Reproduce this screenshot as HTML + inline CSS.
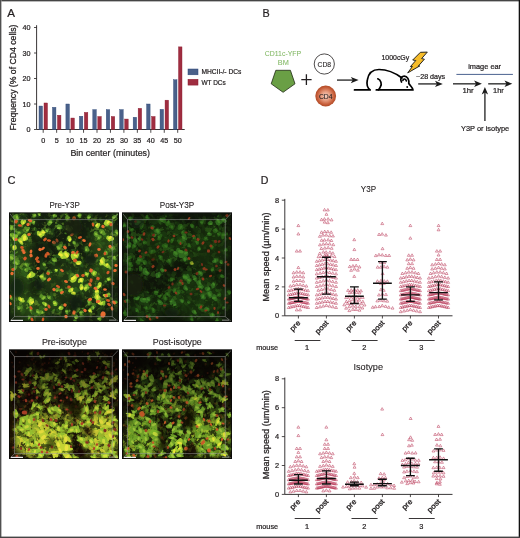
<!DOCTYPE html>
<html><head><meta charset="utf-8"><style>
html,body{margin:0;padding:0;background:#fff;}
body{width:520px;height:538px;overflow:hidden;position:relative;}
svg{position:absolute;left:0;top:0;}
svg text{font-family:"Liberation Sans", sans-serif;}
svg{will-change:transform;}
</style></head><body>
<svg width="520" height="538" viewBox="0 0 520 538">
<rect x="0" y="0" width="520" height="538" fill="#fff"/>
<text x="7.2" y="17" font-size="11.6" text-anchor="start" fill="#231f20" stroke="#231f20" stroke-width="0.22" >A</text>
<line x1="36.6" y1="25.2" x2="36.6" y2="129.5" stroke="#231f20" stroke-width="0.9"/>
<line x1="34.0" y1="129.50" x2="36.6" y2="129.50" stroke="#231f20" stroke-width="0.8"/>
<text x="30.6" y="132.0" font-size="7.2" text-anchor="end" fill="#231f20" stroke="#231f20" stroke-width="0.22" >0</text>
<line x1="34.0" y1="104.00" x2="36.6" y2="104.00" stroke="#231f20" stroke-width="0.8"/>
<text x="30.6" y="106.5" font-size="7.2" text-anchor="end" fill="#231f20" stroke="#231f20" stroke-width="0.22" >10</text>
<line x1="34.0" y1="78.50" x2="36.6" y2="78.50" stroke="#231f20" stroke-width="0.8"/>
<text x="30.6" y="81.0" font-size="7.2" text-anchor="end" fill="#231f20" stroke="#231f20" stroke-width="0.22" >20</text>
<line x1="34.0" y1="53.00" x2="36.6" y2="53.00" stroke="#231f20" stroke-width="0.8"/>
<text x="30.6" y="55.5" font-size="7.2" text-anchor="end" fill="#231f20" stroke="#231f20" stroke-width="0.22" >30</text>
<line x1="34.0" y1="27.50" x2="36.6" y2="27.50" stroke="#231f20" stroke-width="0.8"/>
<text x="30.6" y="30.0" font-size="7.2" text-anchor="end" fill="#231f20" stroke="#231f20" stroke-width="0.22" >40</text>
<line x1="36.6" y1="129.5" x2="184.7" y2="129.5" stroke="#231f20" stroke-width="0.9"/>
<rect x="39.00" y="106.04" width="3.5" height="23.46" fill="#4a618a" stroke="#2c4677" stroke-width="0.4"/>
<rect x="44.00" y="102.98" width="3.5" height="26.52" fill="#9f2d40" stroke="#8a1a2e" stroke-width="0.4"/>
<line x1="43.20" y1="129.5" x2="43.20" y2="132.8" stroke="#231f20" stroke-width="0.8"/>
<text x="43.2" y="142.5" font-size="7.2" text-anchor="middle" fill="#231f20" stroke="#231f20" stroke-width="0.22" >0</text>
<rect x="52.45" y="107.31" width="3.5" height="22.18" fill="#4a618a" stroke="#2c4677" stroke-width="0.4"/>
<rect x="57.45" y="115.22" width="3.5" height="14.28" fill="#9f2d40" stroke="#8a1a2e" stroke-width="0.4"/>
<line x1="56.65" y1="129.5" x2="56.65" y2="132.8" stroke="#231f20" stroke-width="0.8"/>
<text x="56.65" y="142.5" font-size="7.2" text-anchor="middle" fill="#231f20" stroke="#231f20" stroke-width="0.22" >5</text>
<rect x="65.90" y="104.00" width="3.5" height="25.50" fill="#4a618a" stroke="#2c4677" stroke-width="0.4"/>
<rect x="70.90" y="118.03" width="3.5" height="11.47" fill="#9f2d40" stroke="#8a1a2e" stroke-width="0.4"/>
<line x1="70.10" y1="129.5" x2="70.10" y2="132.8" stroke="#231f20" stroke-width="0.8"/>
<text x="70.1" y="142.5" font-size="7.2" text-anchor="middle" fill="#231f20" stroke="#231f20" stroke-width="0.22" >10</text>
<rect x="79.35" y="116.24" width="3.5" height="13.26" fill="#4a618a" stroke="#2c4677" stroke-width="0.4"/>
<rect x="84.35" y="112.41" width="3.5" height="17.09" fill="#9f2d40" stroke="#8a1a2e" stroke-width="0.4"/>
<line x1="83.55" y1="129.5" x2="83.55" y2="132.8" stroke="#231f20" stroke-width="0.8"/>
<text x="83.55" y="142.5" font-size="7.2" text-anchor="middle" fill="#231f20" stroke="#231f20" stroke-width="0.22" >15</text>
<rect x="92.80" y="109.61" width="3.5" height="19.89" fill="#4a618a" stroke="#2c4677" stroke-width="0.4"/>
<rect x="97.80" y="116.50" width="3.5" height="13.00" fill="#9f2d40" stroke="#8a1a2e" stroke-width="0.4"/>
<line x1="97.00" y1="129.5" x2="97.00" y2="132.8" stroke="#231f20" stroke-width="0.8"/>
<text x="97.0" y="142.5" font-size="7.2" text-anchor="middle" fill="#231f20" stroke="#231f20" stroke-width="0.22" >20</text>
<rect x="106.25" y="109.61" width="3.5" height="19.89" fill="#4a618a" stroke="#2c4677" stroke-width="0.4"/>
<rect x="111.25" y="116.50" width="3.5" height="13.00" fill="#9f2d40" stroke="#8a1a2e" stroke-width="0.4"/>
<line x1="110.45" y1="129.5" x2="110.45" y2="132.8" stroke="#231f20" stroke-width="0.8"/>
<text x="110.45" y="142.5" font-size="7.2" text-anchor="middle" fill="#231f20" stroke="#231f20" stroke-width="0.22" >25</text>
<rect x="119.70" y="109.61" width="3.5" height="19.89" fill="#4a618a" stroke="#2c4677" stroke-width="0.4"/>
<rect x="124.70" y="119.05" width="3.5" height="10.45" fill="#9f2d40" stroke="#8a1a2e" stroke-width="0.4"/>
<line x1="123.90" y1="129.5" x2="123.90" y2="132.8" stroke="#231f20" stroke-width="0.8"/>
<text x="123.9" y="142.5" font-size="7.2" text-anchor="middle" fill="#231f20" stroke="#231f20" stroke-width="0.22" >30</text>
<rect x="133.15" y="117.26" width="3.5" height="12.24" fill="#4a618a" stroke="#2c4677" stroke-width="0.4"/>
<rect x="138.15" y="108.34" width="3.5" height="21.16" fill="#9f2d40" stroke="#8a1a2e" stroke-width="0.4"/>
<line x1="137.35" y1="129.5" x2="137.35" y2="132.8" stroke="#231f20" stroke-width="0.8"/>
<text x="137.35" y="142.5" font-size="7.2" text-anchor="middle" fill="#231f20" stroke="#231f20" stroke-width="0.22" >35</text>
<rect x="146.60" y="104.00" width="3.5" height="25.50" fill="#4a618a" stroke="#2c4677" stroke-width="0.4"/>
<rect x="151.60" y="116.50" width="3.5" height="13.00" fill="#9f2d40" stroke="#8a1a2e" stroke-width="0.4"/>
<line x1="150.80" y1="129.5" x2="150.80" y2="132.8" stroke="#231f20" stroke-width="0.8"/>
<text x="150.8" y="142.5" font-size="7.2" text-anchor="middle" fill="#231f20" stroke="#231f20" stroke-width="0.22" >40</text>
<rect x="160.05" y="109.36" width="3.5" height="20.14" fill="#4a618a" stroke="#2c4677" stroke-width="0.4"/>
<rect x="165.05" y="100.17" width="3.5" height="29.32" fill="#9f2d40" stroke="#8a1a2e" stroke-width="0.4"/>
<line x1="164.25" y1="129.5" x2="164.25" y2="132.8" stroke="#231f20" stroke-width="0.8"/>
<text x="164.25" y="142.5" font-size="7.2" text-anchor="middle" fill="#231f20" stroke="#231f20" stroke-width="0.22" >45</text>
<rect x="173.50" y="79.78" width="3.5" height="49.72" fill="#4a618a" stroke="#2c4677" stroke-width="0.4"/>
<rect x="178.50" y="46.88" width="3.5" height="82.62" fill="#9f2d40" stroke="#8a1a2e" stroke-width="0.4"/>
<line x1="177.70" y1="129.5" x2="177.70" y2="132.8" stroke="#231f20" stroke-width="0.8"/>
<text x="177.7" y="142.5" font-size="7.2" text-anchor="middle" fill="#231f20" stroke="#231f20" stroke-width="0.22" >50</text>
<text x="70.4" y="156" font-size="9.6" text-anchor="start" fill="#231f20" stroke="#231f20" stroke-width="0.22" textLength="79.6" lengthAdjust="spacingAndGlyphs" >Bin center (minutes)</text>
<text transform="translate(16.3,77.5) rotate(-90)" x="0" y="0" font-size="9.6" text-anchor="middle" fill="#231f20" stroke="#231f20" stroke-width="0.28" textLength="106" lengthAdjust="spacingAndGlyphs">Frequency (% of CD4 cells)</text>
<rect x="188" y="69" width="10" height="5.8" fill="#4a618a" stroke="#2c4677" stroke-width="0.5"/>
<rect x="188" y="79.3" width="10" height="5.8" fill="#9f2d40" stroke="#8a1a2e" stroke-width="0.5"/>
<text x="201.4" y="74.2" font-size="7.2" text-anchor="start" fill="#231f20" stroke="#231f20" stroke-width="0.22" textLength="40" lengthAdjust="spacingAndGlyphs" >MHCII-/- DCs</text>
<text x="201.4" y="84.6" font-size="7.2" text-anchor="start" fill="#231f20" stroke="#231f20" stroke-width="0.22" textLength="24.4" lengthAdjust="spacingAndGlyphs" >WT DCs</text>
<text x="262.4" y="16.9" font-size="10.8" text-anchor="start" fill="#231f20" stroke="#231f20" stroke-width="0.22" >B</text>
<text x="264.8" y="55.7" font-size="7.6" text-anchor="start" fill="#82b864" stroke="#82b864" stroke-width="0.05" textLength="36.4" lengthAdjust="spacingAndGlyphs" >CD11c-YFP</text>
<text x="277.8" y="65.4" font-size="7.6" text-anchor="start" fill="#82b864" stroke="#82b864" stroke-width="0.05" textLength="11" lengthAdjust="spacingAndGlyphs" >BM</text>
<path d="M275.8,70.3 L290.4,70.3 L295,83.8 L283.1,92.3 L271.2,83.8 Z" fill="#6a9f45" stroke="#1f2a14" stroke-width="0.8" stroke-linejoin="round"/>
<path d="M301.3,79.7 H311.6 M306.4,74.3 V85" stroke="#231f20" stroke-width="1.3"/>
<circle cx="324.3" cy="64" r="10.1" fill="#fff" stroke="#231f20" stroke-width="0.8"/>
<text x="324.3" y="66.6" font-size="7.2" text-anchor="middle" fill="#231f20" stroke="#231f20" stroke-width="0.1" textLength="13.6" lengthAdjust="spacingAndGlyphs" >CD8</text>
<defs><radialGradient id="cd4g" cx="0.5" cy="0.5" r="0.5"><stop offset="0" stop-color="#f6d0c2"/><stop offset="0.4" stop-color="#e8a084"/><stop offset="0.8" stop-color="#c8603c"/><stop offset="1" stop-color="#b04a26"/></radialGradient></defs>
<circle cx="325.7" cy="96" r="10.4" fill="url(#cd4g)"/>
<text x="325.7" y="98.6" font-size="7.2" text-anchor="middle" fill="#231f20" stroke="#231f20" stroke-width="0.1" textLength="13.6" lengthAdjust="spacingAndGlyphs" >CD4</text>
<line x1="337" y1="80.1" x2="353.25" y2="80.10" stroke="#4a4a4a" stroke-width="1.6"/>
<path d="M358.6,80.1 L350.80,83.30 L352.75,80.10 L350.80,76.90 Z" fill="#1a1a1a"/>
<g fill="none" stroke="#000" stroke-width="1.7" stroke-linecap="round" stroke-linejoin="round"><path d="M354.5,89.9 H370.2 C367.5,88 366.5,84 367.3,80 C368.5,73 373,69.5 379,69.5 C388,69.5 396,73.5 402,78"/><path d="M376.3,89.9 H413 C413,88 410,85.5 408.8,83.5 C409.2,79.5 407.5,76.2 404.2,76.2 C400.8,76.2 400,79.5 401.5,82"/><path d="M377.8,78.8 C381,80 382,84 380.5,86.5 C380,88 379,89 378.5,89.9"/><path d="M402.9,80.3 C403.3,78.6 405.8,78.4 406.3,80.8"/></g>
<circle cx="407.2" cy="87" r="0.9" fill="#000"/>
<text x="381.5" y="59.6" font-size="7.2" text-anchor="start" fill="#231f20" stroke="#231f20" stroke-width="0.22" textLength="27.7" lengthAdjust="spacingAndGlyphs" >1000cGy</text>
<path d="M420.4,52.3 L427.3,52.1 L421.6,58.6 L424.4,59.2 L418.2,66.2 L419.8,65.9 L407.7,72.9 L412.4,66.5 L410.4,66.6 L415.8,60.5 L412.7,60 Z" fill="#f6bc2a" stroke="#1c1c1c" stroke-width="0.95" stroke-linejoin="miter"/>
<text x="416" y="78.7" font-size="7.2" text-anchor="start" fill="#231f20" stroke="#231f20" stroke-width="0.22" textLength="29.2" lengthAdjust="spacingAndGlyphs" >~28 days</text>
<line x1="418.2" y1="83.9" x2="437.45" y2="83.90" stroke="#4a4a4a" stroke-width="1.6"/>
<path d="M442.8,83.9 L435.00,87.10 L436.95,83.90 L435.00,80.70 Z" fill="#1a1a1a"/>
<text x="468.2" y="68.9" font-size="7.4" text-anchor="start" fill="#231f20" stroke="#231f20" stroke-width="0.22" textLength="32.9" lengthAdjust="spacingAndGlyphs" >image ear</text>
<line x1="456.4" y1="74.4" x2="512.9" y2="74.4" stroke="#4a6290" stroke-width="1"/>
<line x1="453" y1="83.8" x2="476.55" y2="83.80" stroke="#4a4a4a" stroke-width="1.6"/>
<path d="M481.9,83.8 L474.10,87.00 L476.05,83.80 L474.10,80.60 Z" fill="#1a1a1a"/>
<line x1="488.2" y1="83.8" x2="506.95" y2="83.80" stroke="#4a4a4a" stroke-width="1.6"/>
<path d="M512.3,83.8 L504.50,87.00 L506.45,83.80 L504.50,80.60 Z" fill="#1a1a1a"/>
<text x="462.4" y="93.4" font-size="7.4" text-anchor="start" fill="#231f20" stroke="#231f20" stroke-width="0.22" textLength="11.2" lengthAdjust="spacingAndGlyphs" >1hr</text>
<text x="493" y="93.4" font-size="7.4" text-anchor="start" fill="#231f20" stroke="#231f20" stroke-width="0.22" textLength="10.8" lengthAdjust="spacingAndGlyphs" >1hr</text>
<line x1="484.9" y1="121" x2="484.90" y2="92.10" stroke="#4a4a4a" stroke-width="1.6"/>
<path d="M484.9,86.9 L488.10,94.50 L484.90,92.60 L481.70,94.50 Z" fill="#1a1a1a"/>
<text x="461" y="130.8" font-size="7.4" text-anchor="start" fill="#231f20" stroke="#231f20" stroke-width="0.22" textLength="48.2" lengthAdjust="spacingAndGlyphs" >Y3P or isotype</text>
<text x="7.5" y="183.7" font-size="11" text-anchor="start" fill="#231f20" stroke="#231f20" stroke-width="0.22" >C</text>
<text x="64.6" y="207.7" font-size="9.2" text-anchor="middle" fill="#231f20" stroke="#231f20" stroke-width="0.12" textLength="30.3" lengthAdjust="spacingAndGlyphs" >Pre-Y3P</text>
<text x="177.0" y="207.7" font-size="9.2" text-anchor="middle" fill="#231f20" stroke="#231f20" stroke-width="0.12" textLength="34.4" lengthAdjust="spacingAndGlyphs" >Post-Y3P</text>
<text x="64.4" y="344.5" font-size="9.2" text-anchor="middle" fill="#231f20" stroke="#231f20" stroke-width="0.12" textLength="45" lengthAdjust="spacingAndGlyphs" >Pre-isotype</text>
<text x="177.3" y="344.5" font-size="9.2" text-anchor="middle" fill="#231f20" stroke="#231f20" stroke-width="0.12" textLength="49" lengthAdjust="spacingAndGlyphs" >Post-isotype</text>
<defs><filter id="tga" x="0" y="0" width="110" height="110" filterUnits="userSpaceOnUse" color-interpolation-filters="sRGB"><feTurbulence type="fractalNoise" baseFrequency="0.17" numOctaves="3" seed="5"/><feColorMatrix type="matrix" values="0 0 0 0 0.235  0 0 0 0 0.494  0 0 0 0 0.133  0 0 0 7 -3.6"/><feGaussianBlur stdDeviation="0.45"/></filter><filter id="tgb" x="0" y="0" width="110" height="110" filterUnits="userSpaceOnUse" color-interpolation-filters="sRGB"><feTurbulence type="fractalNoise" baseFrequency="0.2" numOctaves="3" seed="11"/><feColorMatrix type="matrix" values="0 0 0 0 0.384  0 0 0 0 0.682  0 0 0 0 0.173  0 0 0 8 -4.7"/><feGaussianBlur stdDeviation="0.45"/></filter><filter id="tya" x="0" y="0" width="110" height="110" filterUnits="userSpaceOnUse" color-interpolation-filters="sRGB"><feTurbulence type="fractalNoise" baseFrequency="0.17" numOctaves="3" seed="21"/><feColorMatrix type="matrix" values="0 0 0 0 0.722  0 0 0 0 0.831  0 0 0 0 0.212  0 0 0 7 -3.0"/><feGaussianBlur stdDeviation="0.45"/></filter><filter id="tyb" x="0" y="0" width="110" height="110" filterUnits="userSpaceOnUse" color-interpolation-filters="sRGB"><feTurbulence type="fractalNoise" baseFrequency="0.2" numOctaves="3" seed="27"/><feColorMatrix type="matrix" values="0 0 0 0 0.925  0 0 0 0 0.902  0 0 0 0 0.235  0 0 0 8 -4.1"/><feGaussianBlur stdDeviation="0.45"/></filter><filter id="tya2" x="0" y="0" width="110" height="110" filterUnits="userSpaceOnUse" color-interpolation-filters="sRGB"><feTurbulence type="fractalNoise" baseFrequency="0.2" numOctaves="3" seed="13"/><feColorMatrix type="matrix" values="0 0 0 0 0.518  0 0 0 0 0.706  0 0 0 0 0.188  0 0 0 8 -4.6"/><feGaussianBlur stdDeviation="0.45"/></filter><filter id="tda" x="0" y="0" width="110" height="110" filterUnits="userSpaceOnUse" color-interpolation-filters="sRGB"><feTurbulence type="fractalNoise" baseFrequency="0.17" numOctaves="3" seed="31"/><feColorMatrix type="matrix" values="0 0 0 0 0.184  0 0 0 0 0.416  0 0 0 0 0.110  0 0 0 7 -3.3"/><feGaussianBlur stdDeviation="0.45"/></filter><filter id="tdb" x="0" y="0" width="110" height="110" filterUnits="userSpaceOnUse" color-interpolation-filters="sRGB"><feTurbulence type="fractalNoise" baseFrequency="0.2" numOctaves="3" seed="37"/><feColorMatrix type="matrix" values="0 0 0 0 0.314  0 0 0 0 0.627  0 0 0 0 0.165  0 0 0 8 -4.4"/><feGaussianBlur stdDeviation="0.45"/></filter><filter id="tma" x="0" y="0" width="110" height="110" filterUnits="userSpaceOnUse" color-interpolation-filters="sRGB"><feTurbulence type="fractalNoise" baseFrequency="0.17" numOctaves="3" seed="41"/><feColorMatrix type="matrix" values="0 0 0 0 0.486  0 0 0 0 0.690  0 0 0 0 0.165  0 0 0 7 -3.3"/><feGaussianBlur stdDeviation="0.45"/></filter><filter id="tmb" x="0" y="0" width="110" height="110" filterUnits="userSpaceOnUse" color-interpolation-filters="sRGB"><feTurbulence type="fractalNoise" baseFrequency="0.2" numOctaves="3" seed="47"/><feColorMatrix type="matrix" values="0 0 0 0 0.706  0 0 0 0 0.816  0 0 0 0 0.204  0 0 0 8 -4.3"/><feGaussianBlur stdDeviation="0.45"/></filter><filter id="blur0" x="-10%" y="-10%" width="120%" height="120%"><feGaussianBlur stdDeviation="0.5"/></filter><filter id="blur1" x="-10%" y="-10%" width="120%" height="120%"><feGaussianBlur stdDeviation="0.7"/></filter><filter id="blur3" x="-30%" y="-30%" width="160%" height="160%"><feGaussianBlur stdDeviation="5"/></filter><filter id="blur2" x="-10%" y="-10%" width="120%" height="120%"><feGaussianBlur stdDeviation="1.6"/></filter></defs>
<g transform="translate(9,212.5)"><clipPath id="clipa"><rect x="0" y="0" width="110" height="109.5"/></clipPath><g clip-path="url(#clipa)"><rect x="0" y="0" width="110" height="109.5" fill="#141e0f"/><ellipse cx="10" cy="50" rx="12" ry="45" fill="#3a6a1e" opacity="0.5" filter="url(#blur3)"/><ellipse cx="60" cy="70" rx="30" ry="20" fill="#345e1c" opacity="0.35" filter="url(#blur3)"/><ellipse cx="95" cy="40" rx="15" ry="30" fill="#3a6a1e" opacity="0.45" filter="url(#blur3)"/><ellipse cx="25" cy="95" rx="25" ry="12" fill="#3a6a1e" opacity="0.45" filter="url(#blur3)"/><mask id="ma" maskUnits="userSpaceOnUse" x="0" y="0" width="110" height="109.5"><g fill="#fff" filter="url(#blur3)" opacity="0.6"><circle cx="14.0" cy="10.0" r="5.5"/><circle cx="5.0" cy="26.0" r="7.7"/><circle cx="15.0" cy="26.0" r="7.7"/><circle cx="12.0" cy="29.0" r="5.5"/><circle cx="5.0" cy="35.0" r="5.5"/><circle cx="31.0" cy="22.0" r="6.6"/><circle cx="35.0" cy="20.0" r="6.6"/><circle cx="52.0" cy="42.0" r="6.6"/><circle cx="61.5" cy="27.0" r="6.6"/><circle cx="57.0" cy="43.0" r="8.8"/><circle cx="66.0" cy="43.0" r="7.7"/><circle cx="69.5" cy="51.0" r="6.6"/><circle cx="88.0" cy="12.0" r="5.5"/><circle cx="99.0" cy="10.0" r="6.6"/><circle cx="101.0" cy="25.0" r="6.6"/><circle cx="93.0" cy="49.0" r="6.6"/><circle cx="98.0" cy="52.0" r="5.5"/><circle cx="21.5" cy="62.5" r="7.7"/><circle cx="33.0" cy="64.5" r="5.5"/><circle cx="12.0" cy="87.0" r="5.5"/><circle cx="21.0" cy="88.0" r="6.6"/><circle cx="23.0" cy="89.5" r="5.5"/><circle cx="36.0" cy="92.0" r="5.5"/><circle cx="46.0" cy="91.0" r="5.5"/><circle cx="51.0" cy="95.0" r="5.5"/><circle cx="47.0" cy="57.5" r="4.4"/><circle cx="64.5" cy="66.5" r="8.8"/><circle cx="71.5" cy="67.5" r="5.5"/><circle cx="62.5" cy="77.5" r="5.5"/><circle cx="64.5" cy="80.5" r="4.4"/><circle cx="73.0" cy="75.0" r="5.5"/><circle cx="76.0" cy="76.0" r="5.5"/><circle cx="88.0" cy="79.0" r="5.5"/><circle cx="88.5" cy="84.0" r="6.6"/><circle cx="90.0" cy="90.0" r="6.6"/><circle cx="93.0" cy="90.0" r="5.5"/><circle cx="90.5" cy="73.0" r="5.5"/><circle cx="96.5" cy="84.0" r="5.5"/><circle cx="81.0" cy="98.0" r="4.4"/><circle cx="85.0" cy="61.0" r="5.5"/><circle cx="78.0" cy="62.0" r="4.4"/><circle cx="100.0" cy="67.0" r="4.4"/><circle cx="18.0" cy="17.0" r="5.5"/><circle cx="38.0" cy="18.0" r="4.4"/><circle cx="42.0" cy="10.0" r="5.5"/><circle cx="50.0" cy="15.0" r="5.5"/><circle cx="50.0" cy="35.0" r="6.6"/><circle cx="3.0" cy="45.0" r="6.6"/><circle cx="8.0" cy="50.0" r="6.6"/><circle cx="17.0" cy="52.0" r="4.4"/><circle cx="35.0" cy="52.0" r="4.4"/><circle cx="45.0" cy="48.0" r="5.5"/><circle cx="8.0" cy="5.0" r="6.6"/><circle cx="26.0" cy="3.0" r="4.4"/><circle cx="30.0" cy="2.0" r="4.4"/><circle cx="58.5" cy="16.0" r="5.5"/><circle cx="59.0" cy="6.0" r="5.5"/><circle cx="87.0" cy="22.0" r="5.5"/><circle cx="93.0" cy="20.0" r="5.5"/><circle cx="90.0" cy="25.0" r="4.4"/><circle cx="77.0" cy="37.0" r="5.5"/><circle cx="65.0" cy="30.0" r="4.4"/><circle cx="103.0" cy="35.0" r="4.4"/><circle cx="97.0" cy="40.0" r="4.4"/><circle cx="6.0" cy="56.0" r="4.4"/><circle cx="17.0" cy="57.0" r="4.4"/><circle cx="39.0" cy="60.0" r="4.4"/><circle cx="35.0" cy="67.0" r="5.5"/><circle cx="34.0" cy="85.0" r="5.5"/><circle cx="40.0" cy="85.0" r="4.4"/><circle cx="48.0" cy="78.0" r="4.4"/><circle cx="52.0" cy="78.0" r="4.4"/><circle cx="22.0" cy="97.0" r="4.4"/><circle cx="29.0" cy="100.0" r="5.5"/><circle cx="33.0" cy="100.0" r="4.4"/><circle cx="2.0" cy="85.0" r="4.4"/><circle cx="10.0" cy="96.0" r="4.4"/><circle cx="20.0" cy="105.0" r="3.3"/><circle cx="44.0" cy="100.0" r="4.4"/><circle cx="77.5" cy="73.5" r="4.4"/><circle cx="79.0" cy="75.0" r="4.4"/><circle cx="80.0" cy="90.0" r="4.4"/><circle cx="84.0" cy="95.0" r="4.4"/><circle cx="72.0" cy="100.0" r="4.4"/><circle cx="90.0" cy="106.0" r="4.4"/><circle cx="58.0" cy="99.0" r="4.4"/><circle cx="67.0" cy="105.0" r="4.4"/><circle cx="70.0" cy="96.0" r="4.4"/><circle cx="100.0" cy="82.0" r="4.4"/><circle cx="107.0" cy="90.0" r="4.4"/><circle cx="3.0" cy="15.0" r="5.5"/><circle cx="2.0" cy="22.0" r="5.5"/><circle cx="10.0" cy="20.0" r="4.4"/><circle cx="25.0" cy="10.0" r="4.4"/><circle cx="45.0" cy="3.0" r="4.4"/><circle cx="70.0" cy="3.0" r="4.4"/><circle cx="80.0" cy="5.0" r="4.4"/><circle cx="105.0" cy="5.0" r="4.4"/><circle cx="108.0" cy="20.0" r="4.4"/><circle cx="106.0" cy="45.0" r="5.5"/><circle cx="100.0" cy="55.0" r="4.4"/></g></mask><rect width="110" height="109.5" filter="url(#tga)" mask="url(#ma)" opacity="1"/><rect width="110" height="109.5" filter="url(#tya2)" mask="url(#ma)" opacity="1"/><path fill="#3b7420" opacity="0.22" filter="url(#blur2)" d="M16.5,6.5A3.1,2.6,139,1,0,11.8,10.5A3.1,2.6,139,1,0,16.5,6.5ZM14.9,6.4A3.5,2.0,75,1,0,16.7,13.2A3.5,2.0,75,1,0,14.9,6.4ZM10.9,25.8A6.0,3.9,147,1,0,0.7,32.4A6.0,3.9,147,1,0,10.9,25.8ZM9.2,18.6A5.0,4.1,117,1,0,4.7,27.5A5.0,4.1,117,1,0,9.2,18.6ZM17.2,18.2A4.8,2.5,79,1,0,19.1,27.7A4.8,2.5,79,1,0,17.2,18.2ZM11.4,20.8A5.5,3.1,48,1,0,18.8,28.9A5.5,3.1,48,1,0,11.4,20.8ZM11.4,26.0A3.0,2.4,102,1,0,10.1,31.9A3.0,2.4,102,1,0,11.4,26.0ZM7.3,26.6A3.5,2.2,38,1,0,12.8,30.9A3.5,2.2,38,1,0,7.3,26.6ZM2.9,31.5A3.4,1.9,86,1,0,3.3,38.3A3.4,1.9,86,1,0,2.9,31.5ZM3.7,33.3A3.8,2.0,55,1,0,8.1,39.5A3.8,2.0,55,1,0,3.7,33.3ZM28.4,18.4A4.3,3.0,33,1,0,35.6,23.0A4.3,3.0,33,1,0,28.4,18.4ZM27.0,18.5A4.9,2.4,73,1,0,29.9,27.9A4.9,2.4,73,1,0,27.0,18.5ZM31.2,19.5A4.7,3.5,34,1,0,38.9,24.8A4.7,3.5,34,1,0,31.2,19.5ZM35.4,16.5A4.8,3.4,70,1,0,38.8,25.6A4.8,3.4,70,1,0,35.4,16.5ZM58.1,44.1A5.3,2.8,180,1,0,47.6,44.1A5.3,2.8,180,1,0,58.1,44.1ZM52.7,37.0A5.6,2.6,104,1,0,49.9,47.8A5.6,2.6,104,1,0,52.7,37.0ZM61.8,22.5A5.2,3.2,95,1,0,61.0,32.9A5.2,3.2,95,1,0,61.8,22.5ZM63.6,20.5A3.9,3.2,77,1,0,65.4,28.1A3.9,3.2,77,1,0,63.6,20.5ZM54.3,38.0A6.0,4.4,85,1,0,55.2,50.0A6.0,4.4,85,1,0,54.3,38.0ZM66.7,43.7A6.5,3.2,172,1,0,53.8,45.5A6.5,3.2,172,1,0,66.7,43.7ZM66.6,36.8A5.7,2.7,99,1,0,64.8,48.0A5.7,2.7,99,1,0,66.6,36.8ZM65.6,37.2A6.5,2.9,117,1,0,59.6,48.7A6.5,2.9,117,1,0,65.6,37.2ZM75.9,47.5A4.9,3.0,155,1,0,66.9,51.6A4.9,3.0,155,1,0,75.9,47.5ZM75.5,50.4A4.4,2.8,152,1,0,67.6,54.5A4.4,2.8,152,1,0,75.5,50.4ZM85.3,9.8A3.0,2.7,59,1,0,88.5,15.0A3.0,2.7,59,1,0,85.3,9.8ZM85.9,9.9A4.7,2.8,26,1,0,94.4,14.0A4.7,2.8,26,1,0,85.9,9.9ZM97.3,8.1A3.6,2.4,37,1,0,103.1,12.5A3.6,2.4,37,1,0,97.3,8.1ZM95.8,11.8A4.5,3.4,6,1,0,104.7,12.7A4.5,3.4,6,1,0,95.8,11.8ZM100.5,24.7A4.6,2.4,43,1,0,107.2,31.1A4.6,2.4,43,1,0,100.5,24.7ZM104.6,24.1A4.2,3.1,175,1,0,96.3,24.8A4.2,3.1,175,1,0,104.6,24.1ZM95.1,48.1A3.6,2.8,92,1,0,94.9,55.3A3.6,2.8,92,1,0,95.1,48.1ZM94.8,45.1A5.3,3.4,132,1,0,87.7,52.9A5.3,3.4,132,1,0,94.8,45.1ZM93.5,48.8A4.6,2.8,41,1,0,100.4,54.8A4.6,2.8,41,1,0,93.5,48.8ZM95.2,50.8A4.7,2.5,51,1,0,101.1,58.1A4.7,2.5,51,1,0,95.2,50.8ZM21.3,58.1A5.7,3.6,107,1,0,17.9,69.0A5.7,3.6,107,1,0,21.3,58.1ZM26.3,60.0A4.6,2.5,156,1,0,17.9,63.7A4.6,2.5,156,1,0,26.3,60.0ZM34.1,62.3A4.7,2.3,78,1,0,36.1,71.5A4.7,2.3,78,1,0,34.1,62.3ZM35.6,61.9A4.2,2.1,113,1,0,32.3,69.7A4.2,2.1,113,1,0,35.6,61.9ZM12.6,86.0A3.6,2.7,67,1,0,15.4,92.6A3.6,2.7,67,1,0,12.6,86.0ZM8.2,82.7A3.3,2.1,60,1,0,11.5,88.4A3.3,2.1,60,1,0,8.2,82.7ZM27.2,87.7A4.6,2.4,176,1,0,18.0,88.3A4.6,2.4,176,1,0,27.2,87.7ZM22.6,86.7A5.1,3.3,149,1,0,13.9,92.0A5.1,3.3,149,1,0,22.6,86.7ZM21.0,87.5A4.2,2.2,4,1,0,29.2,88.1A4.2,2.2,4,1,0,21.0,87.5ZM19.9,90.0A3.0,1.8,38,1,0,24.7,93.8A3.0,1.8,38,1,0,19.9,90.0ZM31.5,87.1A4.3,2.5,58,1,0,36.1,94.3A4.3,2.5,58,1,0,31.5,87.1ZM34.4,91.7A3.6,2.2,28,1,0,40.7,95.1A3.6,2.2,28,1,0,34.4,91.7ZM44.7,89.2A4.2,2.7,81,1,0,46.0,97.4A4.2,2.7,81,1,0,44.7,89.2ZM50.9,88.5A3.9,2.8,154,1,0,44.0,91.9A3.9,2.8,154,1,0,50.9,88.5ZM53.2,92.1A3.0,2.3,148,1,0,48.1,95.2A3.0,2.3,148,1,0,53.2,92.1ZM50.6,90.4A4.7,2.1,96,1,0,49.7,99.7A4.7,2.1,96,1,0,50.6,90.4ZM50.4,54.6A3.1,2.1,128,1,0,46.5,59.5A3.1,2.1,128,1,0,50.4,54.6ZM44.0,56.4A3.8,1.9,35,1,0,50.2,60.7A3.8,1.9,35,1,0,44.0,56.4ZM64.6,59.4A5.6,3.3,50,1,0,71.9,68.1A5.6,3.3,50,1,0,64.6,59.4ZM70.3,63.7A7.1,4.5,120,1,0,63.1,76.0A7.1,4.5,120,1,0,70.3,63.7ZM72.5,65.2A4.7,2.1,133,1,0,66.1,72.2A4.7,2.1,133,1,0,72.5,65.2ZM66.4,64.2A4.7,2.7,36,1,0,73.9,69.7A4.7,2.7,36,1,0,66.4,64.2ZM59.7,76.3A3.3,1.8,13,1,0,66.2,77.8A3.3,1.8,13,1,0,59.7,76.3ZM68.4,76.9A4.1,2.2,168,1,0,60.3,78.5A4.1,2.2,168,1,0,68.4,76.9ZM62.2,81.2A2.8,1.5,10,1,0,67.7,82.2A2.8,1.5,10,1,0,62.2,81.2ZM64.7,75.6A3.3,2.3,109,1,0,62.6,81.8A3.3,2.3,109,1,0,64.7,75.6ZM71.0,74.5A3.5,2.2,11,1,0,77.8,75.8A3.5,2.2,11,1,0,71.0,74.5ZM68.5,73.2A4.6,2.7,5,1,0,77.6,73.9A4.6,2.7,5,1,0,68.5,73.2ZM72.9,73.5A3.7,2.2,70,1,0,75.4,80.4A3.7,2.2,70,1,0,72.9,73.5ZM76.6,71.5A3.2,2.4,109,1,0,74.5,77.6A3.2,2.4,109,1,0,76.6,71.5ZM87.6,73.6A3.9,2.2,112,1,0,84.7,80.9A3.9,2.2,112,1,0,87.6,73.6ZM90.4,74.8A3.4,2.2,139,1,0,85.2,79.4A3.4,2.2,139,1,0,90.4,74.8ZM84.4,86.6A3.9,2.3,2,1,0,92.1,86.8A3.9,2.3,2,1,0,84.4,86.6ZM91.0,81.2A4.8,2.4,179,1,0,81.3,81.4A4.8,2.4,179,1,0,91.0,81.2ZM86.4,85.8A3.7,3.3,23,1,0,93.3,88.8A3.7,3.3,23,1,0,86.4,85.8ZM84.8,88.9A4.9,3.0,25,1,0,93.6,93.1A4.9,3.0,25,1,0,84.8,88.9ZM93.6,86.7A4.0,1.8,72,1,0,96.0,94.3A4.0,1.8,72,1,0,93.6,86.7ZM93.0,85.0A4.3,2.3,81,1,0,94.4,93.6A4.3,2.3,81,1,0,93.0,85.0ZM83.5,70.3A4.5,3.0,3,1,0,92.6,70.8A4.5,3.0,3,1,0,83.5,70.3ZM87.6,66.5A4.7,2.6,73,1,0,90.4,75.5A4.7,2.6,73,1,0,87.6,66.5ZM100.6,81.5A3.6,2.4,166,1,0,93.7,83.2A3.6,2.4,166,1,0,100.6,81.5ZM94.7,82.2A3.2,2.8,92,1,0,94.4,88.5A3.2,2.8,92,1,0,94.7,82.2ZM79.3,95.7A2.8,1.6,26,1,0,84.3,98.1A2.8,1.6,26,1,0,79.3,95.7ZM80.6,94.8A3.3,1.8,45,1,0,85.3,99.5A3.3,1.8,45,1,0,80.6,94.8ZM90.2,59.9A3.7,1.8,162,1,0,83.3,62.3A3.7,1.8,162,1,0,90.2,59.9ZM87.9,56.2A4.7,1.9,127,1,0,82.3,63.6A4.7,1.9,127,1,0,87.9,56.2ZM80.3,61.7A3.4,2.1,139,1,0,75.3,66.2A3.4,2.1,139,1,0,80.3,61.7ZM76.2,57.9A2.6,1.9,75,1,0,77.6,62.9A2.6,1.9,75,1,0,76.2,57.9ZM99.2,63.7A3.2,2.4,52,1,0,103.1,68.7A3.2,2.4,52,1,0,99.2,63.7ZM99.1,65.8A2.5,1.5,15,1,0,103.9,67.1A2.5,1.5,15,1,0,99.1,65.8ZM19.9,17.0A3.7,1.8,165,1,0,12.6,18.8A3.7,1.8,165,1,0,19.9,17.0ZM14.1,11.9A3.6,2.1,48,1,0,18.9,17.3A3.6,2.1,48,1,0,14.1,11.9ZM34.1,17.0A3.4,1.8,23,1,0,40.4,19.7A3.4,1.8,23,1,0,34.1,17.0ZM37.7,16.0A3.3,2.1,65,1,0,40.5,21.9A3.3,2.1,65,1,0,37.7,16.0ZM44.4,5.4A4.1,1.8,143,1,0,37.9,10.3A4.1,1.8,143,1,0,44.4,5.4ZM37.3,12.2A3.6,1.9,1,1,0,44.6,12.3A3.6,1.9,1,1,0,37.3,12.2ZM51.4,14.3A3.1,2.9,176,1,0,45.2,14.7A3.1,2.9,176,1,0,51.4,14.3ZM49.9,8.7A4.4,2.9,80,1,0,51.4,17.4A4.4,2.9,80,1,0,49.9,8.7ZM56.6,33.5A4.7,2.9,171,1,0,47.3,35.0A4.7,2.9,171,1,0,56.6,33.5ZM45.3,34.6A4.0,2.9,9,1,0,53.3,35.9A4.0,2.9,9,1,0,45.3,34.6ZM-2.1,45.6A3.9,3.1,5,1,0,5.6,46.4A3.9,3.1,5,1,0,-2.1,45.6ZM4.3,41.9A3.8,2.7,109,1,0,1.9,49.1A3.8,2.7,109,1,0,4.3,41.9ZM2.0,48.5A4.5,3.0,20,1,0,10.4,51.5A4.5,3.0,20,1,0,2.0,48.5ZM10.1,46.4A3.9,3.5,117,1,0,6.5,53.4A3.9,3.5,117,1,0,10.1,46.4ZM15.9,47.2A3.1,1.7,75,1,0,17.6,53.3A3.1,1.7,75,1,0,15.9,47.2ZM16.5,48.2A3.5,1.5,60,1,0,19.9,54.2A3.5,1.5,60,1,0,16.5,48.2ZM37.0,49.9A3.3,1.5,123,1,0,33.4,55.4A3.3,1.5,123,1,0,37.0,49.9ZM34.4,47.0A3.6,2.0,69,1,0,37.0,53.7A3.6,2.0,69,1,0,34.4,47.0ZM43.2,45.7A4.3,2.3,78,1,0,45.0,54.2A4.3,2.3,78,1,0,43.2,45.7ZM43.4,46.7A3.4,2.0,91,1,0,43.3,53.4A3.4,2.0,91,1,0,43.4,46.7ZM6.0,3.8A5.7,3.3,39,1,0,14.9,10.9A5.7,3.3,39,1,0,6.0,3.8ZM5.7,-2.0A4.8,3.2,65,1,0,9.8,6.6A4.8,3.2,65,1,0,5.7,-2.0ZM29.0,2.8A2.8,1.7,134,1,0,25.1,6.8A2.8,1.7,134,1,0,29.0,2.8ZM22.5,1.1A3.5,1.8,33,1,0,28.4,4.9A3.5,1.8,33,1,0,22.5,1.1ZM27.9,-1.9A3.2,1.8,85,1,0,28.5,4.5A3.2,1.8,85,1,0,27.9,-1.9ZM32.6,0.7A3.0,1.4,147,1,0,27.6,4.0A3.0,1.4,147,1,0,32.6,0.7ZM64.7,16.4A4.4,1.8,153,1,0,57.0,20.5A4.4,1.8,153,1,0,64.7,16.4ZM55.4,12.6A4.6,1.8,22,1,0,64.0,16.1A4.6,1.8,22,1,0,55.4,12.6ZM55.9,7.7A3.4,2.1,13,1,0,62.6,9.2A3.4,2.1,13,1,0,55.9,7.7ZM55.2,0.9A4.4,2.6,70,1,0,58.3,9.2A4.4,2.6,70,1,0,55.2,0.9ZM88.3,15.7A4.2,2.9,74,1,0,90.5,23.8A4.2,2.9,74,1,0,88.3,15.7ZM89.9,20.9A3.6,2.7,148,1,0,83.7,24.6A3.6,2.7,148,1,0,89.9,20.9ZM91.7,20.1A3.5,2.1,22,1,0,98.1,22.7A3.5,2.1,22,1,0,91.7,20.1ZM99.3,20.7A4.1,2.5,172,1,0,91.1,21.8A4.1,2.5,172,1,0,99.3,20.7ZM87.0,24.8A3.4,2.2,15,1,0,93.6,26.5A3.4,2.2,15,1,0,87.0,24.8ZM92.9,24.9A3.3,1.6,154,1,0,87.0,27.8A3.3,1.6,154,1,0,92.9,24.9ZM72.6,33.7A3.7,2.1,32,1,0,78.9,37.6A3.7,2.1,32,1,0,72.6,33.7ZM76.9,32.4A3.1,2.9,99,1,0,75.9,38.5A3.1,2.9,99,1,0,76.9,32.4ZM61.3,30.6A2.9,1.6,23,1,0,66.6,32.8A2.9,1.6,23,1,0,61.3,30.6ZM63.5,28.9A2.7,2.3,4,1,0,68.8,29.3A2.7,2.3,4,1,0,63.5,28.9ZM105.7,35.4A3.1,2.3,162,1,0,99.8,37.3A3.1,2.3,162,1,0,105.7,35.4ZM106.7,34.8A2.8,2.3,129,1,0,103.2,39.2A2.8,2.3,129,1,0,106.7,34.8ZM95.9,40.8A3.1,1.9,12,1,0,101.9,42.1A3.1,1.9,12,1,0,95.9,40.8ZM101.4,39.3A3.4,2.3,155,1,0,95.2,42.1A3.4,2.3,155,1,0,101.4,39.3ZM8.0,54.2A3.2,1.7,175,1,0,1.5,54.7A3.2,1.7,175,1,0,8.0,54.2ZM5.2,55.4A3.4,1.4,36,1,0,10.7,59.5A3.4,1.4,36,1,0,5.2,55.4ZM14.6,56.0A2.4,2.0,45,1,0,18.0,59.4A2.4,2.0,45,1,0,14.6,56.0ZM14.4,54.7A2.9,1.4,45,1,0,18.5,58.8A2.9,1.4,45,1,0,14.4,54.7ZM43.2,60.7A2.7,2.0,172,1,0,37.8,61.5A2.7,2.0,172,1,0,43.2,60.7ZM41.4,59.9A3.6,2.0,152,1,0,35.0,63.3A3.6,2.0,152,1,0,41.4,59.9ZM33.6,64.2A4.0,2.8,20,1,0,41.1,66.9A4.0,2.8,20,1,0,33.6,64.2ZM36.4,68.2A3.1,2.4,161,1,0,30.5,70.3A3.1,2.4,161,1,0,36.4,68.2ZM33.2,82.7A4.5,2.5,103,1,0,31.2,91.4A4.5,2.5,103,1,0,33.2,82.7ZM32.7,83.3A3.8,2.2,68,1,0,35.6,90.5A3.8,2.2,68,1,0,32.7,83.3ZM41.0,82.8A3.3,1.9,134,1,0,36.4,87.6A3.3,1.9,134,1,0,41.0,82.8ZM42.9,84.5A3.1,1.8,174,1,0,36.8,85.2A3.1,1.8,174,1,0,42.9,84.5ZM45.7,76.6A2.6,1.4,22,1,0,50.5,78.5A2.6,1.4,22,1,0,45.7,76.6ZM50.3,76.3A3.8,1.8,178,1,0,42.7,76.6A3.8,1.8,178,1,0,50.3,76.3ZM52.6,73.8A3.0,1.5,68,1,0,54.8,79.3A3.0,1.5,68,1,0,52.6,73.8ZM56.4,78.3A2.8,1.8,174,1,0,50.9,78.9A2.8,1.8,174,1,0,56.4,78.3ZM23.9,96.7A3.0,2.2,168,1,0,17.9,97.9A3.0,2.2,168,1,0,23.9,96.7ZM21.1,94.3A2.4,1.9,25,1,0,25.5,96.4A2.4,1.9,25,1,0,21.1,94.3ZM24.5,95.8A4.6,2.1,62,1,0,28.8,104.0A4.6,2.1,62,1,0,24.5,95.8ZM33.0,101.7A3.5,2.1,173,1,0,26.0,102.6A3.5,2.1,173,1,0,33.0,101.7ZM34.5,96.3A2.4,1.8,131,1,0,31.4,99.9A2.4,1.8,131,1,0,34.5,96.3ZM33.9,99.0A3.3,2.2,126,1,0,30.0,104.3A3.3,2.2,126,1,0,33.9,99.0ZM1.6,83.2A2.4,1.8,44,1,0,5.1,86.6A2.4,1.8,44,1,0,1.6,83.2ZM1.3,81.7A3.7,2.2,69,1,0,3.9,88.5A3.7,2.2,69,1,0,1.3,81.7ZM12.8,92.8A2.6,2.2,142,1,0,8.7,96.0A2.6,2.2,142,1,0,12.8,92.8ZM8.9,92.0A2.9,1.7,65,1,0,11.4,97.2A2.9,1.7,65,1,0,8.9,92.0ZM19.0,102.3A2.4,1.4,35,1,0,22.9,104.9A2.4,1.4,35,1,0,19.0,102.3ZM17.8,101.7A2.8,1.3,72,1,0,19.5,107.0A2.8,1.3,72,1,0,17.8,101.7ZM46.4,98.3A3.4,2.0,136,1,0,41.5,103.1A3.4,2.0,136,1,0,46.4,98.3ZM46.6,99.0A3.8,1.6,177,1,0,39.1,99.4A3.8,1.6,177,1,0,46.6,99.0ZM79.0,73.0A3.3,1.9,161,1,0,72.7,75.2A3.3,1.9,161,1,0,79.0,73.0ZM74.2,70.5A3.0,2.3,50,1,0,78.1,75.1A3.0,2.3,50,1,0,74.2,70.5ZM78.9,71.9A3.4,2.2,71,1,0,81.1,78.3A3.4,2.2,71,1,0,78.9,71.9ZM76.0,75.5A3.4,1.7,3,1,0,82.8,75.9A3.4,1.7,3,1,0,76.0,75.5ZM82.1,87.8A2.6,2.1,118,1,0,79.7,92.4A2.6,2.1,118,1,0,82.1,87.8ZM80.3,86.2A3.7,1.9,107,1,0,78.1,93.3A3.7,1.9,107,1,0,80.3,86.2ZM81.7,91.2A3.1,1.7,56,1,0,85.1,96.3A3.1,1.7,56,1,0,81.7,91.2ZM83.7,91.1A3.5,1.5,59,1,0,87.3,97.2A3.5,1.5,59,1,0,83.7,91.1ZM76.8,98.4A3.5,2.3,174,1,0,69.8,99.2A3.5,2.3,174,1,0,76.8,98.4ZM70.6,100.4A3.0,2.3,1,1,0,76.6,100.5A3.0,2.3,1,1,0,70.6,100.4ZM90.1,103.2A2.8,1.9,106,1,0,88.6,108.5A2.8,1.9,106,1,0,90.1,103.2ZM89.2,104.0A2.4,2.0,30,1,0,93.4,106.4A2.4,2.0,30,1,0,89.2,104.0ZM60.3,99.5A3.3,1.9,177,1,0,53.8,99.9A3.3,1.9,177,1,0,60.3,99.5ZM61.5,94.7A3.3,1.9,135,1,0,56.8,99.4A3.3,1.9,135,1,0,61.5,94.7ZM65.2,101.3A3.5,1.7,92,1,0,65.0,108.3A3.5,1.7,92,1,0,65.2,101.3ZM63.8,101.4A3.7,2.0,40,1,0,69.5,106.2A3.7,2.0,40,1,0,63.8,101.4ZM73.0,95.9A3.2,2.3,180,1,0,66.7,95.9A3.2,2.3,180,1,0,73.0,95.9ZM70.7,95.7A2.5,2.3,156,1,0,66.2,97.7A2.5,2.3,156,1,0,70.7,95.7ZM96.7,81.6A2.6,2.3,26,1,0,101.3,83.9A2.6,2.3,26,1,0,96.7,81.6ZM98.0,79.8A3.0,1.6,42,1,0,102.5,83.8A3.0,1.6,42,1,0,98.0,79.8ZM111.5,88.7A2.8,1.5,154,1,0,106.4,91.2A2.8,1.5,154,1,0,111.5,88.7ZM108.2,85.7A3.5,2.1,134,1,0,103.3,90.8A3.5,2.1,134,1,0,108.2,85.7ZM-1.7,13.0A3.8,2.0,50,1,0,3.2,19.0A3.8,2.0,50,1,0,-1.7,13.0ZM2.5,11.3A3.5,2.9,122,1,0,-1.1,17.2A3.5,2.9,122,1,0,2.5,11.3ZM6.2,20.6A4.3,2.0,133,1,0,0.3,26.9A4.3,2.0,133,1,0,6.2,20.6ZM4.7,15.8A4.7,3.0,124,1,0,-0.5,23.6A4.7,3.0,124,1,0,4.7,15.8ZM12.7,18.0A2.5,2.1,165,1,0,7.8,19.4A2.5,2.1,165,1,0,12.7,18.0ZM12.4,17.5A3.7,2.0,123,1,0,8.4,23.8A3.7,2.0,123,1,0,12.4,17.5ZM28.7,10.0A3.1,1.8,152,1,0,23.2,12.9A3.1,1.8,152,1,0,28.7,10.0ZM27.1,6.4A2.9,1.8,116,1,0,24.6,11.7A2.9,1.8,116,1,0,27.1,6.4ZM46.8,0.2A3.5,2.1,105,1,0,45.0,7.0A3.5,2.1,105,1,0,46.8,0.2ZM48.8,1.9A2.6,1.7,142,1,0,44.7,5.1A2.6,1.7,142,1,0,48.8,1.9ZM70.9,0.8A2.7,2.0,76,1,0,72.2,6.1A2.7,2.0,76,1,0,70.9,0.8ZM68.0,0.3A2.6,2.3,29,1,0,72.5,2.8A2.6,2.3,29,1,0,68.0,0.3ZM78.8,2.1A3.5,2.0,36,1,0,84.4,6.2A3.5,2.0,36,1,0,78.8,2.1ZM77.9,4.3A2.7,1.6,34,1,0,82.4,7.4A2.7,1.6,34,1,0,77.9,4.3ZM104.3,3.0A3.1,1.5,107,1,0,102.5,8.9A3.1,1.5,107,1,0,104.3,3.0ZM105.7,0.9A3.1,2.1,130,1,0,101.7,5.6A3.1,2.1,130,1,0,105.7,0.9ZM109.2,16.1A3.7,1.5,132,1,0,104.2,21.7A3.7,1.5,132,1,0,109.2,16.1ZM107.8,15.8A2.9,2.2,98,1,0,107.1,21.6A2.9,2.2,98,1,0,107.8,15.8ZM107.3,40.8A4.6,2.0,102,1,0,105.4,49.8A4.6,2.0,102,1,0,107.3,40.8ZM101.8,43.7A4.3,2.5,47,1,0,107.7,50.0A4.3,2.5,47,1,0,101.8,43.7ZM101.7,51.8A3.5,2.4,157,1,0,95.3,54.5A3.5,2.4,157,1,0,101.7,51.8ZM104.3,54.7A3.7,2.1,175,1,0,96.9,55.4A3.7,2.1,175,1,0,104.3,54.7Z"/><path fill="#5a9a2a" opacity="0.8" filter="url(#blur1)" d="M-3.0,45.1A1.8,0.8,274,1,0,-2.7,41.5A1.8,0.8,274,1,0,-3.0,45.1ZM43.3,60.3A0.9,0.6,214,1,0,41.7,59.2A0.9,0.6,214,1,0,43.3,60.3ZM67.6,109.6A1.9,0.9,215,1,0,64.6,107.5A1.9,0.9,215,1,0,67.6,109.6ZM60.7,97.2A1.1,0.8,460,1,0,60.4,99.3A1.1,0.8,460,1,0,60.7,97.2ZM50.8,94.0A1.3,0.7,111,1,0,49.9,96.4A1.3,0.7,111,1,0,50.8,94.0ZM86.7,50.1A2.0,0.9,304,1,0,88.9,46.8A2.0,0.9,304,1,0,86.7,50.1ZM68.5,99.5A1.7,0.8,301,1,0,70.2,96.6A1.7,0.8,301,1,0,68.5,99.5ZM74.0,66.6A1.1,0.7,65,1,0,75.0,68.6A1.1,0.7,65,1,0,74.0,66.6ZM5.6,50.0A1.0,0.8,156,1,0,3.8,50.8A1.0,0.8,156,1,0,5.6,50.0ZM21.3,22.4A1.5,0.8,154,1,0,18.7,23.6A1.5,0.8,154,1,0,21.3,22.4ZM89.6,86.0A1.1,0.9,385,1,0,91.7,86.9A1.1,0.9,385,1,0,89.6,86.0ZM106.5,3.1A1.5,0.8,438,1,0,107.2,6.0A1.5,0.8,438,1,0,106.5,3.1ZM12.8,15.1A1.9,0.9,284,1,0,13.7,11.4A1.9,0.9,284,1,0,12.8,15.1ZM108.7,5.8A1.8,0.6,146,1,0,105.7,7.9A1.8,0.6,146,1,0,108.7,5.8ZM21.9,94.1A1.0,0.7,216,1,0,20.4,93.0A1.0,0.7,216,1,0,21.9,94.1ZM57.5,21.6A1.2,0.6,216,1,0,55.6,20.3A1.2,0.6,216,1,0,57.5,21.6ZM18.9,51.3A1.9,1.0,97,1,0,18.5,55.0A1.9,1.0,97,1,0,18.9,51.3ZM96.5,90.9A1.9,0.7,129,1,0,94.1,93.8A1.9,0.7,129,1,0,96.5,90.9ZM108.8,42.0A1.2,0.9,410,1,0,110.2,43.8A1.2,0.9,410,1,0,108.8,42.0ZM19.2,57.3A1.3,0.7,129,1,0,17.5,59.4A1.3,0.7,129,1,0,19.2,57.3ZM8.9,39.1A1.6,0.7,147,1,0,6.1,40.9A1.6,0.7,147,1,0,8.9,39.1ZM88.4,76.4A1.8,0.9,241,1,0,86.6,73.3A1.8,0.9,241,1,0,88.4,76.4ZM61.7,13.7A1.9,0.6,414,1,0,63.9,16.7A1.9,0.6,414,1,0,61.7,13.7ZM97.9,69.6A1.3,0.9,214,1,0,95.8,68.1A1.3,0.9,214,1,0,97.9,69.6ZM20.4,54.6A1.3,0.9,450,1,0,20.4,57.1A1.3,0.9,450,1,0,20.4,54.6ZM83.3,13.4A2.0,0.8,301,1,0,85.3,10.0A2.0,0.8,301,1,0,83.3,13.4ZM72.2,96.0A1.2,0.6,362,1,0,74.6,96.1A1.2,0.6,362,1,0,72.2,96.0ZM1.5,33.4A1.2,0.6,312,1,0,3.1,31.7A1.2,0.6,312,1,0,1.5,33.4ZM19.0,56.5A2.0,0.6,372,1,0,22.9,57.3A2.0,0.6,372,1,0,19.0,56.5ZM106.2,3.0A1.0,0.9,392,1,0,107.8,4.1A1.0,0.9,392,1,0,106.2,3.0ZM17.1,96.3A1.7,1.0,325,1,0,19.9,94.3A1.7,1.0,325,1,0,17.1,96.3ZM82.9,85.3A1.7,0.7,340,1,0,86.1,84.1A1.7,0.7,340,1,0,82.9,85.3ZM107.5,1.0A1.2,0.6,410,1,0,109.0,2.8A1.2,0.6,410,1,0,107.5,1.0ZM5.2,53.3A1.5,0.5,367,1,0,8.2,53.6A1.5,0.5,367,1,0,5.2,53.3ZM100.3,44.2A1.2,0.7,168,1,0,98.0,44.7A1.2,0.7,168,1,0,100.3,44.2ZM104.5,32.9A1.9,0.7,429,1,0,105.9,36.4A1.9,0.7,429,1,0,104.5,32.9ZM22.6,86.5A1.4,0.9,404,1,0,24.6,88.5A1.4,0.9,404,1,0,22.6,86.5ZM62.5,41.1A1.6,0.5,292,1,0,63.8,38.1A1.6,0.5,292,1,0,62.5,41.1ZM10.6,24.8A1.9,0.9,78,1,0,11.4,28.5A1.9,0.9,78,1,0,10.6,24.8ZM55.9,2.5A1.2,0.6,323,1,0,57.9,1.1A1.2,0.6,323,1,0,55.9,2.5Z"/><g filter="url(#blur1)"><path fill="#5a9028" d="M18.7,16.4A2.0,1.3,112,1,0,17.1,20.2A2.0,1.3,112,1,0,18.7,16.4ZM15.5,14.4A2.2,1.3,44,1,0,18.6,17.4A2.2,1.3,44,1,0,15.5,14.4ZM20.5,14.5A2.5,1.5,128,1,0,17.4,18.5A2.5,1.5,128,1,0,20.5,14.5ZM39.1,18.0A1.7,1.1,182,1,0,35.6,17.9A1.7,1.1,182,1,0,39.1,18.0ZM39.9,16.5A1.5,0.9,148,1,0,37.4,18.1A1.5,0.9,148,1,0,39.9,16.5ZM39.3,17.8A1.5,0.9,132,1,0,37.2,20.1A1.5,0.9,132,1,0,39.3,17.8ZM42.5,8.8A2.6,1.6,136,1,0,38.8,12.3A2.6,1.6,136,1,0,42.5,8.8ZM41.5,7.3A2.0,1.3,111,1,0,40.0,11.1A2.0,1.3,111,1,0,41.5,7.3ZM41.6,7.1A2.3,1.4,87,1,0,41.8,11.7A2.3,1.4,87,1,0,41.6,7.1ZM47.1,13.6A2.0,1.2,6,1,0,51.1,14.1A2.0,1.2,6,1,0,47.1,13.6ZM51.2,12.3A2.4,1.4,90,1,0,51.3,17.0A2.4,1.4,90,1,0,51.2,12.3ZM48.7,12.4A2.3,1.4,49,1,0,51.7,15.8A2.3,1.4,49,1,0,48.7,12.4ZM48.5,34.9A2.4,1.5,-28,1,0,52.7,32.7A2.4,1.5,-28,1,0,48.5,34.9ZM48.6,33.7A2.2,1.4,1,1,0,53.1,33.7A2.2,1.4,1,1,0,48.6,33.7ZM47.9,36.7A2.2,1.4,-25,1,0,52.0,34.8A2.2,1.4,-25,1,0,47.9,36.7ZM4.5,44.4A2.5,1.5,142,1,0,0.6,47.5A2.5,1.5,142,1,0,4.5,44.4ZM1.5,41.8A3.0,1.8,88,1,0,1.7,47.7A3.0,1.8,88,1,0,1.5,41.8ZM5.2,43.3A3.1,1.9,178,1,0,-1.0,43.5A3.1,1.9,178,1,0,5.2,43.3ZM10.8,50.4A2.4,1.5,162,1,0,6.2,51.9A2.4,1.5,162,1,0,10.8,50.4ZM8.8,47.5A3.0,1.8,144,1,0,4.0,51.1A3.0,1.8,144,1,0,8.8,47.5ZM10.6,48.0A2.8,1.7,147,1,0,5.8,51.1A2.8,1.7,147,1,0,10.6,48.0ZM18.3,50.3A1.5,0.9,100,1,0,17.8,53.3A1.5,0.9,100,1,0,18.3,50.3ZM17.3,50.4A2.0,1.2,87,1,0,17.6,54.4A2.0,1.2,87,1,0,17.3,50.4ZM17.6,50.7A1.8,1.1,150,1,0,14.5,52.5A1.8,1.1,150,1,0,17.6,50.7ZM34.1,50.2A1.8,1.1,61,1,0,35.8,53.3A1.8,1.1,61,1,0,34.1,50.2ZM34.1,52.1A1.6,1.0,20,1,0,37.1,53.3A1.6,1.0,20,1,0,34.1,52.1ZM33.8,51.1A1.7,1.1,50,1,0,36.0,53.8A1.7,1.1,50,1,0,33.8,51.1ZM43.7,46.2A2.2,1.4,49,1,0,46.6,49.6A2.2,1.4,49,1,0,43.7,46.2ZM45.4,45.0A2.4,1.5,67,1,0,47.3,49.4A2.4,1.5,67,1,0,45.4,45.0ZM43.6,45.0A1.8,1.1,83,1,0,44.0,48.6A1.8,1.1,83,1,0,43.6,45.0ZM7.9,4.4A2.3,1.4,121,1,0,5.5,8.4A2.3,1.4,121,1,0,7.9,4.4ZM9.0,2.5A2.8,1.7,150,1,0,4.2,5.3A2.8,1.7,150,1,0,9.0,2.5ZM6.9,3.3A2.6,1.6,73,1,0,8.4,8.1A2.6,1.6,73,1,0,6.9,3.3ZM27.4,2.7A2.0,1.2,155,1,0,23.8,4.4A2.0,1.2,155,1,0,27.4,2.7ZM27.0,1.9A1.8,1.1,176,1,0,23.4,2.2A1.8,1.1,176,1,0,27.0,1.9ZM26.8,4.2A1.5,0.9,189,1,0,23.8,3.7A1.5,0.9,189,1,0,26.8,4.2ZM29.0,0.5A1.7,1.1,54,1,0,31.0,3.3A1.7,1.1,54,1,0,29.0,0.5ZM31.1,-0.7A1.9,1.1,110,1,0,29.8,2.8A1.9,1.1,110,1,0,31.1,-0.7ZM29.0,0.1A1.8,1.1,63,1,0,30.7,3.4A1.8,1.1,63,1,0,29.0,0.1ZM56.5,15.9A1.9,1.2,20,1,0,60.1,17.2A1.9,1.2,20,1,0,56.5,15.9ZM57.5,15.3A2.6,1.6,29,1,0,62.1,17.8A2.6,1.6,29,1,0,57.5,15.3ZM58.7,12.4A2.3,1.4,95,1,0,58.3,16.9A2.3,1.4,95,1,0,58.7,12.4ZM57.3,5.3A2.0,1.3,62,1,0,59.2,8.9A2.0,1.3,62,1,0,57.3,5.3ZM57.1,4.5A2.1,1.3,13,1,0,61.3,5.4A2.1,1.3,13,1,0,57.1,4.5ZM58.3,2.6A2.4,1.5,101,1,0,57.4,7.3A2.4,1.5,101,1,0,58.3,2.6ZM86.7,18.8A2.4,1.5,97,1,0,86.1,23.5A2.4,1.5,97,1,0,86.7,18.8ZM88.8,20.3A1.8,1.1,167,1,0,85.3,21.2A1.8,1.1,167,1,0,88.8,20.3ZM90.4,23.7A2.3,1.4,191,1,0,85.9,22.9A2.3,1.4,191,1,0,90.4,23.7ZM93.4,18.7A2.1,1.3,64,1,0,95.2,22.4A2.1,1.3,64,1,0,93.4,18.7ZM92.8,17.0A2.6,1.6,62,1,0,95.2,21.6A2.6,1.6,62,1,0,92.8,17.0ZM91.4,16.7A2.3,1.4,74,1,0,92.6,21.1A2.3,1.4,74,1,0,91.4,16.7ZM92.6,24.3A2.1,1.3,175,1,0,88.5,24.6A2.1,1.3,175,1,0,92.6,24.3ZM91.0,23.9A1.8,1.1,111,1,0,89.7,27.3A1.8,1.1,111,1,0,91.0,23.9ZM89.8,24.3A1.7,1.0,113,1,0,88.4,27.4A1.7,1.0,113,1,0,89.8,24.3ZM77.1,33.9A2.6,1.6,74,1,0,78.5,38.8A2.6,1.6,74,1,0,77.1,33.9ZM76.8,35.7A2.1,1.3,44,1,0,79.8,38.5A2.1,1.3,44,1,0,76.8,35.7ZM76.4,35.3A2.4,1.5,38,1,0,80.2,38.3A2.4,1.5,38,1,0,76.4,35.3ZM64.4,28.3A1.9,1.2,83,1,0,64.8,32.1A1.9,1.2,83,1,0,64.4,28.3ZM63.9,30.5A1.6,1.0,19,1,0,66.9,31.6A1.6,1.0,19,1,0,63.9,30.5ZM64.8,28.9A1.6,1.0,60,1,0,66.4,31.6A1.6,1.0,60,1,0,64.8,28.9ZM102.1,34.3A2.0,1.2,64,1,0,103.8,37.9A2.0,1.2,64,1,0,102.1,34.3ZM103.4,33.9A2.0,1.2,82,1,0,103.9,37.8A2.0,1.2,82,1,0,103.4,33.9ZM101.7,33.7A1.6,1.0,67,1,0,102.9,36.6A1.6,1.0,67,1,0,101.7,33.7ZM97.7,39.0A1.5,0.9,85,1,0,97.9,42.1A1.5,0.9,85,1,0,97.7,39.0ZM98.0,39.2A1.7,1.1,95,1,0,97.7,42.7A1.7,1.1,95,1,0,98.0,39.2ZM96.2,38.3A2.0,1.2,79,1,0,97.0,42.2A2.0,1.2,79,1,0,96.2,38.3ZM7.0,54.0A2.1,1.3,120,1,0,4.9,57.6A2.1,1.3,120,1,0,7.0,54.0ZM7.4,55.3A1.6,1.0,161,1,0,4.3,56.3A1.6,1.0,161,1,0,7.4,55.3ZM7.5,53.3A1.7,1.0,107,1,0,6.5,56.5A1.7,1.0,107,1,0,7.5,53.3ZM16.5,55.9A1.5,0.9,4,1,0,19.4,56.2A1.5,0.9,4,1,0,16.5,55.9ZM15.2,56.8A2.1,1.3,30,1,0,18.8,58.8A2.1,1.3,30,1,0,15.2,56.8ZM16.4,55.7A1.6,1.0,51,1,0,18.3,58.1A1.6,1.0,51,1,0,16.4,55.7ZM37.3,61.0A1.8,1.1,-14,1,0,40.8,60.1A1.8,1.1,-14,1,0,37.3,61.0ZM38.0,58.3A2.1,1.3,40,1,0,41.2,61.0A2.1,1.3,40,1,0,38.0,58.3ZM38.0,59.2A1.9,1.2,44,1,0,40.8,61.8A1.9,1.2,44,1,0,38.0,59.2ZM34.7,64.7A2.2,1.4,107,1,0,33.4,68.9A2.2,1.4,107,1,0,34.7,64.7ZM34.4,65.7A1.9,1.2,105,1,0,33.4,69.5A1.9,1.2,105,1,0,34.4,65.7ZM36.8,64.9A2.0,1.2,128,1,0,34.3,68.0A2.0,1.2,128,1,0,36.8,64.9ZM31.0,82.8A2.6,1.6,34,1,0,35.2,85.7A2.6,1.6,34,1,0,31.0,82.8ZM31.9,85.2A2.6,1.6,-7,1,0,37.0,84.6A2.6,1.6,-7,1,0,31.9,85.2ZM32.5,82.9A2.2,1.4,77,1,0,33.5,87.2A2.2,1.4,77,1,0,32.5,82.9ZM38.8,84.1A2.0,1.3,40,1,0,41.9,86.8A2.0,1.3,40,1,0,38.8,84.1ZM38.0,84.4A2.0,1.2,3,1,0,41.9,84.6A2.0,1.2,3,1,0,38.0,84.4ZM37.8,83.2A1.6,1.0,41,1,0,40.2,85.3A1.6,1.0,41,1,0,37.8,83.2ZM49.0,75.3A1.9,1.1,117,1,0,47.4,78.7A1.9,1.1,117,1,0,49.0,75.3ZM48.4,75.9A1.7,1.1,133,1,0,46.0,78.4A1.7,1.1,133,1,0,48.4,75.9ZM50.6,77.1A1.8,1.1,159,1,0,47.2,78.4A1.8,1.1,159,1,0,50.6,77.1ZM53.6,76.5A2.0,1.2,140,1,0,50.6,79.1A2.0,1.2,140,1,0,53.6,76.5ZM52.0,76.8A2.0,1.2,83,1,0,52.5,80.7A2.0,1.2,83,1,0,52.0,76.8ZM51.8,76.4A2.0,1.2,65,1,0,53.5,80.0A2.0,1.2,65,1,0,51.8,76.4ZM22.1,95.9A1.5,0.9,106,1,0,21.3,98.7A1.5,0.9,106,1,0,22.1,95.9ZM21.8,94.1A2.0,1.2,92,1,0,21.6,98.2A2.0,1.2,92,1,0,21.8,94.1ZM21.1,95.6A1.6,1.0,63,1,0,22.5,98.4A1.6,1.0,63,1,0,21.1,95.6ZM27.5,96.8A2.4,1.5,50,1,0,30.6,100.6A2.4,1.5,50,1,0,27.5,96.8ZM30.4,98.1A1.8,1.1,102,1,0,29.6,101.6A1.8,1.1,102,1,0,30.4,98.1ZM28.6,96.6A2.0,1.3,97,1,0,28.1,100.7A2.0,1.3,97,1,0,28.6,96.6ZM34.1,99.2A1.9,1.2,189,1,0,30.3,98.6A1.9,1.2,189,1,0,34.1,99.2ZM35.7,100.3A1.9,1.2,184,1,0,31.9,100.0A1.9,1.2,184,1,0,35.7,100.3ZM32.9,98.9A1.4,0.9,122,1,0,31.4,101.3A1.4,0.9,122,1,0,32.9,98.9ZM0.9,84.8A1.7,1.1,45,1,0,3.3,87.2A1.7,1.1,45,1,0,0.9,84.8ZM-0.2,85.8A1.9,1.2,-4,1,0,3.6,85.5A1.9,1.2,-4,1,0,-0.2,85.8ZM1.0,82.8A1.8,1.1,65,1,0,2.5,86.1A1.8,1.1,65,1,0,1.0,82.8ZM8.6,93.8A2.0,1.3,57,1,0,10.9,97.3A2.0,1.3,57,1,0,8.6,93.8ZM10.0,93.5A1.5,0.9,82,1,0,10.4,96.5A1.5,0.9,82,1,0,10.0,93.5ZM9.5,94.3A1.6,1.0,32,1,0,12.3,96.1A1.6,1.0,32,1,0,9.5,94.3ZM20.8,104.6A1.4,0.9,126,1,0,19.1,107.0A1.4,0.9,126,1,0,20.8,104.6ZM21.5,103.9A1.4,0.9,126,1,0,19.9,106.2A1.4,0.9,126,1,0,21.5,103.9ZM21.5,105.2A1.5,0.9,215,1,0,19.1,103.5A1.5,0.9,215,1,0,21.5,105.2ZM45.0,97.1A1.9,1.2,109,1,0,43.7,100.7A1.9,1.2,109,1,0,45.0,97.1ZM42.7,98.6A1.7,1.1,49,1,0,44.9,101.2A1.7,1.1,49,1,0,42.7,98.6ZM44.3,97.8A1.6,1.0,93,1,0,44.1,101.0A1.6,1.0,93,1,0,44.3,97.8ZM79.3,73.3A1.5,0.9,165,1,0,76.3,74.1A1.5,0.9,165,1,0,79.3,73.3ZM78.9,72.6A1.8,1.1,170,1,0,75.4,73.3A1.8,1.1,170,1,0,78.9,72.6ZM79.6,71.6A2.1,1.3,137,1,0,76.6,74.4A2.1,1.3,137,1,0,79.6,71.6ZM79.5,74.3A1.5,0.9,165,1,0,76.7,75.1A1.5,0.9,165,1,0,79.5,74.3ZM80.0,74.9A1.7,1.0,139,1,0,77.5,77.1A1.7,1.0,139,1,0,80.0,74.9ZM80.1,74.0A1.8,1.1,138,1,0,77.5,76.4A1.8,1.1,138,1,0,80.1,74.0ZM81.8,87.8A1.6,1.0,124,1,0,80.0,90.4A1.6,1.0,124,1,0,81.8,87.8ZM78.7,87.3A1.8,1.1,74,1,0,79.7,90.8A1.8,1.1,74,1,0,78.7,87.3ZM81.1,89.3A2.0,1.2,121,1,0,79.0,92.8A2.0,1.2,121,1,0,81.1,89.3ZM82.4,94.1A1.6,1.0,70,1,0,83.5,97.0A1.6,1.0,70,1,0,82.4,94.1ZM82.5,93.6A1.9,1.2,32,1,0,85.7,95.7A1.9,1.2,32,1,0,82.5,93.6ZM83.6,94.1A1.6,1.0,77,1,0,84.4,97.2A1.6,1.0,77,1,0,83.6,94.1ZM70.2,99.5A2.0,1.2,-3,1,0,74.2,99.3A2.0,1.2,-3,1,0,70.2,99.5ZM70.9,98.8A2.0,1.2,21,1,0,74.7,100.2A2.0,1.2,21,1,0,70.9,98.8ZM70.7,99.3A1.9,1.2,61,1,0,72.6,102.6A1.9,1.2,61,1,0,70.7,99.3ZM92.2,107.6A1.7,1.0,207,1,0,89.2,106.1A1.7,1.0,207,1,0,92.2,107.6ZM92.1,104.5A1.6,1.0,138,1,0,89.8,106.6A1.6,1.0,138,1,0,92.1,104.5ZM91.8,105.2A1.8,1.1,155,1,0,88.6,106.7A1.8,1.1,155,1,0,91.8,105.2ZM58.1,97.6A2.0,1.2,96,1,0,57.7,101.5A2.0,1.2,96,1,0,58.1,97.6ZM56.1,97.9A1.8,1.1,26,1,0,59.3,99.4A1.8,1.1,26,1,0,56.1,97.9ZM56.8,98.5A1.7,1.1,48,1,0,59.1,101.0A1.7,1.1,48,1,0,56.8,98.5ZM67.2,102.4A2.0,1.2,69,1,0,68.6,106.1A2.0,1.2,69,1,0,67.2,102.4ZM65.2,105.1A2.1,1.3,-17,1,0,69.2,103.9A2.1,1.3,-17,1,0,65.2,105.1ZM65.2,104.0A1.7,1.1,7,1,0,68.7,104.4A1.7,1.1,7,1,0,65.2,104.0ZM70.8,95.7A1.5,0.9,159,1,0,68.0,96.8A1.5,0.9,159,1,0,70.8,95.7ZM71.2,95.6A2.0,1.2,149,1,0,67.8,97.6A2.0,1.2,149,1,0,71.2,95.6ZM69.2,95.0A1.6,1.0,93,1,0,69.0,98.1A1.6,1.0,93,1,0,69.2,95.0ZM99.8,81.0A1.8,1.1,85,1,0,100.1,84.5A1.8,1.1,85,1,0,99.8,81.0ZM99.3,80.9A1.9,1.2,98,1,0,98.7,84.7A1.9,1.2,98,1,0,99.3,80.9ZM99.0,80.2A1.9,1.2,54,1,0,101.2,83.3A1.9,1.2,54,1,0,99.0,80.2ZM108.6,89.4A1.9,1.1,170,1,0,104.9,90.1A1.9,1.1,170,1,0,108.6,89.4ZM106.8,89.0A1.5,0.9,121,1,0,105.3,91.5A1.5,0.9,121,1,0,106.8,89.0ZM108.2,89.1A1.8,1.1,179,1,0,104.6,89.2A1.8,1.1,179,1,0,108.2,89.1ZM0.9,12.8A2.6,1.6,67,1,0,2.9,17.5A2.6,1.6,67,1,0,0.9,12.8ZM2.1,15.7A2.2,1.4,15,1,0,6.4,16.8A2.2,1.4,15,1,0,2.1,15.7ZM0.5,13.8A2.1,1.3,2,1,0,4.7,13.9A2.1,1.3,2,1,0,0.5,13.8ZM5.4,21.6A2.2,1.4,180,1,0,1.0,21.6A2.2,1.4,180,1,0,5.4,21.6ZM5.0,22.1A2.1,1.3,146,1,0,1.4,24.5A2.1,1.3,146,1,0,5.0,22.1ZM4.1,21.6A2.2,1.4,158,1,0,0.0,23.3A2.2,1.4,158,1,0,4.1,21.6ZM12.0,20.0A2.0,1.2,159,1,0,8.2,21.4A2.0,1.2,159,1,0,12.0,20.0ZM10.0,18.7A2.0,1.3,109,1,0,8.7,22.6A2.0,1.3,109,1,0,10.0,18.7ZM11.2,19.2A1.9,1.2,136,1,0,8.4,21.9A1.9,1.2,136,1,0,11.2,19.2ZM23.3,8.5A2.0,1.3,59,1,0,25.4,12.0A2.0,1.3,59,1,0,23.3,8.5ZM22.8,8.2A2.0,1.2,45,1,0,25.6,10.9A2.0,1.2,45,1,0,22.8,8.2ZM24.6,8.0A1.7,1.0,97,1,0,24.2,11.3A1.7,1.0,97,1,0,24.6,8.0ZM43.9,3.0A2.1,1.3,9,1,0,48.0,3.6A2.1,1.3,9,1,0,43.9,3.0ZM44.2,4.9A1.7,1.0,-39,1,0,46.9,2.7A1.7,1.0,-39,1,0,44.2,4.9ZM43.8,2.1A1.7,1.0,48,1,0,46.1,4.6A1.7,1.0,48,1,0,43.8,2.1ZM69.6,0.8A1.8,1.1,44,1,0,72.1,3.3A1.8,1.1,44,1,0,69.6,0.8ZM69.3,2.0A2.0,1.2,54,1,0,71.5,5.2A2.0,1.2,54,1,0,69.3,2.0ZM70.0,1.0A1.8,1.1,76,1,0,70.9,4.5A1.8,1.1,76,1,0,70.0,1.0ZM78.2,4.5A1.9,1.1,-3,1,0,81.9,4.3A1.9,1.1,-3,1,0,78.2,4.5ZM78.5,3.4A1.7,1.1,26,1,0,81.6,4.9A1.7,1.1,26,1,0,78.5,3.4ZM77.8,4.4A1.6,1.0,36,1,0,80.4,6.3A1.6,1.0,36,1,0,77.8,4.4ZM106.0,4.7A1.6,1.0,154,1,0,103.3,6.0A1.6,1.0,154,1,0,106.0,4.7ZM106.7,3.3A2.0,1.2,156,1,0,103.1,5.0A2.0,1.2,156,1,0,106.7,3.3ZM106.1,2.6A2.0,1.2,110,1,0,104.8,6.4A2.0,1.2,110,1,0,106.1,2.6ZM107.7,17.2A1.9,1.2,112,1,0,106.2,20.7A1.9,1.2,112,1,0,107.7,17.2ZM110.3,19.7A1.8,1.1,150,1,0,107.3,21.5A1.8,1.1,150,1,0,110.3,19.7ZM108.5,17.7A1.5,0.9,116,1,0,107.1,20.4A1.5,0.9,116,1,0,108.5,17.7ZM104.1,43.8A2.1,1.3,52,1,0,106.6,47.0A2.1,1.3,52,1,0,104.1,43.8ZM104.2,45.1A1.9,1.2,35,1,0,107.3,47.4A1.9,1.2,35,1,0,104.2,45.1ZM103.0,46.4A1.8,1.1,-17,1,0,106.5,45.3A1.8,1.1,-17,1,0,103.0,46.4ZM99.8,53.7A1.7,1.1,41,1,0,102.4,55.9A1.7,1.1,41,1,0,99.8,53.7ZM97.4,53.6A1.7,1.1,10,1,0,100.7,54.3A1.7,1.1,10,1,0,97.4,53.6ZM99.6,55.8A1.5,0.9,9,1,0,102.5,56.2A1.5,0.9,9,1,0,99.6,55.8Z"/><path fill="#84bc2c" d="M8.1,22.9A2.6,1.6,140,1,0,4.2,26.2A2.6,1.6,140,1,0,8.1,22.9ZM5.1,21.6A2.7,1.6,90,1,0,5.1,26.9A2.7,1.6,90,1,0,5.1,21.6ZM8.8,22.6A3.1,1.9,150,1,0,3.4,25.7A3.1,1.9,150,1,0,8.8,22.6ZM35.0,64.6A2.4,1.5,192,1,0,30.3,63.6A2.4,1.5,192,1,0,35.0,64.6ZM33.3,61.9A2.5,1.5,100,1,0,32.5,66.7A2.5,1.5,100,1,0,33.3,61.9ZM35.3,64.9A2.0,1.2,154,1,0,31.7,66.7A2.0,1.2,154,1,0,35.3,64.9ZM18.2,89.3A2.4,1.5,-8,1,0,23.0,88.6A2.4,1.5,-8,1,0,18.2,89.3ZM20.5,84.7A2.6,1.6,55,1,0,23.4,89.0A2.6,1.6,55,1,0,20.5,84.7ZM19.1,87.1A2.5,1.5,52,1,0,22.1,91.1A2.5,1.5,52,1,0,19.1,87.1ZM35.7,93.8A1.8,1.1,-44,1,0,38.3,91.3A1.8,1.1,-44,1,0,35.7,93.8ZM33.9,90.2A2.2,1.3,36,1,0,37.4,92.7A2.2,1.3,36,1,0,33.9,90.2ZM32.9,90.2A1.9,1.2,12,1,0,36.7,91.0A1.9,1.2,12,1,0,32.9,90.2ZM43.8,89.6A2.5,1.5,28,1,0,48.2,92.0A2.5,1.5,28,1,0,43.8,89.6ZM44.2,88.6A2.6,1.6,52,1,0,47.5,92.7A2.6,1.6,52,1,0,44.2,88.6ZM44.5,92.1A1.9,1.1,-2,1,0,48.2,92.0A1.9,1.1,-2,1,0,44.5,92.1ZM49.9,95.8A2.4,1.5,-5,1,0,54.7,95.4A2.4,1.5,-5,1,0,49.9,95.8ZM50.1,96.9A2.2,1.3,-16,1,0,54.3,95.6A2.2,1.3,-16,1,0,50.1,96.9ZM50.1,93.8A2.4,1.5,31,1,0,54.2,96.3A2.4,1.5,31,1,0,50.1,93.8ZM48.6,57.1A1.6,1.0,132,1,0,46.5,59.5A1.6,1.0,132,1,0,48.6,57.1ZM49.0,56.9A1.7,1.0,152,1,0,45.9,58.5A1.7,1.0,152,1,0,49.0,56.9ZM48.4,56.8A1.5,0.9,149,1,0,45.8,58.3A1.5,0.9,149,1,0,48.4,56.8ZM78.6,73.5A2.6,1.6,134,1,0,75.0,77.2A2.6,1.6,134,1,0,78.6,73.5ZM78.2,73.4A1.9,1.2,131,1,0,75.7,76.3A1.9,1.2,131,1,0,78.2,73.4ZM76.1,74.7A2.1,1.3,80,1,0,76.9,78.9A2.1,1.3,80,1,0,76.1,74.7ZM96.0,90.6A2.5,1.5,173,1,0,91.1,91.3A2.5,1.5,173,1,0,96.0,90.6ZM95.9,90.5A2.1,1.3,179,1,0,91.8,90.6A2.1,1.3,179,1,0,95.9,90.5ZM96.2,88.9A2.2,1.3,154,1,0,92.3,90.8A2.2,1.3,154,1,0,96.2,88.9ZM87.0,60.9A2.0,1.2,156,1,0,83.5,62.5A2.0,1.2,156,1,0,87.0,60.9ZM85.9,58.2A2.4,1.5,133,1,0,82.6,61.8A2.4,1.5,133,1,0,85.9,58.2ZM87.4,58.9A2.3,1.4,127,1,0,84.7,62.6A2.3,1.4,127,1,0,87.4,58.9ZM78.5,61.5A1.5,0.9,92,1,0,78.4,64.5A1.5,0.9,92,1,0,78.5,61.5ZM79.4,60.0A1.7,1.0,110,1,0,78.3,63.2A1.7,1.0,110,1,0,79.4,60.0ZM77.2,59.5A1.8,1.1,98,1,0,76.7,63.0A1.8,1.1,98,1,0,77.2,59.5ZM98.4,65.3A1.8,1.1,65,1,0,99.9,68.5A1.8,1.1,65,1,0,98.4,65.3ZM99.8,64.9A1.7,1.0,66,1,0,101.2,68.0A1.7,1.0,66,1,0,99.8,64.9ZM98.8,65.1A1.7,1.0,67,1,0,100.1,68.2A1.7,1.0,67,1,0,98.8,65.1Z"/><path fill="#a8d030" d="M16.6,7.4A2.4,1.5,122,1,0,14.0,11.6A2.4,1.5,122,1,0,16.6,7.4ZM13.9,7.1A2.0,1.2,116,1,0,12.1,10.7A2.0,1.2,116,1,0,13.9,7.1ZM14.4,7.7A2.4,1.5,108,1,0,12.9,12.3A2.4,1.5,108,1,0,14.4,7.7ZM15.5,21.0A3.4,2.1,85,1,0,16.1,27.8A3.4,2.1,85,1,0,15.5,21.0ZM13.9,22.9A3.2,2.0,44,1,0,18.4,27.3A3.2,2.0,44,1,0,13.9,22.9ZM14.7,22.1A3.3,2.0,92,1,0,14.5,28.6A3.3,2.0,92,1,0,14.7,22.1ZM8.7,27.7A2.1,1.3,10,1,0,12.8,28.4A2.1,1.3,10,1,0,8.7,27.7ZM10.6,26.0A2.2,1.3,54,1,0,13.1,29.5A2.2,1.3,54,1,0,10.6,26.0ZM10.5,28.6A2.4,1.5,44,1,0,14.0,31.9A2.4,1.5,44,1,0,10.5,28.6ZM5.9,32.6A2.3,1.4,79,1,0,6.8,37.2A2.3,1.4,79,1,0,5.9,32.6ZM5.5,33.0A1.9,1.2,69,1,0,6.8,36.6A1.9,1.2,69,1,0,5.5,33.0ZM5.9,33.9A2.1,1.3,111,1,0,4.4,37.8A2.1,1.3,111,1,0,5.9,33.9ZM29.1,18.3A2.4,1.5,83,1,0,29.7,23.1A2.4,1.5,83,1,0,29.1,18.3ZM31.4,18.8A2.9,1.8,84,1,0,31.9,24.6A2.9,1.8,84,1,0,31.4,18.8ZM33.2,19.7A2.8,1.8,107,1,0,31.5,25.1A2.8,1.8,107,1,0,33.2,19.7ZM34.3,18.3A2.2,1.3,111,1,0,32.7,22.4A2.2,1.3,111,1,0,34.3,18.3ZM33.6,17.0A2.8,1.7,82,1,0,34.4,22.6A2.8,1.7,82,1,0,33.6,17.0ZM32.8,18.5A2.6,1.6,71,1,0,34.5,23.4A2.6,1.6,71,1,0,32.8,18.5ZM52.4,38.7A2.4,1.5,125,1,0,49.7,42.7A2.4,1.5,125,1,0,52.4,38.7ZM53.0,40.4A3.1,1.9,84,1,0,53.6,46.5A3.1,1.9,84,1,0,53.0,40.4ZM52.1,38.3A2.6,1.6,92,1,0,51.9,43.6A2.6,1.6,92,1,0,52.1,38.3ZM58.5,24.9A2.4,1.5,47,1,0,61.8,28.4A2.4,1.5,47,1,0,58.5,24.9ZM61.0,24.2A2.5,1.5,92,1,0,60.9,29.2A2.5,1.5,92,1,0,61.0,24.2ZM59.4,23.3A2.8,1.7,66,1,0,61.7,28.4A2.8,1.7,66,1,0,59.4,23.3ZM57.2,38.6A3.4,2.1,114,1,0,54.4,44.8A3.4,2.1,114,1,0,57.2,38.6ZM60.2,40.7A4.0,2.4,146,1,0,53.6,45.1A4.0,2.4,146,1,0,60.2,40.7ZM59.7,42.4A3.4,2.1,157,1,0,53.4,45.0A3.4,2.1,157,1,0,59.7,42.4ZM63.1,40.8A3.6,2.2,73,1,0,65.2,47.7A3.6,2.2,73,1,0,63.1,40.8ZM64.4,40.5A3.3,2.0,48,1,0,68.8,45.3A3.3,2.0,48,1,0,64.4,40.5ZM64.1,41.7A3.0,1.9,13,1,0,69.9,43.1A3.0,1.9,13,1,0,64.1,41.7ZM66.2,49.7A2.6,1.6,4,1,0,71.4,50.1A2.6,1.6,4,1,0,66.2,49.7ZM66.6,51.0A3.0,1.9,-12,1,0,72.5,49.7A3.0,1.9,-12,1,0,66.6,51.0ZM67.3,50.7A2.6,1.6,-0,1,0,72.5,50.7A2.6,1.6,-0,1,0,67.3,50.7ZM90.8,11.6A2.6,1.6,155,1,0,86.1,13.8A2.6,1.6,155,1,0,90.8,11.6ZM91.1,11.6A2.2,1.3,161,1,0,87.0,12.9A2.2,1.3,161,1,0,91.1,11.6ZM90.0,11.4A2.3,1.4,119,1,0,87.8,15.3A2.3,1.4,119,1,0,90.0,11.4ZM97.6,7.2A3.0,1.8,93,1,0,97.3,13.1A3.0,1.8,93,1,0,97.6,7.2ZM103.2,10.4A3.1,1.9,179,1,0,97.0,10.5A3.1,1.9,179,1,0,103.2,10.4ZM100.2,11.7A2.8,1.7,189,1,0,94.7,10.8A2.8,1.7,189,1,0,100.2,11.7ZM97.4,25.0A2.9,1.8,20,1,0,102.8,27.0A2.9,1.8,20,1,0,97.4,25.0ZM98.4,23.3A3.0,1.9,63,1,0,101.1,28.7A3.0,1.9,63,1,0,98.4,23.3ZM98.9,25.9A3.1,1.9,4,1,0,105.0,26.3A3.1,1.9,4,1,0,98.9,25.9ZM92.4,47.1A3.0,1.8,65,1,0,94.9,52.5A3.0,1.8,65,1,0,92.4,47.1ZM93.6,44.7A3.0,1.8,87,1,0,94.0,50.6A3.0,1.8,87,1,0,93.6,44.7ZM94.4,48.7A2.6,1.6,134,1,0,90.8,52.4A2.6,1.6,134,1,0,94.4,48.7ZM96.8,51.4A2.4,1.4,42,1,0,100.3,54.6A2.4,1.4,42,1,0,96.8,51.4ZM96.2,51.7A2.3,1.4,41,1,0,99.6,54.7A2.3,1.4,41,1,0,96.2,51.7ZM94.7,51.4A2.4,1.5,35,1,0,98.7,54.1A2.4,1.5,35,1,0,94.7,51.4ZM25.9,61.1A3.6,2.2,154,1,0,19.5,64.3A3.6,2.2,154,1,0,25.9,61.1ZM23.5,59.1A2.6,1.6,128,1,0,20.3,63.2A2.6,1.6,128,1,0,23.5,59.1ZM21.0,61.4A2.6,1.6,123,1,0,18.2,65.8A2.6,1.6,123,1,0,21.0,61.4ZM9.6,84.2A2.5,1.6,61,1,0,12.0,88.7A2.5,1.6,61,1,0,9.6,84.2ZM10.6,87.7A2.6,1.6,15,1,0,15.7,89.0A2.6,1.6,15,1,0,10.6,87.7ZM11.1,87.1A1.9,1.2,-11,1,0,14.8,86.4A1.9,1.2,-11,1,0,11.1,87.1ZM23.9,86.3A2.5,1.5,106,1,0,22.5,91.1A2.5,1.5,106,1,0,23.9,86.3ZM21.4,88.8A1.8,1.1,50,1,0,23.7,91.6A1.8,1.1,50,1,0,21.4,88.8ZM23.7,88.6A2.4,1.5,130,1,0,20.6,92.2A2.4,1.5,130,1,0,23.7,88.6ZM67.2,66.3A3.2,1.9,155,1,0,61.5,69.0A3.2,1.9,155,1,0,67.2,66.3ZM67.2,64.1A3.6,2.2,132,1,0,62.4,69.4A3.6,2.2,132,1,0,67.2,64.1ZM68.6,62.2A3.5,2.2,134,1,0,63.7,67.3A3.5,2.2,134,1,0,68.6,62.2ZM74.7,66.2A2.5,1.6,162,1,0,69.9,67.8A2.5,1.6,162,1,0,74.7,66.2ZM74.0,69.2A2.5,1.6,204,1,0,69.4,67.1A2.5,1.6,204,1,0,74.0,69.2ZM72.2,67.8A1.9,1.2,147,1,0,69.0,69.9A1.9,1.2,147,1,0,72.2,67.8ZM62.8,75.8A2.4,1.5,130,1,0,59.7,79.6A2.4,1.5,130,1,0,62.8,75.8ZM64.6,75.9A1.9,1.2,162,1,0,61.0,77.1A1.9,1.2,162,1,0,64.6,75.9ZM61.9,76.1A2.0,1.2,77,1,0,62.8,80.0A2.0,1.2,77,1,0,61.9,76.1ZM66.8,80.8A1.7,1.0,200,1,0,63.6,79.6A1.7,1.0,200,1,0,66.8,80.8ZM65.8,80.2A1.9,1.2,165,1,0,62.1,81.2A1.9,1.2,165,1,0,65.8,80.2ZM66.7,82.1A1.8,1.1,203,1,0,63.4,80.7A1.8,1.1,203,1,0,66.7,82.1ZM72.5,71.9A1.9,1.1,95,1,0,72.1,75.6A1.9,1.1,95,1,0,72.5,71.9ZM71.7,73.2A2.4,1.5,77,1,0,72.8,77.8A2.4,1.5,77,1,0,71.7,73.2ZM71.3,71.8A2.4,1.5,54,1,0,74.2,75.7A2.4,1.5,54,1,0,71.3,71.8ZM87.6,76.3A2.1,1.3,94,1,0,87.3,80.6A2.1,1.3,94,1,0,87.6,76.3ZM88.6,77.0A2.1,1.3,86,1,0,88.9,81.2A2.1,1.3,86,1,0,88.6,77.0ZM87.8,77.0A2.0,1.2,101,1,0,87.1,80.9A2.0,1.2,101,1,0,87.8,77.0ZM88.7,80.7A3.1,1.9,109,1,0,86.6,86.5A3.1,1.9,109,1,0,88.7,80.7ZM88.1,82.7A2.2,1.4,44,1,0,91.4,85.8A2.2,1.4,44,1,0,88.1,82.7ZM87.6,80.5A2.8,1.7,96,1,0,87.0,86.1A2.8,1.7,96,1,0,87.6,80.5ZM87.6,88.7A2.3,1.4,2,1,0,92.3,88.9A2.3,1.4,2,1,0,87.6,88.7ZM89.1,89.4A2.6,1.6,34,1,0,93.4,92.3A2.6,1.6,34,1,0,89.1,89.4ZM87.8,85.7A3.0,1.9,62,1,0,90.6,91.0A3.0,1.9,62,1,0,87.8,85.7ZM89.4,70.5A2.4,1.5,63,1,0,91.6,74.8A2.4,1.5,63,1,0,89.4,70.5ZM91.4,69.8A2.5,1.5,103,1,0,90.3,74.6A2.5,1.5,103,1,0,91.4,69.8ZM90.8,72.0A2.6,1.6,119,1,0,88.3,76.6A2.6,1.6,119,1,0,90.8,72.0ZM99.2,81.3A2.0,1.2,134,1,0,96.4,84.2A2.0,1.2,134,1,0,99.2,81.3ZM97.8,83.3A2.1,1.3,193,1,0,93.7,82.4A2.1,1.3,193,1,0,97.8,83.3ZM98.4,81.6A2.2,1.4,137,1,0,95.1,84.6A2.2,1.4,137,1,0,98.4,81.6ZM78.9,98.1A1.5,0.9,-11,1,0,81.8,97.6A1.5,0.9,-11,1,0,78.9,98.1ZM80.7,95.8A1.8,1.1,64,1,0,82.3,99.1A1.8,1.1,64,1,0,80.7,95.8ZM80.6,97.5A1.7,1.1,45,1,0,83.0,99.9A1.7,1.1,45,1,0,80.6,97.5Z"/><path fill="#88bc34" d="M20.0,17.0A1.5,0.8,160,1,0,17.2,18.0A1.5,0.8,160,1,0,20.0,17.0ZM37.1,17.5A1.2,0.7,46,1,0,38.8,19.3A1.2,0.7,46,1,0,37.1,17.5ZM39.6,9.5A1.9,1.0,8,1,0,43.4,10.0A1.9,1.0,8,1,0,39.6,9.5ZM48.1,15.5A1.7,0.9,4,1,0,51.4,15.7A1.7,0.9,4,1,0,48.1,15.5ZM47.7,33.6A2.2,1.2,45,1,0,50.8,36.7A2.2,1.2,45,1,0,47.7,33.6ZM1.0,44.1A2.1,1.1,38,1,0,4.3,46.6A2.1,1.1,38,1,0,1.0,44.1ZM6.1,49.1A2.0,1.1,51,1,0,8.7,52.2A2.0,1.1,51,1,0,6.1,49.1ZM16.4,51.1A1.3,0.7,63,1,0,17.6,53.4A1.3,0.7,63,1,0,16.4,51.1ZM36.5,51.8A1.2,0.6,168,1,0,34.2,52.2A1.2,0.6,168,1,0,36.5,51.8ZM43.5,47.7A1.7,0.9,9,1,0,46.8,48.3A1.7,0.9,9,1,0,43.5,47.7ZM7.7,3.1A2.1,1.1,77,1,0,8.6,7.2A2.1,1.1,77,1,0,7.7,3.1ZM27.1,2.0A1.4,0.8,152,1,0,24.6,3.4A1.4,0.8,152,1,0,27.1,2.0ZM29.6,0.8A1.5,0.8,59,1,0,31.2,3.4A1.5,0.8,59,1,0,29.6,0.8ZM58.9,15.1A1.4,0.8,128,1,0,57.1,17.4A1.4,0.8,128,1,0,58.9,15.1ZM60.7,5.2A1.5,0.8,154,1,0,57.9,6.6A1.5,0.8,154,1,0,60.7,5.2ZM85.7,21.0A1.6,0.9,24,1,0,88.7,22.3A1.6,0.9,24,1,0,85.7,21.0ZM93.3,18.7A1.4,0.8,124,1,0,91.7,21.1A1.4,0.8,124,1,0,93.3,18.7ZM89.4,24.2A1.2,0.7,70,1,0,90.3,26.5A1.2,0.7,70,1,0,89.4,24.2ZM77.4,36.1A1.4,0.8,101,1,0,76.9,38.9A1.4,0.8,101,1,0,77.4,36.1ZM64.7,28.9A1.3,0.7,78,1,0,65.2,31.5A1.3,0.7,78,1,0,64.7,28.9ZM104.1,34.9A1.3,0.7,158,1,0,101.7,36.0A1.3,0.7,158,1,0,104.1,34.9ZM98.1,39.1A1.3,0.7,138,1,0,96.1,40.8A1.3,0.7,138,1,0,98.1,39.1ZM4.9,55.1A1.3,0.7,58,1,0,6.3,57.3A1.3,0.7,58,1,0,4.9,55.1ZM15.9,56.2A1.1,0.6,58,1,0,17.2,58.1A1.1,0.6,58,1,0,15.9,56.2ZM38.4,59.6A1.2,0.6,15,1,0,40.6,60.2A1.2,0.6,15,1,0,38.4,59.6ZM36.8,66.2A1.5,0.8,171,1,0,33.9,66.7A1.5,0.8,171,1,0,36.8,66.2ZM35.4,84.1A1.7,0.9,120,1,0,33.8,86.9A1.7,0.9,120,1,0,35.4,84.1ZM40.6,84.4A1.2,0.7,120,1,0,39.4,86.5A1.2,0.7,120,1,0,40.6,84.4ZM49.4,78.0A1.2,0.6,162,1,0,47.1,78.8A1.2,0.6,162,1,0,49.4,78.0ZM52.5,76.4A1.2,0.6,104,1,0,51.9,78.7A1.2,0.6,104,1,0,52.5,76.4ZM21.9,96.0A1.3,0.7,100,1,0,21.4,98.5A1.3,0.7,100,1,0,21.9,96.0ZM27.4,98.8A1.7,0.9,28,1,0,30.5,100.4A1.7,0.9,28,1,0,27.4,98.8ZM33.8,98.7A1.4,0.7,110,1,0,32.8,101.3A1.4,0.7,110,1,0,33.8,98.7ZM2.7,83.6A1.4,0.8,112,1,0,1.6,86.2A1.4,0.8,112,1,0,2.7,83.6ZM10.6,95.3A1.2,0.6,139,1,0,8.8,96.8A1.2,0.6,139,1,0,10.6,95.3ZM20.7,104.7A0.8,0.5,126,1,0,19.7,106.0A0.8,0.5,126,1,0,20.7,104.7ZM44.7,99.7A1.2,0.6,146,1,0,42.8,101.0A1.2,0.6,146,1,0,44.7,99.7ZM78.8,72.3A1.2,0.6,140,1,0,77.1,73.8A1.2,0.6,140,1,0,78.8,72.3ZM78.1,74.3A1.2,0.6,32,1,0,80.1,75.6A1.2,0.6,32,1,0,78.1,74.3ZM80.1,88.3A1.3,0.7,97,1,0,79.8,90.8A1.3,0.7,97,1,0,80.1,88.3ZM84.1,93.6A1.5,0.8,81,1,0,84.6,96.6A1.5,0.8,81,1,0,84.1,93.6ZM70.5,100.0A1.2,0.6,4,1,0,72.8,100.2A1.2,0.6,4,1,0,70.5,100.0ZM91.2,106.1A1.4,0.8,175,1,0,88.4,106.4A1.4,0.8,175,1,0,91.2,106.1ZM58.7,98.7A1.2,0.6,170,1,0,56.4,99.1A1.2,0.6,170,1,0,58.7,98.7ZM66.1,104.1A1.5,0.8,65,1,0,67.3,106.8A1.5,0.8,65,1,0,66.1,104.1ZM69.3,95.4A1.2,0.6,61,1,0,70.5,97.5A1.2,0.6,61,1,0,69.3,95.4ZM99.0,81.3A1.2,0.6,14,1,0,101.2,81.8A1.2,0.6,14,1,0,99.0,81.3ZM106.2,89.2A1.2,0.6,61,1,0,107.4,91.3A1.2,0.6,61,1,0,106.2,89.2ZM3.1,13.6A1.9,1.0,107,1,0,2.0,17.2A1.9,1.0,107,1,0,3.1,13.6ZM1.2,21.2A1.5,0.8,58,1,0,2.8,23.8A1.5,0.8,58,1,0,1.2,21.2ZM10.9,19.9A1.2,0.6,165,1,0,8.6,20.6A1.2,0.6,165,1,0,10.9,19.9ZM26.1,8.6A1.5,0.8,142,1,0,23.7,10.5A1.5,0.8,142,1,0,26.1,8.6ZM45.7,1.9A1.3,0.7,132,1,0,44.0,4.0A1.3,0.7,132,1,0,45.7,1.9ZM71.5,2.6A1.5,0.8,165,1,0,68.7,3.4A1.5,0.8,165,1,0,71.5,2.6ZM78.7,5.1A1.3,0.7,2,1,0,81.2,5.2A1.3,0.7,2,1,0,78.7,5.1ZM106.3,4.8A1.4,0.7,168,1,0,103.6,5.4A1.4,0.7,168,1,0,106.3,4.8ZM106.9,19.4A1.5,0.8,44,1,0,109.0,21.4A1.5,0.8,44,1,0,106.9,19.4ZM105.8,43.4A1.5,0.8,106,1,0,105.0,46.2A1.5,0.8,106,1,0,105.8,43.4ZM99.6,54.3A1.1,0.6,44,1,0,101.3,55.9A1.1,0.6,44,1,0,99.6,54.3Z"/><path fill="#c8e03a" d="M4.2,24.6A2.0,1.1,71,1,0,5.5,28.4A2.0,1.1,71,1,0,4.2,24.6ZM34.0,64.1A1.7,0.9,179,1,0,30.7,64.1A1.7,0.9,179,1,0,34.0,64.1ZM21.9,86.6A1.9,1.0,104,1,0,21.0,90.2A1.9,1.0,104,1,0,21.9,86.6ZM36.7,90.1A1.8,0.9,94,1,0,36.5,93.7A1.8,0.9,94,1,0,36.7,90.1ZM47.4,90.4A1.5,0.8,169,1,0,44.4,91.0A1.5,0.8,169,1,0,47.4,90.4ZM52.1,94.2A1.5,0.8,142,1,0,49.7,96.2A1.5,0.8,142,1,0,52.1,94.2ZM45.7,56.7A1.3,0.7,27,1,0,48.1,57.9A1.3,0.7,27,1,0,45.7,56.7ZM77.9,74.6A1.9,1.0,148,1,0,74.7,76.6A1.9,1.0,148,1,0,77.9,74.6ZM93.9,89.4A1.8,1.0,142,1,0,91.0,91.6A1.8,1.0,142,1,0,93.9,89.4ZM85.2,58.9A1.7,0.9,101,1,0,84.6,62.3A1.7,0.9,101,1,0,85.2,58.9ZM79.0,61.2A1.4,0.8,158,1,0,76.4,62.2A1.4,0.8,158,1,0,79.0,61.2ZM98.5,66.0A1.3,0.7,38,1,0,100.6,67.6A1.3,0.7,38,1,0,98.5,66.0Z"/><path fill="#ecea3a" d="M14.9,9.0A1.5,0.8,108,1,0,13.9,11.9A1.5,0.8,108,1,0,14.9,9.0ZM15.9,22.9A2.7,1.4,97,1,0,15.3,28.2A2.7,1.4,97,1,0,15.9,22.9ZM10.4,28.3A1.7,0.9,28,1,0,13.4,29.9A1.7,0.9,28,1,0,10.4,28.3ZM4.5,32.7A1.8,1.0,92,1,0,4.4,36.3A1.8,1.0,92,1,0,4.5,32.7ZM32.7,21.4A1.7,0.9,157,1,0,29.6,22.7A1.7,0.9,157,1,0,32.7,21.4ZM32.3,19.8A2.2,1.2,1,1,0,36.7,19.9A2.2,1.2,1,1,0,32.3,19.8ZM49.5,41.4A2.3,1.2,24,1,0,53.6,43.3A2.3,1.2,24,1,0,49.5,41.4ZM61.8,26.2A1.7,0.9,128,1,0,59.7,28.8A1.7,0.9,128,1,0,61.8,26.2ZM55.8,40.2A2.8,1.5,53,1,0,59.2,44.7A2.8,1.5,53,1,0,55.8,40.2ZM64.5,42.3A2.1,1.1,19,1,0,68.5,43.7A2.1,1.1,19,1,0,64.5,42.3ZM67.5,51.0A1.8,1.0,3,1,0,71.2,51.2A1.8,1.0,3,1,0,67.5,51.0ZM88.5,10.8A1.6,0.9,109,1,0,87.5,13.9A1.6,0.9,109,1,0,88.5,10.8ZM100.4,8.0A2.0,1.1,127,1,0,97.9,11.2A2.0,1.1,127,1,0,100.4,8.0ZM102.5,23.8A2.0,1.1,140,1,0,99.5,26.3A2.0,1.1,140,1,0,102.5,23.8ZM91.4,47.1A2.3,1.2,59,1,0,93.8,50.9A2.3,1.2,59,1,0,91.4,47.1ZM99.3,51.1A1.5,0.8,143,1,0,96.9,53.0A1.5,0.8,143,1,0,99.3,51.1ZM21.4,60.6A2.1,1.1,108,1,0,20.1,64.6A2.1,1.1,108,1,0,21.4,60.6ZM11.3,84.8A1.9,1.0,72,1,0,12.5,88.5A1.9,1.0,72,1,0,11.3,84.8ZM25.0,88.8A1.9,1.0,146,1,0,21.9,91.0A1.9,1.0,146,1,0,25.0,88.8ZM66.5,64.3A2.6,1.4,151,1,0,62.0,66.8A2.6,1.4,151,1,0,66.5,64.3ZM71.4,65.8A1.9,1.0,73,1,0,72.5,69.3A1.9,1.0,73,1,0,71.4,65.8ZM62.9,76.1A1.5,0.8,81,1,0,63.3,79.1A1.5,0.8,81,1,0,62.9,76.1ZM63.6,79.8A1.5,0.8,30,1,0,66.2,81.2A1.5,0.8,30,1,0,63.6,79.8ZM73.8,74.2A1.8,1.0,127,1,0,71.6,77.0A1.8,1.0,127,1,0,73.8,74.2ZM89.3,78.1A1.8,0.9,161,1,0,86.0,79.3A1.8,0.9,161,1,0,89.3,78.1ZM88.1,82.4A2.1,1.1,83,1,0,88.6,86.6A2.1,1.1,83,1,0,88.1,82.4ZM88.3,88.2A1.9,1.0,60,1,0,90.3,91.6A1.9,1.0,60,1,0,88.3,88.2ZM91.6,72.3A1.6,0.8,130,1,0,89.6,74.7A1.6,0.8,130,1,0,91.6,72.3ZM95.7,82.7A1.6,0.9,27,1,0,98.5,84.2A1.6,0.9,27,1,0,95.7,82.7ZM81.2,97.3A1.3,0.7,110,1,0,80.4,99.7A1.3,0.7,110,1,0,81.2,97.3Z"/><path fill="#d05a26" d="M5.7,8.0A1.7,1.5,36,1,0,8.3,10.0A1.7,1.5,36,1,0,5.7,8.0ZM8.9,12.7A2.1,1.2,7,1,0,13.1,13.3A2.1,1.2,7,1,0,8.9,12.7ZM11.2,34.8A1.8,1.4,6,1,0,14.8,35.2A1.8,1.4,6,1,0,11.2,34.8ZM17.1,44.6A1.8,1.4,129,1,0,14.9,47.4A1.8,1.4,129,1,0,17.1,44.6ZM37.5,25.7A2.0,1.3,139,1,0,34.5,28.3A2.0,1.3,139,1,0,37.5,25.7ZM37.9,27.8A2.1,1.2,4,1,0,42.1,28.2A2.1,1.2,4,1,0,37.9,27.8ZM47.3,26.1A2.0,1.3,69,1,0,48.7,29.9A2.0,1.3,69,1,0,47.3,26.1ZM37.6,39.5A2.0,1.3,48,1,0,40.4,42.5A2.0,1.3,48,1,0,37.6,39.5ZM37.4,41.0A2.1,1.2,100,1,0,36.6,45.0A2.1,1.2,100,1,0,37.4,41.0ZM29.4,44.4A2.2,1.2,131,1,0,26.6,47.6A2.2,1.2,131,1,0,29.4,44.4ZM27.3,48.3A1.8,1.4,23,1,0,30.7,49.7A1.8,1.4,23,1,0,27.3,48.3ZM73.0,24.5A2.0,1.3,166,1,0,69.0,25.5A2.0,1.3,166,1,0,73.0,24.5ZM69.1,38.2A2.1,1.2,122,1,0,66.9,41.8A2.1,1.2,122,1,0,69.1,38.2ZM96.1,39.2A1.8,1.4,94,1,0,95.9,42.8A1.8,1.4,94,1,0,96.1,39.2ZM103.4,11.1A1.6,1.6,146,1,0,100.6,12.9A1.6,1.6,146,1,0,103.4,11.1ZM65.4,46.4A1.8,1.5,70,1,0,66.6,49.6A1.8,1.5,70,1,0,65.4,46.4ZM83.6,9.9A2.1,1.2,78,1,0,84.4,14.1A2.1,1.2,78,1,0,83.6,9.9ZM2.4,56.4A1.7,1.5,21,1,0,5.6,57.6A1.7,1.5,21,1,0,2.4,56.4ZM37.5,60.2A1.7,1.5,28,1,0,40.5,61.8A1.7,1.5,28,1,0,37.5,60.2ZM47.1,72.9A2.1,1.2,30,1,0,50.9,75.1A2.1,1.2,30,1,0,47.1,72.9ZM39.2,92.1A2.0,1.3,66,1,0,40.8,95.9A2.0,1.3,66,1,0,39.2,92.1ZM20.8,93.9A2.0,1.3,55,1,0,23.2,97.1A2.0,1.3,55,1,0,20.8,93.9ZM22.2,105.2A1.9,1.3,66,1,0,23.8,108.8A1.9,1.3,66,1,0,22.2,105.2ZM34.5,104.9A2.1,1.2,103,1,0,33.5,109.1A2.1,1.2,103,1,0,34.5,104.9ZM58.2,74.2A1.8,1.4,9,1,0,61.8,74.8A1.8,1.4,9,1,0,58.2,74.2ZM75.8,62.7A1.8,1.4,171,1,0,72.2,63.3A1.8,1.4,171,1,0,75.8,62.7ZM89.5,64.4A1.7,1.5,106,1,0,88.5,67.6A1.7,1.5,106,1,0,89.5,64.4ZM82.3,66.0A2.1,1.2,98,1,0,81.7,70.0A2.1,1.2,98,1,0,82.3,66.0ZM97.0,87.5A2.0,1.3,13,1,0,101.0,88.5A2.0,1.3,13,1,0,97.0,87.5ZM98.5,90.6A2.0,1.3,43,1,0,101.5,93.4A2.0,1.3,43,1,0,98.5,90.6ZM100.0,58.5A1.8,1.4,124,1,0,98.0,61.5A1.8,1.4,124,1,0,100.0,58.5ZM102.6,70.0A1.7,1.5,36,1,0,105.4,72.0A1.7,1.5,36,1,0,102.6,70.0Z"/><path fill="#e86c30" d="M19.1,7.0A2.2,1.2,28,1,0,22.9,9.0A2.2,1.2,28,1,0,19.1,7.0ZM20.6,11.7A1.6,1.6,170,1,0,17.4,12.3A1.6,1.6,170,1,0,20.6,11.7ZM8.7,26.3A1.8,1.4,157,1,0,5.3,27.7A1.8,1.4,157,1,0,8.7,26.3ZM16.6,39.4A1.7,1.5,159,1,0,13.4,40.6A1.7,1.5,159,1,0,16.6,39.4ZM21.8,21.8A1.8,1.4,174,1,0,18.2,22.2A1.8,1.4,174,1,0,21.8,21.8ZM43.2,29.2A2.0,1.3,25,1,0,46.8,30.8A2.0,1.3,25,1,0,43.2,29.2ZM29.7,36.0A1.6,1.6,39,1,0,32.3,38.0A1.6,1.6,39,1,0,29.7,36.0ZM35.5,34.5A2.1,1.2,137,1,0,32.5,37.5A2.1,1.2,137,1,0,35.5,34.5ZM22.3,37.0A2.0,1.3,99,1,0,21.7,41.0A2.0,1.3,99,1,0,22.3,37.0ZM21.2,41.4A1.8,1.4,63,1,0,22.8,44.6A1.8,1.4,63,1,0,21.2,41.4ZM12.2,37.9A1.8,1.4,2,1,0,15.8,38.1A1.8,1.4,2,1,0,12.2,37.9ZM66.2,4.6A1.9,1.4,130,1,0,63.8,7.4A1.9,1.4,130,1,0,66.2,4.6ZM64.5,20.7A1.9,1.3,139,1,0,61.5,23.3A1.9,1.3,139,1,0,64.5,20.7ZM73.3,27.3A1.8,1.4,23,1,0,76.7,28.7A1.8,1.4,23,1,0,73.3,27.3ZM81.6,30.0A2.1,1.2,107,1,0,80.4,34.0A2.1,1.2,107,1,0,81.6,30.0ZM54.7,33.5A2.0,1.3,48,1,0,57.3,36.5A2.0,1.3,48,1,0,54.7,33.5ZM65.8,39.6A1.8,1.4,169,1,0,62.2,40.4A1.8,1.4,169,1,0,65.8,39.6ZM91.8,37.0A1.8,1.4,179,1,0,88.2,37.0A1.8,1.4,179,1,0,91.8,37.0ZM86.4,41.4A1.8,1.5,70,1,0,87.6,44.6A1.8,1.5,70,1,0,86.4,41.4ZM94.5,12.4A1.6,1.6,108,1,0,93.5,15.6A1.6,1.6,108,1,0,94.5,12.4ZM102.4,33.2A1.6,1.6,150,1,0,99.6,34.8A1.6,1.6,150,1,0,102.4,33.2ZM105.3,52.7A1.7,1.5,10,1,0,108.7,53.3A1.7,1.5,10,1,0,105.3,52.7ZM3.8,59.6A1.6,1.6,119,1,0,2.2,62.4A1.6,1.6,119,1,0,3.8,59.6ZM30.8,56.0A1.8,1.4,179,1,0,27.2,56.0A1.8,1.4,179,1,0,30.8,56.0ZM41.5,65.6A2.1,1.2,137,1,0,38.5,68.4A2.1,1.2,137,1,0,41.5,65.6ZM51.3,56.9A2.0,1.3,33,1,0,54.7,59.1A2.0,1.3,33,1,0,51.3,56.9ZM43.9,75.8A1.6,1.6,46,1,0,46.1,78.2A1.6,1.6,46,1,0,43.9,75.8ZM54.8,79.0A2.0,1.3,151,1,0,51.2,81.0A2.0,1.3,151,1,0,54.8,79.0ZM35.2,96.9A1.8,1.4,2,1,0,38.8,97.1A1.8,1.4,2,1,0,35.2,96.9ZM2.0,82.5A1.8,1.4,123,1,0,0.0,85.5A1.8,1.4,123,1,0,2.0,82.5ZM-0.3,89.6A1.9,1.4,47,1,0,2.3,92.4A1.9,1.4,47,1,0,-0.3,89.6ZM55.2,68.1A2.0,1.3,25,1,0,58.8,69.9A2.0,1.3,25,1,0,55.2,68.1ZM67.2,61.5A1.9,1.3,49,1,0,69.8,64.5A1.9,1.3,49,1,0,67.2,61.5ZM82.7,56.3A1.9,1.4,112,1,0,81.3,59.7A1.9,1.4,112,1,0,82.7,56.3ZM79.8,70.3A2.1,1.2,56,1,0,82.2,73.7A2.1,1.2,56,1,0,79.8,70.3ZM84.8,75.0A2.0,1.3,31,1,0,88.2,77.0A2.0,1.3,31,1,0,84.8,75.0ZM94.1,76.8A1.9,1.3,6,1,0,97.9,77.2A1.9,1.3,6,1,0,94.1,76.8ZM95.8,81.9A1.6,1.6,45,1,0,98.2,84.1A1.6,1.6,45,1,0,95.8,81.9ZM103.6,88.5A2.1,1.2,48,1,0,106.4,91.5A2.1,1.2,48,1,0,103.6,88.5ZM102.5,93.9A2.1,1.2,76,1,0,103.5,98.1A2.1,1.2,76,1,0,102.5,93.9ZM91.0,88.5A2.1,1.2,165,1,0,87.0,89.5A2.1,1.2,165,1,0,91.0,88.5ZM94.6,99.0A3.1,2.2,101,1,0,93.4,105.0A3.1,2.2,101,1,0,94.6,99.0ZM74.8,96.8A1.7,1.5,44,1,0,77.2,99.2A1.7,1.5,44,1,0,74.8,96.8ZM65.4,98.1A2.0,1.3,103,1,0,64.6,101.9A2.0,1.3,103,1,0,65.4,98.1ZM55.8,102.8A1.7,1.5,46,1,0,58.2,105.2A1.7,1.5,46,1,0,55.8,102.8ZM56.5,90.9A1.6,1.6,109,1,0,55.5,94.1A1.6,1.6,109,1,0,56.5,90.9ZM107.7,57.6A1.7,1.5,165,1,0,104.3,58.4A1.7,1.5,165,1,0,107.7,57.6ZM82.8,86.3A2.0,1.3,158,1,0,79.2,87.7A2.0,1.3,158,1,0,82.8,86.3Z"/></g><g fill="#141e0f" filter="url(#blur2)"><ellipse cx="64" cy="14" rx="9" ry="9" opacity="0.85"/><ellipse cx="8" cy="75" rx="7" ry="10" opacity="0.8"/><ellipse cx="30" cy="72" rx="5" ry="6" opacity="0.7"/><ellipse cx="82" cy="47" rx="6" ry="6" opacity="0.7"/><ellipse cx="67" cy="90" rx="6" ry="8" opacity="0.75"/><ellipse cx="42" cy="103" rx="6" ry="5" opacity="0.6"/><ellipse cx="47" cy="30" rx="4" ry="4" opacity="0.5"/></g><g stroke="#9a9a9a" stroke-width="0.7" fill="none" opacity="0.75"><rect x="5.5" y="7.2" width="97.7" height="97.0"/><path d="M0,0L5.5,7.2M110,0L103.2,7.2M0,109.5L5.5,104.2M110,109.5L103.2,104.2"/></g><rect x="2" y="107.3" width="12" height="1.2" fill="#e8e8e8"/><rect x="100" y="107.1" width="7" height="1.2" fill="#bbbbbb" opacity="0.6"/></g><rect x="0.4" y="0.4" width="109.2" height="108.7" fill="none" stroke="#0a0a0a" stroke-width="0.8"/></g>
<g transform="translate(122,212.5)"><clipPath id="clipb"><rect x="0" y="0" width="110" height="109.5"/></clipPath><g clip-path="url(#clipb)"><rect x="0" y="0" width="110" height="109.5" fill="#151e0e"/><ellipse cx="40" cy="30" rx="25" ry="20" fill="#2c5a18" opacity="0.45" filter="url(#blur3)"/><ellipse cx="85" cy="35" rx="22" ry="25" fill="#2c5a18" opacity="0.45" filter="url(#blur3)"/><ellipse cx="75" cy="85" rx="30" ry="22" fill="#2c5a18" opacity="0.5" filter="url(#blur3)"/><ellipse cx="25" cy="95" rx="20" ry="12" fill="#2c5a18" opacity="0.4" filter="url(#blur3)"/><mask id="mb" maskUnits="userSpaceOnUse" x="0" y="0" width="110" height="109.5"><g fill="#fff" filter="url(#blur3)" opacity="0.6"><circle cx="16.5" cy="10.0" r="5.5"/><circle cx="8.5" cy="6.5" r="4.4"/><circle cx="2.0" cy="13.5" r="4.4"/><circle cx="36.0" cy="19.0" r="6.6"/><circle cx="13.5" cy="28.5" r="5.5"/><circle cx="6.5" cy="33.0" r="6.6"/><circle cx="17.0" cy="26.0" r="4.4"/><circle cx="53.0" cy="41.0" r="6.6"/><circle cx="33.0" cy="23.0" r="4.4"/><circle cx="7.0" cy="25.0" r="4.4"/><circle cx="62.0" cy="25.5" r="6.6"/><circle cx="58.0" cy="40.0" r="8.8"/><circle cx="64.0" cy="40.0" r="6.6"/><circle cx="63.0" cy="46.0" r="5.5"/><circle cx="93.5" cy="48.0" r="5.5"/><circle cx="99.0" cy="50.0" r="4.4"/><circle cx="89.0" cy="11.0" r="5.5"/><circle cx="97.0" cy="9.0" r="6.6"/><circle cx="101.5" cy="7.5" r="5.5"/><circle cx="87.0" cy="21.0" r="4.4"/><circle cx="77.0" cy="36.0" r="4.4"/><circle cx="24.0" cy="60.5" r="7.7"/><circle cx="36.5" cy="63.0" r="5.5"/><circle cx="15.0" cy="86.0" r="5.5"/><circle cx="22.0" cy="86.5" r="6.6"/><circle cx="26.0" cy="87.5" r="5.5"/><circle cx="38.0" cy="90.0" r="5.5"/><circle cx="49.5" cy="89.0" r="5.5"/><circle cx="53.0" cy="92.0" r="5.5"/><circle cx="41.0" cy="57.5" r="4.4"/><circle cx="64.0" cy="64.0" r="7.7"/><circle cx="67.5" cy="68.0" r="6.6"/><circle cx="72.5" cy="66.0" r="5.5"/><circle cx="78.0" cy="60.0" r="5.5"/><circle cx="77.5" cy="70.0" r="5.5"/><circle cx="78.5" cy="74.0" r="5.5"/><circle cx="64.0" cy="76.0" r="5.5"/><circle cx="86.5" cy="77.0" r="5.5"/><circle cx="88.0" cy="82.0" r="6.6"/><circle cx="91.5" cy="85.0" r="6.6"/><circle cx="91.5" cy="72.0" r="5.5"/><circle cx="72.5" cy="99.0" r="5.5"/><circle cx="90.5" cy="103.0" r="5.5"/><circle cx="81.0" cy="84.0" r="5.5"/><circle cx="85.0" cy="96.0" r="4.4"/><circle cx="59.0" cy="69.5" r="4.4"/><circle cx="60.0" cy="89.0" r="4.4"/><circle cx="20.0" cy="14.0" r="5.5"/><circle cx="25.0" cy="5.0" r="4.4"/><circle cx="40.0" cy="8.0" r="6.6"/><circle cx="46.0" cy="10.0" r="5.5"/><circle cx="50.0" cy="15.0" r="5.5"/><circle cx="10.0" cy="17.0" r="4.4"/><circle cx="31.0" cy="15.0" r="4.4"/><circle cx="37.0" cy="25.0" r="5.5"/><circle cx="12.0" cy="33.0" r="5.5"/><circle cx="22.0" cy="30.0" r="4.4"/><circle cx="30.0" cy="40.0" r="5.5"/><circle cx="44.0" cy="34.0" r="6.6"/><circle cx="50.0" cy="28.0" r="4.4"/><circle cx="6.0" cy="46.0" r="5.5"/><circle cx="17.0" cy="48.0" r="6.6"/><circle cx="22.0" cy="50.0" r="5.5"/><circle cx="38.0" cy="45.0" r="4.4"/><circle cx="47.0" cy="48.0" r="5.5"/><circle cx="8.0" cy="52.0" r="5.5"/><circle cx="59.0" cy="15.0" r="6.6"/><circle cx="61.0" cy="20.0" r="4.4"/><circle cx="72.0" cy="25.0" r="4.4"/><circle cx="70.0" cy="14.0" r="4.4"/><circle cx="80.0" cy="10.0" r="4.4"/><circle cx="94.0" cy="18.0" r="5.5"/><circle cx="96.0" cy="22.0" r="5.5"/><circle cx="102.0" cy="23.0" r="5.5"/><circle cx="75.0" cy="30.0" r="4.4"/><circle cx="84.0" cy="26.0" r="4.4"/><circle cx="90.0" cy="34.0" r="4.4"/><circle cx="104.0" cy="38.0" r="4.4"/><circle cx="58.0" cy="30.0" r="5.5"/><circle cx="67.0" cy="33.0" r="4.4"/><circle cx="19.0" cy="56.0" r="4.4"/><circle cx="8.0" cy="56.0" r="4.4"/><circle cx="35.0" cy="80.0" r="5.5"/><circle cx="38.0" cy="83.0" r="4.4"/><circle cx="43.0" cy="85.0" r="5.5"/><circle cx="46.0" cy="82.0" r="5.5"/><circle cx="31.0" cy="97.0" r="5.5"/><circle cx="24.0" cy="95.0" r="4.4"/><circle cx="15.0" cy="98.0" r="4.4"/><circle cx="27.0" cy="104.0" r="4.4"/><circle cx="20.0" cy="108.0" r="4.4"/><circle cx="5.0" cy="88.0" r="4.4"/><circle cx="3.0" cy="100.0" r="4.4"/><circle cx="10.0" cy="70.0" r="3.3"/><circle cx="50.0" cy="67.0" r="4.4"/><circle cx="53.0" cy="78.0" r="5.5"/><circle cx="90.0" cy="57.0" r="4.4"/><circle cx="100.0" cy="64.0" r="4.4"/><circle cx="97.0" cy="82.0" r="4.4"/><circle cx="107.0" cy="80.0" r="4.4"/><circle cx="102.0" cy="95.0" r="4.4"/><circle cx="66.0" cy="90.0" r="4.4"/><circle cx="78.0" cy="95.0" r="5.5"/><circle cx="70.0" cy="107.0" r="4.4"/><circle cx="95.0" cy="108.0" r="4.4"/><circle cx="56.0" cy="80.0" r="5.5"/><circle cx="70.0" cy="51.0" r="4.4"/></g></mask><rect width="110" height="109.5" filter="url(#tda)" mask="url(#mb)" opacity="1"/><rect width="110" height="109.5" filter="url(#tdb)" mask="url(#mb)" opacity="1"/><path fill="#2a5e18" opacity="0.3" filter="url(#blur2)" d="M20.0,11.2A3.0,2.3,169,1,0,14.1,12.4A3.0,2.3,169,1,0,20.0,11.2ZM15.5,9.4A3.6,2.8,16,1,0,22.4,11.5A3.6,2.8,16,1,0,15.5,9.4ZM9.1,4.7A2.5,1.8,140,1,0,5.2,8.0A2.5,1.8,140,1,0,9.1,4.7ZM12.9,6.6A3.0,2.4,155,1,0,7.5,9.2A3.0,2.4,155,1,0,12.9,6.6ZM2.2,9.1A2.8,2.0,69,1,0,4.2,14.3A2.8,2.0,69,1,0,2.2,9.1ZM4.8,12.4A2.7,1.5,159,1,0,-0.3,14.3A2.7,1.5,159,1,0,4.8,12.4ZM33.3,16.9A5.3,3.6,61,1,0,38.5,26.2A5.3,3.6,61,1,0,33.3,16.9ZM36.8,15.9A4.2,2.6,111,1,0,33.9,23.7A4.2,2.6,111,1,0,36.8,15.9ZM12.5,26.5A3.2,2.7,53,1,0,16.4,31.7A3.2,2.7,53,1,0,12.5,26.5ZM11.0,25.4A3.9,3.0,41,1,0,17.0,30.5A3.9,3.0,41,1,0,11.0,25.4ZM2.8,25.8A5.4,2.5,77,1,0,5.2,36.4A5.4,2.5,77,1,0,2.8,25.8ZM10.0,30.4A4.9,3.0,97,1,0,8.8,40.2A4.9,3.0,97,1,0,10.0,30.4ZM17.7,25.3A2.6,2.3,89,1,0,17.8,30.4A2.6,2.3,89,1,0,17.7,25.3ZM16.6,24.6A3.5,1.7,63,1,0,19.8,30.7A3.5,1.7,63,1,0,16.6,24.6ZM54.8,39.0A3.6,3.1,108,1,0,52.6,45.9A3.6,3.1,108,1,0,54.8,39.0ZM58.0,37.4A3.7,2.5,161,1,0,50.9,39.8A3.7,2.5,161,1,0,58.0,37.4ZM33.8,19.7A3.7,1.4,116,1,0,30.5,26.4A3.7,1.4,116,1,0,33.8,19.7ZM33.6,19.6A2.5,2.2,68,1,0,35.5,24.3A2.5,2.2,68,1,0,33.6,19.6ZM3.4,26.1A2.8,2.0,20,1,0,8.7,27.9A2.8,2.0,20,1,0,3.4,26.1ZM2.6,26.2A2.7,1.5,15,1,0,7.8,27.6A2.7,1.5,15,1,0,2.6,26.2ZM64.1,19.5A5.4,2.3,116,1,0,59.4,29.1A5.4,2.3,116,1,0,64.1,19.5ZM64.5,21.2A5.4,3.1,110,1,0,60.7,31.4A5.4,3.1,110,1,0,64.5,21.2ZM61.6,31.4A6.6,4.7,128,1,0,53.4,41.7A6.6,4.7,128,1,0,61.6,31.4ZM60.0,34.3A5.7,2.8,84,1,0,61.2,45.8A5.7,2.8,84,1,0,60.0,34.3ZM63.6,36.1A5.5,2.5,99,1,0,61.8,47.0A5.5,2.5,99,1,0,63.6,36.1ZM66.4,35.7A4.8,3.2,99,1,0,64.9,45.1A4.8,3.2,99,1,0,66.4,35.7ZM62.6,40.8A4.4,2.6,102,1,0,60.8,49.5A4.4,2.6,102,1,0,62.6,40.8ZM65.5,42.5A3.0,2.5,118,1,0,62.7,47.8A3.0,2.5,118,1,0,65.5,42.5ZM94.0,46.5A3.7,2.9,75,1,0,96.0,53.7A3.7,2.9,75,1,0,94.0,46.5ZM93.0,44.7A4.3,3.0,74,1,0,95.3,52.9A4.3,3.0,74,1,0,93.0,44.7ZM98.5,45.9A3.2,1.9,96,1,0,97.8,52.2A3.2,1.9,96,1,0,98.5,45.9ZM101.2,46.9A2.9,1.9,124,1,0,97.9,51.7A2.9,1.9,124,1,0,101.2,46.9ZM87.1,6.6A3.9,2.2,60,1,0,91.1,13.4A3.9,2.2,60,1,0,87.1,6.6ZM88.9,9.1A3.3,2.4,44,1,0,93.6,13.8A3.3,2.4,44,1,0,88.9,9.1ZM99.0,3.6A3.8,2.2,102,1,0,97.4,11.0A3.8,2.2,102,1,0,99.0,3.6ZM103.5,5.5A3.8,2.5,170,1,0,96.0,6.8A3.8,2.5,170,1,0,103.5,5.5ZM97.5,5.8A4.6,2.3,19,1,0,106.2,8.8A4.6,2.3,19,1,0,97.5,5.8ZM99.5,4.9A3.2,2.4,76,1,0,101.1,11.1A3.2,2.4,76,1,0,99.5,4.9ZM88.5,21.4A3.1,2.4,150,1,0,83.1,24.5A3.1,2.4,150,1,0,88.5,21.4ZM85.4,19.6A3.0,1.7,6,1,0,91.5,20.3A3.0,1.7,6,1,0,85.4,19.6ZM79.1,34.2A3.5,1.9,170,1,0,72.1,35.4A3.5,1.9,170,1,0,79.1,34.2ZM77.1,33.4A2.6,2.4,50,1,0,80.4,37.4A2.6,2.4,50,1,0,77.1,33.4ZM25.5,56.5A4.9,3.8,97,1,0,24.4,66.2A4.9,3.8,97,1,0,25.5,56.5ZM22.5,56.9A5.2,3.7,36,1,0,30.8,62.9A5.2,3.7,36,1,0,22.5,56.9ZM40.2,58.8A3.8,2.7,132,1,0,35.2,64.5A3.8,2.7,132,1,0,40.2,58.8ZM42.7,60.7A4.4,1.8,162,1,0,34.3,63.5A4.4,1.8,162,1,0,42.7,60.7ZM16.3,80.6A4.4,2.3,110,1,0,13.2,89.0A4.4,2.3,110,1,0,16.3,80.6ZM17.1,81.6A3.3,2.1,115,1,0,14.2,87.5A3.3,2.1,115,1,0,17.1,81.6ZM22.7,80.3A5.1,3.2,129,1,0,16.3,88.3A5.1,3.2,129,1,0,22.7,80.3ZM21.9,83.1A4.4,3.1,68,1,0,25.2,91.2A4.4,3.1,68,1,0,21.9,83.1ZM27.9,84.7A3.4,1.9,86,1,0,28.4,91.4A3.4,1.9,86,1,0,27.9,84.7ZM26.9,82.9A3.9,2.8,128,1,0,22.1,89.2A3.9,2.8,128,1,0,26.9,82.9ZM34.0,87.3A3.0,1.8,6,1,0,40.0,87.9A3.0,1.8,6,1,0,34.0,87.3ZM44.1,88.0A3.8,2.1,167,1,0,36.6,89.7A3.8,2.1,167,1,0,44.1,88.0ZM49.5,84.1A3.4,2.0,63,1,0,52.6,90.1A3.4,2.0,63,1,0,49.5,84.1ZM47.8,86.6A4.0,2.0,98,1,0,46.7,94.4A4.0,2.0,98,1,0,47.8,86.6ZM54.3,87.0A4.0,2.2,105,1,0,52.2,94.6A4.0,2.2,105,1,0,54.3,87.0ZM51.4,90.0A4.5,2.5,92,1,0,51.1,98.9A4.5,2.5,92,1,0,51.4,90.0ZM38.5,56.2A3.6,1.6,27,1,0,45.0,59.4A3.6,1.6,27,1,0,38.5,56.2ZM39.0,54.6A2.8,1.4,53,1,0,42.3,58.9A2.8,1.4,53,1,0,39.0,54.6ZM68.8,62.5A4.8,3.9,164,1,0,59.6,65.1A4.8,3.9,164,1,0,68.8,62.5ZM61.2,61.1A4.8,2.9,54,1,0,66.9,68.8A4.8,2.9,54,1,0,61.2,61.1ZM70.1,64.4A4.9,3.3,144,1,0,62.2,70.2A4.9,3.3,144,1,0,70.1,64.4ZM74.6,67.6A5.2,3.5,155,1,0,65.2,72.0A5.2,3.5,155,1,0,74.6,67.6ZM76.1,65.4A3.2,2.2,164,1,0,69.9,67.3A3.2,2.2,164,1,0,76.1,65.4ZM74.8,64.6A3.6,2.2,136,1,0,69.7,69.6A3.6,2.2,136,1,0,74.8,64.6ZM74.9,58.8A3.8,2.4,0,1,0,82.4,58.9A3.8,2.4,0,1,0,74.9,58.8ZM71.6,57.7A4.2,2.7,14,1,0,79.7,59.7A4.2,2.7,14,1,0,71.6,57.7ZM79.7,65.4A4.6,2.0,115,1,0,75.8,73.8A4.6,2.0,115,1,0,79.7,65.4ZM81.6,64.5A4.2,2.6,122,1,0,77.0,71.7A4.2,2.6,122,1,0,81.6,64.5ZM81.8,69.5A3.8,2.7,104,1,0,80.0,76.9A3.8,2.7,104,1,0,81.8,69.5ZM80.8,71.3A4.3,1.8,111,1,0,77.6,79.4A4.3,1.8,111,1,0,80.8,71.3ZM63.3,75.2A3.4,2.2,38,1,0,68.6,79.3A3.4,2.2,38,1,0,63.3,75.2ZM65.4,71.5A3.3,2.5,93,1,0,65.0,78.0A3.3,2.5,93,1,0,65.4,71.5ZM89.1,78.1A4.4,2.8,162,1,0,80.7,80.9A4.4,2.8,162,1,0,89.1,78.1ZM91.8,73.2A3.4,2.5,156,1,0,85.7,76.0A3.4,2.5,156,1,0,91.8,73.2ZM84.3,78.9A4.0,2.6,56,1,0,88.7,85.6A4.0,2.6,56,1,0,84.3,78.9ZM83.3,76.6A5.6,2.1,67,1,0,87.7,86.9A5.6,2.1,67,1,0,83.3,76.6ZM94.3,79.2A4.1,3.1,133,1,0,88.7,85.2A4.1,3.1,133,1,0,94.3,79.2ZM94.8,83.6A3.9,2.1,148,1,0,88.2,87.7A3.9,2.1,148,1,0,94.8,83.6ZM93.4,67.7A4.6,2.3,117,1,0,89.2,75.8A4.6,2.3,117,1,0,93.4,67.7ZM91.5,71.0A3.2,2.5,94,1,0,91.0,77.4A3.2,2.5,94,1,0,91.5,71.0ZM69.4,96.0A4.3,2.0,71,1,0,72.2,104.2A4.3,2.0,71,1,0,69.4,96.0ZM70.8,94.2A4.6,1.8,60,1,0,75.5,102.3A4.6,1.8,60,1,0,70.8,94.2ZM94.7,102.2A3.7,2.5,158,1,0,87.9,105.0A3.7,2.5,158,1,0,94.7,102.2ZM90.9,97.3A3.3,2.8,83,1,0,91.7,103.9A3.3,2.8,83,1,0,90.9,97.3ZM77.7,82.7A3.4,2.6,51,1,0,82.0,88.0A3.4,2.6,51,1,0,77.7,82.7ZM77.2,79.7A3.6,2.0,39,1,0,82.7,84.2A3.6,2.0,39,1,0,77.2,79.7ZM87.2,93.5A3.7,1.5,161,1,0,80.1,96.0A3.7,1.5,161,1,0,87.2,93.5ZM84.2,92.1A3.7,1.5,57,1,0,88.2,98.2A3.7,1.5,57,1,0,84.2,92.1ZM60.2,71.1A2.9,1.9,175,1,0,54.4,71.6A2.9,1.9,175,1,0,60.2,71.1ZM59.0,65.2A3.0,1.6,65,1,0,61.5,70.6A3.0,1.6,65,1,0,59.0,65.2ZM59.9,87.6A2.6,2.2,97,1,0,59.3,92.6A2.6,2.2,97,1,0,59.9,87.6ZM58.0,86.5A3.5,1.5,31,1,0,64.0,90.1A3.5,1.5,31,1,0,58.0,86.5ZM19.6,8.8A4.3,2.5,111,1,0,16.4,16.8A4.3,2.5,111,1,0,19.6,8.8ZM18.1,10.1A4.6,2.3,38,1,0,25.3,15.9A4.6,2.3,38,1,0,18.1,10.1ZM27.2,2.2A3.4,1.6,124,1,0,23.3,7.9A3.4,1.6,124,1,0,27.2,2.2ZM27.1,5.1A3.1,1.7,159,1,0,21.3,7.3A3.1,1.7,159,1,0,27.1,5.1ZM41.9,4.0A5.0,2.6,121,1,0,36.8,12.4A5.0,2.6,121,1,0,41.9,4.0ZM33.5,7.8A4.1,3.1,22,1,0,41.0,10.9A4.1,3.1,22,1,0,33.5,7.8ZM50.4,5.5A4.5,2.2,139,1,0,43.6,11.5A4.5,2.2,139,1,0,50.4,5.5ZM49.4,7.9A4.4,2.8,102,1,0,47.6,16.6A4.4,2.8,102,1,0,49.4,7.9ZM49.5,11.0A4.6,2.0,94,1,0,48.8,20.2A4.6,2.0,94,1,0,49.5,11.0ZM47.9,9.8A4.3,2.5,41,1,0,54.3,15.4A4.3,2.5,41,1,0,47.9,9.8ZM13.6,15.2A2.5,1.5,158,1,0,8.9,17.1A2.5,1.5,158,1,0,13.6,15.2ZM12.3,15.2A3.0,1.9,145,1,0,7.4,18.7A3.0,1.9,145,1,0,12.3,15.2ZM32.1,11.2A3.4,2.3,97,1,0,31.2,18.0A3.4,2.3,97,1,0,32.1,11.2ZM33.3,12.3A2.6,2.1,160,1,0,28.3,14.1A2.6,2.1,160,1,0,33.3,12.3ZM42.0,25.0A4.6,2.5,178,1,0,32.8,25.2A4.6,2.5,178,1,0,42.0,25.0ZM33.2,24.9A3.5,2.5,38,1,0,38.8,29.2A3.5,2.5,38,1,0,33.2,24.9ZM10.6,31.8A3.7,1.9,55,1,0,14.9,37.9A3.7,1.9,55,1,0,10.6,31.8ZM14.2,32.2A4.6,2.9,176,1,0,5.1,32.8A4.6,2.9,176,1,0,14.2,32.2ZM19.3,26.8A2.9,2.0,27,1,0,24.5,29.4A2.9,2.0,27,1,0,19.3,26.8ZM23.8,27.6A3.3,1.8,166,1,0,17.4,29.2A3.3,1.8,166,1,0,23.8,27.6ZM32.6,41.1A3.2,2.1,162,1,0,26.5,43.1A3.2,2.1,162,1,0,32.6,41.1ZM31.5,33.7A4.3,2.3,100,1,0,30.0,42.1A4.3,2.3,100,1,0,31.5,33.7ZM45.7,26.2A5.7,3.2,97,1,0,44.5,37.5A5.7,3.2,97,1,0,45.7,26.2ZM43.1,32.7A3.8,2.7,69,1,0,45.8,39.9A3.8,2.7,69,1,0,43.1,32.7ZM46.5,27.0A2.4,1.8,20,1,0,51.1,28.7A2.4,1.8,20,1,0,46.5,27.0ZM48.5,26.1A3.2,1.5,86,1,0,49.0,32.5A3.2,1.5,86,1,0,48.5,26.1ZM11.2,42.8A4.7,2.4,137,1,0,4.4,49.2A4.7,2.4,137,1,0,11.2,42.8ZM7.0,42.8A3.3,2.6,165,1,0,0.7,44.5A3.3,2.6,165,1,0,7.0,42.8ZM18.1,46.6A4.4,2.9,152,1,0,10.4,50.8A4.4,2.9,152,1,0,18.1,46.6ZM13.0,49.5A5.3,3.2,12,1,0,23.3,51.7A5.3,3.2,12,1,0,13.0,49.5ZM19.8,46.2A4.3,2.9,23,1,0,27.8,49.6A4.3,2.9,23,1,0,19.8,46.2ZM22.7,48.1A3.1,2.4,82,1,0,23.6,54.3A3.1,2.4,82,1,0,22.7,48.1ZM37.7,43.7A2.7,2.4,94,1,0,37.4,49.1A2.7,2.4,94,1,0,37.7,43.7ZM33.1,42.5A3.5,1.5,22,1,0,39.5,45.1A3.5,1.5,22,1,0,33.1,42.5ZM41.7,43.9A4.7,1.9,45,1,0,48.3,50.6A4.7,1.9,45,1,0,41.7,43.9ZM49.4,46.0A3.8,2.4,141,1,0,43.5,50.9A3.8,2.4,141,1,0,49.4,46.0ZM6.0,48.4A3.7,2.7,52,1,0,10.6,54.3A3.7,2.7,52,1,0,6.0,48.4ZM4.7,48.7A3.8,2.4,48,1,0,9.9,54.3A3.8,2.4,48,1,0,4.7,48.7ZM63.6,11.6A4.3,3.6,166,1,0,55.2,13.7A4.3,3.6,166,1,0,63.6,11.6ZM56.6,15.9A4.2,2.4,2,1,0,65.0,16.2A4.2,2.4,2,1,0,56.6,15.9ZM64.0,17.7A2.5,2.1,132,1,0,60.7,21.4A2.5,2.1,132,1,0,64.0,17.7ZM58.3,16.6A3.3,1.6,67,1,0,60.8,22.6A3.3,1.6,67,1,0,58.3,16.6ZM72.9,20.3A2.9,1.7,100,1,0,71.8,26.1A2.9,1.7,100,1,0,72.9,20.3ZM69.3,22.5A2.5,1.7,69,1,0,71.1,27.2A2.5,1.7,69,1,0,69.3,22.5ZM70.5,11.1A3.1,2.1,139,1,0,65.9,15.2A3.1,2.1,139,1,0,70.5,11.1ZM67.0,12.0A3.2,1.9,6,1,0,73.3,12.7A3.2,1.9,6,1,0,67.0,12.0ZM79.9,7.9A3.0,1.7,92,1,0,79.6,13.9A3.0,1.7,92,1,0,79.9,7.9ZM82.4,7.6A2.6,1.6,155,1,0,77.7,9.8A2.6,1.6,155,1,0,82.4,7.6ZM98.9,18.1A3.6,2.9,150,1,0,92.7,21.7A3.6,2.9,150,1,0,98.9,18.1ZM92.7,15.1A4.1,2.1,34,1,0,99.6,19.6A4.1,2.1,34,1,0,92.7,15.1ZM98.7,22.8A3.1,2.7,152,1,0,93.3,25.7A3.1,2.7,152,1,0,98.7,22.8ZM94.0,19.8A4.3,2.6,96,1,0,93.1,28.3A4.3,2.6,96,1,0,94.0,19.8ZM98.6,21.2A3.9,2.9,28,1,0,105.5,24.9A3.9,2.9,28,1,0,98.6,21.2ZM106.4,23.5A4.2,1.9,153,1,0,98.9,27.2A4.2,1.9,153,1,0,106.4,23.5ZM71.2,28.5A2.8,1.5,33,1,0,75.9,31.5A2.8,1.5,33,1,0,71.2,28.5ZM74.6,25.7A3.2,1.5,47,1,0,79.0,30.4A3.2,1.5,47,1,0,74.6,25.7ZM88.5,23.9A3.4,2.3,138,1,0,83.4,28.5A3.4,2.3,138,1,0,88.5,23.9ZM79.7,25.7A3.2,1.8,16,1,0,85.7,27.5A3.2,1.8,16,1,0,79.7,25.7ZM88.3,32.9A3.1,2.0,40,1,0,93.1,36.9A3.1,2.0,40,1,0,88.3,32.9ZM91.8,32.6A3.0,1.8,174,1,0,85.8,33.2A3.0,1.8,174,1,0,91.8,32.6ZM103.2,35.9A2.6,1.9,49,1,0,106.6,39.8A2.6,1.9,49,1,0,103.2,35.9ZM100.7,34.0A3.8,2.1,57,1,0,104.8,40.4A3.8,2.1,57,1,0,100.7,34.0ZM58.1,26.1A3.1,2.9,54,1,0,61.7,31.1A3.1,2.9,54,1,0,58.1,26.1ZM57.5,24.5A3.9,2.6,101,1,0,56.0,32.1A3.9,2.6,101,1,0,57.5,24.5ZM64.5,29.8A2.9,2.0,65,1,0,66.9,35.1A2.9,2.0,65,1,0,64.5,29.8ZM65.6,30.5A3.6,2.1,51,1,0,70.2,36.2A3.6,2.1,51,1,0,65.6,30.5ZM19.7,54.3A3.8,1.8,71,1,0,22.2,61.5A3.8,1.8,71,1,0,19.7,54.3ZM15.9,52.8A2.8,2.3,35,1,0,20.4,56.0A2.8,2.3,35,1,0,15.9,52.8ZM11.1,55.3A2.4,1.5,176,1,0,6.2,55.6A2.4,1.5,176,1,0,11.1,55.3ZM4.3,54.2A2.5,1.7,23,1,0,9.0,56.1A2.5,1.7,23,1,0,4.3,54.2ZM34.7,77.3A3.7,2.3,73,1,0,36.9,84.5A3.7,2.3,73,1,0,34.7,77.3ZM38.9,81.8A4.6,1.8,178,1,0,29.7,82.2A4.6,1.8,178,1,0,38.9,81.8ZM38.3,80.8A3.0,1.7,92,1,0,38.1,86.8A3.0,1.7,92,1,0,38.3,80.8ZM35.0,81.2A2.8,2.2,36,1,0,39.4,84.5A2.8,2.2,36,1,0,35.0,81.2ZM47.0,83.4A3.4,1.8,179,1,0,40.1,83.5A3.4,1.8,179,1,0,47.0,83.4ZM43.1,80.9A3.3,3.0,95,1,0,42.5,87.5A3.3,3.0,95,1,0,43.1,80.9ZM44.4,82.4A3.1,2.6,22,1,0,50.1,84.7A3.1,2.6,22,1,0,44.4,82.4ZM49.9,81.3A3.9,2.1,141,1,0,43.9,86.2A3.9,2.1,141,1,0,49.9,81.3ZM26.1,96.6A3.4,1.8,7,1,0,32.9,97.4A3.4,1.8,7,1,0,26.1,96.6ZM26.1,98.6A3.3,1.9,16,1,0,32.3,100.3A3.3,1.9,16,1,0,26.1,98.6ZM25.3,91.4A2.5,2.4,102,1,0,24.3,96.4A2.5,2.4,102,1,0,25.3,91.4ZM26.4,91.5A3.4,1.8,108,1,0,24.3,98.0A3.4,1.8,108,1,0,26.4,91.5ZM17.6,94.5A3.8,2.3,139,1,0,11.9,99.5A3.8,2.3,139,1,0,17.6,94.5ZM11.9,95.1A2.6,2.0,31,1,0,16.4,97.8A2.6,2.0,31,1,0,11.9,95.1ZM26.2,100.4A3.0,2.3,42,1,0,30.7,104.5A3.0,2.3,42,1,0,26.2,100.4ZM27.1,99.1A3.6,1.8,82,1,0,28.1,106.3A3.6,1.8,82,1,0,27.1,99.1ZM17.6,103.8A3.3,1.8,60,1,0,20.9,109.4A3.3,1.8,60,1,0,17.6,103.8ZM21.9,107.3A3.2,2.3,166,1,0,15.6,108.9A3.2,2.3,166,1,0,21.9,107.3ZM4.6,84.0A2.9,1.7,118,1,0,1.8,89.0A2.9,1.7,118,1,0,4.6,84.0ZM5.4,87.0A3.5,2.1,129,1,0,0.9,92.4A3.5,2.1,129,1,0,5.4,87.0ZM2.7,96.3A3.7,1.4,68,1,0,5.5,103.1A3.7,1.4,68,1,0,2.7,96.3ZM2.6,97.4A2.5,1.6,61,1,0,4.9,101.7A2.5,1.6,61,1,0,2.6,97.4ZM9.8,68.7A2.7,1.5,89,1,0,9.9,74.1A2.7,1.5,89,1,0,9.8,68.7ZM12.1,68.0A2.4,1.6,166,1,0,7.5,69.2A2.4,1.6,166,1,0,12.1,68.0ZM45.2,64.2A3.6,2.2,16,1,0,52.1,66.2A3.6,2.2,16,1,0,45.2,64.2ZM49.1,62.1A3.3,1.7,84,1,0,49.8,68.6A3.3,1.7,84,1,0,49.1,62.1ZM53.8,74.3A3.5,2.0,65,1,0,56.8,80.6A3.5,2.0,65,1,0,53.8,74.3ZM56.4,74.9A3.5,1.8,167,1,0,49.6,76.4A3.5,1.8,167,1,0,56.4,74.9ZM91.5,54.3A2.5,2.1,99,1,0,90.8,59.4A2.5,2.1,99,1,0,91.5,54.3ZM88.8,54.2A2.8,1.9,31,1,0,93.7,57.1A2.8,1.9,31,1,0,88.8,54.2ZM96.8,61.8A2.9,1.5,37,1,0,101.4,65.3A2.9,1.5,37,1,0,96.8,61.8ZM101.5,59.3A3.6,1.5,108,1,0,99.3,66.1A3.6,1.5,108,1,0,101.5,59.3ZM99.1,77.8A3.7,1.8,135,1,0,93.9,83.1A3.7,1.8,135,1,0,99.1,77.8ZM98.8,81.1A2.9,1.6,88,1,0,99.1,86.8A2.9,1.6,88,1,0,98.8,81.1ZM104.2,77.2A3.1,1.5,22,1,0,110.1,79.6A3.1,1.5,22,1,0,104.2,77.2ZM106.2,78.4A3.0,2.2,98,1,0,105.4,84.5A3.0,2.2,98,1,0,106.2,78.4ZM99.8,92.3A3.7,2.4,17,1,0,106.9,94.5A3.7,2.4,17,1,0,99.8,92.3ZM98.9,91.2A2.9,1.7,59,1,0,101.8,96.2A2.9,1.7,59,1,0,98.9,91.2ZM67.4,86.6A2.6,2.0,110,1,0,65.6,91.5A2.6,2.0,110,1,0,67.4,86.6ZM64.5,88.3A3.3,2.2,76,1,0,66.0,94.7A3.3,2.2,76,1,0,64.5,88.3ZM81.3,93.8A3.5,2.1,146,1,0,75.5,97.9A3.5,2.1,146,1,0,81.3,93.8ZM75.7,90.8A3.5,2.2,55,1,0,79.7,96.4A3.5,2.2,55,1,0,75.7,90.8ZM71.0,102.5A3.7,1.9,117,1,0,67.7,109.1A3.7,1.9,117,1,0,71.0,102.5ZM68.9,102.1A3.4,1.8,100,1,0,67.6,108.9A3.4,1.8,100,1,0,68.9,102.1ZM95.1,102.9A3.1,1.6,94,1,0,94.7,109.2A3.1,1.6,94,1,0,95.1,102.9ZM95.1,105.2A2.5,1.7,146,1,0,91.0,108.0A2.5,1.7,146,1,0,95.1,105.2ZM57.0,77.0A4.2,2.1,82,1,0,58.2,85.3A4.2,2.1,82,1,0,57.0,77.0ZM55.0,78.2A3.7,2.2,42,1,0,60.5,83.2A3.7,2.2,42,1,0,55.0,78.2ZM68.2,48.2A2.5,1.8,41,1,0,72.0,51.5A2.5,1.8,41,1,0,68.2,48.2ZM72.1,51.5A2.5,1.8,143,1,0,68.1,54.5A2.5,1.8,143,1,0,72.1,51.5Z"/><path fill="#357a1e" opacity="0.8" filter="url(#blur1)" d="M46.6,69.1A1.5,0.6,279,1,0,47.0,66.0A1.5,0.6,279,1,0,46.6,69.1ZM58.0,17.3A1.5,0.5,347,1,0,61.0,16.7A1.5,0.5,347,1,0,58.0,17.3ZM24.3,79.0A1.6,0.9,389,1,0,27.2,80.6A1.6,0.9,389,1,0,24.3,79.0ZM68.5,104.3A1.2,0.8,323,1,0,70.3,102.9A1.2,0.8,323,1,0,68.5,104.3ZM40.9,46.4A1.1,0.6,123,1,0,39.6,48.2A1.1,0.6,123,1,0,40.9,46.4ZM104.9,20.0A1.5,0.9,450,1,0,104.9,22.9A1.5,0.9,450,1,0,104.9,20.0ZM61.4,80.3A1.1,0.8,195,1,0,59.3,79.8A1.1,0.8,195,1,0,61.4,80.3ZM93.5,77.0A1.7,0.9,403,1,0,95.9,79.3A1.7,0.9,403,1,0,93.5,77.0ZM10.5,56.0A1.5,0.5,106,1,0,9.7,59.0A1.5,0.5,106,1,0,10.5,56.0ZM20.6,57.8A1.8,1.0,176,1,0,17.0,58.0A1.8,1.0,176,1,0,20.6,57.8ZM22.7,108.7A1.1,0.6,123,1,0,21.6,110.4A1.1,0.6,123,1,0,22.7,108.7ZM75.1,13.6A1.2,0.6,118,1,0,74.0,15.7A1.2,0.6,118,1,0,75.1,13.6ZM26.7,98.5A1.7,0.5,156,1,0,23.6,99.8A1.7,0.5,156,1,0,26.7,98.5ZM41.1,85.0A1.1,0.7,131,1,0,39.6,86.8A1.1,0.7,131,1,0,41.1,85.0ZM91.1,76.1A1.1,0.8,226,1,0,89.6,74.5A1.1,0.8,226,1,0,91.1,76.1ZM33.7,28.4A1.9,0.7,222,1,0,30.9,25.8A1.9,0.7,222,1,0,33.7,28.4ZM98.3,64.6A1.0,0.5,268,1,0,98.2,62.7A1.0,0.5,268,1,0,98.3,64.6ZM39.7,89.1A1.7,0.6,84,1,0,40.1,92.4A1.7,0.6,84,1,0,39.7,89.1ZM68.1,25.7A1.7,0.5,310,1,0,70.3,23.0A1.7,0.5,310,1,0,68.1,25.7ZM98.0,14.7A1.6,0.7,451,1,0,98.0,17.9A1.6,0.7,451,1,0,98.0,14.7ZM6.8,15.9A1.0,1.0,325,1,0,8.3,14.8A1.0,1.0,325,1,0,6.8,15.9ZM82.3,97.8A1.1,0.6,259,1,0,81.9,95.7A1.1,0.6,259,1,0,82.3,97.8ZM0.6,18.7A1.5,0.7,222,1,0,-1.7,16.7A1.5,0.7,222,1,0,0.6,18.7ZM31.3,17.3A1.7,0.8,380,1,0,34.4,18.4A1.7,0.8,380,1,0,31.3,17.3ZM55.6,94.2A1.2,0.6,158,1,0,53.3,95.1A1.2,0.6,158,1,0,55.6,94.2ZM7.0,48.2A1.7,0.9,166,1,0,3.6,49.0A1.7,0.9,166,1,0,7.0,48.2ZM28.1,44.6A1.9,0.9,235,1,0,25.9,41.5A1.9,0.9,235,1,0,28.1,44.6ZM72.6,103.7A1.0,0.7,412,1,0,73.8,105.3A1.0,0.7,412,1,0,72.6,103.7ZM98.5,83.4A0.9,0.6,163,1,0,96.7,84.0A0.9,0.6,163,1,0,98.5,83.4ZM8.0,55.7A1.5,0.8,217,1,0,5.6,53.9A1.5,0.8,217,1,0,8.0,55.7ZM82.2,97.0A1.7,0.7,151,1,0,79.2,98.7A1.7,0.7,151,1,0,82.2,97.0ZM59.3,77.4A1.6,0.6,404,1,0,61.5,79.6A1.6,0.6,404,1,0,59.3,77.4ZM27.2,96.4A1.5,0.9,303,1,0,28.8,94.0A1.5,0.9,303,1,0,27.2,96.4ZM94.9,4.3A1.3,0.7,329,1,0,97.2,2.9A1.3,0.7,329,1,0,94.9,4.3ZM27.0,96.5A2.0,0.8,164,1,0,23.2,97.6A2.0,0.8,164,1,0,27.0,96.5ZM43.1,3.2A1.0,1.0,404,1,0,44.5,4.6A1.0,1.0,404,1,0,43.1,3.2ZM95.5,53.2A1.2,0.9,162,1,0,93.2,54.0A1.2,0.9,162,1,0,95.5,53.2ZM21.7,18.2A1.5,0.6,147,1,0,19.2,19.8A1.5,0.6,147,1,0,21.7,18.2ZM88.1,79.6A1.2,0.9,360,1,0,90.5,79.6A1.2,0.9,360,1,0,88.1,79.6ZM4.7,103.1A1.6,0.7,189,1,0,1.6,102.6A1.6,0.7,189,1,0,4.7,103.1Z"/><g filter="url(#blur1)"><path fill="#37801f" d="M19.2,11.4A2.1,1.3,87,1,0,19.5,15.5A2.1,1.3,87,1,0,19.2,11.4ZM21.4,10.9A2.5,1.5,132,1,0,18.1,14.5A2.5,1.5,132,1,0,21.4,10.9ZM18.8,13.0A1.8,1.1,82,1,0,19.3,16.7A1.8,1.1,82,1,0,18.8,13.0ZM25.7,4.5A1.4,0.9,115,1,0,24.4,7.1A1.4,0.9,115,1,0,25.7,4.5ZM27.6,5.4A1.8,1.1,166,1,0,24.1,6.3A1.8,1.1,166,1,0,27.6,5.4ZM25.3,2.3A1.9,1.2,100,1,0,24.6,6.0A1.9,1.2,100,1,0,25.3,2.3ZM38.0,7.1A2.4,1.5,4,1,0,42.8,7.5A2.4,1.5,4,1,0,38.0,7.1ZM38.6,8.5A2.8,1.8,-27,1,0,43.6,5.9A2.8,1.8,-27,1,0,38.6,8.5ZM39.6,6.3A2.6,1.6,44,1,0,43.3,9.9A2.6,1.6,44,1,0,39.6,6.3ZM44.5,9.0A2.2,1.4,84,1,0,44.9,13.4A2.2,1.4,84,1,0,44.5,9.0ZM45.4,8.5A2.3,1.4,54,1,0,48.1,12.2A2.3,1.4,54,1,0,45.4,8.5ZM46.0,9.3A2.1,1.3,101,1,0,45.2,13.4A2.1,1.3,101,1,0,46.0,9.3ZM46.8,13.9A2.5,1.6,10,1,0,51.8,14.8A2.5,1.6,10,1,0,46.8,13.9ZM47.6,12.5A2.4,1.5,39,1,0,51.4,15.6A2.4,1.5,39,1,0,47.6,12.5ZM49.7,13.5A1.9,1.2,70,1,0,51.0,17.2A1.9,1.2,70,1,0,49.7,13.5ZM11.1,18.5A1.9,1.2,199,1,0,7.5,17.3A1.9,1.2,199,1,0,11.1,18.5ZM11.0,18.0A2.0,1.3,201,1,0,7.2,16.6A2.0,1.3,201,1,0,11.0,18.0ZM12.2,17.3A1.5,0.9,199,1,0,9.4,16.3A1.5,0.9,199,1,0,12.2,17.3ZM28.8,13.9A1.6,1.0,7,1,0,32.0,14.3A1.6,1.0,7,1,0,28.8,13.9ZM28.9,15.2A1.7,1.1,24,1,0,32.0,16.6A1.7,1.1,24,1,0,28.9,15.2ZM29.5,13.2A1.8,1.1,28,1,0,32.6,14.9A1.8,1.1,28,1,0,29.5,13.2ZM38.3,24.0A2.1,1.3,125,1,0,35.8,27.5A2.1,1.3,125,1,0,38.3,24.0ZM38.0,22.8A2.6,1.6,96,1,0,37.4,28.0A2.6,1.6,96,1,0,38.0,22.8ZM39.9,21.8A2.5,1.5,128,1,0,36.8,25.7A2.5,1.5,128,1,0,39.9,21.8ZM13.0,31.8A2.5,1.5,126,1,0,10.1,35.9A2.5,1.5,126,1,0,13.0,31.8ZM14.5,33.7A2.3,1.4,196,1,0,10.1,32.4A2.3,1.4,196,1,0,14.5,33.7ZM14.5,32.4A2.1,1.3,168,1,0,10.3,33.3A2.1,1.3,168,1,0,14.5,32.4ZM24.8,29.5A2.1,1.3,157,1,0,21.0,31.1A2.1,1.3,157,1,0,24.8,29.5ZM23.3,28.6A1.8,1.1,122,1,0,21.4,31.7A1.8,1.1,122,1,0,23.3,28.6ZM23.9,28.8A1.6,1.0,175,1,0,20.6,29.1A1.6,1.0,175,1,0,23.9,28.8ZM33.4,38.3A2.6,1.6,157,1,0,28.7,40.3A2.6,1.6,157,1,0,33.4,38.3ZM31.0,37.9A2.1,1.3,133,1,0,28.2,40.9A2.1,1.3,133,1,0,31.0,37.9ZM32.0,37.9A2.6,1.6,145,1,0,27.8,40.8A2.6,1.6,145,1,0,32.0,37.9ZM45.4,32.2A2.9,1.8,166,1,0,39.8,33.7A2.9,1.8,166,1,0,45.4,32.2ZM45.7,32.1A2.8,1.7,152,1,0,40.8,34.7A2.8,1.7,152,1,0,45.7,32.1ZM43.2,30.5A2.6,1.6,83,1,0,43.8,35.7A2.6,1.6,83,1,0,43.2,30.5ZM49.8,25.9A1.7,1.0,91,1,0,49.8,29.3A1.7,1.0,91,1,0,49.8,25.9ZM50.6,27.4A1.7,1.0,114,1,0,49.2,30.4A1.7,1.0,114,1,0,50.6,27.4ZM51.6,25.5A1.6,1.0,112,1,0,50.4,28.4A1.6,1.0,112,1,0,51.6,25.5ZM6.9,45.5A2.1,1.3,120,1,0,4.8,49.2A2.1,1.3,120,1,0,6.9,45.5ZM7.1,44.8A2.0,1.3,116,1,0,5.3,48.5A2.0,1.3,116,1,0,7.1,44.8ZM9.7,44.1A2.6,1.6,159,1,0,4.9,45.9A2.6,1.6,159,1,0,9.7,44.1ZM14.0,48.4A2.4,1.5,32,1,0,18.0,50.9A2.4,1.5,32,1,0,14.0,48.4ZM15.3,45.6A3.1,1.9,27,1,0,20.7,48.4A3.1,1.9,27,1,0,15.3,45.6ZM15.2,45.8A2.9,1.8,11,1,0,20.9,46.9A2.9,1.8,11,1,0,15.2,45.8ZM20.1,48.4A2.1,1.3,23,1,0,24.0,50.1A2.1,1.3,23,1,0,20.1,48.4ZM20.8,48.6A2.0,1.2,16,1,0,24.7,49.8A2.0,1.2,16,1,0,20.8,48.6ZM23.0,47.8A2.3,1.4,88,1,0,23.2,52.3A2.3,1.4,88,1,0,23.0,47.8ZM37.0,43.3A2.0,1.2,25,1,0,40.6,45.0A2.0,1.2,25,1,0,37.0,43.3ZM38.2,43.9A2.0,1.2,77,1,0,39.0,47.8A2.0,1.2,77,1,0,38.2,43.9ZM36.2,43.2A1.9,1.2,21,1,0,39.8,44.6A1.9,1.2,21,1,0,36.2,43.2ZM48.8,45.9A1.9,1.2,109,1,0,47.5,49.6A1.9,1.2,109,1,0,48.8,45.9ZM49.0,47.8A2.5,1.6,167,1,0,44.1,49.0A2.5,1.6,167,1,0,49.0,47.8ZM49.0,47.5A1.8,1.1,115,1,0,47.5,50.8A1.8,1.1,115,1,0,49.0,47.5ZM5.0,50.3A2.6,1.6,14,1,0,10.0,51.5A2.6,1.6,14,1,0,5.0,50.3ZM7.6,51.1A2.1,1.3,44,1,0,10.6,54.0A2.1,1.3,44,1,0,7.6,51.1ZM6.1,51.0A2.3,1.4,44,1,0,9.4,54.1A2.3,1.4,44,1,0,6.1,51.0ZM59.8,14.4A2.3,1.4,151,1,0,55.8,16.6A2.3,1.4,151,1,0,59.8,14.4ZM59.7,12.4A2.2,1.4,76,1,0,60.7,16.7A2.2,1.4,76,1,0,59.7,12.4ZM60.2,12.1A2.4,1.5,148,1,0,56.2,14.6A2.4,1.5,148,1,0,60.2,12.1ZM61.8,17.6A2.0,1.3,103,1,0,60.8,21.6A2.0,1.3,103,1,0,61.8,17.6ZM59.4,19.2A2.0,1.2,59,1,0,61.4,22.6A2.0,1.2,59,1,0,59.4,19.2ZM60.2,18.8A2.0,1.3,68,1,0,61.7,22.6A2.0,1.3,68,1,0,60.2,18.8ZM70.6,23.6A1.7,1.1,36,1,0,73.4,25.6A1.7,1.1,36,1,0,70.6,23.6ZM70.9,23.8A1.5,0.9,8,1,0,73.9,24.2A1.5,0.9,8,1,0,70.9,23.8ZM72.8,23.8A1.8,1.1,83,1,0,73.3,27.4A1.8,1.1,83,1,0,72.8,23.8ZM68.8,11.5A2.0,1.2,62,1,0,70.6,14.9A2.0,1.2,62,1,0,68.8,11.5ZM69.5,11.7A1.8,1.1,45,1,0,72.2,14.3A1.8,1.1,45,1,0,69.5,11.7ZM70.5,11.9A1.8,1.1,84,1,0,70.9,15.4A1.8,1.1,84,1,0,70.5,11.9ZM81.4,7.5A1.7,1.0,115,1,0,80.0,10.5A1.7,1.0,115,1,0,81.4,7.5ZM79.6,8.3A1.9,1.2,80,1,0,80.3,12.0A1.9,1.2,80,1,0,79.6,8.3ZM78.4,8.2A1.9,1.1,57,1,0,80.4,11.3A1.9,1.1,57,1,0,78.4,8.2ZM90.9,17.3A2.3,1.4,32,1,0,94.8,19.7A2.3,1.4,32,1,0,90.9,17.3ZM91.1,17.4A2.3,1.4,35,1,0,94.8,20.0A2.3,1.4,35,1,0,91.1,17.4ZM92.7,19.7A1.8,1.1,-24,1,0,96.0,18.3A1.8,1.1,-24,1,0,92.7,19.7ZM98.2,19.5A2.0,1.2,120,1,0,96.2,22.9A2.0,1.2,120,1,0,98.2,19.5ZM99.4,20.2A2.2,1.4,158,1,0,95.3,21.9A2.2,1.4,158,1,0,99.4,20.2ZM98.0,20.7A1.8,1.1,119,1,0,96.2,23.9A1.8,1.1,119,1,0,98.0,20.7ZM101.2,21.6A2.5,1.6,95,1,0,100.7,26.7A2.5,1.6,95,1,0,101.2,21.6ZM101.9,22.3A2.3,1.4,114,1,0,100.0,26.5A2.3,1.4,114,1,0,101.9,22.3ZM102.8,20.4A2.4,1.5,136,1,0,99.4,23.7A2.4,1.5,136,1,0,102.8,20.4ZM72.7,28.0A1.6,1.0,43,1,0,75.1,30.2A1.6,1.0,43,1,0,72.7,28.0ZM75.7,28.4A2.0,1.2,99,1,0,75.1,32.3A2.0,1.2,99,1,0,75.7,28.4ZM76.1,28.0A2.0,1.2,95,1,0,75.7,32.0A2.0,1.2,95,1,0,76.1,28.0ZM86.2,27.5A1.5,0.9,210,1,0,83.6,26.0A1.5,0.9,210,1,0,86.2,27.5ZM85.5,25.2A1.8,1.1,176,1,0,82.0,25.4A1.8,1.1,176,1,0,85.5,25.2ZM84.7,27.6A1.7,1.1,203,1,0,81.6,26.2A1.7,1.1,203,1,0,84.7,27.6ZM91.0,33.2A2.0,1.2,116,1,0,89.3,36.7A2.0,1.2,116,1,0,91.0,33.2ZM91.0,33.2A1.6,1.0,152,1,0,88.1,34.7A1.6,1.0,152,1,0,91.0,33.2ZM90.3,32.6A1.6,1.0,152,1,0,87.5,34.1A1.6,1.0,152,1,0,90.3,32.6ZM104.0,35.3A1.8,1.1,94,1,0,103.8,38.9A1.8,1.1,94,1,0,104.0,35.3ZM103.9,35.4A1.8,1.1,101,1,0,103.3,38.9A1.8,1.1,101,1,0,103.9,35.4ZM105.7,36.9A1.7,1.1,144,1,0,102.9,38.9A1.7,1.1,144,1,0,105.7,36.9ZM60.8,30.8A2.5,1.6,188,1,0,55.8,30.1A2.5,1.6,188,1,0,60.8,30.8ZM61.5,29.5A2.2,1.4,161,1,0,57.3,30.9A2.2,1.4,161,1,0,61.5,29.5ZM59.6,29.8A2.5,1.5,204,1,0,55.0,27.8A2.5,1.5,204,1,0,59.6,29.8ZM64.8,33.3A1.8,1.1,8,1,0,68.4,33.8A1.8,1.1,8,1,0,64.8,33.3ZM66.6,32.4A1.7,1.1,45,1,0,69.1,34.9A1.7,1.1,45,1,0,66.6,32.4ZM66.2,30.7A2.0,1.2,61,1,0,68.1,34.2A2.0,1.2,61,1,0,66.2,30.7ZM19.7,54.6A1.7,1.0,94,1,0,19.4,58.0A1.7,1.0,94,1,0,19.7,54.6ZM18.0,53.4A1.7,1.0,87,1,0,18.2,56.7A1.7,1.0,87,1,0,18.0,53.4ZM19.2,55.0A1.7,1.1,119,1,0,17.6,58.0A1.7,1.1,119,1,0,19.2,55.0ZM8.8,55.6A1.7,1.0,119,1,0,7.2,58.5A1.7,1.0,119,1,0,8.8,55.6ZM9.1,55.1A2.0,1.2,152,1,0,5.6,57.0A2.0,1.2,152,1,0,9.1,55.1ZM8.0,54.5A1.9,1.2,87,1,0,8.3,58.4A1.9,1.2,87,1,0,8.0,54.5ZM35.6,80.9A2.1,1.3,214,1,0,32.1,78.6A2.1,1.3,214,1,0,35.6,80.9ZM36.4,79.8A2.1,1.3,181,1,0,32.3,79.7A2.1,1.3,181,1,0,36.4,79.8ZM35.8,82.0A2.1,1.3,207,1,0,32.0,80.1A2.1,1.3,207,1,0,35.8,82.0ZM39.3,82.8A1.7,1.1,139,1,0,36.7,85.1A1.7,1.1,139,1,0,39.3,82.8ZM39.0,82.6A1.7,1.0,128,1,0,36.9,85.2A1.7,1.0,128,1,0,39.0,82.6ZM38.8,83.7A1.8,1.1,184,1,0,35.2,83.4A1.8,1.1,184,1,0,38.8,83.7ZM43.4,83.6A1.9,1.2,106,1,0,42.3,87.2A1.9,1.2,106,1,0,43.4,83.6ZM43.8,81.7A2.3,1.4,122,1,0,41.4,85.6A2.3,1.4,122,1,0,43.8,81.7ZM41.8,84.0A2.4,1.5,52,1,0,44.7,87.7A2.4,1.5,52,1,0,41.8,84.0ZM43.0,81.8A2.5,1.6,-19,1,0,47.8,80.2A2.5,1.6,-19,1,0,43.0,81.8ZM44.4,81.2A2.0,1.3,22,1,0,48.2,82.7A2.0,1.3,22,1,0,44.4,81.2ZM45.5,81.1A2.1,1.3,50,1,0,48.2,84.3A2.1,1.3,50,1,0,45.5,81.1ZM29.6,95.0A1.9,1.2,55,1,0,31.8,98.1A1.9,1.2,55,1,0,29.6,95.0ZM30.7,95.9A2.2,1.3,68,1,0,32.3,99.9A2.2,1.3,68,1,0,30.7,95.9ZM32.1,95.9A2.4,1.5,99,1,0,31.3,100.6A2.4,1.5,99,1,0,32.1,95.9ZM23.6,94.5A1.5,0.9,29,1,0,26.2,96.0A1.5,0.9,29,1,0,23.6,94.5ZM22.7,94.8A1.4,0.9,41,1,0,24.9,96.7A1.4,0.9,41,1,0,22.7,94.8ZM21.4,95.2A1.5,0.9,-10,1,0,24.4,94.7A1.5,0.9,-10,1,0,21.4,95.2ZM13.6,95.4A1.9,1.2,56,1,0,15.8,98.6A1.9,1.2,56,1,0,13.6,95.4ZM15.0,97.8A1.4,0.9,52,1,0,16.8,100.1A1.4,0.9,52,1,0,15.0,97.8ZM13.5,98.2A1.9,1.2,7,1,0,17.4,98.7A1.9,1.2,7,1,0,13.5,98.2ZM25.6,102.2A1.5,0.9,66,1,0,26.7,104.9A1.5,0.9,66,1,0,25.6,102.2ZM28.3,102.1A1.7,1.1,150,1,0,25.3,103.8A1.7,1.1,150,1,0,28.3,102.1ZM28.3,102.2A1.4,0.9,110,1,0,27.3,104.9A1.4,0.9,110,1,0,28.3,102.2ZM18.2,105.9A1.5,0.9,49,1,0,20.2,108.2A1.5,0.9,49,1,0,18.2,105.9ZM18.3,107.2A2.0,1.2,25,1,0,21.9,109.0A2.0,1.2,25,1,0,18.3,107.2ZM18.6,107.0A1.5,0.9,77,1,0,19.3,109.9A1.5,0.9,77,1,0,18.6,107.0ZM3.9,86.7A1.8,1.1,77,1,0,4.7,90.2A1.8,1.1,77,1,0,3.9,86.7ZM5.7,87.4A1.9,1.2,141,1,0,2.7,89.7A1.9,1.2,141,1,0,5.7,87.4ZM5.8,86.5A1.6,1.0,122,1,0,4.1,89.2A1.6,1.0,122,1,0,5.8,86.5ZM1.7,99.5A2.1,1.3,52,1,0,4.3,102.7A2.1,1.3,52,1,0,1.7,99.5ZM0.8,100.5A2.0,1.2,-2,1,0,4.7,100.4A2.0,1.2,-2,1,0,0.8,100.5ZM2.5,97.8A1.5,0.9,67,1,0,3.7,100.5A1.5,0.9,67,1,0,2.5,97.8ZM9.0,69.2A1.2,0.8,47,1,0,10.6,71.0A1.2,0.8,47,1,0,9.0,69.2ZM9.1,68.3A1.6,1.0,60,1,0,10.7,70.9A1.6,1.0,60,1,0,9.1,68.3ZM9.1,70.2A1.2,0.7,11,1,0,11.5,70.6A1.2,0.7,11,1,0,9.1,70.2ZM51.8,66.9A2.0,1.2,194,1,0,48.0,65.9A2.0,1.2,194,1,0,51.8,66.9ZM50.4,67.2A1.5,0.9,153,1,0,47.8,68.5A1.5,0.9,153,1,0,50.4,67.2ZM52.8,66.8A1.8,1.1,189,1,0,49.3,66.2A1.8,1.1,189,1,0,52.8,66.8ZM54.1,77.9A1.8,1.1,141,1,0,51.2,80.2A1.8,1.1,141,1,0,54.1,77.9ZM53.8,75.7A2.2,1.3,136,1,0,50.7,78.7A2.2,1.3,136,1,0,53.8,75.7ZM54.3,76.8A2.0,1.2,161,1,0,50.6,78.1A2.0,1.2,161,1,0,54.3,76.8ZM91.2,55.5A1.9,1.2,112,1,0,89.8,59.1A1.9,1.2,112,1,0,91.2,55.5ZM90.6,56.2A1.5,0.9,112,1,0,89.5,58.9A1.5,0.9,112,1,0,90.6,56.2ZM92.0,55.1A2.0,1.3,143,1,0,88.8,57.5A2.0,1.3,143,1,0,92.0,55.1ZM99.0,61.9A2.0,1.2,63,1,0,100.8,65.4A2.0,1.2,63,1,0,99.0,61.9ZM99.1,63.2A1.9,1.2,26,1,0,102.6,64.8A1.9,1.2,26,1,0,99.1,63.2ZM99.2,64.0A1.5,0.9,-10,1,0,102.1,63.5A1.5,0.9,-10,1,0,99.2,64.0ZM98.2,80.3A1.6,1.0,118,1,0,96.7,83.0A1.6,1.0,118,1,0,98.2,80.3ZM96.1,81.2A1.9,1.2,49,1,0,98.7,84.1A1.9,1.2,49,1,0,96.1,81.2ZM97.0,80.2A1.7,1.1,59,1,0,98.8,83.2A1.7,1.1,59,1,0,97.0,80.2ZM107.4,78.4A2.0,1.2,92,1,0,107.3,82.4A2.0,1.2,92,1,0,107.4,78.4ZM108.7,78.9A1.9,1.1,173,1,0,105.0,79.4A1.9,1.1,173,1,0,108.7,78.9ZM109.3,79.4A1.8,1.1,144,1,0,106.4,81.5A1.8,1.1,144,1,0,109.3,79.4ZM101.3,93.8A1.7,1.0,91,1,0,101.2,97.1A1.7,1.0,91,1,0,101.3,93.8ZM102.6,94.1A1.5,0.9,126,1,0,100.8,96.5A1.5,0.9,126,1,0,102.6,94.1ZM102.3,93.8A1.6,1.0,123,1,0,100.5,96.5A1.6,1.0,123,1,0,102.3,93.8ZM65.7,88.3A1.7,1.1,65,1,0,67.2,91.5A1.7,1.1,65,1,0,65.7,88.3ZM65.5,88.4A1.7,1.1,29,1,0,68.5,90.1A1.7,1.1,29,1,0,65.5,88.4ZM66.1,88.3A1.6,1.0,53,1,0,68.0,90.9A1.6,1.0,53,1,0,66.1,88.3ZM76.9,96.4A1.8,1.1,-16,1,0,80.4,95.3A1.8,1.1,-16,1,0,76.9,96.4ZM76.2,94.5A2.5,1.6,36,1,0,80.3,97.5A2.5,1.6,36,1,0,76.2,94.5ZM76.3,92.4A2.4,1.5,37,1,0,80.0,95.2A2.4,1.5,37,1,0,76.3,92.4ZM70.1,104.7A1.8,1.1,105,1,0,69.2,108.1A1.8,1.1,105,1,0,70.1,104.7ZM69.8,105.7A1.8,1.1,81,1,0,70.4,109.2A1.8,1.1,81,1,0,69.8,105.7ZM71.3,106.1A1.6,1.0,157,1,0,68.3,107.4A1.6,1.0,157,1,0,71.3,106.1ZM95.8,107.0A1.9,1.2,128,1,0,93.4,110.1A1.9,1.2,128,1,0,95.8,107.0ZM96.1,106.1A1.8,1.1,125,1,0,94.0,109.1A1.8,1.1,125,1,0,96.1,106.1ZM94.7,105.2A1.9,1.2,71,1,0,95.9,108.9A1.9,1.2,71,1,0,94.7,105.2ZM57.6,77.2A2.2,1.4,97,1,0,57.1,81.6A2.2,1.4,97,1,0,57.6,77.2ZM54.8,79.1A1.9,1.2,70,1,0,56.2,82.7A1.9,1.2,70,1,0,54.8,79.1ZM54.8,78.1A2.1,1.3,29,1,0,58.4,80.1A2.1,1.3,29,1,0,54.8,78.1Z"/><path fill="#43922a" d="M18.3,9.8A2.3,1.4,203,1,0,14.0,8.0A2.3,1.4,203,1,0,18.3,9.8ZM17.7,10.9A2.5,1.5,173,1,0,12.7,11.5A2.5,1.5,173,1,0,17.7,10.9ZM19.2,9.7A2.4,1.5,191,1,0,14.4,8.7A2.4,1.5,191,1,0,19.2,9.7ZM7.1,5.3A1.6,1.0,58,1,0,8.8,8.0A1.6,1.0,58,1,0,7.1,5.3ZM9.1,4.4A1.7,1.1,142,1,0,6.3,6.5A1.7,1.1,142,1,0,9.1,4.4ZM10.7,5.1A1.8,1.1,137,1,0,8.0,7.6A1.8,1.1,137,1,0,10.7,5.1ZM1.7,10.9A1.9,1.2,59,1,0,3.7,14.2A1.9,1.2,59,1,0,1.7,10.9ZM2.4,11.5A1.5,0.9,73,1,0,3.3,14.4A1.5,0.9,73,1,0,2.4,11.5ZM2.0,12.6A1.6,1.0,130,1,0,-0.1,15.0A1.6,1.0,130,1,0,2.0,12.6ZM37.7,16.6A2.4,1.5,146,1,0,33.7,19.3A2.4,1.5,146,1,0,37.7,16.6ZM37.9,21.0A3.1,1.9,224,1,0,33.5,16.8A3.1,1.9,224,1,0,37.9,21.0ZM37.3,17.1A2.7,1.7,155,1,0,32.4,19.4A2.7,1.7,155,1,0,37.3,17.1ZM13.4,25.3A2.2,1.3,112,1,0,11.7,29.3A2.2,1.3,112,1,0,13.4,25.3ZM14.6,27.3A2.4,1.5,119,1,0,12.2,31.4A2.4,1.5,119,1,0,14.6,27.3ZM13.3,26.5A2.1,1.3,70,1,0,14.7,30.4A2.1,1.3,70,1,0,13.3,26.5ZM8.5,33.0A2.3,1.4,154,1,0,4.4,35.0A2.3,1.4,154,1,0,8.5,33.0ZM8.1,29.9A3.1,1.9,106,1,0,6.3,35.8A3.1,1.9,106,1,0,8.1,29.9ZM8.2,29.8A2.6,1.6,112,1,0,6.3,34.5A2.6,1.6,112,1,0,8.2,29.8ZM17.2,24.0A1.9,1.2,68,1,0,18.7,27.4A1.9,1.2,68,1,0,17.2,24.0ZM18.2,23.5A1.7,1.1,105,1,0,17.3,26.9A1.7,1.1,105,1,0,18.2,23.5ZM16.3,25.4A1.8,1.1,52,1,0,18.5,28.2A1.8,1.1,52,1,0,16.3,25.4ZM52.7,40.5A2.4,1.5,60,1,0,55.1,44.7A2.4,1.5,60,1,0,52.7,40.5ZM51.4,40.0A2.6,1.6,49,1,0,54.8,44.0A2.6,1.6,49,1,0,51.4,40.0ZM51.5,39.2A2.7,1.6,36,1,0,55.9,42.3A2.7,1.6,36,1,0,51.5,39.2ZM34.9,22.3A1.5,0.9,190,1,0,31.9,21.8A1.5,0.9,190,1,0,34.9,22.3ZM34.4,22.9A1.8,1.1,195,1,0,30.9,21.9A1.8,1.1,195,1,0,34.4,22.9ZM34.4,23.3A1.6,1.0,175,1,0,31.1,23.5A1.6,1.0,175,1,0,34.4,23.3ZM7.7,24.7A1.5,0.9,116,1,0,6.3,27.3A1.5,0.9,116,1,0,7.7,24.7ZM4.7,23.7A1.8,1.1,36,1,0,7.6,25.7A1.8,1.1,36,1,0,4.7,23.7ZM5.7,22.1A1.9,1.2,80,1,0,6.3,25.8A1.9,1.2,80,1,0,5.7,22.1ZM61.6,24.1A2.3,1.4,46,1,0,64.8,27.4A2.3,1.4,46,1,0,61.6,24.1ZM61.9,20.9A3.1,1.9,81,1,0,62.9,27.0A3.1,1.9,81,1,0,61.9,20.9ZM61.4,22.9A2.9,1.8,83,1,0,62.1,28.8A2.9,1.8,83,1,0,61.4,22.9ZM59.6,39.0A3.3,2.0,104,1,0,58.0,45.3A3.3,2.0,104,1,0,59.6,39.0ZM56.3,35.4A3.0,1.8,92,1,0,56.1,41.3A3.0,1.8,92,1,0,56.3,35.4ZM59.5,38.2A3.7,2.3,81,1,0,60.7,45.6A3.7,2.3,81,1,0,59.5,38.2ZM61.1,40.4A2.7,1.6,19,1,0,66.1,42.2A2.7,1.6,19,1,0,61.1,40.4ZM63.3,38.2A3.0,1.8,90,1,0,63.3,44.1A3.0,1.8,90,1,0,63.3,38.2ZM63.2,37.5A2.3,1.4,91,1,0,63.1,42.1A2.3,1.4,91,1,0,63.2,37.5ZM63.1,43.7A2.1,1.3,69,1,0,64.7,47.6A2.1,1.3,69,1,0,63.1,43.7ZM62.2,44.9A2.2,1.3,82,1,0,62.8,49.2A2.2,1.3,82,1,0,62.2,44.9ZM62.8,44.6A2.1,1.3,46,1,0,65.7,47.6A2.1,1.3,46,1,0,62.8,44.6ZM95.8,48.6A2.3,1.4,211,1,0,91.8,46.2A2.3,1.4,211,1,0,95.8,48.6ZM95.8,46.2A2.4,1.5,127,1,0,92.9,50.1A2.4,1.5,127,1,0,95.8,46.2ZM94.7,47.7A2.4,1.5,157,1,0,90.2,49.6A2.4,1.5,157,1,0,94.7,47.7ZM98.4,47.6A1.7,1.1,83,1,0,98.9,51.0A1.7,1.1,83,1,0,98.4,47.6ZM99.2,47.8A1.6,1.0,78,1,0,99.8,50.8A1.6,1.0,78,1,0,99.2,47.8ZM98.5,48.0A1.6,1.0,71,1,0,99.5,50.9A1.6,1.0,71,1,0,98.5,48.0ZM90.9,9.7A2.0,1.2,166,1,0,87.0,10.7A2.0,1.2,166,1,0,90.9,9.7ZM90.2,9.1A2.4,1.5,150,1,0,86.0,11.5A2.4,1.5,150,1,0,90.2,9.1ZM89.9,9.0A2.4,1.5,142,1,0,86.2,11.9A2.4,1.5,142,1,0,89.9,9.0ZM94.8,7.2A2.7,1.6,77,1,0,96.0,12.3A2.7,1.6,77,1,0,94.8,7.2ZM96.3,8.0A2.6,1.6,81,1,0,97.1,13.1A2.6,1.6,81,1,0,96.3,8.0ZM96.0,8.2A2.3,1.4,31,1,0,99.9,10.5A2.3,1.4,31,1,0,96.0,8.2ZM101.7,5.8A2.3,1.4,121,1,0,99.4,9.7A2.3,1.4,121,1,0,101.7,5.8ZM101.6,5.4A2.0,1.2,99,1,0,100.9,9.3A2.0,1.2,99,1,0,101.6,5.4ZM101.0,5.8A2.6,1.6,56,1,0,103.9,10.0A2.6,1.6,56,1,0,101.0,5.8ZM86.6,20.0A2.0,1.3,46,1,0,89.4,23.0A2.0,1.3,46,1,0,86.6,20.0ZM85.3,22.1A1.7,1.0,-6,1,0,88.6,21.7A1.7,1.0,-6,1,0,85.3,22.1ZM85.4,20.5A1.9,1.2,39,1,0,88.4,23.0A1.9,1.2,39,1,0,85.4,20.5ZM76.6,35.0A1.9,1.1,92,1,0,76.5,38.8A1.9,1.1,92,1,0,76.6,35.0ZM77.6,34.1A2.0,1.2,117,1,0,75.8,37.7A2.0,1.2,117,1,0,77.6,34.1ZM78.2,34.9A1.5,0.9,94,1,0,77.9,38.0A1.5,0.9,94,1,0,78.2,34.9ZM21.4,58.6A3.2,2.0,33,1,0,26.7,62.1A3.2,2.0,33,1,0,21.4,58.6ZM22.2,60.7A2.8,1.7,1,1,0,27.8,60.8A2.8,1.7,1,1,0,22.2,60.7ZM22.7,55.4A3.3,2.0,83,1,0,23.5,61.9A3.3,2.0,83,1,0,22.7,55.4ZM35.0,60.3A2.6,1.6,84,1,0,35.5,65.4A2.6,1.6,84,1,0,35.0,60.3ZM36.8,59.4A2.4,1.5,78,1,0,37.8,64.1A2.4,1.5,78,1,0,36.8,59.4ZM34.8,61.6A2.3,1.4,48,1,0,37.9,65.0A2.3,1.4,48,1,0,34.8,61.6ZM16.3,86.3A2.3,1.4,189,1,0,11.6,85.6A2.3,1.4,189,1,0,16.3,86.3ZM16.9,86.8A2.2,1.3,196,1,0,12.7,85.6A2.2,1.3,196,1,0,16.9,86.8ZM17.7,84.1A2.3,1.4,144,1,0,13.9,86.9A2.3,1.4,144,1,0,17.7,84.1ZM20.1,88.5A2.6,1.6,-23,1,0,24.9,86.4A2.6,1.6,-23,1,0,20.1,88.5ZM19.0,89.0A3.0,1.9,-30,1,0,24.2,86.0A3.0,1.9,-30,1,0,19.0,89.0ZM17.9,86.3A3.1,1.9,26,1,0,23.4,88.9A3.1,1.9,26,1,0,17.9,86.3ZM26.3,84.3A2.4,1.5,78,1,0,27.3,89.0A2.4,1.5,78,1,0,26.3,84.3ZM24.6,84.8A1.8,1.1,48,1,0,27.1,87.6A1.8,1.1,48,1,0,24.6,84.8ZM25.5,86.6A2.0,1.2,104,1,0,24.5,90.4A2.0,1.2,104,1,0,25.5,86.6ZM39.5,89.8A2.2,1.4,206,1,0,35.6,87.8A2.2,1.4,206,1,0,39.5,89.8ZM41.2,90.8A2.6,1.6,176,1,0,36.0,91.1A2.6,1.6,176,1,0,41.2,90.8ZM40.0,89.6A2.2,1.3,190,1,0,35.7,88.8A2.2,1.3,190,1,0,40.0,89.6ZM50.6,86.1A2.2,1.3,101,1,0,49.7,90.4A2.2,1.3,101,1,0,50.6,86.1ZM49.8,88.0A2.3,1.4,101,1,0,48.9,92.6A2.3,1.4,101,1,0,49.8,88.0ZM51.6,87.6A1.8,1.1,114,1,0,50.1,90.9A1.8,1.1,114,1,0,51.6,87.6ZM52.7,89.0A1.9,1.2,82,1,0,53.2,92.8A1.9,1.2,82,1,0,52.7,89.0ZM51.0,89.3A2.4,1.5,53,1,0,53.9,93.1A2.4,1.5,53,1,0,51.0,89.3ZM53.6,90.0A1.8,1.1,96,1,0,53.2,93.6A1.8,1.1,96,1,0,53.6,90.0ZM42.7,57.0A1.9,1.1,143,1,0,39.7,59.2A1.9,1.1,143,1,0,42.7,57.0ZM42.1,57.1A1.8,1.1,137,1,0,39.6,59.6A1.8,1.1,137,1,0,42.1,57.1ZM38.9,55.9A2.1,1.3,57,1,0,41.1,59.3A2.1,1.3,57,1,0,38.9,55.9ZM62.2,61.8A2.6,1.6,80,1,0,63.1,66.8A2.6,1.6,80,1,0,62.2,61.8ZM65.1,61.4A2.5,1.5,78,1,0,66.1,66.4A2.5,1.5,78,1,0,65.1,61.4ZM67.5,63.7A2.9,1.8,150,1,0,62.5,66.6A2.9,1.8,150,1,0,67.5,63.7ZM65.7,64.6A2.2,1.4,70,1,0,67.2,68.8A2.2,1.4,70,1,0,65.7,64.6ZM65.1,67.1A2.3,1.4,60,1,0,67.5,71.2A2.3,1.4,60,1,0,65.1,67.1ZM65.9,65.6A2.3,1.4,47,1,0,69.0,68.9A2.3,1.4,47,1,0,65.9,65.6ZM72.5,65.0A2.2,1.4,71,1,0,74.0,69.2A2.2,1.4,71,1,0,72.5,65.0ZM71.2,63.0A2.5,1.5,55,1,0,74.0,67.0A2.5,1.5,55,1,0,71.2,63.0ZM71.7,63.7A1.9,1.2,64,1,0,73.4,67.1A1.9,1.2,64,1,0,71.7,63.7ZM76.0,59.1A2.4,1.4,44,1,0,79.4,62.3A2.4,1.4,44,1,0,76.0,59.1ZM79.0,58.9A2.3,1.4,83,1,0,79.5,63.4A2.3,1.4,83,1,0,79.0,58.9ZM78.5,58.9A1.8,1.1,114,1,0,77.0,62.3A1.8,1.1,114,1,0,78.5,58.9ZM74.9,68.7A2.2,1.3,57,1,0,77.3,72.3A2.2,1.3,57,1,0,74.9,68.7ZM78.7,67.6A2.4,1.5,136,1,0,75.2,71.0A2.4,1.5,136,1,0,78.7,67.6ZM78.5,69.9A1.9,1.1,147,1,0,75.4,71.9A1.9,1.1,147,1,0,78.5,69.9ZM79.8,72.3A2.4,1.5,91,1,0,79.7,77.1A2.4,1.5,91,1,0,79.8,72.3ZM77.8,71.9A2.5,1.5,42,1,0,81.6,75.2A2.5,1.5,42,1,0,77.8,71.9ZM77.7,70.5A2.6,1.6,71,1,0,79.3,75.4A2.6,1.6,71,1,0,77.7,70.5ZM62.5,73.3A2.3,1.4,60,1,0,64.8,77.3A2.3,1.4,60,1,0,62.5,73.3ZM61.4,74.8A2.5,1.5,36,1,0,65.5,77.7A2.5,1.5,36,1,0,61.4,74.8ZM62.2,72.9A2.5,1.5,58,1,0,64.9,77.1A2.5,1.5,58,1,0,62.2,72.9ZM87.3,77.6A1.8,1.1,225,1,0,84.7,75.0A1.8,1.1,225,1,0,87.3,77.6ZM88.2,76.0A2.5,1.5,162,1,0,83.5,77.5A2.5,1.5,162,1,0,88.2,76.0ZM87.4,74.9A2.4,1.5,158,1,0,83.0,76.7A2.4,1.5,158,1,0,87.4,74.9ZM88.1,78.3A3.1,1.9,99,1,0,87.1,84.4A3.1,1.9,99,1,0,88.1,78.3ZM88.8,80.1A2.7,1.7,97,1,0,88.1,85.5A2.7,1.7,97,1,0,88.8,80.1ZM84.6,79.9A2.3,1.4,29,1,0,88.6,82.1A2.3,1.4,29,1,0,84.6,79.9ZM91.2,82.0A2.3,1.4,54,1,0,93.9,85.6A2.3,1.4,54,1,0,91.2,82.0ZM89.9,83.7A2.5,1.6,34,1,0,94.1,86.6A2.5,1.6,34,1,0,89.9,83.7ZM91.4,83.5A2.9,1.8,55,1,0,94.7,88.2A2.9,1.8,55,1,0,91.4,83.5ZM88.9,71.9A1.8,1.1,29,1,0,92.1,73.6A1.8,1.1,29,1,0,88.9,71.9ZM91.3,70.3A2.1,1.3,89,1,0,91.3,74.4A2.1,1.3,89,1,0,91.3,70.3ZM90.1,71.1A2.4,1.5,70,1,0,91.7,75.6A2.4,1.5,70,1,0,90.1,71.1ZM69.8,98.5A2.1,1.3,31,1,0,73.5,100.7A2.1,1.3,31,1,0,69.8,98.5ZM70.4,98.1A2.2,1.3,36,1,0,73.9,100.7A2.2,1.3,36,1,0,70.4,98.1ZM70.7,98.6A2.4,1.5,34,1,0,74.7,101.3A2.4,1.5,34,1,0,70.7,98.6ZM90.5,99.9A2.1,1.3,96,1,0,90.1,104.1A2.1,1.3,96,1,0,90.5,99.9ZM92.7,102.3A2.4,1.5,167,1,0,88.1,103.4A2.4,1.5,167,1,0,92.7,102.3ZM90.1,100.5A2.2,1.3,112,1,0,88.4,104.6A2.2,1.3,112,1,0,90.1,100.5ZM80.2,83.0A1.9,1.2,59,1,0,82.2,86.2A1.9,1.2,59,1,0,80.2,83.0ZM78.9,84.9A2.5,1.5,8,1,0,83.8,85.6A2.5,1.5,8,1,0,78.9,84.9ZM78.3,83.7A2.3,1.4,-19,1,0,82.7,82.2A2.3,1.4,-19,1,0,78.3,83.7ZM84.4,94.3A1.5,0.9,107,1,0,83.6,97.2A1.5,0.9,107,1,0,84.4,94.3ZM85.4,94.8A2.0,1.2,137,1,0,82.6,97.5A2.0,1.2,137,1,0,85.4,94.8ZM84.6,95.1A2.1,1.3,54,1,0,87.0,98.5A2.1,1.3,54,1,0,84.6,95.1ZM60.1,68.7A1.7,1.0,144,1,0,57.3,70.7A1.7,1.0,144,1,0,60.1,68.7ZM59.7,67.5A1.7,1.0,138,1,0,57.2,69.7A1.7,1.0,138,1,0,59.7,67.5ZM61.2,69.6A1.5,0.9,155,1,0,58.4,70.9A1.5,0.9,155,1,0,61.2,69.6ZM58.9,87.1A1.6,1.0,44,1,0,61.1,89.3A1.6,1.0,44,1,0,58.9,87.1ZM58.6,86.6A1.8,1.1,71,1,0,59.8,90.1A1.8,1.1,71,1,0,58.6,86.6ZM61.5,87.2A1.8,1.1,108,1,0,60.4,90.7A1.8,1.1,108,1,0,61.5,87.2Z"/><path fill="#a8d030" d="M68.5,50.3A1.7,1.1,29,1,0,71.5,52.0A1.7,1.1,29,1,0,68.5,50.3ZM69.4,48.8A1.9,1.2,69,1,0,70.7,52.3A1.9,1.2,69,1,0,69.4,48.8ZM68.5,49.2A1.7,1.0,71,1,0,69.5,52.4A1.7,1.0,71,1,0,68.5,49.2Z"/><path fill="#4c9c2a" d="M20.6,12.5A1.4,0.8,93,1,0,20.5,15.3A1.4,0.8,93,1,0,20.6,12.5ZM23.5,4.4A1.2,0.6,15,1,0,25.8,5.0A1.2,0.6,15,1,0,23.5,4.4ZM37.6,6.2A2.3,1.2,37,1,0,41.2,8.9A2.3,1.2,37,1,0,37.6,6.2ZM47.0,7.9A1.7,0.9,110,1,0,45.8,11.1A1.7,0.9,110,1,0,47.0,7.9ZM50.1,13.1A1.4,0.8,97,1,0,49.8,15.9A1.4,0.8,97,1,0,50.1,13.1ZM11.1,16.0A1.3,0.7,147,1,0,8.9,17.4A1.3,0.7,147,1,0,11.1,16.0ZM31.3,13.9A1.2,0.7,124,1,0,29.9,16.0A1.2,0.7,124,1,0,31.3,13.9ZM36.2,23.2A1.5,0.8,68,1,0,37.3,25.9A1.5,0.8,68,1,0,36.2,23.2ZM11.5,32.2A1.6,0.9,58,1,0,13.2,34.9A1.6,0.9,58,1,0,11.5,32.2ZM23.0,29.9A1.1,0.6,164,1,0,20.8,30.5A1.1,0.6,164,1,0,23.0,29.9ZM30.2,37.5A1.9,1.0,104,1,0,29.3,41.2A1.9,1.0,104,1,0,30.2,37.5ZM42.4,32.5A1.9,1.0,37,1,0,45.5,34.8A1.9,1.0,37,1,0,42.4,32.5ZM49.2,26.4A1.5,0.8,52,1,0,51.1,28.8A1.5,0.8,52,1,0,49.2,26.4ZM7.9,45.6A1.7,0.9,156,1,0,4.8,47.0A1.7,0.9,156,1,0,7.9,45.6ZM19.5,47.3A2.2,1.2,176,1,0,15.1,47.6A2.2,1.2,176,1,0,19.5,47.3ZM21.4,49.0A1.6,0.9,70,1,0,22.6,52.0A1.6,0.9,70,1,0,21.4,49.0ZM38.9,43.6A1.3,0.7,112,1,0,37.9,46.0A1.3,0.7,112,1,0,38.9,43.6ZM46.4,46.4A1.6,0.9,63,1,0,47.9,49.2A1.6,0.9,63,1,0,46.4,46.4ZM7.5,50.1A1.6,0.9,76,1,0,8.2,53.2A1.6,0.9,76,1,0,7.5,50.1ZM59.7,13.2A1.8,0.9,118,1,0,58.0,16.3A1.8,0.9,118,1,0,59.7,13.2ZM60.1,18.6A1.2,0.6,68,1,0,61.0,20.7A1.2,0.6,68,1,0,60.1,18.6ZM71.9,24.0A1.4,0.7,104,1,0,71.3,26.7A1.4,0.7,104,1,0,71.9,24.0ZM70.1,12.6A1.3,0.7,91,1,0,70.0,15.2A1.3,0.7,91,1,0,70.1,12.6ZM78.4,10.0A1.4,0.7,1,1,0,81.1,10.0A1.4,0.7,1,1,0,78.4,10.0ZM92.7,16.2A1.8,0.9,47,1,0,95.1,18.7A1.8,0.9,47,1,0,92.7,16.2ZM94.9,21.1A1.5,0.8,17,1,0,97.8,21.9A1.5,0.8,17,1,0,94.9,21.1ZM103.6,22.3A1.8,0.9,176,1,0,100.1,22.6A1.8,0.9,176,1,0,103.6,22.3ZM74.1,28.4A1.5,0.8,69,1,0,75.2,31.1A1.5,0.8,69,1,0,74.1,28.4ZM84.9,25.0A1.2,0.7,136,1,0,83.1,26.6A1.2,0.7,136,1,0,84.9,25.0ZM90.3,33.2A1.3,0.7,92,1,0,90.2,35.8A1.3,0.7,92,1,0,90.3,33.2ZM104.7,37.0A1.4,0.7,150,1,0,102.3,38.4A1.4,0.7,150,1,0,104.7,37.0ZM58.0,28.3A1.5,0.8,76,1,0,58.7,31.2A1.5,0.8,76,1,0,58.0,28.3ZM67.4,31.9A1.4,0.7,102,1,0,66.8,34.6A1.4,0.7,102,1,0,67.4,31.9ZM19.6,54.3A1.3,0.7,95,1,0,19.3,57.0A1.3,0.7,95,1,0,19.6,54.3ZM9.4,56.3A1.4,0.8,179,1,0,6.6,56.3A1.4,0.8,179,1,0,9.4,56.3ZM32.5,79.3A1.9,1.0,9,1,0,36.3,79.9A1.9,1.0,9,1,0,32.5,79.3ZM39.4,82.4A1.3,0.7,141,1,0,37.3,84.0A1.3,0.7,141,1,0,39.4,82.4ZM43.4,84.2A1.5,0.8,90,1,0,43.4,87.1A1.5,0.8,90,1,0,43.4,84.2ZM44.6,80.5A1.5,0.8,51,1,0,46.5,82.9A1.5,0.8,51,1,0,44.6,80.5ZM30.9,95.4A1.6,0.9,80,1,0,31.5,98.7A1.6,0.9,80,1,0,30.9,95.4ZM24.6,93.8A1.5,0.8,102,1,0,24.0,96.8A1.5,0.8,102,1,0,24.6,93.8ZM15.8,97.1A1.4,0.8,134,1,0,13.9,99.1A1.4,0.8,134,1,0,15.8,97.1ZM26.1,103.3A1.4,0.7,45,1,0,28.0,105.2A1.4,0.7,45,1,0,26.1,103.3ZM21.3,107.4A1.1,0.6,145,1,0,19.5,108.7A1.1,0.6,145,1,0,21.3,107.4ZM6.1,87.4A1.4,0.8,152,1,0,3.6,88.8A1.4,0.8,152,1,0,6.1,87.4ZM3.9,100.3A1.2,0.6,174,1,0,1.5,100.5A1.2,0.6,174,1,0,3.9,100.3ZM9.3,70.1A1.0,0.6,9,1,0,11.3,70.4A1.0,0.6,9,1,0,9.3,70.1ZM50.3,66.1A1.4,0.7,96,1,0,50.0,68.8A1.4,0.7,96,1,0,50.3,66.1ZM53.5,76.6A1.6,0.9,119,1,0,52.0,79.4A1.6,0.9,119,1,0,53.5,76.6ZM91.9,57.2A1.5,0.8,172,1,0,89.0,57.6A1.5,0.8,172,1,0,91.9,57.2ZM100.8,62.9A1.3,0.7,145,1,0,98.7,64.4A1.3,0.7,145,1,0,100.8,62.9ZM97.7,81.5A1.4,0.7,144,1,0,95.5,83.2A1.4,0.7,144,1,0,97.7,81.5ZM107.0,79.1A1.4,0.8,86,1,0,107.2,81.9A1.4,0.8,86,1,0,107.0,79.1ZM103.5,95.0A1.2,0.7,179,1,0,101.0,95.0A1.2,0.7,179,1,0,103.5,95.0ZM65.2,89.7A1.2,0.6,18,1,0,67.5,90.5A1.2,0.6,18,1,0,65.2,89.7ZM76.8,95.0A1.5,0.8,3,1,0,79.9,95.2A1.5,0.8,3,1,0,76.8,95.0ZM68.9,106.6A1.3,0.7,28,1,0,71.2,107.8A1.3,0.7,28,1,0,68.9,106.6ZM93.5,107.9A1.5,0.8,6,1,0,96.4,108.2A1.5,0.8,6,1,0,93.5,107.9ZM55.5,79.0A1.5,0.8,49,1,0,57.5,81.3A1.5,0.8,49,1,0,55.5,79.0Z"/><path fill="#5ab832" d="M18.1,9.5A1.8,1.0,178,1,0,14.4,9.7A1.8,1.0,178,1,0,18.1,9.5ZM9.0,6.0A1.2,0.6,127,1,0,7.6,7.9A1.2,0.6,127,1,0,9.0,6.0ZM2.3,12.0A1.1,0.6,105,1,0,1.7,14.2A1.1,0.6,105,1,0,2.3,12.0ZM34.6,16.5A2.1,1.1,64,1,0,36.5,20.2A2.1,1.1,64,1,0,34.6,16.5ZM13.7,26.8A1.4,0.8,78,1,0,14.3,29.6A1.4,0.8,78,1,0,13.7,26.8ZM5.3,32.6A1.8,1.0,22,1,0,8.7,34.0A1.8,1.0,22,1,0,5.3,32.6ZM15.4,25.9A1.3,0.7,20,1,0,17.9,26.8A1.3,0.7,20,1,0,15.4,25.9ZM51.9,39.0A2.2,1.2,41,1,0,55.3,41.9A2.2,1.2,41,1,0,51.9,39.0ZM32.9,21.4A1.3,0.7,99,1,0,32.5,23.9A1.3,0.7,99,1,0,32.9,21.4ZM5.9,24.5A1.5,0.8,26,1,0,8.6,25.7A1.5,0.8,26,1,0,5.9,24.5ZM59.7,23.5A2.1,1.1,42,1,0,62.9,26.3A2.1,1.1,42,1,0,59.7,23.5ZM56.3,38.3A2.7,1.4,16,1,0,61.4,39.8A2.7,1.4,16,1,0,56.3,38.3ZM65.8,39.2A2.1,1.2,145,1,0,62.2,41.6A2.1,1.2,145,1,0,65.8,39.2ZM62.2,44.9A1.8,1.0,70,1,0,63.5,48.2A1.8,1.0,70,1,0,62.2,44.9ZM93.4,46.8A1.6,0.8,99,1,0,92.9,49.9A1.6,0.8,99,1,0,93.4,46.8ZM97.9,49.4A1.5,0.8,38,1,0,100.3,51.2A1.5,0.8,38,1,0,97.9,49.4ZM90.7,11.3A1.8,1.0,175,1,0,87.0,11.6A1.8,1.0,175,1,0,90.7,11.3ZM95.5,6.5A2.3,1.2,65,1,0,97.4,10.7A2.3,1.2,65,1,0,95.5,6.5ZM99.8,7.1A1.4,0.8,21,1,0,102.5,8.2A1.4,0.8,21,1,0,99.8,7.1ZM85.6,20.7A1.3,0.7,5,1,0,88.1,20.9A1.3,0.7,5,1,0,85.6,20.7ZM76.6,34.9A1.4,0.8,63,1,0,77.9,37.5A1.4,0.8,63,1,0,76.6,34.9ZM23.3,58.5A2.0,1.1,41,1,0,26.4,61.1A2.0,1.1,41,1,0,23.3,58.5ZM36.7,61.8A1.4,0.8,89,1,0,36.8,64.7A1.4,0.8,89,1,0,36.7,61.8ZM17.1,85.1A1.9,1.0,146,1,0,13.9,87.3A1.9,1.0,146,1,0,17.1,85.1ZM20.4,86.5A1.9,1.0,3,1,0,24.3,86.8A1.9,1.0,3,1,0,20.4,86.5ZM24.8,86.1A1.6,0.9,30,1,0,27.6,87.8A1.6,0.9,30,1,0,24.8,86.1ZM35.9,88.9A1.6,0.9,22,1,0,38.9,90.1A1.6,0.9,22,1,0,35.9,88.9ZM47.3,88.8A1.6,0.8,3,1,0,50.5,88.9A1.6,0.8,3,1,0,47.3,88.8ZM53.9,91.5A1.6,0.9,147,1,0,51.2,93.3A1.6,0.9,147,1,0,53.9,91.5ZM39.5,56.8A1.4,0.7,35,1,0,41.8,58.4A1.4,0.7,35,1,0,39.5,56.8ZM60.9,63.9A2.5,1.3,19,1,0,65.6,65.5A2.5,1.3,19,1,0,60.9,63.9ZM65.3,66.6A1.8,1.0,33,1,0,68.3,68.6A1.8,1.0,33,1,0,65.3,66.6ZM73.9,66.0A1.5,0.8,156,1,0,71.1,67.2A1.5,0.8,156,1,0,73.9,66.0ZM76.5,59.2A1.9,1.0,35,1,0,79.6,61.4A1.9,1.0,35,1,0,76.5,59.2ZM77.0,68.8A1.9,1.0,63,1,0,78.7,72.2A1.9,1.0,63,1,0,77.0,68.8ZM76.2,74.1A1.9,1.0,8,1,0,79.9,74.6A1.9,1.0,8,1,0,76.2,74.1ZM63.2,75.1A1.6,0.8,40,1,0,65.6,77.2A1.6,0.8,40,1,0,63.2,75.1ZM87.7,75.2A1.8,0.9,133,1,0,85.3,77.8A1.8,0.9,133,1,0,87.7,75.2ZM86.7,79.5A2.2,1.2,69,1,0,88.2,83.7A2.2,1.2,69,1,0,86.7,79.5ZM93.8,85.2A1.9,1.0,171,1,0,90.1,85.8A1.9,1.0,171,1,0,93.8,85.2ZM91.0,70.3A1.6,0.8,61,1,0,92.5,73.0A1.6,0.8,61,1,0,91.0,70.3ZM72.7,97.8A1.6,0.8,79,1,0,73.3,100.9A1.6,0.8,79,1,0,72.7,97.8ZM90.9,101.0A1.5,0.8,97,1,0,90.5,104.0A1.5,0.8,97,1,0,90.9,101.0ZM81.5,82.8A1.5,0.8,107,1,0,80.7,85.6A1.5,0.8,107,1,0,81.5,82.8ZM86.8,96.3A1.3,0.7,171,1,0,84.2,96.7A1.3,0.7,171,1,0,86.8,96.3ZM60.1,69.8A1.4,0.8,173,1,0,57.3,70.2A1.4,0.8,173,1,0,60.1,69.8ZM59.8,87.3A1.4,0.8,80,1,0,60.3,90.1A1.4,0.8,80,1,0,59.8,87.3Z"/><path fill="#ecea3a" d="M69.3,50.9A1.1,0.6,5,1,0,71.6,51.0A1.1,0.6,5,1,0,69.3,50.9Z"/><path fill="#a04020" d="M18.6,26.8A1.4,1.1,7,1,0,21.4,27.2A1.4,1.1,7,1,0,18.6,26.8ZM30.7,21.5A1.3,1.3,54,1,0,32.3,23.5A1.3,1.3,54,1,0,30.7,21.5ZM42.2,38.6A1.5,1.1,144,1,0,39.8,40.4A1.5,1.1,144,1,0,42.2,38.6ZM19.3,43.0A1.3,1.3,128,1,0,17.7,45.0A1.3,1.3,128,1,0,19.3,43.0ZM32.6,46.5A1.7,1.0,161,1,0,29.4,47.5A1.7,1.0,161,1,0,32.6,46.5ZM9.0,23.9A1.5,1.1,50,1,0,11.0,26.1A1.5,1.1,50,1,0,9.0,23.9ZM93.3,27.6A1.5,1.1,81,1,0,93.7,30.4A1.5,1.1,81,1,0,93.3,27.6ZM98.0,27.9A1.5,1.1,131,1,0,96.0,30.1A1.5,1.1,131,1,0,98.0,27.9ZM97.7,38.4A1.3,1.3,124,1,0,96.3,40.6A1.3,1.3,124,1,0,97.7,38.4ZM65.0,36.7A1.3,1.3,142,1,0,63.0,38.3A1.3,1.3,142,1,0,65.0,36.7ZM105.4,48.8A1.5,1.1,153,1,0,102.6,50.2A1.5,1.1,153,1,0,105.4,48.8ZM104.6,51.6A1.4,1.2,17,1,0,107.4,52.4A1.4,1.2,17,1,0,104.6,51.6ZM94.0,52.3A1.3,1.2,65,1,0,95.0,54.7A1.3,1.2,65,1,0,94.0,52.3ZM104.1,2.1A1.3,1.3,43,1,0,105.9,3.9A1.3,1.3,43,1,0,104.1,2.1ZM62.4,19.8A1.6,1.0,7,1,0,65.6,20.2A1.6,1.0,7,1,0,62.4,19.8ZM79.7,50.4A1.6,1.0,80,1,0,80.3,53.6A1.6,1.0,80,1,0,79.7,50.4ZM4.7,58.3A1.4,1.2,121,1,0,3.3,60.7A1.4,1.2,121,1,0,4.7,58.3ZM50.8,70.1A1.4,1.1,100,1,0,50.2,72.9A1.4,1.1,100,1,0,50.8,70.1ZM47.9,73.9A1.4,1.2,130,1,0,46.1,76.1A1.4,1.2,130,1,0,47.9,73.9ZM44.2,92.9A1.7,1.0,178,1,0,40.8,93.1A1.7,1.0,178,1,0,44.2,92.9ZM2.2,87.6A1.6,1.0,61,1,0,3.8,90.4A1.6,1.0,61,1,0,2.2,87.6ZM76.1,60.0A1.5,1.1,139,1,0,73.9,62.0A1.5,1.1,139,1,0,76.1,60.0ZM59.5,67.2A1.5,1.1,112,1,0,58.5,69.8A1.5,1.1,112,1,0,59.5,67.2ZM67.6,81.0A1.5,1.1,17,1,0,70.4,82.0A1.5,1.1,17,1,0,67.6,81.0ZM106.7,89.9A1.7,1.0,178,1,0,103.3,90.1A1.7,1.0,178,1,0,106.7,89.9ZM97.2,57.0A1.3,1.2,53,1,0,98.8,59.0A1.3,1.2,53,1,0,97.2,57.0Z"/><path fill="#c85028" d="M28.6,14.9A1.6,1.0,24,1,0,31.4,16.1A1.6,1.0,24,1,0,28.6,14.9ZM22.4,19.9A1.7,1.0,105,1,0,21.6,23.1A1.7,1.0,105,1,0,22.4,19.9ZM32.1,26.3A1.4,1.2,148,1,0,29.9,27.7A1.4,1.2,148,1,0,32.1,26.3ZM36.9,33.1A1.7,1.0,123,1,0,35.1,35.9A1.7,1.0,123,1,0,36.9,33.1ZM18.6,37.4A1.5,1.1,135,1,0,16.4,39.6A1.5,1.1,135,1,0,18.6,37.4ZM25.4,39.4A1.5,1.1,157,1,0,22.6,40.6A1.5,1.1,157,1,0,25.4,39.4ZM46.9,26.9A1.6,1.0,104,1,0,46.1,30.1A1.6,1.0,104,1,0,46.9,26.9ZM53.4,23.4A1.4,1.2,174,1,0,50.6,23.6A1.4,1.2,174,1,0,53.4,23.4ZM32.2,53.0A1.6,1.1,141,1,0,29.8,55.0A1.6,1.1,141,1,0,32.2,53.0ZM14.9,8.8A1.4,1.2,171,1,0,12.1,9.2A1.4,1.2,171,1,0,14.9,8.8ZM6.5,17.7A1.4,1.2,109,1,0,5.5,20.3A1.4,1.2,109,1,0,6.5,17.7ZM0.4,25.5A1.6,1.0,70,1,0,1.6,28.5A1.6,1.0,70,1,0,0.4,25.5ZM72.9,22.9A1.5,1.1,158,1,0,70.1,24.1A1.5,1.1,158,1,0,72.9,22.9ZM74.7,26.4A1.5,1.1,25,1,0,77.3,27.6A1.5,1.1,25,1,0,74.7,26.4ZM81.9,29.1A1.7,1.0,122,1,0,80.1,31.9A1.7,1.0,122,1,0,81.9,29.1ZM87.7,33.0A1.4,1.2,19,1,0,90.3,34.0A1.4,1.2,19,1,0,87.7,33.0ZM86.6,37.1A1.5,1.1,95,1,0,86.4,39.9A1.5,1.1,95,1,0,86.6,37.1ZM65.7,45.5A1.4,1.2,22,1,0,68.3,46.5A1.4,1.2,22,1,0,65.7,45.5ZM67.9,4.5A1.7,1.0,122,1,0,66.1,7.5A1.7,1.0,122,1,0,67.9,4.5ZM58.5,29.4A1.6,1.0,89,1,0,58.5,32.6A1.6,1.0,89,1,0,58.5,29.4ZM107.0,24.8A1.5,1.1,50,1,0,109.0,27.2A1.5,1.1,50,1,0,107.0,24.8ZM43.4,56.7A1.3,1.3,87,1,0,43.6,59.3A1.3,1.3,87,1,0,43.4,56.7ZM52.9,79.3A1.6,1.0,46,1,0,55.1,81.7A1.6,1.0,46,1,0,52.9,79.3ZM27.3,105.2A1.4,1.1,61,1,0,28.7,107.8A1.4,1.1,61,1,0,27.3,105.2ZM33.7,104.2A1.5,1.1,30,1,0,36.3,105.8A1.5,1.1,30,1,0,33.7,104.2ZM25.8,103.0A1.3,1.2,129,1,0,24.2,105.0A1.3,1.2,129,1,0,25.8,103.0ZM53.7,55.8A1.4,1.2,122,1,0,52.3,58.2A1.4,1.2,122,1,0,53.7,55.8ZM1.0,80.7A1.7,1.0,52,1,0,3.0,83.3A1.7,1.0,52,1,0,1.0,80.7ZM80.5,65.1A1.5,1.1,71,1,0,81.5,67.9A1.5,1.1,71,1,0,80.5,65.1ZM90.0,63.0A1.6,1.0,161,1,0,87.0,64.0A1.6,1.0,161,1,0,90.0,63.0ZM83.3,55.1A1.5,1.1,146,1,0,80.7,56.9A1.5,1.1,146,1,0,83.3,55.1ZM85.7,56.7A1.7,1.0,170,1,0,82.3,57.3A1.7,1.0,170,1,0,85.7,56.7ZM60.4,69.5A1.5,1.1,87,1,0,60.6,72.5A1.5,1.1,87,1,0,60.4,69.5ZM77.1,76.0A1.7,1.0,163,1,0,73.9,77.0A1.7,1.0,163,1,0,77.1,76.0ZM77.8,77.9A1.6,1.0,43,1,0,80.2,80.1A1.6,1.0,43,1,0,77.8,77.9ZM92.5,94.6A1.4,1.1,91,1,0,92.5,97.4A1.4,1.1,91,1,0,92.5,94.6ZM96.0,98.4A1.6,1.0,90,1,0,96.0,101.6A1.6,1.0,90,1,0,96.0,98.4ZM79.7,93.1A1.6,1.0,116,1,0,78.3,95.9A1.6,1.0,116,1,0,79.7,93.1ZM85.6,97.6A1.6,1.0,166,1,0,82.4,98.4A1.6,1.0,166,1,0,85.6,97.6ZM103.8,84.5A1.7,1.0,118,1,0,102.2,87.5A1.7,1.0,118,1,0,103.8,84.5ZM101.1,71.9A1.4,1.1,51,1,0,102.9,74.1A1.4,1.1,51,1,0,101.1,71.9ZM56.7,54.5A1.6,1.0,115,1,0,55.3,57.5A1.6,1.0,115,1,0,56.7,54.5Z"/></g><linearGradient id="shb" x1="0" y1="0" x2="0" y2="1"><stop offset="0" stop-color="#000" stop-opacity="0.3"/><stop offset="1" stop-color="#000" stop-opacity="0.3"/></linearGradient><rect width="110" height="109.5" fill="url(#shb)"/><g fill="#151e0e" filter="url(#blur2)"><ellipse cx="12" cy="72" rx="9" ry="11" opacity="0.85"/><ellipse cx="15" cy="10" rx="8" ry="6" opacity="0.6"/><ellipse cx="50" cy="100" rx="8" ry="5" opacity="0.5"/><ellipse cx="30" cy="45" rx="5" ry="5" opacity="0.4"/></g><g stroke="#9a9a9a" stroke-width="0.7" fill="none" opacity="0.75"><rect x="5.5" y="7.2" width="97.7" height="97.0"/><path d="M0,0L5.5,7.2M110,0L103.2,7.2M0,109.5L5.5,104.2M110,109.5L103.2,104.2"/></g><rect x="2" y="107.3" width="12" height="1.2" fill="#e8e8e8"/><rect x="100" y="107.1" width="7" height="1.2" fill="#bbbbbb" opacity="0.6"/></g><rect x="0.4" y="0.4" width="109.2" height="108.7" fill="none" stroke="#0a0a0a" stroke-width="0.8"/></g>
<g transform="translate(9,349.5)"><clipPath id="clipc"><rect x="0" y="0" width="110" height="109.5"/></clipPath><g clip-path="url(#clipc)"><rect x="0" y="0" width="110" height="109.5" fill="#160c07"/><path fill="#642814" opacity="0.8" filter="url(#blur1)" d="M17.6,25.0A1.2,0.9,45,1,0,19.3,26.6A1.2,0.9,45,1,0,17.6,25.0ZM47.3,47.8A1.1,0.8,1,1,0,49.4,47.8A1.1,0.8,1,1,0,47.3,47.8ZM13.2,102.4A1.1,0.6,140,1,0,11.4,103.9A1.1,0.6,140,1,0,13.2,102.4ZM41.4,65.7A1.0,0.7,75,1,0,41.9,67.6A1.0,0.7,75,1,0,41.4,65.7ZM34.6,38.8A1.0,0.8,158,1,0,32.8,39.5A1.0,0.8,158,1,0,34.6,38.8ZM62.7,89.8A1.2,0.9,95,1,0,62.5,92.3A1.2,0.9,95,1,0,62.7,89.8ZM68.4,70.1A1.4,1.0,138,1,0,66.3,72.0A1.4,1.0,138,1,0,68.4,70.1ZM82.0,90.5A1.1,1.0,134,1,0,80.4,92.1A1.1,1.0,134,1,0,82.0,90.5ZM26.2,97.6A1.5,1.0,4,1,0,29.2,97.8A1.5,1.0,4,1,0,26.2,97.6ZM80.0,91.2A1.0,0.6,25,1,0,81.9,92.1A1.0,0.6,25,1,0,80.0,91.2ZM18.9,106.1A1.2,0.7,38,1,0,20.8,107.5A1.2,0.7,38,1,0,18.9,106.1ZM93.5,2.8A1.0,0.7,67,1,0,94.3,4.7A1.0,0.7,67,1,0,93.5,2.8ZM27.6,92.9A1.4,1.0,63,1,0,28.8,95.4A1.4,1.0,63,1,0,27.6,92.9ZM101.8,62.8A1.1,0.7,23,1,0,103.8,63.6A1.1,0.7,23,1,0,101.8,62.8ZM83.7,63.9A1.6,0.8,178,1,0,80.5,64.0A1.6,0.8,178,1,0,83.7,63.9ZM6.6,44.6A1.3,0.8,24,1,0,9.1,45.7A1.3,0.8,24,1,0,6.6,44.6ZM74.3,44.9A0.9,1.0,60,1,0,75.2,46.5A0.9,1.0,60,1,0,74.3,44.9ZM72.9,35.0A0.8,0.6,51,1,0,73.9,36.3A0.8,0.6,51,1,0,72.9,35.0ZM14.7,76.0A1.3,0.8,138,1,0,12.7,77.8A1.3,0.8,138,1,0,14.7,76.0ZM70.9,34.6A1.3,0.8,153,1,0,68.5,35.8A1.3,0.8,153,1,0,70.9,34.6ZM31.7,19.2A1.3,1.0,51,1,0,33.3,21.2A1.3,1.0,51,1,0,31.7,19.2ZM10.1,75.4A1.3,1.0,22,1,0,12.5,76.4A1.3,1.0,22,1,0,10.1,75.4ZM63.2,77.3A1.4,1.1,53,1,0,64.9,79.5A1.4,1.1,53,1,0,63.2,77.3ZM100.6,24.5A1.1,0.8,170,1,0,98.5,24.9A1.1,0.8,170,1,0,100.6,24.5ZM65.4,2.4A1.2,1.0,59,1,0,66.7,4.5A1.2,1.0,59,1,0,65.4,2.4ZM40.1,71.1A1.2,1.0,80,1,0,40.5,73.4A1.2,1.0,80,1,0,40.1,71.1ZM31.9,79.5A0.8,1.0,124,1,0,31.0,80.8A0.8,1.0,124,1,0,31.9,79.5ZM66.5,79.1A1.0,1.1,117,1,0,65.6,80.9A1.0,1.1,117,1,0,66.5,79.1ZM101.6,56.8A1.1,0.8,16,1,0,103.8,57.4A1.1,0.8,16,1,0,101.6,56.8ZM74.1,92.9A1.3,0.7,110,1,0,73.2,95.3A1.3,0.7,110,1,0,74.1,92.9ZM37.3,57.9A1.3,1.1,32,1,0,39.5,59.3A1.3,1.1,32,1,0,37.3,57.9ZM44.9,54.6A0.9,0.8,28,1,0,46.5,55.4A0.9,0.8,28,1,0,44.9,54.6ZM78.2,37.8A1.0,0.9,119,1,0,77.2,39.5A1.0,0.9,119,1,0,78.2,37.8ZM104.2,68.6A1.6,0.9,70,1,0,105.3,71.6A1.6,0.9,70,1,0,104.2,68.6ZM27.5,12.0A0.9,0.6,159,1,0,25.8,12.7A0.9,0.6,159,1,0,27.5,12.0ZM16.7,93.6A0.8,1.1,49,1,0,17.8,94.8A0.8,1.1,49,1,0,16.7,93.6ZM16.9,80.1A0.8,1.0,91,1,0,16.9,81.7A0.8,1.0,91,1,0,16.9,80.1ZM14.5,32.3A0.8,1.0,43,1,0,15.7,33.5A0.8,1.0,43,1,0,14.5,32.3ZM69.1,69.1A1.3,1.0,81,1,0,69.6,71.7A1.3,1.0,81,1,0,69.1,69.1ZM103.7,3.5A1.3,0.6,147,1,0,101.6,4.9A1.3,0.6,147,1,0,103.7,3.5ZM45.1,97.0A1.4,0.7,171,1,0,42.3,97.5A1.4,0.7,171,1,0,45.1,97.0ZM50.1,62.7A1.4,1.1,37,1,0,52.4,64.4A1.4,1.1,37,1,0,50.1,62.7ZM24.4,0.7A0.8,0.8,152,1,0,22.9,1.5A0.8,0.8,152,1,0,24.4,0.7ZM30.0,22.4A1.4,0.7,53,1,0,31.7,24.6A1.4,0.7,53,1,0,30.0,22.4ZM18.1,15.1A1.5,0.8,29,1,0,20.7,16.6A1.5,0.8,29,1,0,18.1,15.1ZM67.8,34.7A1.3,0.7,29,1,0,70.1,35.9A1.3,0.7,29,1,0,67.8,34.7ZM59.6,108.0A1.3,1.0,5,1,0,62.1,108.2A1.3,1.0,5,1,0,59.6,108.0ZM83.4,101.5A1.6,1.1,109,1,0,82.3,104.4A1.6,1.1,109,1,0,83.4,101.5ZM11.7,42.7A1.1,1.0,23,1,0,13.7,43.5A1.1,1.0,23,1,0,11.7,42.7ZM47.3,81.0A1.1,0.6,86,1,0,47.4,83.2A1.1,0.6,86,1,0,47.3,81.0ZM65.8,69.5A1.2,0.7,9,1,0,68.2,69.9A1.2,0.7,9,1,0,65.8,69.5ZM43.3,102.2A1.2,1.0,13,1,0,45.6,102.8A1.2,1.0,13,1,0,43.3,102.2ZM36.8,42.0A1.4,0.9,166,1,0,34.1,42.7A1.4,0.9,166,1,0,36.8,42.0ZM62.8,41.7A0.9,1.0,93,1,0,62.7,43.5A0.9,1.0,93,1,0,62.8,41.7ZM9.2,92.5A1.2,0.9,113,1,0,8.3,94.7A1.2,0.9,113,1,0,9.2,92.5ZM25.4,63.4A1.2,1.0,163,1,0,23.2,64.1A1.2,1.0,163,1,0,25.4,63.4ZM30.0,83.0A0.8,0.8,76,1,0,30.4,84.6A0.8,0.8,76,1,0,30.0,83.0ZM36.1,19.7A1.5,0.7,109,1,0,35.2,22.5A1.5,0.7,109,1,0,36.1,19.7ZM38.2,51.6A1.1,0.9,10,1,0,40.4,52.0A1.1,0.9,10,1,0,38.2,51.6ZM100.8,38.4A0.9,1.1,82,1,0,101.0,40.1A0.9,1.1,82,1,0,100.8,38.4ZM53.5,22.7A1.0,1.0,146,1,0,51.9,23.8A1.0,1.0,146,1,0,53.5,22.7ZM4.2,16.0A1.2,0.9,68,1,0,5.0,18.2A1.2,0.9,68,1,0,4.2,16.0ZM49.8,29.4A1.6,0.8,30,1,0,52.5,30.9A1.6,0.8,30,1,0,49.8,29.4ZM10.3,67.8A1.6,0.7,0,1,0,13.4,67.8A1.6,0.7,0,1,0,10.3,67.8ZM90.4,9.1A1.1,1.0,17,1,0,92.5,9.8A1.1,1.0,17,1,0,90.4,9.1ZM42.8,66.7A1.0,0.6,85,1,0,43.0,68.7A1.0,0.6,85,1,0,42.8,66.7ZM96.9,33.1A1.4,1.0,35,1,0,99.1,34.7A1.4,1.0,35,1,0,96.9,33.1ZM87.0,72.7A1.5,0.8,17,1,0,89.9,73.6A1.5,0.8,17,1,0,87.0,72.7ZM1.5,63.4A1.5,0.7,40,1,0,3.8,65.4A1.5,0.7,40,1,0,1.5,63.4ZM109.2,87.8A1.5,0.8,66,1,0,110.5,90.7A1.5,0.8,66,1,0,109.2,87.8ZM53.2,77.8A1.4,1.0,82,1,0,53.6,80.5A1.4,1.0,82,1,0,53.2,77.8ZM104.7,32.1A0.9,0.9,101,1,0,104.3,34.0A0.9,0.9,101,1,0,104.7,32.1ZM36.8,13.6A1.2,0.9,179,1,0,34.4,13.7A1.2,0.9,179,1,0,36.8,13.6ZM106.4,9.1A1.0,0.6,40,1,0,107.9,10.4A1.0,0.6,40,1,0,106.4,9.1ZM18.8,5.3A1.4,0.9,112,1,0,17.8,7.8A1.4,0.9,112,1,0,18.8,5.3ZM46.8,83.2A1.5,0.9,91,1,0,46.7,86.2A1.5,0.9,91,1,0,46.8,83.2ZM81.9,73.9A1.3,0.9,128,1,0,80.2,76.0A1.3,0.9,128,1,0,81.9,73.9ZM101.2,5.3A0.9,0.7,66,1,0,101.9,7.1A0.9,0.7,66,1,0,101.2,5.3ZM60.8,-0.4A1.1,0.9,152,1,0,58.8,0.7A1.1,0.9,152,1,0,60.8,-0.4ZM24.3,7.7A0.9,1.0,61,1,0,25.2,9.4A0.9,1.0,61,1,0,24.3,7.7ZM94.4,67.5A1.1,1.1,25,1,0,96.5,68.5A1.1,1.1,25,1,0,94.4,67.5ZM24.1,1.5A1.5,1.0,163,1,0,21.2,2.4A1.5,1.0,163,1,0,24.1,1.5ZM71.7,26.5A0.9,0.8,134,1,0,70.4,27.9A0.9,0.8,134,1,0,71.7,26.5ZM58.5,64.3A1.6,0.9,51,1,0,60.5,66.8A1.6,0.9,51,1,0,58.5,64.3ZM91.8,21.7A0.9,0.8,142,1,0,90.3,22.9A0.9,0.8,142,1,0,91.8,21.7ZM80.3,11.6A1.1,1.0,162,1,0,78.3,12.3A1.1,1.0,162,1,0,80.3,11.6ZM77.6,63.6A1.0,1.0,3,1,0,79.6,63.7A1.0,1.0,3,1,0,77.6,63.6ZM71.7,38.0A1.0,1.1,87,1,0,71.8,40.0A1.0,1.1,87,1,0,71.7,38.0ZM94.1,56.0A0.8,0.8,34,1,0,95.5,56.9A0.8,0.8,34,1,0,94.1,56.0ZM89.0,54.7A1.1,0.8,162,1,0,86.8,55.4A1.1,0.8,162,1,0,89.0,54.7ZM102.6,39.0A1.2,1.0,132,1,0,100.9,40.8A1.2,1.0,132,1,0,102.6,39.0ZM57.7,41.5A1.0,0.8,174,1,0,55.6,41.8A1.0,0.8,174,1,0,57.7,41.5ZM44.3,48.7A1.2,0.7,20,1,0,46.4,49.4A1.2,0.7,20,1,0,44.3,48.7ZM54.8,50.6A1.2,0.7,97,1,0,54.5,53.0A1.2,0.7,97,1,0,54.8,50.6ZM17.2,55.8A1.6,0.7,128,1,0,15.3,58.3A1.6,0.7,128,1,0,17.2,55.8ZM72.8,61.9A1.1,1.0,98,1,0,72.5,64.0A1.1,1.0,98,1,0,72.8,61.9ZM14.2,40.9A1.1,0.9,113,1,0,13.3,42.8A1.1,0.9,113,1,0,14.2,40.9ZM78.6,93.4A1.2,0.8,119,1,0,77.4,95.6A1.2,0.8,119,1,0,78.6,93.4ZM92.7,41.0A1.4,0.6,156,1,0,90.1,42.2A1.4,0.6,156,1,0,92.7,41.0ZM37.2,86.2A1.0,0.6,20,1,0,39.0,86.9A1.0,0.6,20,1,0,37.2,86.2ZM40.3,12.3A1.2,0.6,113,1,0,39.4,14.4A1.2,0.6,113,1,0,40.3,12.3ZM75.6,72.3A1.6,1.1,144,1,0,73.0,74.2A1.6,1.1,144,1,0,75.6,72.3ZM21.7,9.8A1.3,0.9,13,1,0,24.2,10.4A1.3,0.9,13,1,0,21.7,9.8ZM46.3,44.9A0.9,1.1,98,1,0,46.1,46.7A0.9,1.1,98,1,0,46.3,44.9ZM48.0,89.5A1.4,0.9,105,1,0,47.3,92.2A1.4,0.9,105,1,0,48.0,89.5ZM17.8,44.0A1.0,0.6,116,1,0,16.9,45.8A1.0,0.6,116,1,0,17.8,44.0ZM71.9,56.7A1.3,1.1,12,1,0,74.5,57.2A1.3,1.1,12,1,0,71.9,56.7ZM69.8,95.0A0.8,1.0,16,1,0,71.3,95.4A0.8,1.0,16,1,0,69.8,95.0ZM37.8,41.8A1.3,0.9,171,1,0,35.2,42.2A1.3,0.9,171,1,0,37.8,41.8ZM13.1,45.7A1.3,0.8,136,1,0,11.3,47.5A1.3,0.8,136,1,0,13.1,45.7ZM109.5,49.9A1.2,0.7,124,1,0,108.1,51.9A1.2,0.7,124,1,0,109.5,49.9ZM43.2,69.6A1.4,0.6,11,1,0,46.0,70.1A1.4,0.6,11,1,0,43.2,69.6ZM20.5,35.5A1.6,0.8,104,1,0,19.8,38.6A1.6,0.8,104,1,0,20.5,35.5ZM75.6,62.3A1.2,1.0,78,1,0,76.1,64.7A1.2,1.0,78,1,0,75.6,62.3ZM33.3,101.5A1.2,0.9,51,1,0,34.8,103.4A1.2,0.9,51,1,0,33.3,101.5ZM62.0,19.1A1.5,0.7,135,1,0,60.0,21.2A1.5,0.7,135,1,0,62.0,19.1ZM3.9,75.9A0.9,0.9,103,1,0,3.5,77.6A0.9,0.9,103,1,0,3.9,75.9ZM19.0,65.8A0.8,0.8,2,1,0,20.7,65.9A0.8,0.8,2,1,0,19.0,65.8ZM97.2,4.3A1.5,0.9,138,1,0,95.0,6.3A1.5,0.9,138,1,0,97.2,4.3ZM88.1,55.6A1.1,0.6,144,1,0,86.3,56.9A1.1,0.6,144,1,0,88.1,55.6ZM38.2,45.6A1.3,0.6,154,1,0,35.8,46.7A1.3,0.6,154,1,0,38.2,45.6ZM95.8,50.9A1.1,0.8,117,1,0,94.8,52.9A1.1,0.8,117,1,0,95.8,50.9ZM51.0,59.6A1.4,0.8,85,1,0,51.3,62.4A1.4,0.8,85,1,0,51.0,59.6ZM22.9,94.4A1.6,0.7,79,1,0,23.5,97.5A1.6,0.7,79,1,0,22.9,94.4ZM101.8,99.0A0.9,0.9,168,1,0,100.0,99.4A0.9,0.9,168,1,0,101.8,99.0ZM75.9,53.2A1.6,1.1,109,1,0,74.9,56.2A1.6,1.1,109,1,0,75.9,53.2ZM17.3,66.5A1.4,1.0,40,1,0,19.4,68.3A1.4,1.0,40,1,0,17.3,66.5ZM101.6,46.0A0.9,1.0,140,1,0,100.1,47.1A0.9,1.0,140,1,0,101.6,46.0ZM11.8,59.1A1.0,1.1,131,1,0,10.5,60.5A1.0,1.1,131,1,0,11.8,59.1ZM103.8,15.1A1.3,1.1,59,1,0,105.1,17.3A1.3,1.1,59,1,0,103.8,15.1ZM24.2,97.2A1.3,1.0,13,1,0,26.9,97.8A1.3,1.0,13,1,0,24.2,97.2ZM32.5,37.8A1.2,1.0,150,1,0,30.3,39.0A1.2,1.0,150,1,0,32.5,37.8ZM72.9,69.9A1.1,1.0,85,1,0,73.1,72.1A1.1,1.0,85,1,0,72.9,69.9ZM73.6,95.6A0.8,1.0,136,1,0,72.4,96.8A0.8,1.0,136,1,0,73.6,95.6ZM10.9,11.9A1.0,0.9,108,1,0,10.3,13.8A1.0,0.9,108,1,0,10.9,11.9ZM90.2,11.5A1.3,0.8,162,1,0,87.7,12.3A1.3,0.8,162,1,0,90.2,11.5ZM9.9,40.0A1.1,1.0,16,1,0,12.1,40.7A1.1,1.0,16,1,0,9.9,40.0ZM34.0,108.0A1.6,0.7,126,1,0,32.1,110.5A1.6,0.7,126,1,0,34.0,108.0ZM32.0,53.7A1.0,0.8,85,1,0,32.2,55.7A1.0,0.8,85,1,0,32.0,53.7ZM12.2,22.8A0.9,0.9,78,1,0,12.5,24.5A0.9,0.9,78,1,0,12.2,22.8ZM8.0,70.8A0.9,1.0,0,1,0,9.7,70.8A0.9,1.0,0,1,0,8.0,70.8ZM87.6,48.3A1.6,1.1,157,1,0,84.7,49.5A1.6,1.1,157,1,0,87.6,48.3ZM40.9,8.0A1.3,1.0,96,1,0,40.6,10.6A1.3,1.0,96,1,0,40.9,8.0ZM10.7,59.3A1.5,0.8,0,1,0,13.8,59.3A1.5,0.8,0,1,0,10.7,59.3ZM99.3,67.4A1.5,1.0,154,1,0,96.6,68.7A1.5,1.0,154,1,0,99.3,67.4ZM52.5,97.9A0.9,1.0,28,1,0,54.1,98.8A0.9,1.0,28,1,0,52.5,97.9ZM11.2,76.4A1.3,0.7,110,1,0,10.3,78.8A1.3,0.7,110,1,0,11.2,76.4ZM98.9,5.9A1.1,0.9,144,1,0,97.2,7.2A1.1,0.9,144,1,0,98.9,5.9ZM11.4,39.5A1.4,0.7,113,1,0,10.3,42.1A1.4,0.7,113,1,0,11.4,39.5ZM24.3,13.6A0.9,0.8,52,1,0,25.4,15.0A0.9,0.8,52,1,0,24.3,13.6ZM102.8,105.9A1.5,0.9,55,1,0,104.5,108.5A1.5,0.9,55,1,0,102.8,105.9ZM102.2,20.7A1.1,0.8,60,1,0,103.3,22.7A1.1,0.8,60,1,0,102.2,20.7ZM90.6,101.8A1.1,0.9,147,1,0,88.8,102.9A1.1,0.9,147,1,0,90.6,101.8ZM103.5,66.4A1.4,0.8,68,1,0,104.6,69.0A1.4,0.8,68,1,0,103.5,66.4ZM89.7,96.2A1.5,0.8,136,1,0,87.6,98.3A1.5,0.8,136,1,0,89.7,96.2ZM5.5,64.8A1.3,0.7,105,1,0,4.8,67.4A1.3,0.7,105,1,0,5.5,64.8ZM15.4,50.6A1.0,0.7,161,1,0,13.4,51.3A1.0,0.7,161,1,0,15.4,50.6ZM3.3,72.3A0.9,1.0,10,1,0,5.1,72.6A0.9,1.0,10,1,0,3.3,72.3ZM66.1,40.6A1.6,0.9,70,1,0,67.2,43.6A1.6,0.9,70,1,0,66.1,40.6ZM91.3,60.6A1.4,1.1,92,1,0,91.2,63.4A1.4,1.1,92,1,0,91.3,60.6ZM27.9,37.0A1.3,0.9,138,1,0,26.0,38.7A1.3,0.9,138,1,0,27.9,37.0ZM19.8,51.8A1.5,1.0,35,1,0,22.2,53.5A1.5,1.0,35,1,0,19.8,51.8ZM78.6,46.2A1.3,0.6,178,1,0,76.0,46.2A1.3,0.6,178,1,0,78.6,46.2ZM52.2,103.4A0.9,1.0,138,1,0,50.9,104.6A0.9,1.0,138,1,0,52.2,103.4ZM20.1,76.0A1.2,1.0,21,1,0,22.4,76.9A1.2,1.0,21,1,0,20.1,76.0ZM50.9,62.8A1.5,0.9,55,1,0,52.6,65.4A1.5,0.9,55,1,0,50.9,62.8ZM29.5,76.2A1.5,1.1,161,1,0,26.6,77.2A1.5,1.1,161,1,0,29.5,76.2ZM2.1,12.6A1.0,0.9,22,1,0,4.0,13.4A1.0,0.9,22,1,0,2.1,12.6ZM13.2,26.1A1.5,0.9,33,1,0,15.8,27.8A1.5,0.9,33,1,0,13.2,26.1ZM58.3,62.3A0.9,0.9,54,1,0,59.4,63.8A0.9,0.9,54,1,0,58.3,62.3ZM6.3,58.8A0.8,0.7,112,1,0,5.6,60.3A0.8,0.7,112,1,0,6.3,58.8ZM35.2,51.8A1.3,1.0,115,1,0,34.2,54.1A1.3,1.0,115,1,0,35.2,51.8ZM99.6,27.0A1.3,1.0,147,1,0,97.4,28.3A1.3,1.0,147,1,0,99.6,27.0ZM34.2,13.9A1.3,1.1,124,1,0,32.8,16.0A1.3,1.1,124,1,0,34.2,13.9ZM54.3,38.6A1.3,0.9,96,1,0,54.0,41.2A1.3,0.9,96,1,0,54.3,38.6ZM56.7,72.6A1.0,1.0,43,1,0,58.3,74.0A1.0,1.0,43,1,0,56.7,72.6ZM48.8,98.8A0.9,0.9,76,1,0,49.2,100.5A0.9,0.9,76,1,0,48.8,98.8ZM105.0,12.5A1.3,1.1,88,1,0,105.0,15.1A1.3,1.1,88,1,0,105.0,12.5ZM100.2,105.7A0.9,0.9,35,1,0,101.7,106.8A0.9,0.9,35,1,0,100.2,105.7ZM106.2,101.6A1.5,1.0,56,1,0,107.9,104.2A1.5,1.0,56,1,0,106.2,101.6ZM73.8,1.5A1.0,0.6,113,1,0,73.0,3.3A1.0,0.6,113,1,0,73.8,1.5ZM84.2,27.2A1.6,0.8,96,1,0,83.8,30.3A1.6,0.8,96,1,0,84.2,27.2ZM4.8,6.0A1.2,0.9,64,1,0,5.8,8.2A1.2,0.9,64,1,0,4.8,6.0ZM57.1,70.7A1.3,1.0,40,1,0,59.1,72.4A1.3,1.0,40,1,0,57.1,70.7ZM78.3,68.6A1.3,1.0,145,1,0,76.2,70.0A1.3,1.0,145,1,0,78.3,68.6ZM68.4,57.0A1.2,1.0,31,1,0,70.4,58.3A1.2,1.0,31,1,0,68.4,57.0ZM87.8,45.9A1.1,0.7,49,1,0,89.2,47.6A1.1,0.7,49,1,0,87.8,45.9ZM22.6,59.0A1.0,1.0,11,1,0,24.5,59.4A1.0,1.0,11,1,0,22.6,59.0ZM42.0,70.4A1.1,1.0,83,1,0,42.3,72.6A1.1,1.0,83,1,0,42.0,70.4ZM61.8,16.0A0.9,0.8,49,1,0,63.1,17.4A0.9,0.8,49,1,0,61.8,16.0ZM96.5,22.6A1.0,0.8,124,1,0,95.4,24.3A1.0,0.8,124,1,0,96.5,22.6ZM25.0,19.6A1.6,0.6,156,1,0,22.1,20.9A1.6,0.6,156,1,0,25.0,19.6ZM41.1,31.2A1.5,1.1,20,1,0,44.0,32.2A1.5,1.1,20,1,0,41.1,31.2ZM33.2,68.2A1.2,0.8,12,1,0,35.6,68.7A1.2,0.8,12,1,0,33.2,68.2ZM20.0,97.6A1.4,0.9,119,1,0,18.7,100.0A1.4,0.9,119,1,0,20.0,97.6ZM100.8,45.2A1.0,0.8,149,1,0,99.1,46.3A1.0,0.8,149,1,0,100.8,45.2ZM6.6,0.7A1.6,1.1,81,1,0,7.1,3.9A1.6,1.1,81,1,0,6.6,0.7ZM84.6,0.5A1.1,0.7,82,1,0,84.9,2.7A1.1,0.7,82,1,0,84.6,0.5ZM9.9,94.1A1.0,1.1,10,1,0,11.8,94.5A1.0,1.1,10,1,0,9.9,94.1ZM95.1,24.2A0.8,0.7,171,1,0,93.4,24.5A0.8,0.7,171,1,0,95.1,24.2Z"/><ellipse cx="30" cy="90" rx="26" ry="18" fill="#a8c430" opacity="0.28" filter="url(#blur3)"/><ellipse cx="92" cy="86" rx="16" ry="22" fill="#b0c830" opacity="0.28" filter="url(#blur3)"/><ellipse cx="50" cy="68" rx="32" ry="8" fill="#5a8a22" opacity="0.15" filter="url(#blur3)"/><mask id="mc" maskUnits="userSpaceOnUse" x="0" y="0" width="110" height="109.5"><g fill="#fff" filter="url(#blur3)" opacity="0.5"><circle cx="19.0" cy="22.0" r="5.4"/><circle cx="16.0" cy="36.0" r="4.5"/><circle cx="27.0" cy="27.0" r="4.5"/><circle cx="26.0" cy="34.0" r="3.6"/><circle cx="35.0" cy="29.0" r="5.4"/><circle cx="39.0" cy="28.0" r="5.4"/><circle cx="38.0" cy="25.0" r="3.6"/><circle cx="35.0" cy="37.0" r="4.5"/><circle cx="37.0" cy="44.0" r="5.4"/><circle cx="40.0" cy="45.0" r="4.5"/><circle cx="39.0" cy="51.0" r="5.4"/><circle cx="48.5" cy="13.0" r="3.5"/><circle cx="51.0" cy="10.0" r="2.3"/><circle cx="31.5" cy="7.5" r="2.9"/><circle cx="34.5" cy="7.0" r="2.3"/><circle cx="22.5" cy="4.0" r="2.3"/><circle cx="11.5" cy="42.0" r="3.6"/><circle cx="3.5" cy="46.0" r="5.4"/><circle cx="28.0" cy="42.0" r="3.6"/><circle cx="45.0" cy="25.0" r="3.6"/><circle cx="53.0" cy="40.0" r="3.6"/><circle cx="50.0" cy="33.0" r="3.6"/><circle cx="47.0" cy="29.0" r="3.6"/><circle cx="57.0" cy="11.0" r="2.9"/><circle cx="60.0" cy="15.0" r="3.5"/><circle cx="67.5" cy="11.0" r="2.9"/><circle cx="89.0" cy="4.0" r="3.5"/><circle cx="80.0" cy="7.0" r="2.3"/><circle cx="80.0" cy="9.0" r="2.9"/><circle cx="96.0" cy="13.5" r="3.5"/><circle cx="99.0" cy="15.0" r="2.9"/><circle cx="99.0" cy="23.0" r="3.6"/><circle cx="97.0" cy="30.0" r="5.4"/><circle cx="103.0" cy="31.0" r="6.3"/><circle cx="106.0" cy="29.0" r="4.5"/><circle cx="89.0" cy="35.0" r="5.4"/><circle cx="84.0" cy="28.0" r="4.5"/><circle cx="74.0" cy="34.5" r="5.4"/><circle cx="77.0" cy="36.0" r="4.5"/><circle cx="59.0" cy="37.5" r="5.4"/><circle cx="64.0" cy="38.0" r="4.5"/><circle cx="68.0" cy="46.0" r="5.4"/><circle cx="71.0" cy="49.0" r="5.4"/><circle cx="76.0" cy="44.0" r="4.5"/><circle cx="80.0" cy="50.0" r="5.4"/><circle cx="87.0" cy="45.0" r="4.5"/><circle cx="91.0" cy="41.0" r="4.5"/><circle cx="103.0" cy="46.0" r="5.4"/><circle cx="107.0" cy="42.0" r="3.6"/><circle cx="96.0" cy="49.0" r="4.5"/><circle cx="66.0" cy="26.0" r="3.6"/><circle cx="73.0" cy="33.0" r="3.6"/><circle cx="95.0" cy="37.0" r="3.6"/><circle cx="83.0" cy="32.0" r="3.6"/><circle cx="55.5" cy="22.0" r="3.6"/><circle cx="56.0" cy="8.0" r="2.3"/><circle cx="7.0" cy="63.5" r="5.4"/><circle cx="14.0" cy="70.0" r="6.3"/><circle cx="20.0" cy="72.0" r="7.2"/><circle cx="17.0" cy="78.0" r="6.3"/><circle cx="12.0" cy="80.0" r="5.4"/><circle cx="20.0" cy="84.0" r="6.3"/><circle cx="28.0" cy="65.0" r="5.4"/><circle cx="31.0" cy="75.0" r="7.2"/><circle cx="33.0" cy="82.0" r="8.1"/><circle cx="35.0" cy="88.0" r="6.3"/><circle cx="27.0" cy="94.0" r="5.4"/><circle cx="26.0" cy="102.0" r="5.4"/><circle cx="32.0" cy="106.0" r="5.4"/><circle cx="40.0" cy="62.0" r="5.4"/><circle cx="44.0" cy="59.0" r="5.4"/><circle cx="50.0" cy="60.0" r="5.4"/><circle cx="45.0" cy="75.0" r="5.4"/><circle cx="50.0" cy="80.0" r="5.4"/><circle cx="52.0" cy="86.0" r="5.4"/><circle cx="50.0" cy="95.0" r="6.3"/><circle cx="52.0" cy="100.0" r="7.2"/><circle cx="46.0" cy="104.0" r="5.4"/><circle cx="42.0" cy="93.0" r="4.5"/><circle cx="16.0" cy="92.0" r="3.6"/><circle cx="19.0" cy="95.0" r="3.6"/><circle cx="6.0" cy="80.0" r="3.6"/><circle cx="25.0" cy="56.0" r="4.5"/><circle cx="30.0" cy="58.0" r="4.5"/><circle cx="77.0" cy="60.0" r="6.3"/><circle cx="75.0" cy="67.0" r="5.4"/><circle cx="73.0" cy="74.0" r="5.4"/><circle cx="80.0" cy="73.0" r="5.4"/><circle cx="87.0" cy="59.0" r="5.4"/><circle cx="97.0" cy="58.0" r="5.4"/><circle cx="100.0" cy="63.0" r="6.3"/><circle cx="93.0" cy="72.0" r="6.3"/><circle cx="100.0" cy="75.0" r="7.2"/><circle cx="106.0" cy="70.0" r="4.5"/><circle cx="101.0" cy="87.0" r="7.2"/><circle cx="95.0" cy="91.0" r="6.3"/><circle cx="92.0" cy="82.0" r="5.4"/><circle cx="105.0" cy="95.0" r="5.4"/><circle cx="103.0" cy="102.0" r="5.4"/><circle cx="96.0" cy="106.0" r="5.4"/><circle cx="88.0" cy="98.0" r="5.4"/><circle cx="82.0" cy="92.0" r="5.4"/><circle cx="76.0" cy="95.0" r="5.4"/><circle cx="72.0" cy="90.0" r="5.4"/><circle cx="62.0" cy="80.0" r="6.3"/><circle cx="57.0" cy="76.0" r="5.4"/><circle cx="68.0" cy="81.0" r="5.4"/><circle cx="57.0" cy="90.0" r="7.2"/><circle cx="57.0" cy="98.0" r="7.2"/><circle cx="58.0" cy="107.0" r="7.2"/><circle cx="66.0" cy="108.0" r="4.5"/><circle cx="85.0" cy="108.0" r="4.5"/><circle cx="107.0" cy="84.0" r="3.6"/><circle cx="108.0" cy="108.0" r="4.5"/></g></mask><mask id="mcr" maskUnits="userSpaceOnUse" x="0" y="0" width="110" height="109.5"><g fill="#fff" filter="url(#blur3)"><ellipse cx="30" cy="90" rx="26" ry="18" opacity="0.95"/><ellipse cx="92" cy="86" rx="16" ry="22" opacity="0.95"/><ellipse cx="50" cy="68" rx="32" ry="8" opacity="0.5"/></g></mask><rect width="110" height="109.5" filter="url(#tma)" mask="url(#mc)" opacity="1"/><rect width="110" height="109.5" filter="url(#tmb)" mask="url(#mc)" opacity="1"/><rect width="110" height="109.5" filter="url(#tya)" mask="url(#mcr)" opacity="1"/><rect width="110" height="109.5" filter="url(#tyb)" mask="url(#mcr)" opacity="1"/><path fill="#4d6a18" opacity="0.18" filter="url(#blur2)" d="M17.7,18.4A3.8,2.5,17,1,0,25.0,20.6A3.8,2.5,17,1,0,17.7,18.4ZM25.3,17.2A4.3,2.8,141,1,0,18.5,22.6A4.3,2.8,141,1,0,25.3,17.2ZM14.3,30.8A3.9,2.3,77,1,0,16.1,38.4A3.9,2.3,77,1,0,14.3,30.8ZM10.5,32.4A3.7,2.1,22,1,0,17.3,35.2A3.7,2.1,22,1,0,10.5,32.4ZM30.3,26.7A3.9,1.9,170,1,0,22.7,28.1A3.9,1.9,170,1,0,30.3,26.7ZM24.6,24.4A3.7,1.9,89,1,0,24.7,31.7A3.7,1.9,89,1,0,24.6,24.4ZM24.8,32.6A3.3,2.3,98,1,0,23.9,39.3A3.3,2.3,98,1,0,24.8,32.6ZM30.1,32.6A3.6,2.1,135,1,0,25.0,37.6A3.6,2.1,135,1,0,30.1,32.6ZM33.8,26.6A5.0,2.4,81,1,0,35.3,36.4A5.0,2.4,81,1,0,33.8,26.6ZM31.0,22.2A5.6,2.3,47,1,0,38.6,30.4A5.6,2.3,47,1,0,31.0,22.2ZM38.0,26.3A4.3,3.1,29,1,0,45.5,30.4A4.3,3.1,29,1,0,38.0,26.3ZM32.3,25.2A4.7,2.5,6,1,0,41.7,26.2A4.7,2.5,6,1,0,32.3,25.2ZM38.3,23.4A3.0,1.6,92,1,0,38.1,29.4A3.0,1.6,92,1,0,38.3,23.4ZM39.7,24.1A3.3,1.8,132,1,0,35.3,29.1A3.3,1.8,132,1,0,39.7,24.1ZM39.4,35.1A4.5,2.6,165,1,0,30.7,37.4A4.5,2.6,165,1,0,39.4,35.1ZM34.1,39.1A3.3,2.0,4,1,0,40.6,39.6A3.3,2.0,4,1,0,34.1,39.1ZM32.9,39.0A4.0,3.4,57,1,0,37.2,45.8A4.0,3.4,57,1,0,32.9,39.0ZM34.1,41.4A5.3,3.1,45,1,0,41.6,49.0A5.3,3.1,45,1,0,34.1,41.4ZM43.2,42.1A4.3,2.3,103,1,0,41.2,50.4A4.3,2.3,103,1,0,43.2,42.1ZM40.3,41.0A3.3,2.7,60,1,0,43.6,46.8A3.3,2.7,60,1,0,40.3,41.0ZM40.4,48.6A4.3,2.9,169,1,0,31.9,50.3A4.3,2.9,169,1,0,40.4,48.6ZM42.2,49.9A5.7,2.8,167,1,0,31.2,52.4A5.7,2.8,167,1,0,42.2,49.9ZM48.7,9.8A3.0,1.9,83,1,0,49.4,15.7A3.0,1.9,83,1,0,48.7,9.8ZM50.1,12.6A3.0,2.3,131,1,0,46.2,17.1A3.0,2.3,131,1,0,50.1,12.6ZM48.0,9.4A1.8,1.1,2,1,0,51.6,9.5A1.8,1.1,2,1,0,48.0,9.4ZM53.8,9.1A2.1,1.4,177,1,0,49.6,9.3A2.1,1.4,177,1,0,53.8,9.1ZM29.2,5.3A2.1,1.9,37,1,0,32.6,7.9A2.1,1.9,37,1,0,29.2,5.3ZM32.6,6.5A2.5,1.8,136,1,0,29.0,10.0A2.5,1.8,136,1,0,32.6,6.5ZM35.2,5.3A1.6,1.4,157,1,0,32.3,6.5A1.6,1.4,157,1,0,35.2,5.3ZM34.2,6.3A1.8,1.6,95,1,0,33.9,10.0A1.8,1.6,95,1,0,34.2,6.3ZM23.0,3.3A2.0,1.3,142,1,0,19.8,5.8A2.0,1.3,142,1,0,23.0,3.3ZM22.0,2.5A2.5,1.5,53,1,0,25.0,6.4A2.5,1.5,53,1,0,22.0,2.5ZM13.3,38.5A2.6,1.6,142,1,0,9.3,41.6A2.6,1.6,142,1,0,13.3,38.5ZM9.1,41.0A3.2,1.9,59,1,0,12.4,46.6A3.2,1.9,59,1,0,9.1,41.0ZM2.0,41.0A5.3,2.8,100,1,0,0.0,51.5A5.3,2.8,100,1,0,2.0,41.0ZM-3.2,45.5A5.0,3.0,8,1,0,6.7,46.8A5.0,3.0,8,1,0,-3.2,45.5ZM31.6,39.3A3.2,1.5,137,1,0,27.0,43.7A3.2,1.5,137,1,0,31.6,39.3ZM26.7,37.2A3.0,2.2,91,1,0,26.5,43.2A3.0,2.2,91,1,0,26.7,37.2ZM44.2,21.4A2.5,2.3,104,1,0,43.0,26.3A2.5,2.3,104,1,0,44.2,21.4ZM43.1,22.7A3.3,2.2,6,1,0,49.8,23.4A3.3,2.2,6,1,0,43.1,22.7ZM54.0,39.5A2.6,2.0,70,1,0,55.8,44.4A2.6,2.0,70,1,0,54.0,39.5ZM52.6,38.2A2.9,2.2,69,1,0,54.7,43.6A2.9,2.2,69,1,0,52.6,38.2ZM50.8,28.9A2.8,2.1,84,1,0,51.4,34.5A2.8,2.1,84,1,0,50.8,28.9ZM50.9,32.9A2.4,2.3,120,1,0,48.4,37.1A2.4,2.3,120,1,0,50.9,32.9ZM42.8,29.4A3.2,2.0,23,1,0,48.7,31.9A3.2,2.0,23,1,0,42.8,29.4ZM46.4,26.3A2.8,2.0,22,1,0,51.6,28.4A2.8,2.0,22,1,0,46.4,26.3ZM53.6,9.3A2.0,1.6,18,1,0,57.4,10.5A2.0,1.6,18,1,0,53.6,9.3ZM54.1,9.0A2.4,1.7,55,1,0,56.9,12.9A2.4,1.7,55,1,0,54.1,9.0ZM56.6,14.3A3.5,2.2,7,1,0,63.5,15.2A3.5,2.2,7,1,0,56.6,14.3ZM60.9,13.1A2.5,2.2,90,1,0,60.9,18.0A2.5,2.2,90,1,0,60.9,13.1ZM68.2,9.5A2.2,1.3,130,1,0,65.4,12.8A2.2,1.3,130,1,0,68.2,9.5ZM68.3,7.6A2.6,1.9,116,1,0,66.0,12.3A2.6,1.9,116,1,0,68.3,7.6ZM90.7,2.3A3.6,2.3,172,1,0,83.6,3.3A3.6,2.3,172,1,0,90.7,2.3ZM90.2,2.1A3.6,1.8,140,1,0,84.7,6.7A3.6,1.8,140,1,0,90.2,2.1ZM80.7,5.7A2.3,1.2,120,1,0,78.4,9.7A2.3,1.2,120,1,0,80.7,5.7ZM79.0,6.2A1.8,1.3,85,1,0,79.3,9.8A1.8,1.3,85,1,0,79.0,6.2ZM80.2,6.7A2.9,1.7,74,1,0,81.8,12.2A2.9,1.7,74,1,0,80.2,6.7ZM78.4,6.5A2.8,1.9,19,1,0,83.7,8.3A2.8,1.9,19,1,0,78.4,6.5ZM97.5,10.5A3.5,1.4,160,1,0,91.0,12.9A3.5,1.4,160,1,0,97.5,10.5ZM96.5,12.6A2.4,1.6,72,1,0,98.0,17.2A2.4,1.6,72,1,0,96.5,12.6ZM99.3,11.2A3.1,1.7,129,1,0,95.5,15.9A3.1,1.7,129,1,0,99.3,11.2ZM99.1,13.6A2.9,1.7,75,1,0,100.7,19.2A2.9,1.7,75,1,0,99.1,13.6ZM99.8,21.3A3.2,2.1,80,1,0,100.9,27.6A3.2,2.1,80,1,0,99.8,21.3ZM97.3,20.5A3.3,1.9,19,1,0,103.4,22.6A3.3,1.9,19,1,0,97.3,20.5ZM101.1,23.0A4.9,2.4,108,1,0,98.0,32.4A4.9,2.4,108,1,0,101.1,23.0ZM93.5,26.4A5.6,3.5,15,1,0,104.2,29.3A5.6,3.5,15,1,0,93.5,26.4ZM97.0,24.2A6.3,3.6,59,1,0,103.6,35.0A6.3,3.6,59,1,0,97.0,24.2ZM108.6,26.9A4.8,4.1,167,1,0,99.3,29.0A4.8,4.1,167,1,0,108.6,26.9ZM105.1,23.1A4.0,2.1,77,1,0,106.9,30.9A4.0,2.1,77,1,0,105.1,23.1ZM112.1,28.8A4.4,2.3,170,1,0,103.3,30.3A4.4,2.3,170,1,0,112.1,28.8ZM82.2,33.1A5.2,2.8,14,1,0,92.3,35.7A5.2,2.8,14,1,0,82.2,33.1ZM92.5,28.5A4.4,3.0,106,1,0,90.0,36.9A4.4,3.0,106,1,0,92.5,28.5ZM84.7,23.9A4.4,1.9,136,1,0,78.4,30.0A4.4,1.9,136,1,0,84.7,23.9ZM84.5,26.2A3.3,2.3,136,1,0,79.7,30.8A3.3,2.3,136,1,0,84.5,26.2ZM75.5,31.7A5.5,2.9,107,1,0,72.3,42.3A5.5,2.9,107,1,0,75.5,31.7ZM70.1,36.6A3.7,2.3,1,1,0,77.6,36.7A3.7,2.3,1,1,0,70.1,36.6ZM72.9,29.9A4.7,2.2,55,1,0,78.3,37.6A4.7,2.2,55,1,0,72.9,29.9ZM74.0,30.6A4.4,1.9,56,1,0,78.9,38.0A4.4,1.9,56,1,0,74.0,30.6ZM53.8,32.6A5.5,2.6,29,1,0,63.4,37.9A5.5,2.6,29,1,0,53.8,32.6ZM59.9,32.6A4.9,2.9,88,1,0,60.2,42.4A4.9,2.9,88,1,0,59.9,32.6ZM62.9,36.6A4.2,2.0,65,1,0,66.4,44.3A4.2,2.0,65,1,0,62.9,36.6ZM65.2,33.2A3.6,2.0,85,1,0,65.8,40.3A3.6,2.0,85,1,0,65.2,33.2ZM68.0,40.3A5.1,3.6,74,1,0,70.7,50.1A5.1,3.6,74,1,0,68.0,40.3ZM65.4,44.2A3.7,2.5,50,1,0,70.2,49.9A3.7,2.5,50,1,0,65.4,44.2ZM70.5,43.5A4.5,2.9,70,1,0,73.7,52.0A4.5,2.9,70,1,0,70.5,43.5ZM78.2,45.5A5.5,2.7,174,1,0,67.2,46.7A5.5,2.7,174,1,0,78.2,45.5ZM80.6,39.9A3.1,2.1,138,1,0,76.0,44.0A3.1,2.1,138,1,0,80.6,39.9ZM75.5,43.8A3.1,2.1,34,1,0,80.6,47.3A3.1,2.1,34,1,0,75.5,43.8ZM82.7,50.3A4.2,2.9,141,1,0,76.2,55.5A4.2,2.9,141,1,0,82.7,50.3ZM78.1,47.1A5.4,2.4,63,1,0,82.9,56.9A5.4,2.4,63,1,0,78.1,47.1ZM85.6,46.4A3.3,2.0,8,1,0,92.1,47.3A3.3,2.0,8,1,0,85.6,46.4ZM91.8,41.0A3.4,2.8,137,1,0,86.7,45.7A3.4,2.8,137,1,0,91.8,41.0ZM91.9,41.1A3.2,2.3,164,1,0,85.8,42.8A3.2,2.3,164,1,0,91.9,41.1ZM87.1,41.6A3.8,2.7,15,1,0,94.5,43.7A3.8,2.7,15,1,0,87.1,41.6ZM101.9,42.2A4.9,2.2,110,1,0,98.6,51.3A4.9,2.2,110,1,0,101.9,42.2ZM105.5,46.6A4.6,3.5,176,1,0,96.4,47.2A4.6,3.5,176,1,0,105.5,46.6ZM108.4,42.2A3.1,1.5,156,1,0,102.7,44.8A3.1,1.5,156,1,0,108.4,42.2ZM111.2,41.1A3.6,2.1,171,1,0,104.0,42.2A3.6,2.1,171,1,0,111.2,41.1ZM95.0,47.4A3.6,2.9,77,1,0,96.7,54.3A3.6,2.9,77,1,0,95.0,47.4ZM91.7,48.8A4.7,2.2,30,1,0,99.9,53.5A4.7,2.2,30,1,0,91.7,48.8ZM65.7,23.7A3.7,2.2,108,1,0,63.4,30.8A3.7,2.2,108,1,0,65.7,23.7ZM64.2,26.7A2.6,1.6,13,1,0,69.3,27.9A2.6,1.6,13,1,0,64.2,26.7ZM75.6,29.6A2.6,2.4,136,1,0,71.9,33.2A2.6,2.4,136,1,0,75.6,29.6ZM71.0,32.5A3.1,2.3,30,1,0,76.4,35.6A3.1,2.3,30,1,0,71.0,32.5ZM98.2,38.1A3.0,1.7,171,1,0,92.2,39.0A3.0,1.7,171,1,0,98.2,38.1ZM92.7,36.3A3.2,1.9,41,1,0,97.4,40.4A3.2,1.9,41,1,0,92.7,36.3ZM77.8,30.6A3.7,2.1,8,1,0,85.1,31.6A3.7,2.1,8,1,0,77.8,30.6ZM86.1,28.1A3.4,1.8,147,1,0,80.3,31.9A3.4,1.8,147,1,0,86.1,28.1ZM57.4,19.1A3.4,2.3,156,1,0,51.2,21.8A3.4,2.3,156,1,0,57.4,19.1ZM57.3,21.2A2.6,2.3,169,1,0,52.2,22.2A2.6,2.3,169,1,0,57.3,21.2ZM53.8,7.8A1.8,1.3,48,1,0,56.2,10.4A1.8,1.3,48,1,0,53.8,7.8ZM54.7,6.7A2.1,1.4,48,1,0,57.5,9.7A2.1,1.4,48,1,0,54.7,6.7ZM1.6,63.8A4.6,2.8,13,1,0,10.5,65.8A4.6,2.8,13,1,0,1.6,63.8ZM7.3,59.4A5.6,3.3,108,1,0,3.8,70.1A5.6,3.3,108,1,0,7.3,59.4ZM8.2,64.3A5.8,2.7,46,1,0,16.4,72.7A5.8,2.7,46,1,0,8.2,64.3ZM16.2,63.6A6.6,2.5,92,1,0,15.9,76.9A6.6,2.5,92,1,0,16.2,63.6ZM23.2,66.4A5.5,4.4,137,1,0,15.1,74.0A5.5,4.4,137,1,0,23.2,66.4ZM22.6,69.0A7.3,4.1,121,1,0,15.2,81.5A7.3,4.1,121,1,0,22.6,69.0ZM20.1,80.4A6.6,2.6,172,1,0,7.1,82.3A6.6,2.6,172,1,0,20.1,80.4ZM20.1,70.7A4.3,2.7,114,1,0,16.5,78.6A4.3,2.7,114,1,0,20.1,70.7ZM16.9,74.7A4.6,3.5,139,1,0,9.9,80.7A4.6,3.5,139,1,0,16.9,74.7ZM10.3,78.8A4.0,3.5,99,1,0,9.1,86.7A4.0,3.5,99,1,0,10.3,78.8ZM17.2,81.1A6.4,3.2,46,1,0,26.1,90.4A6.4,3.2,46,1,0,17.2,81.1ZM15.8,77.4A6.5,4.0,77,1,0,18.6,90.1A6.5,4.0,77,1,0,15.8,77.4ZM26.1,60.1A3.6,3.1,51,1,0,30.6,65.7A3.6,3.1,51,1,0,26.1,60.1ZM35.9,60.9A5.4,2.2,160,1,0,25.8,64.6A5.4,2.2,160,1,0,35.9,60.9ZM24.0,72.1A5.8,4.4,19,1,0,35.0,75.8A5.8,4.4,19,1,0,24.0,72.1ZM33.8,76.8A5.5,3.1,157,1,0,23.8,81.0A5.5,3.1,157,1,0,33.8,76.8ZM36.8,72.1A5.7,4.7,100,1,0,34.9,83.4A5.7,4.7,100,1,0,36.8,72.1ZM25.2,79.1A7.7,4.1,53,1,0,34.5,91.5A7.7,4.1,53,1,0,25.2,79.1ZM34.6,83.7A4.4,3.8,74,1,0,37.0,92.3A4.4,3.8,74,1,0,34.6,83.7ZM41.3,87.1A6.6,2.8,156,1,0,29.2,92.4A6.6,2.8,156,1,0,41.3,87.1ZM30.3,90.0A4.5,3.0,122,1,0,25.6,97.6A4.5,3.0,122,1,0,30.3,90.0ZM26.1,89.3A4.4,2.8,29,1,0,33.8,93.6A4.4,2.8,29,1,0,26.1,89.3ZM23.6,96.6A4.9,2.3,48,1,0,30.1,103.9A4.9,2.3,48,1,0,23.6,96.6ZM31.1,100.6A5.0,2.6,173,1,0,21.1,101.8A5.0,2.6,173,1,0,31.1,100.6ZM26.0,103.7A5.6,3.0,54,1,0,32.7,112.8A5.6,3.0,54,1,0,26.0,103.7ZM39.8,103.8A5.4,3.2,175,1,0,29.2,104.7A5.4,3.2,175,1,0,39.8,103.8ZM41.4,59.9A5.5,2.1,132,1,0,34.1,68.0A5.5,2.1,132,1,0,41.4,59.9ZM44.4,56.3A5.0,3.4,118,1,0,39.7,65.2A5.0,3.4,118,1,0,44.4,56.3ZM42.1,56.9A5.0,2.6,92,1,0,41.8,66.9A5.0,2.6,92,1,0,42.1,56.9ZM40.6,60.6A4.1,2.6,4,1,0,48.9,61.1A4.1,2.6,4,1,0,40.6,60.6ZM44.1,59.6A3.9,3.2,18,1,0,51.5,62.0A3.9,3.2,18,1,0,44.1,59.6ZM48.5,55.5A5.3,2.3,34,1,0,57.4,61.4A5.3,2.3,34,1,0,48.5,55.5ZM50.7,72.7A5.7,2.2,171,1,0,39.5,74.4A5.7,2.2,171,1,0,50.7,72.7ZM43.8,69.4A4.5,2.1,96,1,0,42.8,78.4A4.5,2.1,96,1,0,43.8,69.4ZM47.9,77.7A4.5,3.5,77,1,0,50.0,86.4A4.5,3.5,77,1,0,47.9,77.7ZM56.1,76.7A5.4,2.6,154,1,0,46.4,81.3A5.4,2.6,154,1,0,56.1,76.7ZM51.1,79.5A4.8,2.3,97,1,0,49.9,89.2A4.8,2.3,97,1,0,51.1,79.5ZM51.0,79.1A3.9,2.7,93,1,0,50.6,87.0A3.9,2.7,93,1,0,51.0,79.1ZM49.8,88.3A4.6,3.9,75,1,0,52.2,97.3A4.6,3.9,75,1,0,49.8,88.3ZM51.0,92.2A5.2,2.6,119,1,0,46.0,101.2A5.2,2.6,119,1,0,51.0,92.2ZM56.3,90.6A5.7,3.1,96,1,0,55.1,101.9A5.7,3.1,96,1,0,56.3,90.6ZM49.6,92.6A5.4,3.2,50,1,0,56.6,100.9A5.4,3.2,50,1,0,49.6,92.6ZM50.7,98.8A5.3,2.4,155,1,0,41.1,103.3A5.3,2.4,155,1,0,50.7,98.8ZM47.7,98.3A5.1,3.1,143,1,0,39.5,104.5A5.1,3.1,143,1,0,47.7,98.3ZM41.2,87.4A4.5,1.9,61,1,0,45.6,95.3A4.5,1.9,61,1,0,41.2,87.4ZM39.5,89.9A3.2,2.3,70,1,0,41.7,95.9A3.2,2.3,70,1,0,39.5,89.9ZM11.7,88.8A3.6,1.9,32,1,0,17.8,92.6A3.6,1.9,32,1,0,11.7,88.8ZM11.1,93.1A3.6,1.8,4,1,0,18.2,93.6A3.6,1.8,4,1,0,11.1,93.1ZM17.7,95.7A3.4,2.1,15,1,0,24.2,97.4A3.4,2.1,15,1,0,17.7,95.7ZM22.9,92.3A2.6,2.4,140,1,0,18.9,95.6A2.6,2.4,140,1,0,22.9,92.3ZM6.3,75.4A3.7,1.4,114,1,0,3.2,82.1A3.7,1.4,114,1,0,6.3,75.4ZM8.0,75.0A3.8,1.8,104,1,0,6.2,82.4A3.8,1.8,104,1,0,8.0,75.0ZM25.3,53.6A3.3,2.1,87,1,0,25.6,60.2A3.3,2.1,87,1,0,25.3,53.6ZM30.3,55.7A4.2,3.0,162,1,0,22.3,58.3A4.2,3.0,162,1,0,30.3,55.7ZM26.2,56.6A3.6,2.8,2,1,0,33.4,56.9A3.6,2.8,2,1,0,26.2,56.6ZM24.1,55.6A4.4,3.0,23,1,0,32.1,59.0A4.4,3.0,23,1,0,24.1,55.6ZM81.4,58.7A4.6,3.4,170,1,0,72.3,60.2A4.6,3.4,170,1,0,81.4,58.7ZM74.6,53.1A4.6,4.0,97,1,0,73.5,62.2A4.6,4.0,97,1,0,74.6,53.1ZM77.5,67.5A3.8,2.9,153,1,0,70.7,71.0A3.8,2.9,153,1,0,77.5,67.5ZM82.5,66.0A5.3,3.5,154,1,0,72.9,70.6A5.3,3.5,154,1,0,82.5,66.0ZM72.9,68.8A4.3,3.5,63,1,0,76.9,76.5A4.3,3.5,63,1,0,72.9,68.8ZM74.1,72.5A3.6,3.5,71,1,0,76.5,79.4A3.6,3.5,71,1,0,74.1,72.5ZM82.6,70.7A4.4,2.2,165,1,0,74.1,73.0A4.4,2.2,165,1,0,82.6,70.7ZM73.5,70.2A4.6,2.2,13,1,0,82.4,72.3A4.6,2.2,13,1,0,73.5,70.2ZM80.3,56.7A5.4,2.4,47,1,0,87.8,64.6A5.4,2.4,47,1,0,80.3,56.7ZM89.0,57.4A4.6,3.5,174,1,0,79.9,58.4A4.6,3.5,174,1,0,89.0,57.4ZM99.8,55.8A5.6,2.5,174,1,0,88.7,56.9A5.6,2.5,174,1,0,99.8,55.8ZM91.8,56.8A3.7,2.2,4,1,0,99.2,57.3A3.7,2.2,4,1,0,91.8,56.8ZM98.4,60.2A4.2,2.5,90,1,0,98.3,68.7A4.2,2.5,90,1,0,98.4,60.2ZM92.2,60.7A5.9,3.2,37,1,0,101.6,67.7A5.9,3.2,37,1,0,92.2,60.7ZM90.3,65.2A4.5,3.6,69,1,0,93.5,73.5A4.5,3.6,69,1,0,90.3,65.2ZM98.3,68.8A6.0,2.9,160,1,0,87.1,72.9A6.0,2.9,160,1,0,98.3,68.8ZM107.4,70.8A5.6,4.3,162,1,0,96.7,74.2A5.6,4.3,162,1,0,107.4,70.8ZM98.5,71.1A6.9,3.7,96,1,0,97.0,84.8A6.9,3.7,96,1,0,98.5,71.1ZM109.4,66.9A3.3,2.4,112,1,0,107.0,73.0A3.3,2.4,112,1,0,109.4,66.9ZM109.9,66.7A4.0,2.4,129,1,0,104.9,72.9A4.0,2.4,129,1,0,109.9,66.7ZM93.8,81.6A4.8,4.8,23,1,0,102.7,85.4A4.8,4.8,23,1,0,93.8,81.6ZM98.6,78.7A6.0,3.7,73,1,0,102.1,90.2A6.0,3.7,73,1,0,98.6,78.7ZM88.4,92.2A4.6,3.5,7,1,0,97.5,93.3A4.6,3.5,7,1,0,88.4,92.2ZM96.0,87.6A5.8,4.2,136,1,0,87.7,95.7A5.8,4.2,136,1,0,96.0,87.6ZM88.0,80.7A4.4,2.9,70,1,0,91.1,88.9A4.4,2.9,70,1,0,88.0,80.7ZM86.3,84.2A4.4,2.5,10,1,0,94.9,85.7A4.4,2.5,10,1,0,86.3,84.2ZM105.5,96.0A3.6,3.3,147,1,0,99.4,99.9A3.6,3.3,147,1,0,105.5,96.0ZM100.0,89.0A5.5,3.5,48,1,0,107.4,97.3A5.5,3.5,48,1,0,100.0,89.0ZM107.6,103.2A4.6,3.0,165,1,0,98.6,105.5A4.6,3.0,165,1,0,107.6,103.2ZM95.9,101.9A4.9,2.2,21,1,0,105.1,105.4A4.9,2.2,21,1,0,95.9,101.9ZM91.0,101.6A4.8,2.6,35,1,0,98.8,107.1A4.8,2.6,35,1,0,91.0,101.6ZM90.5,106.3A4.2,3.4,2,1,0,98.9,106.6A4.2,3.4,2,1,0,90.5,106.3ZM89.2,91.4A4.3,3.4,110,1,0,86.2,99.6A4.3,3.4,110,1,0,89.2,91.4ZM86.5,96.3A4.7,2.5,58,1,0,91.6,104.2A4.7,2.5,58,1,0,86.5,96.3ZM86.3,92.4A4.4,3.0,179,1,0,77.5,92.6A4.4,3.0,179,1,0,86.3,92.4ZM77.5,88.4A3.7,2.3,25,1,0,84.3,91.6A3.7,2.3,25,1,0,77.5,88.4ZM69.6,92.0A3.9,3.2,1,1,0,77.3,92.2A3.9,3.2,1,1,0,69.6,92.0ZM72.4,97.0A4.8,3.1,9,1,0,81.9,98.5A4.8,3.1,9,1,0,72.4,97.0ZM67.2,86.6A4.0,2.8,43,1,0,73.1,92.1A4.0,2.8,43,1,0,67.2,86.6ZM77.8,91.5A4.6,2.6,170,1,0,68.7,93.1A4.6,2.6,170,1,0,77.8,91.5ZM60.8,74.8A4.6,3.0,39,1,0,68.0,80.5A4.6,3.0,39,1,0,60.8,74.8ZM57.9,80.7A4.2,4.1,14,1,0,66.1,82.7A4.2,4.1,14,1,0,57.9,80.7ZM60.9,73.5A5.0,2.2,174,1,0,50.9,74.5A5.0,2.2,174,1,0,60.9,73.5ZM55.5,73.8A4.1,2.9,45,1,0,61.2,79.6A4.1,2.9,45,1,0,55.5,73.8ZM64.9,76.9A4.2,3.3,52,1,0,70.0,83.4A4.2,3.3,52,1,0,64.9,76.9ZM65.2,77.4A5.0,2.3,54,1,0,71.1,85.5A5.0,2.3,54,1,0,65.2,77.4ZM51.6,89.9A7.1,3.0,11,1,0,65.6,92.7A7.1,3.0,11,1,0,51.6,89.9ZM58.4,90.4A5.1,3.8,163,1,0,48.7,93.4A5.1,3.8,163,1,0,58.4,90.4ZM60.7,95.6A5.5,3.9,89,1,0,60.9,106.6A5.5,3.9,89,1,0,60.7,95.6ZM58.5,95.1A5.8,2.9,157,1,0,48.0,99.7A5.8,2.9,157,1,0,58.5,95.1ZM55.0,106.0A5.3,3.7,43,1,0,62.6,113.2A5.3,3.7,43,1,0,55.0,106.0ZM55.2,103.4A7.3,3.6,50,1,0,64.6,114.7A7.3,3.6,50,1,0,55.2,103.4ZM63.5,104.7A3.5,2.6,18,1,0,70.2,106.9A3.5,2.6,18,1,0,63.5,104.7ZM63.2,107.5A3.2,3.0,35,1,0,68.6,111.1A3.2,3.0,35,1,0,63.2,107.5ZM85.3,103.5A3.1,2.9,101,1,0,84.1,109.6A3.1,2.9,101,1,0,85.3,103.5ZM86.0,104.0A4.3,2.0,93,1,0,85.6,112.7A4.3,2.0,93,1,0,86.0,104.0ZM103.4,81.3A2.7,1.5,17,1,0,108.6,82.8A2.7,1.5,17,1,0,103.4,81.3ZM108.4,81.6A2.4,1.7,162,1,0,103.8,83.1A2.4,1.7,162,1,0,108.4,81.6ZM111.5,108.4A3.2,2.8,150,1,0,105.9,111.6A3.2,2.8,150,1,0,111.5,108.4ZM107.0,103.5A4.4,2.2,73,1,0,109.6,111.9A4.4,2.2,73,1,0,107.0,103.5Z"/><path fill="#7aac28" opacity="0.8" filter="url(#blur1)" d="M88.6,91.8A1.8,0.7,376,1,0,92.1,92.9A1.8,0.7,376,1,0,88.6,91.8ZM21.0,98.3A1.6,0.7,146,1,0,18.4,100.1A1.6,0.7,146,1,0,21.0,98.3ZM17.1,19.5A0.9,0.9,356,1,0,19.0,19.4A0.9,0.9,356,1,0,17.1,19.5ZM50.5,74.4A1.0,0.8,279,1,0,50.8,72.4A1.0,0.8,279,1,0,50.5,74.4ZM50.5,12.7A1.1,0.6,220,1,0,48.8,11.2A1.1,0.6,220,1,0,50.5,12.7ZM95.6,79.4A1.5,1.0,191,1,0,92.6,78.8A1.5,1.0,191,1,0,95.6,79.4ZM82.4,38.2A1.6,0.6,152,1,0,79.6,39.7A1.6,0.6,152,1,0,82.4,38.2ZM18.9,84.0A1.6,0.6,187,1,0,15.7,83.6A1.6,0.6,187,1,0,18.9,84.0ZM88.9,75.3A1.8,0.8,334,1,0,92.1,73.7A1.8,0.8,334,1,0,88.9,75.3ZM31.7,70.5A1.1,0.9,140,1,0,29.9,71.9A1.1,0.9,140,1,0,31.7,70.5ZM99.5,58.5A1.3,0.8,120,1,0,98.2,60.8A1.3,0.8,120,1,0,99.5,58.5ZM64.6,113.2A1.6,0.5,217,1,0,62.1,111.3A1.6,0.5,217,1,0,64.6,113.2ZM95.2,54.7A1.5,0.6,345,1,0,98.1,53.8A1.5,0.6,345,1,0,95.2,54.7ZM60.6,73.9A1.0,0.6,339,1,0,62.5,73.2A1.0,0.6,339,1,0,60.6,73.9ZM48.9,76.0A1.6,0.9,146,1,0,46.3,77.8A1.6,0.9,146,1,0,48.9,76.0ZM51.0,67.7A1.1,0.8,187,1,0,48.8,67.4A1.1,0.8,187,1,0,51.0,67.7ZM100.7,38.4A1.7,0.6,181,1,0,97.2,38.3A1.7,0.6,181,1,0,100.7,38.4ZM62.7,11.8A1.9,1.0,402,1,0,65.6,14.4A1.9,1.0,402,1,0,62.7,11.8ZM88.0,51.0A1.6,0.7,171,1,0,84.8,51.5A1.6,0.7,171,1,0,88.0,51.0ZM98.2,12.6A1.6,0.6,349,1,0,101.3,12.0A1.6,0.6,349,1,0,98.2,12.6ZM99.3,77.7A2.0,0.9,164,1,0,95.6,78.8A2.0,0.9,164,1,0,99.3,77.7ZM76.6,59.3A1.6,0.6,386,1,0,79.4,60.7A1.6,0.6,386,1,0,76.6,59.3ZM94.6,61.2A1.7,0.9,129,1,0,92.4,63.9A1.7,0.9,129,1,0,94.6,61.2ZM58.3,115.9A1.7,0.8,205,1,0,55.3,114.5A1.7,0.8,205,1,0,58.3,115.9ZM72.5,41.5A1.5,0.7,416,1,0,74.1,43.9A1.5,0.7,416,1,0,72.5,41.5ZM75.8,70.6A1.6,0.7,217,1,0,73.2,68.7A1.6,0.7,217,1,0,75.8,70.6ZM92.4,6.6A1.8,1.0,126,1,0,90.2,9.6A1.8,1.0,126,1,0,92.4,6.6ZM67.4,87.0A1.6,0.5,312,1,0,69.6,84.6A1.6,0.5,312,1,0,67.4,87.0ZM43.9,81.6A1.7,0.9,259,1,0,43.2,78.3A1.7,0.9,259,1,0,43.9,81.6ZM50.6,65.7A1.3,0.7,159,1,0,48.2,66.6A1.3,0.7,159,1,0,50.6,65.7ZM27.0,38.6A2.0,0.8,173,1,0,23.1,39.1A2.0,0.8,173,1,0,27.0,38.6ZM104.5,57.6A1.3,0.5,426,1,0,105.6,60.0A1.3,0.5,426,1,0,104.5,57.6ZM65.9,45.3A1.1,1.0,289,1,0,66.5,43.3A1.1,1.0,289,1,0,65.9,45.3ZM72.2,41.5A1.0,0.8,395,1,0,73.8,42.6A1.0,0.8,395,1,0,72.2,41.5ZM24.7,92.3A1.9,0.8,338,1,0,28.2,90.9A1.9,0.8,338,1,0,24.7,92.3ZM90.0,53.5A1.8,0.6,380,1,0,93.4,54.7A1.8,0.6,380,1,0,90.0,53.5ZM49.2,24.2A1.7,0.6,103,1,0,48.4,27.5A1.7,0.6,103,1,0,49.2,24.2ZM27.3,30.1A1.1,0.8,222,1,0,25.6,28.6A1.1,0.8,222,1,0,27.3,30.1ZM22.3,24.9A1.4,0.9,120,1,0,20.9,27.3A1.4,0.9,120,1,0,22.3,24.9ZM18.8,76.8A1.0,0.6,172,1,0,16.8,77.1A1.0,0.6,172,1,0,18.8,76.8ZM65.9,15.2A2.0,0.7,249,1,0,64.5,11.5A2.0,0.7,249,1,0,65.9,15.2ZM22.8,44.8A1.6,0.6,280,1,0,23.3,41.8A1.6,0.6,280,1,0,22.8,44.8ZM102.5,25.9A1.5,0.8,399,1,0,104.8,27.8A1.5,0.8,399,1,0,102.5,25.9ZM48.7,36.0A1.5,1.0,219,1,0,46.4,34.2A1.5,1.0,219,1,0,48.7,36.0ZM85.9,39.1A1.1,0.7,367,1,0,88.2,39.3A1.1,0.7,367,1,0,85.9,39.1ZM93.4,88.8A1.2,0.6,204,1,0,91.2,87.8A1.2,0.6,204,1,0,93.4,88.8ZM105.1,43.1A1.5,0.7,414,1,0,106.8,45.5A1.5,0.7,414,1,0,105.1,43.1ZM57.0,95.4A1.2,0.6,76,1,0,57.6,97.8A1.2,0.6,76,1,0,57.0,95.4ZM39.4,33.9A2.0,0.8,150,1,0,36.0,35.8A2.0,0.8,150,1,0,39.4,33.9ZM94.0,81.2A1.4,0.9,202,1,0,91.4,80.1A1.4,0.9,202,1,0,94.0,81.2ZM32.9,32.8A1.9,0.8,256,1,0,32.0,29.2A1.9,0.8,256,1,0,32.9,32.8ZM94.2,66.9A1.3,0.8,357,1,0,96.7,66.7A1.3,0.8,357,1,0,94.2,66.9ZM21.6,5.2A1.1,1.0,248,1,0,20.8,3.1A1.1,1.0,248,1,0,21.6,5.2ZM91.2,34.9A1.2,0.5,263,1,0,90.9,32.5A1.2,0.5,263,1,0,91.2,34.9ZM101.1,17.9A1.8,0.8,196,1,0,97.6,16.9A1.8,0.8,196,1,0,101.1,17.9ZM37.5,39.6A1.9,0.9,368,1,0,41.3,40.1A1.9,0.9,368,1,0,37.5,39.6ZM99.0,59.8A1.5,0.5,140,1,0,96.6,61.7A1.5,0.5,140,1,0,99.0,59.8ZM35.7,5.4A1.0,0.7,463,1,0,35.2,7.4A1.0,0.7,463,1,0,35.7,5.4ZM64.9,21.7A1.9,0.9,347,1,0,68.7,20.8A1.9,0.9,347,1,0,64.9,21.7ZM88.1,24.6A1.5,0.9,407,1,0,90.1,26.8A1.5,0.9,407,1,0,88.1,24.6Z"/><g filter="url(#blur1)"><path fill="#9cc830" d="M22.4,17.8A4.1,1.3,140,1,0,16.1,23.1A4.1,1.3,140,1,0,22.4,17.8ZM20.4,20.2A3.8,1.2,123,1,0,16.3,26.6A3.8,1.2,123,1,0,20.4,20.2ZM21.7,20.4A3.9,1.2,152,1,0,14.8,24.2A3.9,1.2,152,1,0,21.7,20.4ZM23.1,18.6A4.1,1.3,140,1,0,16.7,23.8A4.1,1.3,140,1,0,23.1,18.6ZM29.8,27.9A2.9,0.9,177,1,0,24.0,28.3A2.9,0.9,177,1,0,29.8,27.9ZM28.2,24.9A3.2,1.0,105,1,0,26.6,31.1A3.2,1.0,105,1,0,28.2,24.9ZM27.8,23.5A2.3,0.7,109,1,0,26.3,27.8A2.3,0.7,109,1,0,27.8,23.5ZM28.2,25.7A2.4,0.7,175,1,0,23.4,26.1A2.4,0.7,175,1,0,28.2,25.7ZM27.5,31.8A2.6,0.8,154,1,0,22.8,34.2A2.6,0.8,154,1,0,27.5,31.8ZM27.8,32.9A2.5,0.8,124,1,0,25.0,37.1A2.5,0.8,124,1,0,27.8,32.9ZM26.7,32.5A1.9,0.6,125,1,0,24.5,35.6A1.9,0.6,125,1,0,26.7,32.5ZM25.3,32.4A2.0,0.6,74,1,0,26.4,36.2A2.0,0.6,74,1,0,25.3,32.4ZM30.5,26.9A3.8,1.1,27,1,0,37.2,30.4A3.8,1.1,27,1,0,30.5,26.9ZM31.6,30.0A3.2,1.0,-10,1,0,37.8,29.0A3.2,1.0,-10,1,0,31.6,30.0ZM32.0,27.9A4.0,1.2,18,1,0,39.7,30.4A4.0,1.2,18,1,0,32.0,27.9ZM33.5,29.1A3.1,1.0,-5,1,0,39.7,28.6A3.1,1.0,-5,1,0,33.5,29.1ZM36.3,24.3A3.6,1.1,43,1,0,41.7,29.2A3.6,1.1,43,1,0,36.3,24.3ZM37.0,28.2A3.5,1.1,11,1,0,43.9,29.6A3.5,1.1,11,1,0,37.0,28.2ZM39.4,25.1A3.3,1.0,82,1,0,40.3,31.6A3.3,1.0,82,1,0,39.4,25.1ZM36.8,27.2A3.7,1.1,7,1,0,44.1,28.1A3.7,1.1,7,1,0,36.8,27.2ZM40.3,23.7A2.2,0.7,169,1,0,35.9,24.6A2.2,0.7,169,1,0,40.3,23.7ZM40.6,25.1A2.5,0.8,162,1,0,35.8,26.6A2.5,0.8,162,1,0,40.6,25.1ZM40.2,26.0A2.3,0.7,192,1,0,35.7,25.0A2.3,0.7,192,1,0,40.2,26.0ZM39.2,23.2A2.8,0.9,125,1,0,36.0,27.9A2.8,0.9,125,1,0,39.2,23.2ZM36.5,34.1A2.6,0.8,119,1,0,34.0,38.7A2.6,0.8,119,1,0,36.5,34.1ZM39.4,37.3A3.3,1.0,167,1,0,33.0,38.8A3.3,1.0,167,1,0,39.4,37.3ZM35.9,33.5A2.9,0.9,123,1,0,32.8,38.3A2.9,0.9,123,1,0,35.9,33.5ZM38.6,37.9A2.8,0.8,178,1,0,33.0,38.1A2.8,0.8,178,1,0,38.6,37.9ZM38.0,39.0A4.1,1.2,114,1,0,34.6,46.5A4.1,1.2,114,1,0,38.0,39.0ZM38.3,41.1A3.3,1.0,114,1,0,35.6,47.2A3.3,1.0,114,1,0,38.3,41.1ZM41.5,44.6A3.2,1.0,177,1,0,35.0,45.0A3.2,1.0,177,1,0,41.5,44.6ZM39.7,39.5A4.0,1.2,131,1,0,34.4,45.5A4.0,1.2,131,1,0,39.7,39.5ZM39.6,41.8A3.5,1.1,100,1,0,38.4,48.6A3.5,1.1,100,1,0,39.6,41.8ZM38.5,42.1A2.9,0.9,85,1,0,38.9,47.8A2.9,0.9,85,1,0,38.5,42.1ZM37.0,43.5A3.1,1.0,23,1,0,42.8,46.0A3.1,1.0,23,1,0,37.0,43.5ZM38.7,40.5A3.5,1.1,88,1,0,38.9,47.4A3.5,1.1,88,1,0,38.7,40.5ZM40.3,47.1A4.1,1.2,135,1,0,34.5,52.9A4.1,1.2,135,1,0,40.3,47.1ZM40.2,47.0A2.8,0.9,122,1,0,37.3,51.7A2.8,0.9,122,1,0,40.2,47.0ZM41.5,47.6A3.3,1.0,118,1,0,38.4,53.5A3.3,1.0,118,1,0,41.5,47.6ZM38.6,48.5A3.2,1.0,112,1,0,36.2,54.3A3.2,1.0,112,1,0,38.6,48.5ZM49.9,12.5A2.2,0.7,161,1,0,45.8,13.9A2.2,0.7,161,1,0,49.9,12.5ZM49.8,13.5A1.9,0.6,178,1,0,46.0,13.7A1.9,0.6,178,1,0,49.8,13.5ZM49.8,13.2A1.9,0.6,173,1,0,46.0,13.6A1.9,0.6,173,1,0,49.8,13.2ZM50.9,12.2A2.2,0.7,140,1,0,47.6,15.1A2.2,0.7,140,1,0,50.9,12.2ZM52.5,9.6A1.3,0.4,159,1,0,50.1,10.6A1.3,0.4,159,1,0,52.5,9.6ZM51.8,9.3A1.4,0.4,162,1,0,49.1,10.2A1.4,0.4,162,1,0,51.8,9.3ZM52.7,8.1A1.8,0.6,127,1,0,50.5,10.9A1.8,0.6,127,1,0,52.7,8.1ZM52.4,8.4A1.7,0.5,136,1,0,49.9,10.8A1.7,0.5,136,1,0,52.4,8.4ZM30.9,5.5A1.5,0.5,51,1,0,32.8,7.9A1.5,0.5,51,1,0,30.9,5.5ZM31.3,6.5A1.5,0.5,61,1,0,32.8,9.2A1.5,0.5,61,1,0,31.3,6.5ZM30.0,5.9A1.9,0.6,38,1,0,33.0,8.4A1.9,0.6,38,1,0,30.0,5.9ZM31.0,6.6A1.6,0.5,68,1,0,32.2,9.6A1.6,0.5,68,1,0,31.0,6.6ZM35.5,5.6A1.2,0.4,139,1,0,33.7,7.2A1.2,0.4,139,1,0,35.5,5.6ZM35.9,6.6A1.5,0.5,141,1,0,33.6,8.5A1.5,0.5,141,1,0,35.9,6.6ZM35.4,6.8A1.3,0.4,143,1,0,33.3,8.3A1.3,0.4,143,1,0,35.4,6.8ZM36.0,5.7A1.8,0.5,136,1,0,33.5,8.2A1.8,0.5,136,1,0,36.0,5.7ZM24.1,2.1A1.8,0.5,135,1,0,21.5,4.7A1.8,0.5,135,1,0,24.1,2.1ZM22.5,2.5A1.4,0.4,116,1,0,21.3,5.0A1.4,0.4,116,1,0,22.5,2.5ZM23.0,2.1A1.5,0.4,121,1,0,21.5,4.6A1.5,0.4,121,1,0,23.0,2.1ZM22.4,2.9A1.7,0.5,76,1,0,23.3,6.1A1.7,0.5,76,1,0,22.4,2.9ZM12.5,39.2A2.0,0.6,102,1,0,11.7,43.1A2.0,0.6,102,1,0,12.5,39.2ZM13.4,41.9A2.6,0.8,195,1,0,8.4,40.5A2.6,0.8,195,1,0,13.4,41.9ZM14.7,43.4A2.8,0.9,186,1,0,9.1,42.8A2.8,0.9,186,1,0,14.7,43.4ZM14.5,42.6A2.7,0.8,175,1,0,9.1,43.1A2.7,0.8,175,1,0,14.5,42.6ZM28.1,40.5A2.2,0.7,95,1,0,27.7,44.9A2.2,0.7,95,1,0,28.1,40.5ZM27.3,39.2A2.4,0.7,59,1,0,29.8,43.3A2.4,0.7,59,1,0,27.3,39.2ZM26.3,41.0A1.9,0.6,15,1,0,30.0,42.0A1.9,0.6,15,1,0,26.3,41.0ZM27.1,40.5A2.5,0.8,41,1,0,30.9,43.8A2.5,0.8,41,1,0,27.1,40.5ZM48.1,25.4A2.4,0.7,184,1,0,43.3,25.0A2.4,0.7,184,1,0,48.1,25.4ZM47.6,26.7A2.1,0.7,220,1,0,44.4,24.0A2.1,0.7,220,1,0,47.6,26.7ZM46.2,25.7A2.1,0.6,223,1,0,43.1,22.8A2.1,0.6,223,1,0,46.2,25.7ZM46.1,25.3A2.0,0.6,157,1,0,42.5,26.9A2.0,0.6,157,1,0,46.1,25.3ZM54.7,41.3A2.3,0.7,209,1,0,50.7,39.1A2.3,0.7,209,1,0,54.7,41.3ZM53.9,38.5A1.9,0.6,144,1,0,50.7,40.7A1.9,0.6,144,1,0,53.9,38.5ZM56.1,40.2A2.5,0.8,198,1,0,51.3,38.7A2.5,0.8,198,1,0,56.1,40.2ZM54.9,40.2A2.8,0.9,192,1,0,49.5,39.1A2.8,0.9,192,1,0,54.9,40.2ZM49.9,30.1A2.8,0.9,85,1,0,50.4,35.6A2.8,0.9,85,1,0,49.9,30.1ZM48.6,32.1A2.2,0.7,34,1,0,52.3,34.5A2.2,0.7,34,1,0,48.6,32.1ZM48.0,32.7A2.2,0.7,18,1,0,52.1,34.0A2.2,0.7,18,1,0,48.0,32.7ZM49.3,32.1A2.2,0.7,64,1,0,51.2,36.0A2.2,0.7,64,1,0,49.3,32.1ZM46.9,26.9A2.2,0.7,91,1,0,46.8,31.4A2.2,0.7,91,1,0,46.9,26.9ZM48.8,28.5A2.4,0.7,142,1,0,45.0,31.5A2.4,0.7,142,1,0,48.8,28.5ZM46.1,27.7A2.3,0.7,87,1,0,46.3,32.4A2.3,0.7,87,1,0,46.1,27.7ZM48.3,26.1A2.6,0.8,121,1,0,45.7,30.7A2.6,0.8,121,1,0,48.3,26.1ZM57.7,9.1A1.9,0.6,114,1,0,56.1,12.7A1.9,0.6,114,1,0,57.7,9.1ZM56.4,10.2A1.5,0.5,47,1,0,58.4,12.4A1.5,0.5,47,1,0,56.4,10.2ZM54.9,9.7A1.6,0.5,29,1,0,57.7,11.2A1.6,0.5,29,1,0,54.9,9.7ZM58.2,9.6A1.7,0.5,116,1,0,56.7,12.7A1.7,0.5,116,1,0,58.2,9.6ZM57.6,14.7A2.0,0.6,-4,1,0,61.7,14.4A2.0,0.6,-4,1,0,57.6,14.7ZM58.0,14.1A2.7,0.8,14,1,0,63.2,15.4A2.7,0.8,14,1,0,58.0,14.1ZM57.5,17.0A2.5,0.8,-36,1,0,61.5,14.1A2.5,0.8,-36,1,0,57.5,17.0ZM57.2,14.4A1.8,0.5,2,1,0,60.8,14.6A1.8,0.5,2,1,0,57.2,14.4ZM65.8,10.5A1.5,0.5,41,1,0,68.0,12.4A1.5,0.5,41,1,0,65.8,10.5ZM66.3,9.8A1.7,0.5,31,1,0,69.2,11.5A1.7,0.5,31,1,0,66.3,9.8ZM66.4,10.7A2.0,0.6,21,1,0,70.1,12.1A2.0,0.6,21,1,0,66.4,10.7ZM67.6,9.2A2.0,0.6,76,1,0,68.6,13.1A2.0,0.6,76,1,0,67.6,9.2ZM85.9,2.4A2.7,0.8,22,1,0,90.9,4.4A2.7,0.8,22,1,0,85.9,2.4ZM87.3,2.8A1.9,0.6,63,1,0,89.1,6.3A1.9,0.6,63,1,0,87.3,2.8ZM87.8,2.5A2.6,0.8,79,1,0,88.8,7.6A2.6,0.8,79,1,0,87.8,2.5ZM89.0,1.6A2.0,0.6,73,1,0,90.2,5.4A2.0,0.6,73,1,0,89.0,1.6ZM81.5,5.4A1.7,0.5,133,1,0,79.1,7.9A1.7,0.5,133,1,0,81.5,5.4ZM81.2,7.0A1.7,0.5,179,1,0,77.8,7.1A1.7,0.5,179,1,0,81.2,7.0ZM80.9,6.0A1.6,0.5,148,1,0,78.1,7.8A1.6,0.5,148,1,0,80.9,6.0ZM81.0,6.4A1.2,0.4,169,1,0,78.7,6.9A1.2,0.4,169,1,0,81.0,6.4ZM79.0,6.9A1.5,0.4,59,1,0,80.5,9.4A1.5,0.4,59,1,0,79.0,6.9ZM79.7,8.3A1.8,0.6,50,1,0,82.0,11.1A1.8,0.6,50,1,0,79.7,8.3ZM81.3,7.6A2.1,0.6,126,1,0,78.8,10.9A2.1,0.6,126,1,0,81.3,7.6ZM78.0,8.3A1.9,0.6,37,1,0,81.1,10.6A1.9,0.6,37,1,0,78.0,8.3ZM93.2,12.6A2.3,0.7,32,1,0,97.1,15.0A2.3,0.7,32,1,0,93.2,12.6ZM92.8,11.9A2.5,0.8,13,1,0,97.7,13.1A2.5,0.8,13,1,0,92.8,11.9ZM94.8,12.3A1.8,0.6,39,1,0,97.6,14.6A1.8,0.6,39,1,0,94.8,12.3ZM94.6,11.1A2.4,0.7,43,1,0,98.0,14.3A2.4,0.7,43,1,0,94.6,11.1ZM99.2,13.7A1.5,0.4,134,1,0,97.1,15.8A1.5,0.4,134,1,0,99.2,13.7ZM101.1,15.9A1.7,0.5,208,1,0,98.1,14.3A1.7,0.5,208,1,0,101.1,15.9ZM101.2,14.2A1.9,0.6,180,1,0,97.4,14.2A1.9,0.6,180,1,0,101.2,14.2ZM99.7,15.8A1.7,0.5,200,1,0,96.5,14.6A1.7,0.5,200,1,0,99.7,15.8ZM96.1,22.1A2.3,0.7,2,1,0,100.7,22.3A2.3,0.7,2,1,0,96.1,22.1ZM97.1,23.9A2.3,0.7,5,1,0,101.6,24.3A2.3,0.7,5,1,0,97.1,23.9ZM96.0,23.8A2.0,0.6,-6,1,0,100.0,23.3A2.0,0.6,-6,1,0,96.0,23.8ZM97.2,21.0A2.6,0.8,43,1,0,101.0,24.6A2.6,0.8,43,1,0,97.2,21.0ZM94.8,26.8A3.8,1.2,66,1,0,98.0,33.7A3.8,1.2,66,1,0,94.8,26.8ZM98.8,28.7A3.3,1.0,137,1,0,94.1,33.2A3.3,1.0,137,1,0,98.8,28.7ZM98.2,28.6A4.0,1.2,132,1,0,92.8,34.5A4.0,1.2,132,1,0,98.2,28.6ZM96.8,26.8A3.2,1.0,88,1,0,97.0,33.2A3.2,1.0,88,1,0,96.8,26.8ZM89.5,32.5A3.8,1.2,90,1,0,89.5,40.2A3.8,1.2,90,1,0,89.5,32.5ZM84.7,32.9A3.7,1.1,29,1,0,91.1,36.4A3.7,1.1,29,1,0,84.7,32.9ZM86.1,34.5A3.6,1.1,20,1,0,92.8,36.8A3.6,1.1,20,1,0,86.1,34.5ZM87.5,32.8A3.3,1.0,73,1,0,89.3,39.1A3.3,1.0,73,1,0,87.5,32.8ZM84.4,27.3A2.4,0.7,130,1,0,81.3,31.0A2.4,0.7,130,1,0,84.4,27.3ZM88.2,27.1A3.6,1.1,174,1,0,81.1,27.9A3.6,1.1,174,1,0,88.2,27.1ZM86.8,28.6A3.5,1.1,197,1,0,80.1,26.6A3.5,1.1,197,1,0,86.8,28.6ZM86.1,23.7A3.6,1.1,108,1,0,83.9,30.5A3.6,1.1,108,1,0,86.1,23.7ZM75.2,31.0A3.0,0.9,116,1,0,72.5,36.4A3.0,0.9,116,1,0,75.2,31.0ZM73.1,31.5A3.9,1.2,66,1,0,76.4,38.6A3.9,1.2,66,1,0,73.1,31.5ZM74.0,32.4A3.1,1.0,113,1,0,71.6,38.1A3.1,1.0,113,1,0,74.0,32.4ZM70.2,32.9A3.7,1.1,40,1,0,75.9,37.7A3.7,1.1,40,1,0,70.2,32.9ZM75.4,35.9A2.8,0.9,3,1,0,81.1,36.2A2.8,0.9,3,1,0,75.4,35.9ZM74.6,35.5A2.3,0.7,36,1,0,78.4,38.3A2.3,0.7,36,1,0,74.6,35.5ZM73.7,34.2A3.2,1.0,14,1,0,79.8,35.7A3.2,1.0,14,1,0,73.7,34.2ZM74.7,38.2A2.8,0.9,-22,1,0,79.8,36.1A2.8,0.9,-22,1,0,74.7,38.2ZM57.7,33.4A4.3,1.3,69,1,0,60.8,41.4A4.3,1.3,69,1,0,57.7,33.4ZM56.4,37.5A4.1,1.2,-3,1,0,64.5,37.1A4.1,1.2,-3,1,0,56.4,37.5ZM55.0,38.2A4.0,1.2,-16,1,0,62.7,36.0A4.0,1.2,-16,1,0,55.0,38.2ZM54.3,34.8A3.3,1.0,22,1,0,60.5,37.3A3.3,1.0,22,1,0,54.3,34.8ZM64.6,34.7A2.6,0.8,87,1,0,64.9,39.9A2.6,0.8,87,1,0,64.6,34.7ZM61.5,35.6A3.2,1.0,49,1,0,65.6,40.4A3.2,1.0,49,1,0,61.5,35.6ZM60.9,35.6A3.0,0.9,39,1,0,65.6,39.4A3.0,0.9,39,1,0,60.9,35.6ZM63.9,35.2A3.4,1.1,86,1,0,64.3,42.1A3.4,1.1,86,1,0,63.9,35.2ZM65.3,48.2A4.2,1.3,-35,1,0,72.2,43.3A4.2,1.3,-35,1,0,65.3,48.2ZM67.6,45.0A3.0,0.9,57,1,0,70.9,50.0A3.0,0.9,57,1,0,67.6,45.0ZM65.5,46.3A3.7,1.1,-24,1,0,72.3,43.4A3.7,1.1,-24,1,0,65.5,46.3ZM65.7,45.5A3.3,1.0,-18,1,0,71.9,43.4A3.3,1.0,-18,1,0,65.7,45.5ZM76.0,41.5A3.0,0.9,104,1,0,74.4,47.4A3.0,0.9,104,1,0,76.0,41.5ZM77.9,40.6A3.5,1.1,128,1,0,73.6,46.1A3.5,1.1,128,1,0,77.9,40.6ZM76.9,40.8A2.4,0.7,100,1,0,76.1,45.6A2.4,0.7,100,1,0,76.9,40.8ZM75.4,40.9A3.1,0.9,51,1,0,79.3,45.7A3.1,0.9,51,1,0,75.4,40.9ZM81.3,45.5A3.0,0.9,103,1,0,79.9,51.4A3.0,0.9,103,1,0,81.3,45.5ZM80.4,47.6A3.8,1.1,117,1,0,77.0,54.2A3.8,1.1,117,1,0,80.4,47.6ZM83.4,49.9A3.3,1.0,171,1,0,76.8,50.9A3.3,1.0,171,1,0,83.4,49.9ZM83.8,48.2A3.6,1.1,131,1,0,79.1,53.6A3.6,1.1,131,1,0,83.8,48.2ZM87.2,41.3A3.3,1.0,112,1,0,84.8,47.3A3.3,1.0,112,1,0,87.2,41.3ZM86.9,40.9A3.1,1.0,105,1,0,85.2,47.0A3.1,1.0,105,1,0,86.9,40.9ZM88.7,44.3A2.6,0.8,137,1,0,84.8,47.9A2.6,0.8,137,1,0,88.7,44.3ZM88.9,43.3A3.6,1.1,147,1,0,82.9,47.2A3.6,1.1,147,1,0,88.9,43.3ZM89.1,38.2A3.1,0.9,65,1,0,91.8,43.8A3.1,0.9,65,1,0,89.1,38.2ZM87.0,42.1A3.4,1.0,-7,1,0,93.8,41.3A3.4,1.0,-7,1,0,87.0,42.1ZM88.9,38.2A3.1,0.9,54,1,0,92.5,43.1A3.1,0.9,54,1,0,88.9,38.2ZM89.6,42.7A2.9,0.9,-31,1,0,94.7,39.7A2.9,0.9,-31,1,0,89.6,42.7ZM108.6,41.1A2.5,0.8,141,1,0,104.7,44.2A2.5,0.8,141,1,0,108.6,41.1ZM107.4,38.7A2.6,0.8,115,1,0,105.2,43.5A2.6,0.8,115,1,0,107.4,38.7ZM108.0,41.6A2.1,0.6,140,1,0,104.7,44.3A2.1,0.6,140,1,0,108.0,41.6ZM107.8,39.7A2.3,0.7,85,1,0,108.2,44.2A2.3,0.7,85,1,0,107.8,39.7ZM94.6,48.8A2.5,0.8,27,1,0,99.0,51.0A2.5,0.8,27,1,0,94.6,48.8ZM94.1,46.6A3.6,1.1,29,1,0,100.3,50.0A3.6,1.1,29,1,0,94.1,46.6ZM93.4,49.5A2.3,0.7,20,1,0,97.7,51.1A2.3,0.7,20,1,0,93.4,49.5ZM95.2,46.0A3.2,1.0,59,1,0,98.4,51.5A3.2,1.0,59,1,0,95.2,46.0ZM69.9,26.6A2.8,0.9,181,1,0,64.2,26.5A2.8,0.9,181,1,0,69.9,26.6ZM66.7,28.1A2.1,0.6,219,1,0,63.5,25.4A2.1,0.6,219,1,0,66.7,28.1ZM67.3,24.8A2.5,0.8,151,1,0,63.0,27.2A2.5,0.8,151,1,0,67.3,24.8ZM67.8,25.7A2.8,0.9,154,1,0,62.8,28.1A2.8,0.9,154,1,0,67.8,25.7ZM73.2,30.3A2.1,0.6,128,1,0,70.7,33.6A2.1,0.6,128,1,0,73.2,30.3ZM72.9,31.8A1.9,0.6,100,1,0,72.2,35.6A1.9,0.6,100,1,0,72.9,31.8ZM75.1,31.5A2.7,0.8,137,1,0,71.1,35.2A2.7,0.8,137,1,0,75.1,31.5ZM74.8,30.7A2.8,0.9,129,1,0,71.2,35.1A2.8,0.9,129,1,0,74.8,30.7ZM93.3,35.9A2.6,0.8,58,1,0,96.1,40.3A2.6,0.8,58,1,0,93.3,35.9ZM92.4,36.6A1.9,0.6,36,1,0,95.5,38.9A1.9,0.6,36,1,0,92.4,36.6ZM95.0,34.8A2.2,0.7,67,1,0,96.7,38.8A2.2,0.7,67,1,0,95.0,34.8ZM95.2,35.2A2.6,0.8,101,1,0,94.3,40.3A2.6,0.8,101,1,0,95.2,35.2ZM86.2,31.5A2.7,0.8,173,1,0,80.9,32.1A2.7,0.8,173,1,0,86.2,31.5ZM84.3,29.9A2.7,0.8,142,1,0,80.2,33.2A2.7,0.8,142,1,0,84.3,29.9ZM84.1,32.4A2.1,0.6,185,1,0,80.0,32.0A2.1,0.6,185,1,0,84.1,32.4ZM84.1,31.0A2.7,0.8,140,1,0,80.1,34.5A2.7,0.8,140,1,0,84.1,31.0ZM56.1,21.0A2.0,0.6,75,1,0,57.1,24.9A2.0,0.6,75,1,0,56.1,21.0ZM52.4,20.8A2.7,0.8,19,1,0,57.5,22.6A2.7,0.8,19,1,0,52.4,20.8ZM52.9,19.2A2.5,0.8,44,1,0,56.5,22.7A2.5,0.8,44,1,0,52.9,19.2ZM56.1,20.1A1.9,0.6,98,1,0,55.6,23.8A1.9,0.6,98,1,0,56.1,20.1ZM57.7,7.3A1.6,0.5,141,1,0,55.3,9.3A1.6,0.5,141,1,0,57.7,7.3ZM57.6,8.8A1.4,0.4,205,1,0,55.1,7.7A1.4,0.4,205,1,0,57.6,8.8ZM56.0,6.5A1.3,0.4,110,1,0,55.1,9.0A1.3,0.4,110,1,0,56.0,6.5ZM57.5,8.8A1.5,0.5,204,1,0,54.8,7.6A1.5,0.5,204,1,0,57.5,8.8ZM4.4,61.8A3.5,1.1,74,1,0,6.4,68.4A3.5,1.1,74,1,0,4.4,61.8ZM5.6,61.8A3.3,1.0,66,1,0,8.3,67.8A3.3,1.0,66,1,0,5.6,61.8ZM6.6,60.7A4.1,1.3,86,1,0,7.2,68.9A4.1,1.3,86,1,0,6.6,60.7ZM6.1,59.6A3.8,1.2,68,1,0,8.9,66.6A3.8,1.2,68,1,0,6.1,59.6ZM16.9,67.9A3.7,1.1,150,1,0,10.4,71.6A3.7,1.1,150,1,0,16.9,67.9ZM16.5,67.2A3.3,1.0,158,1,0,10.4,69.6A3.3,1.0,158,1,0,16.5,67.2ZM19.5,65.8A4.8,1.5,138,1,0,12.3,72.1A4.8,1.5,138,1,0,19.5,65.8ZM13.7,67.2A4.7,1.4,108,1,0,10.7,76.0A4.7,1.4,108,1,0,13.7,67.2ZM25.9,69.1A4.1,1.2,164,1,0,18.1,71.3A4.1,1.2,164,1,0,25.9,69.1ZM22.9,64.9A5.4,1.7,111,1,0,19.0,75.0A5.4,1.7,111,1,0,22.9,64.9ZM18.3,68.1A5.0,1.5,93,1,0,17.9,78.1A5.0,1.5,93,1,0,18.3,68.1ZM23.4,71.2A4.0,1.2,133,1,0,17.9,77.0A4.0,1.2,133,1,0,23.4,71.2ZM18.0,74.4A4.4,1.3,129,1,0,12.4,81.2A4.4,1.3,129,1,0,18.0,74.4ZM21.9,78.7A3.4,1.0,211,1,0,16.0,75.3A3.4,1.0,211,1,0,21.9,78.7ZM22.0,79.6A3.7,1.1,186,1,0,14.5,78.9A3.7,1.1,186,1,0,22.0,79.6ZM19.4,80.6A4.7,1.5,222,1,0,12.4,74.3A4.7,1.5,222,1,0,19.4,80.6ZM9.0,76.4A4.0,1.2,33,1,0,15.7,80.8A4.0,1.2,33,1,0,9.0,76.4ZM9.3,77.0A3.4,1.0,49,1,0,13.7,82.1A3.4,1.0,49,1,0,9.3,77.0ZM9.0,77.5A3.3,1.0,38,1,0,14.2,81.5A3.3,1.0,38,1,0,9.0,77.5ZM7.2,77.3A3.8,1.2,18,1,0,14.5,79.7A3.8,1.2,18,1,0,7.2,77.3ZM23.9,80.0A4.3,1.3,140,1,0,17.3,85.6A4.3,1.3,140,1,0,23.9,80.0ZM22.4,81.4A3.2,1.0,160,1,0,16.5,83.6A3.2,1.0,160,1,0,22.4,81.4ZM23.0,82.9A4.0,1.2,174,1,0,15.1,83.8A4.0,1.2,174,1,0,23.0,82.9ZM25.1,82.7A4.1,1.3,157,1,0,17.5,86.0A4.1,1.3,157,1,0,25.1,82.7ZM28.4,62.0A3.5,1.1,79,1,0,29.7,68.9A3.5,1.1,79,1,0,28.4,62.0ZM28.8,62.7A3.8,1.2,89,1,0,28.9,70.2A3.8,1.2,89,1,0,28.8,62.7ZM30.6,63.1A4.2,1.3,157,1,0,22.8,66.3A4.2,1.3,157,1,0,30.6,63.1ZM27.6,61.7A2.8,0.9,80,1,0,28.5,67.3A2.8,0.9,80,1,0,27.6,61.7ZM30.9,92.4A4.2,1.3,146,1,0,23.9,97.1A4.2,1.3,146,1,0,30.9,92.4ZM30.9,93.4A4.1,1.2,156,1,0,23.4,96.7A4.1,1.2,156,1,0,30.9,93.4ZM26.8,92.1A2.9,0.9,72,1,0,28.5,97.6A2.9,0.9,72,1,0,26.8,92.1ZM26.0,89.2A3.9,1.2,85,1,0,26.8,96.9A3.9,1.2,85,1,0,26.0,89.2ZM22.7,101.9A3.0,0.9,19,1,0,28.4,103.9A3.0,0.9,19,1,0,22.7,101.9ZM23.0,100.0A4.3,1.3,9,1,0,31.6,101.3A4.3,1.3,9,1,0,23.0,100.0ZM23.2,102.5A3.3,1.0,4,1,0,29.8,103.0A3.3,1.0,4,1,0,23.2,102.5ZM24.0,103.0A3.4,1.0,-11,1,0,30.6,101.7A3.4,1.0,-11,1,0,24.0,103.0ZM35.6,103.2A3.5,1.1,155,1,0,29.3,106.1A3.5,1.1,155,1,0,35.6,103.2ZM35.2,104.7A3.8,1.2,143,1,0,29.1,109.2A3.8,1.2,143,1,0,35.2,104.7ZM33.6,103.7A4.0,1.2,133,1,0,28.1,109.7A4.0,1.2,133,1,0,33.6,103.7ZM33.7,101.3A3.1,0.9,94,1,0,33.3,107.4A3.1,0.9,94,1,0,33.7,101.3ZM38.5,60.1A3.4,1.0,36,1,0,44.1,64.1A3.4,1.0,36,1,0,38.5,60.1ZM38.7,58.5A2.9,0.9,70,1,0,40.7,63.9A2.9,0.9,70,1,0,38.7,58.5ZM38.9,59.4A3.2,1.0,55,1,0,42.6,64.7A3.2,1.0,55,1,0,38.9,59.4ZM40.1,57.1A3.6,1.1,78,1,0,41.7,64.2A3.6,1.1,78,1,0,40.1,57.1ZM48.7,59.0A3.6,1.1,190,1,0,41.6,57.7A3.6,1.1,190,1,0,48.7,59.0ZM48.4,61.3A3.4,1.0,192,1,0,41.8,59.8A3.4,1.0,192,1,0,48.4,61.3ZM47.1,55.8A3.2,1.0,119,1,0,44.0,61.4A3.2,1.0,119,1,0,47.1,55.8ZM45.3,57.8A3.1,1.0,155,1,0,39.6,60.5A3.1,1.0,155,1,0,45.3,57.8ZM48.8,57.6A2.9,0.9,94,1,0,48.3,63.5A2.9,0.9,94,1,0,48.8,57.6ZM46.3,58.4A4.3,1.3,47,1,0,52.2,64.8A4.3,1.3,47,1,0,46.3,58.4ZM45.5,56.6A4.3,1.3,41,1,0,51.9,62.2A4.3,1.3,41,1,0,45.5,56.6ZM50.5,57.1A3.0,0.9,133,1,0,46.3,61.5A3.0,0.9,133,1,0,50.5,57.1ZM43.1,74.8A3.1,1.0,-4,1,0,49.3,74.3A3.1,1.0,-4,1,0,43.1,74.8ZM41.2,72.9A3.4,1.0,38,1,0,46.7,77.1A3.4,1.0,38,1,0,41.2,72.9ZM40.6,72.8A3.6,1.1,14,1,0,47.5,74.5A3.6,1.1,14,1,0,40.6,72.8ZM41.8,73.8A2.8,0.8,52,1,0,45.2,78.2A2.8,0.8,52,1,0,41.8,73.8ZM55.1,81.2A3.5,1.1,181,1,0,48.1,81.1A3.5,1.1,181,1,0,55.1,81.2ZM52.9,79.3A3.4,1.0,170,1,0,46.2,80.5A3.4,1.0,170,1,0,52.9,79.3ZM53.2,80.8A3.0,0.9,226,1,0,49.1,76.5A3.0,0.9,226,1,0,53.2,80.8ZM53.9,77.7A3.4,1.0,156,1,0,47.7,80.4A3.4,1.0,156,1,0,53.9,77.7ZM53.4,82.8A3.4,1.0,141,1,0,48.1,87.1A3.4,1.0,141,1,0,53.4,82.8ZM55.7,86.7A4.1,1.3,184,1,0,47.4,86.2A4.1,1.3,184,1,0,55.7,86.7ZM55.1,87.6A3.9,1.2,214,1,0,48.6,83.2A3.9,1.2,214,1,0,55.1,87.6ZM56.5,83.4A3.7,1.1,157,1,0,49.7,86.4A3.7,1.1,157,1,0,56.5,83.4ZM42.8,89.6A3.5,1.1,83,1,0,43.7,96.5A3.5,1.1,83,1,0,42.8,89.6ZM40.6,90.9A2.3,0.7,82,1,0,41.3,95.5A2.3,0.7,82,1,0,40.6,90.9ZM38.2,90.9A3.3,1.0,39,1,0,43.4,95.1A3.3,1.0,39,1,0,38.2,90.9ZM37.2,93.4A3.5,1.1,8,1,0,44.2,94.3A3.5,1.1,8,1,0,37.2,93.4ZM14.6,90.2A1.9,0.6,34,1,0,17.8,92.4A1.9,0.6,34,1,0,14.6,90.2ZM15.7,90.7A2.2,0.7,70,1,0,17.2,94.9A2.2,0.7,70,1,0,15.7,90.7ZM14.4,91.4A2.7,0.8,33,1,0,19.0,94.5A2.7,0.8,33,1,0,14.4,91.4ZM15.6,91.2A1.8,0.6,111,1,0,14.3,94.7A1.8,0.6,111,1,0,15.6,91.2ZM17.7,92.9A2.4,0.7,36,1,0,21.5,95.7A2.4,0.7,36,1,0,17.7,92.9ZM17.4,93.0A1.9,0.6,45,1,0,20.1,95.7A1.9,0.6,45,1,0,17.4,93.0ZM17.1,93.1A2.6,0.8,25,1,0,21.7,95.3A2.6,0.8,25,1,0,17.1,93.1ZM16.0,95.1A2.7,0.8,-11,1,0,21.2,94.1A2.7,0.8,-11,1,0,16.0,95.1ZM3.6,79.3A2.2,0.7,2,1,0,8.0,79.4A2.2,0.7,2,1,0,3.6,79.3ZM3.4,80.1A2.7,0.8,20,1,0,8.3,81.9A2.7,0.8,20,1,0,3.4,80.1ZM2.7,80.0A2.5,0.8,-6,1,0,7.6,79.5A2.5,0.8,-6,1,0,2.7,80.0ZM3.4,79.2A2.4,0.7,43,1,0,6.9,82.5A2.4,0.7,43,1,0,3.4,79.2ZM24.9,51.9A3.2,1.0,104,1,0,23.3,58.1A3.2,1.0,104,1,0,24.9,51.9ZM25.6,54.0A3.5,1.1,118,1,0,22.4,60.2A3.5,1.1,118,1,0,25.6,54.0ZM28.5,53.2A3.0,0.9,138,1,0,24.1,57.2A3.0,0.9,138,1,0,28.5,53.2ZM25.8,53.9A2.3,0.7,125,1,0,23.2,57.7A2.3,0.7,125,1,0,25.8,53.9ZM29.8,56.9A2.3,0.7,61,1,0,32.1,61.0A2.3,0.7,61,1,0,29.8,56.9ZM27.2,57.2A3.3,1.0,-1,1,0,33.7,57.1A3.3,1.0,-1,1,0,27.2,57.2ZM28.9,55.1A2.5,0.8,59,1,0,31.5,59.4A2.5,0.8,59,1,0,28.9,55.1ZM29.0,54.7A3.2,1.0,50,1,0,33.1,59.7A3.2,1.0,50,1,0,29.0,54.7ZM78.1,55.4A4.8,1.5,87,1,0,78.7,65.0A4.8,1.5,87,1,0,78.1,55.4ZM75.8,55.7A3.3,1.0,93,1,0,75.4,62.2A3.3,1.0,93,1,0,75.8,55.7ZM79.2,58.5A4.2,1.3,166,1,0,71.2,60.5A4.2,1.3,166,1,0,79.2,58.5ZM78.4,57.5A4.7,1.4,131,1,0,72.3,64.6A4.7,1.4,131,1,0,78.4,57.5ZM73.5,64.7A3.0,0.9,26,1,0,79.0,67.3A3.0,0.9,26,1,0,73.5,64.7ZM70.4,65.0A4.1,1.3,16,1,0,78.3,67.2A4.1,1.3,16,1,0,70.4,65.0ZM74.7,64.6A2.8,0.8,65,1,0,77.0,69.6A2.8,0.8,65,1,0,74.7,64.6ZM71.5,66.8A2.8,0.8,28,1,0,76.4,69.4A2.8,0.8,28,1,0,71.5,66.8ZM70.5,76.0A3.9,1.2,-13,1,0,78.2,74.3A3.9,1.2,-13,1,0,70.5,76.0ZM70.7,71.2A3.1,0.9,59,1,0,73.9,76.5A3.1,0.9,59,1,0,70.7,71.2ZM69.7,73.4A3.0,0.9,34,1,0,74.7,76.8A3.0,0.9,34,1,0,69.7,73.4ZM69.8,73.0A3.3,1.0,43,1,0,74.7,77.6A3.3,1.0,43,1,0,69.8,73.0ZM77.8,69.6A3.7,1.1,67,1,0,80.7,76.4A3.7,1.1,67,1,0,77.8,69.6ZM81.0,71.2A3.0,0.9,98,1,0,80.1,77.2A3.0,0.9,98,1,0,81.0,71.2ZM78.6,68.1A3.8,1.2,73,1,0,80.9,75.4A3.8,1.2,73,1,0,78.6,68.1ZM81.2,68.6A3.9,1.2,103,1,0,79.4,76.3A3.9,1.2,103,1,0,81.2,68.6ZM90.0,55.5A4.0,1.2,129,1,0,85.0,61.6A4.0,1.2,129,1,0,90.0,55.5ZM86.1,55.8A2.8,0.9,52,1,0,89.6,60.3A2.8,0.9,52,1,0,86.1,55.8ZM87.4,57.7A3.1,1.0,125,1,0,83.9,62.8A3.1,1.0,125,1,0,87.4,57.7ZM88.3,55.1A3.4,1.0,88,1,0,88.5,61.9A3.4,1.0,88,1,0,88.3,55.1ZM96.2,54.4A3.1,0.9,91,1,0,96.1,60.5A3.1,0.9,91,1,0,96.2,54.4ZM93.3,57.7A4.1,1.3,25,1,0,100.8,61.2A4.1,1.3,25,1,0,93.3,57.7ZM95.5,56.1A3.2,1.0,64,1,0,98.3,61.9A3.2,1.0,64,1,0,95.5,56.1ZM99.2,55.1A4.1,1.3,101,1,0,97.7,63.2A4.1,1.3,101,1,0,99.2,55.1ZM107.3,70.6A2.6,0.8,187,1,0,102.1,70.0A2.6,0.8,187,1,0,107.3,70.6ZM106.3,66.5A2.8,0.9,118,1,0,103.7,71.4A2.8,0.9,118,1,0,106.3,66.5ZM108.4,70.9A2.4,0.7,195,1,0,103.8,69.7A2.4,0.7,195,1,0,108.4,70.9ZM109.8,71.5A3.4,1.0,193,1,0,103.0,70.0A3.4,1.0,193,1,0,109.8,71.5ZM94.0,87.2A4.1,1.3,51,1,0,99.2,93.5A4.1,1.3,51,1,0,94.0,87.2ZM90.8,87.4A4.3,1.3,52,1,0,96.1,94.2A4.3,1.3,52,1,0,90.8,87.4ZM91.1,91.4A4.3,1.3,9,1,0,99.6,92.6A4.3,1.3,9,1,0,91.1,91.4ZM89.0,87.4A4.7,1.4,26,1,0,97.3,91.6A4.7,1.4,26,1,0,89.0,87.4ZM92.7,78.2A3.6,1.1,106,1,0,90.7,85.1A3.6,1.1,106,1,0,92.7,78.2ZM95.2,78.5A3.2,1.0,133,1,0,90.8,83.2A3.2,1.0,133,1,0,95.2,78.5ZM95.4,78.4A4.2,1.3,126,1,0,90.4,85.2A4.2,1.3,126,1,0,95.4,78.4ZM92.0,79.3A3.3,1.0,113,1,0,89.4,85.4A3.3,1.0,113,1,0,92.0,79.3ZM105.6,91.4A2.8,0.8,115,1,0,103.2,96.4A2.8,0.8,115,1,0,105.6,91.4ZM103.9,91.0A2.9,0.9,85,1,0,104.4,96.7A2.9,0.9,85,1,0,103.9,91.0ZM106.4,91.0A3.1,1.0,120,1,0,103.3,96.3A3.1,1.0,120,1,0,106.4,91.0ZM103.6,90.4A4.2,1.3,92,1,0,103.4,98.8A4.2,1.3,92,1,0,103.6,90.4ZM106.4,101.9A2.7,0.8,162,1,0,101.2,103.6A2.7,0.8,162,1,0,106.4,101.9ZM107.7,102.8A3.5,1.1,185,1,0,100.8,102.2A3.5,1.1,185,1,0,107.7,102.8ZM105.5,104.8A3.5,1.1,214,1,0,99.8,101.0A3.5,1.1,214,1,0,105.5,104.8ZM106.1,105.0A3.7,1.1,208,1,0,99.5,101.6A3.7,1.1,208,1,0,106.1,105.0ZM99.1,106.0A3.0,0.9,158,1,0,93.5,108.3A3.0,0.9,158,1,0,99.1,106.0ZM98.8,108.7A4.1,1.2,214,1,0,92.0,104.2A4.1,1.2,214,1,0,98.8,108.7ZM100.9,102.8A4.3,1.3,154,1,0,93.2,106.5A4.3,1.3,154,1,0,100.9,102.8ZM100.4,105.6A4.2,1.3,174,1,0,92.1,106.5A4.2,1.3,174,1,0,100.4,105.6ZM90.1,94.3A3.2,1.0,126,1,0,86.3,99.5A3.2,1.0,126,1,0,90.1,94.3ZM89.1,98.2A2.9,0.9,153,1,0,83.9,100.8A2.9,0.9,153,1,0,89.1,98.2ZM92.2,98.7A3.6,1.1,176,1,0,85.0,99.3A3.6,1.1,176,1,0,92.2,98.7ZM92.2,98.0A3.7,1.1,165,1,0,85.2,100.0A3.7,1.1,165,1,0,92.2,98.0ZM84.0,89.5A3.5,1.1,112,1,0,81.4,96.0A3.5,1.1,112,1,0,84.0,89.5ZM83.2,87.9A3.4,1.1,96,1,0,82.5,94.8A3.4,1.1,96,1,0,83.2,87.9ZM82.0,88.6A3.0,0.9,88,1,0,82.2,94.5A3.0,0.9,88,1,0,82.0,88.6ZM85.1,89.8A4.2,1.3,131,1,0,79.6,96.2A4.2,1.3,131,1,0,85.1,89.8ZM74.5,93.8A3.1,1.0,45,1,0,78.9,98.2A3.1,1.0,45,1,0,74.5,93.8ZM73.5,93.0A2.9,0.9,59,1,0,76.5,97.9A2.9,0.9,59,1,0,73.5,93.0ZM73.4,92.4A3.5,1.1,18,1,0,80.1,94.6A3.5,1.1,18,1,0,73.4,92.4ZM74.9,92.0A3.2,1.0,68,1,0,77.2,97.8A3.2,1.0,68,1,0,74.9,92.0ZM69.5,87.8A3.4,1.0,12,1,0,76.2,89.2A3.4,1.0,12,1,0,69.5,87.8ZM67.5,90.5A3.7,1.1,8,1,0,74.8,91.5A3.7,1.1,8,1,0,67.5,90.5ZM68.6,86.6A4.1,1.2,57,1,0,73.0,93.4A4.1,1.2,57,1,0,68.6,86.6ZM70.5,92.8A3.3,1.0,-25,1,0,76.5,90.0A3.3,1.0,-25,1,0,70.5,92.8ZM62.0,78.1A3.2,1.0,125,1,0,58.4,83.4A3.2,1.0,125,1,0,62.0,78.1ZM67.3,76.4A4.4,1.4,146,1,0,59.9,81.3A4.4,1.4,146,1,0,67.3,76.4ZM66.6,80.4A4.4,1.3,164,1,0,58.2,82.8A4.4,1.3,164,1,0,66.6,80.4ZM64.1,76.9A3.4,1.0,129,1,0,59.9,82.2A3.4,1.0,129,1,0,64.1,76.9ZM52.9,74.9A4.1,1.3,36,1,0,59.6,79.8A4.1,1.3,36,1,0,52.9,74.9ZM57.7,71.0A3.8,1.2,100,1,0,56.3,78.6A3.8,1.2,100,1,0,57.7,71.0ZM57.3,73.9A3.1,1.0,99,1,0,56.3,80.0A3.1,1.0,99,1,0,57.3,73.9ZM58.7,72.2A2.8,0.9,113,1,0,56.5,77.4A2.8,0.9,113,1,0,58.7,72.2ZM68.7,78.9A2.9,0.9,132,1,0,64.8,83.2A2.9,0.9,132,1,0,68.7,78.9ZM68.8,75.6A3.9,1.2,85,1,0,69.4,83.4A3.9,1.2,85,1,0,68.8,75.6ZM67.6,76.7A3.6,1.1,60,1,0,71.3,82.9A3.6,1.1,60,1,0,67.6,76.7ZM66.7,77.1A3.5,1.1,81,1,0,67.8,84.0A3.5,1.1,81,1,0,66.7,77.1ZM64.2,104.3A3.0,0.9,67,1,0,66.5,109.8A3.0,0.9,67,1,0,64.2,104.3ZM64.1,106.4A3.6,1.1,25,1,0,70.5,109.4A3.6,1.1,25,1,0,64.1,106.4ZM64.1,104.9A2.8,0.9,78,1,0,65.3,110.4A2.8,0.9,78,1,0,64.1,104.9ZM63.4,108.5A3.3,1.0,7,1,0,69.9,109.3A3.3,1.0,7,1,0,63.4,108.5ZM84.0,105.2A2.7,0.8,47,1,0,87.7,109.3A2.7,0.8,47,1,0,84.0,105.2ZM81.3,106.5A3.3,1.0,30,1,0,87.0,109.8A3.3,1.0,30,1,0,81.3,106.5ZM86.2,105.3A3.3,1.0,103,1,0,84.7,111.8A3.3,1.0,103,1,0,86.2,105.3ZM85.7,103.9A3.0,0.9,97,1,0,85.1,109.8A3.0,0.9,97,1,0,85.7,103.9ZM105.4,82.0A2.2,0.7,47,1,0,108.4,85.2A2.2,0.7,47,1,0,105.4,82.0ZM103.3,83.5A2.8,0.9,10,1,0,108.8,84.4A2.8,0.9,10,1,0,103.3,83.5ZM105.6,82.0A2.8,0.9,31,1,0,110.4,84.9A2.8,0.9,31,1,0,105.6,82.0ZM106.2,83.3A2.1,0.6,24,1,0,110.0,85.0A2.1,0.6,24,1,0,106.2,83.3ZM106.0,106.7A2.6,0.8,34,1,0,110.3,109.6A2.6,0.8,34,1,0,106.0,106.7ZM104.1,105.8A3.3,1.0,34,1,0,109.6,109.5A3.3,1.0,34,1,0,104.1,105.8ZM106.6,105.2A3.3,1.0,53,1,0,110.6,110.5A3.3,1.0,53,1,0,106.6,105.2ZM106.3,105.9A2.5,0.8,69,1,0,108.1,110.5A2.5,0.8,69,1,0,106.3,105.9Z"/><path fill="#c8d834" d="M20.2,34.4A3.5,1.1,159,1,0,13.6,36.9A3.5,1.1,159,1,0,20.2,34.4ZM20.7,36.8A3.4,1.0,175,1,0,13.9,37.3A3.4,1.0,175,1,0,20.7,36.8ZM18.6,36.1A3.1,1.0,196,1,0,12.6,34.4A3.1,1.0,196,1,0,18.6,36.1ZM18.5,35.3A2.5,0.8,141,1,0,14.6,38.4A2.5,0.8,141,1,0,18.5,35.3ZM7.5,44.4A2.8,0.9,147,1,0,2.8,47.5A2.8,0.9,147,1,0,7.5,44.4ZM2.7,43.5A4.1,1.2,90,1,0,2.7,51.6A4.1,1.2,90,1,0,2.7,43.5ZM6.7,43.8A3.3,1.0,129,1,0,2.6,48.9A3.3,1.0,129,1,0,6.7,43.8ZM1.5,41.6A3.9,1.2,57,1,0,5.8,48.2A3.9,1.2,57,1,0,1.5,41.6ZM106.7,30.5A4.1,1.2,154,1,0,99.3,34.1A4.1,1.2,154,1,0,106.7,30.5ZM105.2,29.7A4.1,1.3,131,1,0,99.8,36.0A4.1,1.3,131,1,0,105.2,29.7ZM103.3,28.7A3.4,1.0,112,1,0,100.8,35.0A3.4,1.0,112,1,0,103.3,28.7ZM107.4,32.2A3.4,1.0,196,1,0,100.9,30.3A3.4,1.0,196,1,0,107.4,32.2ZM109.0,26.1A3.4,1.0,144,1,0,103.5,30.1A3.4,1.0,144,1,0,109.0,26.1ZM108.9,28.3A3.0,0.9,140,1,0,104.4,32.1A3.0,0.9,140,1,0,108.9,28.3ZM106.8,25.7A2.8,0.9,92,1,0,106.5,31.3A2.8,0.9,92,1,0,106.8,25.7ZM108.3,26.3A2.4,0.7,135,1,0,105.0,29.7A2.4,0.7,135,1,0,108.3,26.3ZM75.0,46.6A2.9,0.9,162,1,0,69.5,48.3A2.9,0.9,162,1,0,75.0,46.6ZM73.0,47.2A3.5,1.1,106,1,0,71.0,53.9A3.5,1.1,106,1,0,73.0,47.2ZM75.6,47.6A4.3,1.3,160,1,0,67.5,50.4A4.3,1.3,160,1,0,75.6,47.6ZM72.6,48.1A2.9,0.9,174,1,0,66.8,48.8A2.9,0.9,174,1,0,72.6,48.1ZM101.6,42.5A3.3,1.0,70,1,0,103.9,48.8A3.3,1.0,70,1,0,101.6,42.5ZM102.2,44.1A2.8,0.9,54,1,0,105.5,48.7A2.8,0.9,54,1,0,102.2,44.1ZM101.5,45.2A3.6,1.1,37,1,0,107.3,49.6A3.6,1.1,37,1,0,101.5,45.2ZM103.6,41.0A3.7,1.1,84,1,0,104.4,48.3A3.7,1.1,84,1,0,103.6,41.0ZM29.9,71.4A4.7,1.4,74,1,0,32.6,80.4A4.7,1.4,74,1,0,29.9,71.4ZM28.1,70.2A3.7,1.1,48,1,0,33.0,75.7A3.7,1.1,48,1,0,28.1,70.2ZM29.1,71.5A3.9,1.2,33,1,0,35.7,75.7A3.9,1.2,33,1,0,29.1,71.5ZM28.6,71.8A4.7,1.4,18,1,0,37.5,74.7A4.7,1.4,18,1,0,28.6,71.8ZM28.9,79.3A5.7,1.7,66,1,0,33.6,89.6A5.7,1.7,66,1,0,28.9,79.3ZM33.1,76.3A4.3,1.3,83,1,0,34.1,84.8A4.3,1.3,83,1,0,33.1,76.3ZM32.1,77.3A5.7,1.7,69,1,0,36.1,87.9A5.7,1.7,69,1,0,32.1,77.3ZM27.7,82.6A4.9,1.5,12,1,0,37.3,84.6A4.9,1.5,12,1,0,27.7,82.6ZM40.9,88.8A4.0,1.2,180,1,0,32.8,88.9A4.0,1.2,180,1,0,40.9,88.8ZM38.6,84.8A4.7,1.4,144,1,0,31.1,90.3A4.7,1.4,144,1,0,38.6,84.8ZM36.0,86.8A4.0,1.2,132,1,0,30.7,92.7A4.0,1.2,132,1,0,36.0,86.8ZM36.3,85.9A4.6,1.4,134,1,0,29.9,92.6A4.6,1.4,134,1,0,36.3,85.9ZM50.0,89.7A4.4,1.4,69,1,0,53.2,98.0A4.4,1.4,69,1,0,50.0,89.7ZM45.0,91.6A4.7,1.4,25,1,0,53.4,95.5A4.7,1.4,25,1,0,45.0,91.6ZM46.6,95.4A4.6,1.4,6,1,0,55.8,96.4A4.6,1.4,6,1,0,46.6,95.4ZM46.6,89.8A4.7,1.4,68,1,0,50.2,98.6A4.7,1.4,68,1,0,46.6,89.8ZM48.1,93.5A5.5,1.7,65,1,0,52.7,103.5A5.5,1.7,65,1,0,48.1,93.5ZM49.7,97.1A4.4,1.3,29,1,0,57.5,101.4A4.4,1.3,29,1,0,49.7,97.1ZM53.6,95.7A4.4,1.4,106,1,0,51.1,104.2A4.4,1.4,106,1,0,53.6,95.7ZM52.6,98.0A3.8,1.2,119,1,0,48.9,104.7A3.8,1.2,119,1,0,52.6,98.0ZM41.8,102.7A4.2,1.3,22,1,0,49.6,105.8A4.2,1.3,22,1,0,41.8,102.7ZM42.1,102.8A4.2,1.3,35,1,0,48.8,107.6A4.2,1.3,35,1,0,42.1,102.8ZM44.6,101.5A4.0,1.2,85,1,0,45.2,109.4A4.0,1.2,85,1,0,44.6,101.5ZM41.6,102.9A3.9,1.2,-6,1,0,49.3,102.2A3.9,1.2,-6,1,0,41.6,102.9ZM102.9,59.7A4.8,1.5,144,1,0,95.2,65.3A4.8,1.5,144,1,0,102.9,59.7ZM102.9,59.8A4.4,1.4,145,1,0,95.6,64.9A4.4,1.4,145,1,0,102.9,59.8ZM103.6,63.6A3.2,1.0,201,1,0,97.6,61.3A3.2,1.0,201,1,0,103.6,63.6ZM105.7,60.3A4.4,1.4,160,1,0,97.4,63.3A4.4,1.4,160,1,0,105.7,60.3ZM90.2,67.7A4.3,1.3,68,1,0,93.4,75.8A4.3,1.3,68,1,0,90.2,67.7ZM94.1,69.2A3.2,1.0,118,1,0,91.2,74.8A3.2,1.0,118,1,0,94.1,69.2ZM97.6,68.9A4.8,1.5,128,1,0,91.6,76.5A4.8,1.5,128,1,0,97.6,68.9ZM92.9,66.5A4.4,1.3,83,1,0,94.0,75.2A4.4,1.3,83,1,0,92.9,66.5ZM101.0,73.9A3.9,1.2,134,1,0,95.5,79.4A3.9,1.2,134,1,0,101.0,73.9ZM101.9,71.7A4.5,1.4,132,1,0,95.9,78.2A4.5,1.4,132,1,0,101.9,71.7ZM104.6,76.5A4.7,1.4,176,1,0,95.1,77.2A4.7,1.4,176,1,0,104.6,76.5ZM101.3,70.4A3.8,1.2,113,1,0,98.3,77.4A3.8,1.2,113,1,0,101.3,70.4ZM95.3,85.4A5.0,1.5,27,1,0,104.1,90.0A5.0,1.5,27,1,0,95.3,85.4ZM102.1,83.3A3.6,1.1,76,1,0,103.9,90.3A3.6,1.1,76,1,0,102.1,83.3ZM100.4,81.0A5.2,1.6,97,1,0,99.1,91.4A5.2,1.6,97,1,0,100.4,81.0ZM98.8,85.3A4.5,1.4,26,1,0,106.9,89.2A4.5,1.4,26,1,0,98.8,85.3ZM55.2,84.8A5.2,1.6,50,1,0,61.8,92.7A5.2,1.6,50,1,0,55.2,84.8ZM55.2,87.7A3.7,1.1,27,1,0,61.7,91.1A3.7,1.1,27,1,0,55.2,87.7ZM57.2,84.2A5.2,1.6,102,1,0,55.1,94.5A5.2,1.6,102,1,0,57.2,84.2ZM53.7,85.7A4.1,1.2,42,1,0,59.7,91.2A4.1,1.2,42,1,0,53.7,85.7ZM58.7,95.3A4.0,1.2,133,1,0,53.2,101.2A4.0,1.2,133,1,0,58.7,95.3ZM64.1,99.6A5.5,1.7,181,1,0,53.1,99.4A5.5,1.7,181,1,0,64.1,99.6ZM63.1,96.9A5.5,1.7,187,1,0,52.2,95.6A5.5,1.7,187,1,0,63.1,96.9ZM59.3,98.6A4.4,1.3,180,1,0,50.5,98.6A4.4,1.3,180,1,0,59.3,98.6ZM55.3,106.1A3.8,1.2,41,1,0,61.0,111.1A3.8,1.2,41,1,0,55.3,106.1ZM56.5,103.0A4.6,1.4,46,1,0,62.8,109.5A4.6,1.4,46,1,0,56.5,103.0ZM56.0,105.3A4.7,1.5,46,1,0,62.6,112.1A4.7,1.5,46,1,0,56.0,105.3ZM53.5,103.0A5.2,1.6,46,1,0,60.7,110.5A5.2,1.6,46,1,0,53.5,103.0Z"/><path fill="#d4e23e" d="M16.6,20.7A1.9,1.0,26,1,0,20.1,22.4A1.9,1.0,26,1,0,16.6,20.7ZM28.7,26.6A1.9,1.0,149,1,0,25.4,28.6A1.9,1.0,149,1,0,28.7,26.6ZM27.1,33.2A1.4,0.7,157,1,0,24.6,34.2A1.4,0.7,157,1,0,27.1,33.2ZM32.9,27.8A1.8,0.9,35,1,0,35.8,29.8A1.8,0.9,35,1,0,32.9,27.8ZM39.6,25.8A2.3,1.2,123,1,0,37.1,29.7A2.3,1.2,123,1,0,39.6,25.8ZM39.7,24.8A1.5,0.8,154,1,0,37.0,26.1A1.5,0.8,154,1,0,39.7,24.8ZM33.8,36.3A1.4,0.8,49,1,0,35.6,38.4A1.4,0.8,49,1,0,33.8,36.3ZM39.4,43.0A1.8,1.0,157,1,0,36.1,44.4A1.8,1.0,157,1,0,39.4,43.0ZM41.9,43.1A1.9,1.0,134,1,0,39.3,45.8A1.9,1.0,134,1,0,41.9,43.1ZM41.2,49.6A2.3,1.2,152,1,0,37.2,51.7A2.3,1.2,152,1,0,41.2,49.6ZM49.1,11.9A1.4,0.8,113,1,0,48.0,14.5A1.4,0.8,113,1,0,49.1,11.9ZM50.5,9.2A0.8,0.4,64,1,0,51.2,10.6A0.8,0.4,64,1,0,50.5,9.2ZM32.8,7.0A1.2,0.6,156,1,0,30.6,8.0A1.2,0.6,156,1,0,32.8,7.0ZM34.5,6.4A0.7,0.4,78,1,0,34.8,7.8A0.7,0.4,78,1,0,34.5,6.4ZM23.2,3.1A0.9,0.5,118,1,0,22.3,4.8A0.9,0.5,118,1,0,23.2,3.1ZM10.3,41.2A1.3,0.7,20,1,0,12.7,42.1A1.3,0.7,20,1,0,10.3,41.2ZM28.0,40.9A1.5,0.8,71,1,0,28.9,43.6A1.5,0.8,71,1,0,28.0,40.9ZM44.5,24.1A1.2,0.6,43,1,0,46.2,25.8A1.2,0.6,43,1,0,44.5,24.1ZM52.3,39.0A1.5,0.8,67,1,0,53.5,41.8A1.5,0.8,67,1,0,52.3,39.0ZM48.3,33.2A1.5,0.8,10,1,0,51.2,33.8A1.5,0.8,10,1,0,48.3,33.2ZM45.7,28.2A1.2,0.6,38,1,0,47.6,29.6A1.2,0.6,38,1,0,45.7,28.2ZM57.3,9.6A1.2,0.6,113,1,0,56.4,11.8A1.2,0.6,113,1,0,57.3,9.6ZM59.1,14.3A1.4,0.8,45,1,0,61.2,16.3A1.4,0.8,45,1,0,59.1,14.3ZM66.4,10.4A1.0,0.6,47,1,0,67.8,11.9A1.0,0.6,47,1,0,66.4,10.4ZM87.5,4.0A1.5,0.8,10,1,0,90.4,4.5A1.5,0.8,10,1,0,87.5,4.0ZM81.0,7.1A0.9,0.5,169,1,0,79.2,7.4A0.9,0.5,169,1,0,81.0,7.1ZM80.2,8.1A1.0,0.5,119,1,0,79.2,9.8A1.0,0.5,119,1,0,80.2,8.1ZM96.7,12.3A1.5,0.8,142,1,0,94.4,14.1A1.5,0.8,142,1,0,96.7,12.3ZM97.9,14.3A1.2,0.6,50,1,0,99.4,16.1A1.2,0.6,50,1,0,97.9,14.3ZM100.4,22.8A1.2,0.6,172,1,0,98.1,23.1A1.2,0.6,172,1,0,100.4,22.8ZM96.1,29.1A1.7,0.9,18,1,0,99.3,30.1A1.7,0.9,18,1,0,96.1,29.1ZM87.6,34.2A1.7,0.9,17,1,0,90.9,35.2A1.7,0.9,17,1,0,87.6,34.2ZM84.6,26.0A1.7,0.9,113,1,0,83.2,29.0A1.7,0.9,113,1,0,84.6,26.0ZM75.2,32.1A2.3,1.2,101,1,0,74.3,36.5A2.3,1.2,101,1,0,75.2,32.1ZM76.8,34.1A1.7,0.9,100,1,0,76.2,37.4A1.7,0.9,100,1,0,76.8,34.1ZM59.6,35.3A1.8,1.0,123,1,0,57.6,38.3A1.8,1.0,123,1,0,59.6,35.3ZM63.0,37.1A1.4,0.8,45,1,0,65.0,39.1A1.4,0.8,45,1,0,63.0,37.1ZM68.5,44.4A1.8,0.9,96,1,0,68.1,47.9A1.8,0.9,96,1,0,68.5,44.4ZM75.7,42.6A1.5,0.8,53,1,0,77.5,45.0A1.5,0.8,53,1,0,75.7,42.6ZM78.0,50.3A1.9,1.0,1,1,0,81.7,50.4A1.9,1.0,1,1,0,78.0,50.3ZM87.4,42.9A1.6,0.9,105,1,0,86.6,46.0A1.6,0.9,105,1,0,87.4,42.9ZM89.7,39.6A1.5,0.8,36,1,0,92.2,41.4A1.5,0.8,36,1,0,89.7,39.6ZM106.6,41.1A1.3,0.7,81,1,0,107.0,43.7A1.3,0.7,81,1,0,106.6,41.1ZM95.1,47.7A1.5,0.8,63,1,0,96.5,50.4A1.5,0.8,63,1,0,95.1,47.7ZM66.2,24.5A1.1,0.6,102,1,0,65.7,26.7A1.1,0.6,102,1,0,66.2,24.5ZM72.4,31.5A1.2,0.7,68,1,0,73.3,33.7A1.2,0.7,68,1,0,72.4,31.5ZM95.8,35.5A1.2,0.7,113,1,0,94.8,37.8A1.2,0.7,113,1,0,95.8,35.5ZM82.3,30.8A1.5,0.8,76,1,0,83.1,33.7A1.5,0.8,76,1,0,82.3,30.8ZM54.5,21.1A1.3,0.7,48,1,0,56.2,23.0A1.3,0.7,48,1,0,54.5,21.1ZM56.1,7.4A0.9,0.5,75,1,0,56.5,9.0A0.9,0.5,75,1,0,56.1,7.4ZM9.0,64.1A2.1,1.1,179,1,0,4.7,64.1A2.1,1.1,179,1,0,9.0,64.1ZM13.3,68.9A2.1,1.1,67,1,0,15.0,72.7A2.1,1.1,67,1,0,13.3,68.9ZM19.5,69.4A2.4,1.3,71,1,0,21.0,73.9A2.4,1.3,71,1,0,19.5,69.4ZM19.8,76.5A2.4,1.3,158,1,0,15.4,78.3A2.4,1.3,158,1,0,19.8,76.5ZM14.9,80.0A2.3,1.2,177,1,0,10.3,80.2A2.3,1.2,177,1,0,14.9,80.0ZM20.1,82.4A2.3,1.2,101,1,0,19.2,86.9A2.3,1.2,101,1,0,20.1,82.4ZM26.7,64.7A1.7,0.9,2,1,0,30.1,64.8A1.7,0.9,2,1,0,26.7,64.7ZM26.0,91.8A2.2,1.2,42,1,0,29.3,94.7A2.2,1.2,42,1,0,26.0,91.8ZM26.3,100.2A1.9,1.0,102,1,0,25.5,103.9A1.9,1.0,102,1,0,26.3,100.2ZM30.0,104.3A2.0,1.1,39,1,0,33.2,106.8A2.0,1.1,39,1,0,30.0,104.3ZM39.2,59.7A1.9,1.0,52,1,0,41.6,62.8A1.9,1.0,52,1,0,39.2,59.7ZM42.5,58.1A1.7,0.9,50,1,0,44.7,60.8A1.7,0.9,50,1,0,42.5,58.1ZM48.7,59.7A2.1,1.1,28,1,0,52.4,61.7A2.1,1.1,28,1,0,48.7,59.7ZM44.5,72.4A2.2,1.2,63,1,0,46.4,76.3A2.2,1.2,63,1,0,44.5,72.4ZM48.6,77.2A2.3,1.2,66,1,0,50.4,81.3A2.3,1.2,66,1,0,48.6,77.2ZM50.7,85.1A1.8,1.0,54,1,0,52.9,88.0A1.8,1.0,54,1,0,50.7,85.1ZM43.3,92.9A1.8,1.0,169,1,0,39.8,93.5A1.8,1.0,169,1,0,43.3,92.9ZM16.6,91.9A1.2,0.6,151,1,0,14.6,93.0A1.2,0.6,151,1,0,16.6,91.9ZM19.2,94.2A1.3,0.7,108,1,0,18.4,96.5A1.3,0.7,108,1,0,19.2,94.2ZM5.8,78.3A1.5,0.8,65,1,0,7.0,81.0A1.5,0.8,65,1,0,5.8,78.3ZM24.9,54.8A1.5,0.8,77,1,0,25.6,57.7A1.5,0.8,77,1,0,24.9,54.8ZM28.7,57.0A1.4,0.8,34,1,0,31.1,58.6A1.4,0.8,34,1,0,28.7,57.0ZM77.1,57.6A2.5,1.3,81,1,0,77.9,62.5A2.5,1.3,81,1,0,77.1,57.6ZM76.4,65.8A1.9,1.0,160,1,0,72.9,67.1A1.9,1.0,160,1,0,76.4,65.8ZM71.5,73.1A2.1,1.1,33,1,0,75.0,75.4A2.1,1.1,33,1,0,71.5,73.1ZM81.1,71.9A1.9,1.0,159,1,0,77.7,73.2A1.9,1.0,159,1,0,81.1,71.9ZM85.5,57.9A2.2,1.2,16,1,0,89.7,59.1A2.2,1.2,16,1,0,85.5,57.9ZM98.4,56.9A1.9,1.0,128,1,0,96.1,59.9A1.9,1.0,128,1,0,98.4,56.9ZM107.8,69.4A1.9,1.0,160,1,0,104.2,70.8A1.9,1.0,160,1,0,107.8,69.4ZM94.5,89.4A2.4,1.3,86,1,0,94.8,94.1A2.4,1.3,86,1,0,94.5,89.4ZM90.7,81.0A2.0,1.1,42,1,0,93.7,83.7A2.0,1.1,42,1,0,90.7,81.0ZM104.7,92.8A2.3,1.2,101,1,0,103.9,97.3A2.3,1.2,101,1,0,104.7,92.8ZM101.3,100.5A1.8,1.0,56,1,0,103.3,103.5A1.8,1.0,56,1,0,101.3,100.5ZM98.4,105.9A2.2,1.2,169,1,0,94.2,106.8A2.2,1.2,169,1,0,98.4,105.9ZM88.7,95.9A1.7,0.9,107,1,0,87.8,99.2A1.7,0.9,107,1,0,88.7,95.9ZM80.8,90.1A2.3,1.2,49,1,0,83.7,93.6A2.3,1.2,49,1,0,80.8,90.1ZM76.2,94.1A1.7,0.9,116,1,0,74.7,97.1A1.7,0.9,116,1,0,76.2,94.1ZM70.6,88.9A2.0,1.1,24,1,0,74.2,90.5A2.0,1.1,24,1,0,70.6,88.9ZM64.5,80.1A2.0,1.1,165,1,0,60.7,81.1A2.0,1.1,165,1,0,64.5,80.1ZM58.9,75.7A2.0,1.1,150,1,0,55.5,77.7A2.0,1.1,150,1,0,58.9,75.7ZM67.3,79.3A1.7,0.9,80,1,0,67.9,82.8A1.7,0.9,80,1,0,67.3,79.3ZM67.4,106.9A1.7,0.9,132,1,0,65.1,109.5A1.7,0.9,132,1,0,67.4,106.9ZM84.5,107.3A1.5,0.8,54,1,0,86.2,109.8A1.5,0.8,54,1,0,84.5,107.3ZM107.6,82.5A1.5,0.8,128,1,0,105.7,84.9A1.5,0.8,128,1,0,107.6,82.5ZM106.7,106.9A1.8,1.0,56,1,0,108.7,109.9A1.8,1.0,56,1,0,106.7,106.9Z"/><path fill="#f0e640" d="M15.6,33.8A1.6,0.9,88,1,0,15.7,37.1A1.6,0.9,88,1,0,15.6,33.8ZM1.8,44.5A1.9,1.0,53,1,0,4.1,47.5A1.9,1.0,53,1,0,1.8,44.5ZM103.3,29.5A2.1,1.1,103,1,0,102.4,33.7A2.1,1.1,103,1,0,103.3,29.5ZM104.7,27.8A1.6,0.8,38,1,0,107.2,29.7A1.6,0.8,38,1,0,104.7,27.8ZM70.5,47.1A2.1,1.1,65,1,0,72.3,50.8A2.1,1.1,65,1,0,70.5,47.1ZM104.5,45.4A2.1,1.1,160,1,0,100.5,46.8A2.1,1.1,160,1,0,104.5,45.4ZM32.3,73.1A2.5,1.3,125,1,0,29.5,77.1A2.5,1.3,125,1,0,32.3,73.1ZM34.8,81.5A2.7,1.4,166,1,0,29.6,82.8A2.7,1.4,166,1,0,34.8,81.5ZM36.3,86.0A2.6,1.4,137,1,0,32.6,89.5A2.6,1.4,137,1,0,36.3,86.0ZM48.3,92.9A2.4,1.3,65,1,0,50.3,97.2A2.4,1.3,65,1,0,48.3,92.9ZM50.1,98.7A2.3,1.2,65,1,0,52.0,102.9A2.3,1.2,65,1,0,50.1,98.7ZM43.5,104.3A1.9,1.0,3,1,0,47.4,104.5A1.9,1.0,3,1,0,43.5,104.3ZM97.7,62.3A2.1,1.1,7,1,0,101.8,62.8A2.1,1.1,7,1,0,97.7,62.3ZM90.6,70.3A2.5,1.3,48,1,0,93.8,73.9A2.5,1.3,48,1,0,90.6,70.3ZM97.0,73.3A2.7,1.5,24,1,0,102.0,75.5A2.7,1.5,24,1,0,97.0,73.3ZM100.2,84.1A2.5,1.3,60,1,0,102.7,88.5A2.5,1.3,60,1,0,100.2,84.1ZM56.8,87.1A2.7,1.4,89,1,0,56.9,92.4A2.7,1.4,89,1,0,56.8,87.1ZM57.6,95.3A3.1,1.6,93,1,0,57.3,101.4A3.1,1.6,93,1,0,57.6,95.3ZM59.9,105.7A2.5,1.3,132,1,0,56.5,109.4A2.5,1.3,132,1,0,59.9,105.7Z"/><path fill="#8a3020" d="M25.4,25.4A1.5,1.1,158,1,0,22.6,26.6A1.5,1.1,158,1,0,25.4,25.4ZM19.6,32.7A1.5,1.1,10,1,0,22.4,33.3A1.5,1.1,10,1,0,19.6,32.7ZM25.4,40.7A1.4,1.2,108,1,0,24.6,43.3A1.4,1.2,108,1,0,25.4,40.7ZM44.5,36.3A1.7,1.0,74,1,0,45.5,39.7A1.7,1.0,74,1,0,44.5,36.3ZM27.3,37.7A1.3,1.2,167,1,0,24.7,38.3A1.3,1.2,167,1,0,27.3,37.7ZM51.2,7.8A1.4,1.1,58,1,0,52.8,10.2A1.4,1.1,58,1,0,51.2,7.8ZM76.4,18.6A1.5,1.1,107,1,0,75.6,21.4A1.5,1.1,107,1,0,76.4,18.6ZM64.0,29.9A1.4,1.1,48,1,0,66.0,32.1A1.4,1.1,48,1,0,64.0,29.9ZM63.2,39.4A1.6,1.0,96,1,0,62.8,42.6A1.6,1.0,96,1,0,63.2,39.4ZM70.3,40.6A1.4,1.2,104,1,0,69.7,43.4A1.4,1.2,104,1,0,70.3,40.6ZM108.4,19.2A1.6,1.0,151,1,0,105.6,20.8A1.6,1.0,151,1,0,108.4,19.2ZM67.7,5.6A1.7,1.0,167,1,0,64.3,6.4A1.7,1.0,167,1,0,67.7,5.6ZM61.3,48.6A1.6,1.0,65,1,0,62.7,51.4A1.6,1.0,65,1,0,61.3,48.6ZM33.3,69.5A1.7,1.0,66,1,0,34.7,72.5A1.7,1.0,66,1,0,33.3,69.5ZM36.6,75.0A1.7,1.0,34,1,0,39.4,77.0A1.7,1.0,34,1,0,36.6,75.0ZM47.4,69.8A1.3,1.3,107,1,0,46.6,72.2A1.3,1.3,107,1,0,47.4,69.8ZM30.7,97.5A1.4,1.1,21,1,0,33.3,98.5A1.4,1.1,21,1,0,30.7,97.5ZM11.0,98.1A1.3,1.3,41,1,0,13.0,99.9A1.3,1.3,41,1,0,11.0,98.1ZM82.8,69.7A1.5,1.1,122,1,0,81.2,72.3A1.5,1.1,122,1,0,82.8,69.7ZM89.9,62.4A1.3,1.3,29,1,0,92.1,63.6A1.3,1.3,29,1,0,89.9,62.4ZM105.5,72.6A1.5,1.1,166,1,0,102.5,73.4A1.5,1.1,166,1,0,105.5,72.6ZM94.7,80.5A1.5,1.1,22,1,0,97.3,81.5A1.5,1.1,22,1,0,94.7,80.5ZM104.6,85.5A1.6,1.0,110,1,0,103.4,88.5A1.6,1.0,110,1,0,104.6,85.5ZM76.4,92.7A1.7,1.0,12,1,0,79.6,93.3A1.7,1.0,12,1,0,76.4,92.7ZM61.8,95.4A1.6,1.0,84,1,0,62.2,98.6A1.6,1.0,84,1,0,61.8,95.4ZM63.3,62.6A1.4,1.2,162,1,0,60.7,63.4A1.4,1.2,162,1,0,63.3,62.6ZM66.5,55.7A1.4,1.2,68,1,0,67.5,58.3A1.4,1.2,68,1,0,66.5,55.7ZM98.7,95.2A1.6,1.1,32,1,0,101.3,96.8A1.6,1.1,32,1,0,98.7,95.2ZM104.7,79.0A1.7,1.0,38,1,0,107.3,81.0A1.7,1.0,38,1,0,104.7,79.0Z"/><path fill="#b8442a" d="M11.7,21.9A1.7,1.0,176,1,0,8.3,22.1A1.7,1.0,176,1,0,11.7,21.9ZM4.9,26.1A1.4,1.2,39,1,0,7.1,27.9A1.4,1.2,39,1,0,4.9,26.1ZM7.0,31.7A1.3,1.2,90,1,0,7.0,34.3A1.3,1.2,90,1,0,7.0,31.7ZM11.7,24.5A1.4,1.2,23,1,0,14.3,25.5A1.4,1.2,23,1,0,11.7,24.5ZM12.4,29.9A1.6,1.0,4,1,0,15.6,30.1A1.6,1.0,4,1,0,12.4,29.9ZM12.9,39.8A1.6,1.0,49,1,0,15.1,42.2A1.6,1.0,49,1,0,12.9,39.8ZM8.7,46.2A1.6,1.0,32,1,0,11.3,47.8A1.6,1.0,32,1,0,8.7,46.2ZM18.8,44.4A1.3,1.2,26,1,0,21.2,45.6A1.3,1.2,26,1,0,18.8,44.4ZM27.1,47.0A1.3,1.3,49,1,0,28.9,49.0A1.3,1.3,49,1,0,27.1,47.0ZM21.6,50.5A1.5,1.1,20,1,0,24.4,51.5A1.5,1.1,20,1,0,21.6,50.5ZM51.3,34.6A1.3,1.2,162,1,0,48.7,35.4A1.3,1.2,162,1,0,51.3,34.6ZM51.6,36.8A1.4,1.2,10,1,0,54.4,37.2A1.4,1.2,10,1,0,51.6,36.8ZM52.5,43.1A1.7,1.0,150,1,0,49.5,44.9A1.7,1.0,150,1,0,52.5,43.1ZM47.1,47.3A1.3,1.3,148,1,0,44.9,48.7A1.3,1.3,148,1,0,47.1,47.3ZM50.6,50.9A1.4,1.1,5,1,0,53.4,51.1A1.4,1.1,5,1,0,50.6,50.9ZM28.6,2.6A1.5,1.1,75,1,0,29.4,5.4A1.5,1.1,75,1,0,28.6,2.6ZM16.6,49.4A1.7,1.0,75,1,0,17.4,52.6A1.7,1.0,75,1,0,16.6,49.4ZM67.6,19.2A1.4,1.2,75,1,0,68.4,21.8A1.4,1.2,75,1,0,67.6,19.2ZM74.5,22.5A1.5,1.1,180,1,0,71.5,22.5A1.5,1.1,180,1,0,74.5,22.5ZM62.9,27.7A1.5,1.1,124,1,0,61.1,30.3A1.5,1.1,124,1,0,62.9,27.7ZM55.6,28.0A1.4,1.1,1,1,0,58.4,28.0A1.4,1.1,1,1,0,55.6,28.0ZM84.5,37.4A1.6,1.0,156,1,0,81.5,38.6A1.6,1.0,156,1,0,84.5,37.4ZM94.9,26.6A1.7,1.0,124,1,0,93.1,29.4A1.7,1.0,124,1,0,94.9,26.6ZM96.7,16.6A1.4,1.2,77,1,0,97.3,19.4A1.4,1.2,77,1,0,96.7,16.6ZM102.5,22.8A1.4,1.2,66,1,0,103.5,25.2A1.4,1.2,66,1,0,102.5,22.8ZM79.6,2.8A1.3,1.2,118,1,0,78.4,5.2A1.3,1.2,118,1,0,79.6,2.8ZM59.3,47.8A1.3,1.2,170,1,0,56.7,48.2A1.3,1.2,170,1,0,59.3,47.8ZM84.8,51.3A1.4,1.2,28,1,0,87.2,52.7A1.4,1.2,28,1,0,84.8,51.3ZM98.7,52.2A1.6,1.0,32,1,0,101.3,53.8A1.6,1.0,32,1,0,98.7,52.2ZM73.1,12.8A1.5,1.1,52,1,0,74.9,15.2A1.5,1.1,52,1,0,73.1,12.8ZM88.7,16.5A1.6,1.0,115,1,0,87.3,19.5A1.6,1.0,115,1,0,88.7,16.5ZM83.7,23.2A1.5,1.1,31,1,0,86.3,24.8A1.5,1.1,31,1,0,83.7,23.2ZM59.3,2.5A1.7,1.0,64,1,0,60.7,5.5A1.7,1.0,64,1,0,59.3,2.5ZM12.8,62.8A2.7,2.1,5,1,0,18.2,63.2A2.7,2.1,5,1,0,12.8,62.8ZM26.0,69.0A1.4,1.2,135,1,0,24.0,71.0A1.4,1.2,135,1,0,26.0,69.0ZM41.0,68.8A1.6,1.0,50,1,0,43.0,71.2A1.6,1.0,50,1,0,41.0,68.8ZM50.0,54.9A1.6,1.0,89,1,0,50.0,58.1A1.6,1.0,89,1,0,50.0,54.9ZM30.8,93.6A1.6,1.0,118,1,0,29.2,96.4A1.6,1.0,118,1,0,30.8,93.6ZM43.5,96.1A1.5,1.1,107,1,0,42.5,98.9A1.5,1.1,107,1,0,43.5,96.1ZM39.2,102.4A1.3,1.2,156,1,0,36.8,103.6A1.3,1.2,156,1,0,39.2,102.4ZM32.1,101.5A1.3,1.2,46,1,0,33.9,103.5A1.3,1.2,46,1,0,32.1,101.5ZM5.2,97.1A1.5,1.1,143,1,0,2.8,98.9A1.5,1.1,143,1,0,5.2,97.1ZM20.7,98.5A1.6,1.0,114,1,0,19.3,101.5A1.6,1.0,114,1,0,20.7,98.5ZM7.2,105.7A1.6,1.0,58,1,0,8.8,108.3A1.6,1.0,58,1,0,7.2,105.7ZM72.2,72.9A1.4,1.2,56,1,0,73.8,75.1A1.4,1.2,56,1,0,72.2,72.9ZM85.1,71.9A1.5,1.1,135,1,0,82.9,74.1A1.5,1.1,135,1,0,85.1,71.9ZM62.8,73.3A1.7,1.0,84,1,0,63.2,76.7A1.7,1.0,84,1,0,62.8,73.3ZM87.3,62.7A1.3,1.2,169,1,0,84.7,63.3A1.3,1.2,169,1,0,87.3,62.7ZM89.1,94.3A1.3,1.3,149,1,0,86.9,95.7A1.3,1.3,149,1,0,89.1,94.3ZM85.2,97.5A1.5,1.1,96,1,0,84.8,100.5A1.5,1.1,96,1,0,85.2,97.5ZM56.3,59.6A1.7,1.0,12,1,0,59.7,60.4A1.7,1.0,12,1,0,56.3,59.6Z"/></g><linearGradient id="shc" x1="0" y1="0" x2="0" y2="1"><stop offset="0" stop-color="#000" stop-opacity="0.7"/><stop offset="0.3" stop-color="#000" stop-opacity="0.45"/><stop offset="0.55" stop-color="#000" stop-opacity="0.1"/><stop offset="1" stop-color="#000" stop-opacity="0"/></linearGradient><rect width="110" height="109.5" fill="url(#shc)"/><g fill="#160c07" filter="url(#blur2)"><ellipse cx="67" cy="60" rx="7" ry="9" opacity="0.7"/><ellipse cx="42" cy="94" rx="4" ry="6" opacity="0.6"/><ellipse cx="80" cy="82" rx="5" ry="5" opacity="0.5"/><ellipse cx="20" cy="45" rx="5" ry="4" opacity="0.5"/><ellipse cx="2" cy="80" rx="3" ry="30" opacity="0.8"/><ellipse cx="70" cy="103" rx="6" ry="5" opacity="0.5"/></g><g stroke="#9a9a9a" stroke-width="0.7" fill="none" opacity="0.75"><rect x="5.5" y="7.2" width="97.7" height="97.0"/><path d="M0,0L5.5,7.2M110,0L103.2,7.2M0,109.5L5.5,104.2M110,109.5L103.2,104.2"/></g><rect x="2" y="107.3" width="12" height="1.2" fill="#e8e8e8"/><rect x="100" y="107.1" width="7" height="1.2" fill="#bbbbbb" opacity="0.6"/></g><rect x="0.4" y="0.4" width="109.2" height="108.7" fill="none" stroke="#0a0a0a" stroke-width="0.8"/></g>
<g transform="translate(122,349.5)"><clipPath id="clipd"><rect x="0" y="0" width="110" height="109.5"/></clipPath><g clip-path="url(#clipd)"><rect x="0" y="0" width="110" height="109.5" fill="#110c07"/><path fill="#5a2412" opacity="0.8" filter="url(#blur1)" d="M4.0,16.6A1.6,0.7,14,1,0,7.0,17.3A1.6,0.7,14,1,0,4.0,16.6ZM10.8,56.7A1.1,1.0,61,1,0,11.9,58.6A1.1,1.0,61,1,0,10.8,56.7ZM18.5,84.2A0.9,0.9,141,1,0,17.1,85.3A0.9,0.9,141,1,0,18.5,84.2ZM27.0,21.1A1.1,0.7,112,1,0,26.2,23.2A1.1,0.7,112,1,0,27.0,21.1ZM63.4,92.6A0.8,0.9,20,1,0,64.9,93.2A0.8,0.9,20,1,0,63.4,92.6ZM102.9,64.7A1.1,0.9,91,1,0,102.9,66.9A1.1,0.9,91,1,0,102.9,64.7ZM38.5,39.8A1.0,1.1,89,1,0,38.6,41.7A1.0,1.1,89,1,0,38.5,39.8ZM0.8,74.8A0.9,1.0,126,1,0,-0.3,76.3A0.9,1.0,126,1,0,0.8,74.8ZM33.9,82.0A0.9,0.8,74,1,0,34.4,83.8A0.9,0.8,74,1,0,33.9,82.0ZM41.2,74.0A1.1,0.7,98,1,0,40.9,76.2A1.1,0.7,98,1,0,41.2,74.0ZM52.9,47.9A1.1,0.8,158,1,0,50.9,48.8A1.1,0.8,158,1,0,52.9,47.9ZM100.4,53.7A1.3,1.0,30,1,0,102.6,54.9A1.3,1.0,30,1,0,100.4,53.7ZM53.1,3.8A1.3,0.8,162,1,0,50.7,4.5A1.3,0.8,162,1,0,53.1,3.8ZM46.2,91.1A1.4,0.9,161,1,0,43.6,92.0A1.4,0.9,161,1,0,46.2,91.1ZM101.0,60.7A0.8,0.7,158,1,0,99.4,61.4A0.8,0.7,158,1,0,101.0,60.7ZM69.6,84.3A0.8,0.7,171,1,0,68.0,84.6A0.8,0.7,171,1,0,69.6,84.3ZM102.0,41.5A1.1,0.7,61,1,0,103.1,43.4A1.1,0.7,61,1,0,102.0,41.5ZM102.0,54.7A1.4,0.8,130,1,0,100.2,56.8A1.4,0.8,130,1,0,102.0,54.7ZM19.8,51.9A1.6,0.9,139,1,0,17.4,53.9A1.6,0.9,139,1,0,19.8,51.9ZM18.8,20.5A1.0,1.0,171,1,0,16.9,20.7A1.0,1.0,171,1,0,18.8,20.5ZM33.6,13.0A1.4,1.0,99,1,0,33.2,15.7A1.4,1.0,99,1,0,33.6,13.0ZM103.4,9.1A0.8,0.6,168,1,0,101.8,9.4A0.8,0.6,168,1,0,103.4,9.1ZM64.5,82.8A1.5,0.8,118,1,0,63.1,85.5A1.5,0.8,118,1,0,64.5,82.8ZM83.4,64.8A1.0,1.0,155,1,0,81.7,65.7A1.0,1.0,155,1,0,83.4,64.8ZM88.2,40.0A0.8,0.7,107,1,0,87.8,41.6A0.8,0.7,107,1,0,88.2,40.0ZM70.8,92.9A1.2,1.1,105,1,0,70.2,95.2A1.2,1.1,105,1,0,70.8,92.9ZM61.8,2.1A0.9,1.0,23,1,0,63.3,2.7A0.9,1.0,23,1,0,61.8,2.1ZM31.8,-0.6A1.4,0.7,31,1,0,34.1,0.8A1.4,0.7,31,1,0,31.8,-0.6ZM39.8,88.4A1.6,0.8,48,1,0,41.9,90.8A1.6,0.8,48,1,0,39.8,88.4ZM71.3,72.2A1.3,0.9,42,1,0,73.2,74.0A1.3,0.9,42,1,0,71.3,72.2ZM59.0,63.9A1.5,1.0,152,1,0,56.4,65.3A1.5,1.0,152,1,0,59.0,63.9ZM63.3,4.3A1.1,1.1,46,1,0,64.9,6.0A1.1,1.1,46,1,0,63.3,4.3ZM101.3,11.0A1.5,0.9,69,1,0,102.4,13.8A1.5,0.9,69,1,0,101.3,11.0ZM99.4,94.9A1.3,0.8,106,1,0,98.7,97.4A1.3,0.8,106,1,0,99.4,94.9ZM76.0,57.3A0.9,0.8,28,1,0,77.5,58.1A0.9,0.8,28,1,0,76.0,57.3ZM48.8,6.9A1.3,0.8,45,1,0,50.6,8.7A1.3,0.8,45,1,0,48.8,6.9ZM96.9,22.2A1.0,0.9,90,1,0,97.0,24.2A1.0,0.9,90,1,0,96.9,22.2ZM78.2,3.2A0.9,0.8,100,1,0,77.9,4.9A0.9,0.8,100,1,0,78.2,3.2ZM98.8,100.6A1.3,0.7,51,1,0,100.4,102.5A1.3,0.7,51,1,0,98.8,100.6ZM18.5,78.7A0.9,0.8,46,1,0,19.8,80.0A0.9,0.8,46,1,0,18.5,78.7ZM75.0,26.8A1.3,0.7,174,1,0,72.5,27.1A1.3,0.7,174,1,0,75.0,26.8ZM11.1,84.4A1.0,0.6,156,1,0,9.3,85.2A1.0,0.6,156,1,0,11.1,84.4ZM23.2,106.8A1.1,0.8,67,1,0,24.1,108.8A1.1,0.8,67,1,0,23.2,106.8ZM42.8,107.8A0.9,1.1,163,1,0,41.0,108.4A0.9,1.1,163,1,0,42.8,107.8ZM24.2,40.6A0.9,1.1,57,1,0,25.2,42.0A0.9,1.1,57,1,0,24.2,40.6ZM10.3,91.6A1.2,1.0,162,1,0,8.1,92.4A1.2,1.0,162,1,0,10.3,91.6ZM66.4,28.0A1.5,0.6,89,1,0,66.5,30.9A1.5,0.6,89,1,0,66.4,28.0ZM83.3,13.4A1.3,1.0,74,1,0,84.0,15.9A1.3,1.0,74,1,0,83.3,13.4ZM32.2,5.8A1.5,0.8,63,1,0,33.5,8.4A1.5,0.8,63,1,0,32.2,5.8ZM27.6,34.5A1.5,1.1,117,1,0,26.3,37.1A1.5,1.1,117,1,0,27.6,34.5ZM68.0,51.1A1.6,0.9,133,1,0,65.8,53.4A1.6,0.9,133,1,0,68.0,51.1ZM9.0,33.6A1.3,0.9,134,1,0,7.2,35.4A1.3,0.9,134,1,0,9.0,33.6ZM2.2,28.8A1.4,0.8,21,1,0,4.8,29.8A1.4,0.8,21,1,0,2.2,28.8ZM0.5,20.1A1.0,1.0,6,1,0,2.5,20.3A1.0,1.0,6,1,0,0.5,20.1ZM59.9,32.2A1.4,0.8,162,1,0,57.2,33.1A1.4,0.8,162,1,0,59.9,32.2ZM4.9,55.5A1.3,0.8,10,1,0,7.4,55.9A1.3,0.8,10,1,0,4.9,55.5ZM80.3,25.8A1.1,0.6,96,1,0,80.0,28.0A1.1,0.6,96,1,0,80.3,25.8ZM27.2,58.3A0.8,0.7,62,1,0,28.0,59.7A0.8,0.7,62,1,0,27.2,58.3ZM10.3,12.7A0.9,1.0,57,1,0,11.3,14.2A0.9,1.0,57,1,0,10.3,12.7ZM13.9,20.6A0.8,0.7,82,1,0,14.1,22.3A0.8,0.7,82,1,0,13.9,20.6ZM6.1,29.7A0.9,0.8,32,1,0,7.7,30.6A0.9,0.8,32,1,0,6.1,29.7ZM58.7,45.4A1.3,0.9,111,1,0,57.7,47.9A1.3,0.9,111,1,0,58.7,45.4ZM83.0,32.7A1.5,1.0,25,1,0,85.7,33.9A1.5,1.0,25,1,0,83.0,32.7ZM99.0,77.2A1.0,0.8,163,1,0,97.1,77.8A1.0,0.8,163,1,0,99.0,77.2ZM85.2,33.6A0.8,1.0,114,1,0,84.6,35.2A0.8,1.0,114,1,0,85.2,33.6ZM15.6,47.1A1.1,0.8,111,1,0,14.8,49.2A1.1,0.8,111,1,0,15.6,47.1ZM106.8,72.9A0.8,1.1,45,1,0,107.9,74.1A0.8,1.1,45,1,0,106.8,72.9ZM53.6,60.0A1.2,0.7,72,1,0,54.3,62.2A1.2,0.7,72,1,0,53.6,60.0ZM89.9,2.4A1.5,0.9,24,1,0,92.6,3.7A1.5,0.9,24,1,0,89.9,2.4ZM59.1,2.0A1.2,0.8,58,1,0,60.4,4.0A1.2,0.8,58,1,0,59.1,2.0ZM42.9,53.8A1.0,1.0,44,1,0,44.4,55.1A1.0,1.0,44,1,0,42.9,53.8ZM108.1,91.3A1.2,0.7,154,1,0,106.0,92.3A1.2,0.7,154,1,0,108.1,91.3ZM35.6,76.0A1.5,1.0,99,1,0,35.1,79.1A1.5,1.0,99,1,0,35.6,76.0ZM102.2,9.2A1.6,0.8,13,1,0,105.3,9.9A1.6,0.8,13,1,0,102.2,9.2ZM32.5,104.0A0.8,0.6,68,1,0,33.1,105.5A0.8,0.6,68,1,0,32.5,104.0ZM14.1,17.5A0.9,0.8,152,1,0,12.5,18.4A0.9,0.8,152,1,0,14.1,17.5ZM12.9,94.3A1.3,0.7,131,1,0,11.2,96.3A1.3,0.7,131,1,0,12.9,94.3ZM102.7,99.2A1.1,0.9,78,1,0,103.1,101.4A1.1,0.9,78,1,0,102.7,99.2ZM89.6,43.9A1.3,0.7,176,1,0,87.0,44.1A1.3,0.7,176,1,0,89.6,43.9ZM98.9,89.0A1.6,1.1,11,1,0,101.9,89.6A1.6,1.1,11,1,0,98.9,89.0ZM99.0,19.1A1.3,1.1,4,1,0,101.6,19.3A1.3,1.1,4,1,0,99.0,19.1ZM95.1,52.3A1.3,0.7,99,1,0,94.7,55.0A1.3,0.7,99,1,0,95.1,52.3ZM62.7,23.2A0.9,1.1,166,1,0,60.9,23.7A0.9,1.1,166,1,0,62.7,23.2ZM16.0,84.9A1.2,0.9,125,1,0,14.6,86.8A1.2,0.9,125,1,0,16.0,84.9ZM66.9,98.4A1.1,0.9,94,1,0,66.8,100.5A1.1,0.9,94,1,0,66.9,98.4ZM100.4,57.0A1.6,1.1,16,1,0,103.4,57.8A1.6,1.1,16,1,0,100.4,57.0ZM0.5,32.6A0.9,0.9,80,1,0,0.8,34.4A0.9,0.9,80,1,0,0.5,32.6ZM90.4,25.3A1.6,0.9,77,1,0,91.2,28.3A1.6,0.9,77,1,0,90.4,25.3ZM11.5,19.6A0.9,1.0,81,1,0,11.8,21.4A0.9,1.0,81,1,0,11.5,19.6ZM84.8,46.1A1.2,1.0,134,1,0,83.1,47.9A1.2,1.0,134,1,0,84.8,46.1ZM52.2,34.3A0.9,0.9,11,1,0,54.0,34.6A0.9,0.9,11,1,0,52.2,34.3ZM66.6,83.5A1.1,0.9,175,1,0,64.5,83.7A1.1,0.9,175,1,0,66.6,83.5ZM77.5,8.2A0.9,0.7,136,1,0,76.2,9.5A0.9,0.7,136,1,0,77.5,8.2ZM28.9,51.0A1.1,0.9,70,1,0,29.6,53.0A1.1,0.9,70,1,0,28.9,51.0ZM64.8,11.3A1.5,1.0,154,1,0,62.2,12.6A1.5,1.0,154,1,0,64.8,11.3ZM64.9,54.9A1.4,0.6,143,1,0,62.6,56.6A1.4,0.6,143,1,0,64.9,54.9ZM42.0,30.8A1.4,1.0,20,1,0,44.7,31.8A1.4,1.0,20,1,0,42.0,30.8ZM56.8,23.2A0.9,0.8,62,1,0,57.6,24.7A0.9,0.8,62,1,0,56.8,23.2ZM100.6,100.0A0.9,0.9,45,1,0,101.9,101.2A0.9,0.9,45,1,0,100.6,100.0ZM69.1,59.2A1.4,1.0,72,1,0,70.0,61.9A1.4,1.0,72,1,0,69.1,59.2ZM29.9,74.3A1.5,1.1,143,1,0,27.5,76.1A1.5,1.1,143,1,0,29.9,74.3ZM79.7,47.9A1.6,0.7,114,1,0,78.5,50.7A1.6,0.7,114,1,0,79.7,47.9ZM19.0,84.5A1.2,0.7,167,1,0,16.6,85.0A1.2,0.7,167,1,0,19.0,84.5ZM70.4,81.5A1.4,0.8,42,1,0,72.5,83.4A1.4,0.8,42,1,0,70.4,81.5ZM5.5,2.1A1.2,0.7,96,1,0,5.3,4.4A1.2,0.7,96,1,0,5.5,2.1ZM109.2,88.0A1.0,0.7,59,1,0,110.1,89.6A1.0,0.7,59,1,0,109.2,88.0ZM14.7,25.1A0.9,0.7,79,1,0,15.0,26.9A0.9,0.7,79,1,0,14.7,25.1ZM40.4,39.5A0.8,0.9,40,1,0,41.6,40.5A0.8,0.9,40,1,0,40.4,39.5ZM45.6,80.7A1.3,0.6,94,1,0,45.4,83.4A1.3,0.6,94,1,0,45.6,80.7ZM3.1,74.9A1.5,0.9,147,1,0,0.5,76.6A1.5,0.9,147,1,0,3.1,74.9ZM2.6,76.0A1.2,0.7,27,1,0,4.8,77.1A1.2,0.7,27,1,0,2.6,76.0ZM7.3,53.2A1.2,1.0,93,1,0,7.1,55.7A1.2,1.0,93,1,0,7.3,53.2ZM36.6,99.4A1.2,0.8,153,1,0,34.5,100.5A1.2,0.8,153,1,0,36.6,99.4ZM72.4,5.2A1.0,0.9,29,1,0,74.0,6.2A1.0,0.9,29,1,0,72.4,5.2ZM37.4,101.1A1.5,0.8,101,1,0,36.9,104.0A1.5,0.8,101,1,0,37.4,101.1ZM107.7,38.3A1.4,1.0,109,1,0,106.8,40.9A1.4,1.0,109,1,0,107.7,38.3ZM52.3,20.6A0.8,0.9,175,1,0,50.6,20.8A0.8,0.9,175,1,0,52.3,20.6ZM29.8,56.4A0.8,0.8,69,1,0,30.4,57.9A0.8,0.8,69,1,0,29.8,56.4ZM76.2,79.8A1.4,1.0,23,1,0,78.9,81.0A1.4,1.0,23,1,0,76.2,79.8ZM94.2,30.6A1.6,0.7,16,1,0,97.2,31.5A1.6,0.7,16,1,0,94.2,30.6ZM38.3,69.0A1.2,0.6,145,1,0,36.3,70.4A1.2,0.6,145,1,0,38.3,69.0ZM17.0,35.4A0.8,0.9,37,1,0,18.4,36.4A0.8,0.9,37,1,0,17.0,35.4ZM7.5,72.7A1.5,1.0,18,1,0,10.3,73.6A1.5,1.0,18,1,0,7.5,72.7ZM102.8,35.7A1.3,0.6,68,1,0,103.8,38.2A1.3,0.6,68,1,0,102.8,35.7ZM15.6,30.9A0.8,0.7,45,1,0,16.8,32.1A0.8,0.7,45,1,0,15.6,30.9ZM86.8,94.7A1.2,1.1,45,1,0,88.5,96.3A1.2,1.1,45,1,0,86.8,94.7ZM55.9,59.5A0.9,0.9,79,1,0,56.3,61.2A0.9,0.9,79,1,0,55.9,59.5ZM43.3,44.0A1.5,0.8,179,1,0,40.3,44.0A1.5,0.8,179,1,0,43.3,44.0ZM99.4,85.4A1.6,0.6,65,1,0,100.7,88.3A1.6,0.6,65,1,0,99.4,85.4ZM60.8,46.9A0.9,1.0,46,1,0,62.0,48.1A0.9,1.0,46,1,0,60.8,46.9ZM11.6,107.9A1.4,0.7,40,1,0,13.7,109.7A1.4,0.7,40,1,0,11.6,107.9ZM54.1,94.4A0.8,0.7,66,1,0,54.8,95.9A0.8,0.7,66,1,0,54.1,94.4ZM88.7,86.8A1.5,0.6,18,1,0,91.7,87.8A1.5,0.6,18,1,0,88.7,86.8ZM75.3,64.4A0.9,0.9,29,1,0,76.9,65.3A0.9,0.9,29,1,0,75.3,64.4ZM101.4,67.6A1.5,0.9,176,1,0,98.3,67.8A1.5,0.9,176,1,0,101.4,67.6ZM11.5,24.8A1.1,0.8,29,1,0,13.4,25.8A1.1,0.8,29,1,0,11.5,24.8ZM108.7,58.9A1.3,0.8,150,1,0,106.4,60.2A1.3,0.8,150,1,0,108.7,58.9ZM19.1,41.4A1.3,0.6,5,1,0,21.6,41.7A1.3,0.6,5,1,0,19.1,41.4ZM66.5,23.2A1.3,0.9,107,1,0,65.7,25.8A1.3,0.9,107,1,0,66.5,23.2ZM92.1,63.5A1.1,0.9,92,1,0,92.0,65.8A1.1,0.9,92,1,0,92.1,63.5ZM92.4,53.6A1.3,0.6,31,1,0,94.6,54.9A1.3,0.6,31,1,0,92.4,53.6ZM42.8,39.2A1.0,0.7,83,1,0,43.0,41.1A1.0,0.7,83,1,0,42.8,39.2ZM86.5,89.4A0.9,0.7,138,1,0,85.2,90.6A0.9,0.7,138,1,0,86.5,89.4ZM17.3,82.0A1.5,1.1,97,1,0,17.0,85.0A1.5,1.1,97,1,0,17.3,82.0ZM102.2,93.3A1.3,0.9,112,1,0,101.3,95.7A1.3,0.9,112,1,0,102.2,93.3ZM71.5,84.6A1.0,0.9,40,1,0,73.0,86.0A1.0,0.9,40,1,0,71.5,84.6ZM27.3,28.3A1.1,0.8,50,1,0,28.7,30.0A1.1,0.8,50,1,0,27.3,28.3ZM7.4,11.9A1.2,0.8,79,1,0,7.8,14.2A1.2,0.8,79,1,0,7.4,11.9ZM84.9,22.8A1.0,1.0,44,1,0,86.4,24.2A1.0,1.0,44,1,0,84.9,22.8ZM91.1,68.9A1.5,0.8,89,1,0,91.2,71.9A1.5,0.8,89,1,0,91.1,68.9ZM45.3,59.3A1.6,0.9,173,1,0,42.2,59.7A1.6,0.9,173,1,0,45.3,59.3ZM35.7,97.9A1.5,1.0,159,1,0,33.0,99.0A1.5,1.0,159,1,0,35.7,97.9ZM32.3,106.1A1.4,1.1,44,1,0,34.3,108.0A1.4,1.1,44,1,0,32.3,106.1ZM45.7,-0.6A1.2,0.8,144,1,0,43.7,0.8A1.2,0.8,144,1,0,45.7,-0.6ZM14.8,8.7A0.9,1.1,170,1,0,13.0,9.0A0.9,1.1,170,1,0,14.8,8.7ZM43.5,96.8A1.0,0.8,4,1,0,45.5,97.0A1.0,0.8,4,1,0,43.5,96.8ZM38.4,76.7A1.2,0.8,43,1,0,40.2,78.3A1.2,0.8,43,1,0,38.4,76.7ZM3.0,15.0A1.1,0.8,113,1,0,2.1,17.1A1.1,0.8,113,1,0,3.0,15.0ZM97.0,65.4A1.5,0.9,20,1,0,100.0,66.5A1.5,0.9,20,1,0,97.0,65.4ZM87.7,74.5A1.2,0.7,147,1,0,85.7,75.8A1.2,0.7,147,1,0,87.7,74.5Z"/><ellipse cx="20" cy="88" rx="18" ry="22" fill="#74a426" opacity="0.25" filter="url(#blur3)"/><ellipse cx="86" cy="88" rx="21" ry="20" fill="#80ac28" opacity="0.25" filter="url(#blur3)"/><ellipse cx="50" cy="55" rx="35" ry="10" fill="#46761c" opacity="0.15" filter="url(#blur3)"/><mask id="md" maskUnits="userSpaceOnUse" x="0" y="0" width="110" height="109.5"><g fill="#fff" filter="url(#blur3)" opacity="0.5"><circle cx="27.0" cy="4.5" r="3.8"/><circle cx="36.0" cy="10.0" r="3.8"/><circle cx="40.5" cy="5.0" r="2.5"/><circle cx="47.0" cy="6.0" r="2.5"/><circle cx="51.0" cy="14.0" r="3.8"/><circle cx="46.0" cy="19.5" r="2.5"/><circle cx="23.0" cy="25.0" r="5.4"/><circle cx="21.0" cy="28.0" r="4.5"/><circle cx="29.0" cy="30.0" r="5.4"/><circle cx="27.0" cy="35.0" r="5.4"/><circle cx="18.0" cy="37.0" r="5.4"/><circle cx="23.0" cy="40.0" r="5.4"/><circle cx="44.0" cy="34.0" r="5.4"/><circle cx="49.0" cy="30.0" r="5.4"/><circle cx="53.0" cy="36.0" r="4.5"/><circle cx="42.0" cy="46.0" r="6.3"/><circle cx="37.0" cy="48.0" r="4.5"/><circle cx="48.0" cy="47.0" r="4.5"/><circle cx="6.0" cy="47.0" r="5.4"/><circle cx="8.0" cy="51.0" r="4.5"/><circle cx="14.0" cy="43.0" r="3.6"/><circle cx="21.0" cy="44.0" r="4.5"/><circle cx="32.0" cy="40.0" r="3.6"/><circle cx="45.0" cy="52.0" r="5.4"/><circle cx="50.0" cy="26.0" r="3.6"/><circle cx="41.0" cy="25.0" r="3.6"/><circle cx="4.0" cy="6.0" r="2.5"/><circle cx="66.0" cy="5.0" r="3.1"/><circle cx="87.5" cy="4.0" r="3.1"/><circle cx="59.0" cy="12.0" r="3.8"/><circle cx="62.0" cy="17.0" r="3.1"/><circle cx="70.0" cy="14.0" r="3.8"/><circle cx="70.0" cy="18.0" r="2.5"/><circle cx="57.0" cy="23.0" r="4.5"/><circle cx="82.5" cy="11.0" r="3.1"/><circle cx="97.0" cy="15.0" r="3.8"/><circle cx="100.0" cy="20.0" r="4.5"/><circle cx="99.0" cy="26.0" r="3.6"/><circle cx="95.0" cy="30.0" r="4.5"/><circle cx="90.0" cy="33.0" r="5.4"/><circle cx="86.0" cy="35.0" r="4.5"/><circle cx="102.0" cy="33.0" r="5.4"/><circle cx="106.0" cy="25.0" r="3.6"/><circle cx="76.0" cy="32.0" r="4.5"/><circle cx="81.0" cy="33.0" r="4.5"/><circle cx="75.0" cy="36.0" r="5.4"/><circle cx="79.0" cy="38.0" r="4.5"/><circle cx="62.0" cy="39.0" r="5.4"/><circle cx="68.0" cy="40.0" r="5.4"/><circle cx="71.0" cy="43.0" r="4.5"/><circle cx="89.0" cy="43.0" r="4.5"/><circle cx="93.0" cy="45.0" r="3.6"/><circle cx="74.0" cy="49.0" r="5.4"/><circle cx="69.0" cy="51.0" r="5.4"/><circle cx="78.0" cy="47.0" r="4.5"/><circle cx="84.0" cy="50.0" r="3.6"/><circle cx="98.0" cy="48.0" r="4.5"/><circle cx="102.0" cy="50.0" r="4.5"/><circle cx="59.0" cy="30.0" r="3.6"/><circle cx="105.0" cy="5.0" r="2.5"/><circle cx="8.0" cy="65.5" r="5.4"/><circle cx="12.0" cy="63.0" r="4.5"/><circle cx="14.0" cy="73.0" r="6.3"/><circle cx="12.0" cy="80.0" r="6.3"/><circle cx="18.0" cy="82.0" r="6.3"/><circle cx="16.0" cy="90.0" r="6.3"/><circle cx="10.0" cy="92.0" r="5.4"/><circle cx="18.0" cy="97.0" r="5.4"/><circle cx="22.0" cy="102.0" r="5.4"/><circle cx="26.0" cy="70.0" r="5.4"/><circle cx="30.0" cy="62.0" r="5.4"/><circle cx="32.0" cy="75.0" r="6.3"/><circle cx="34.0" cy="84.0" r="7.2"/><circle cx="34.0" cy="90.0" r="6.3"/><circle cx="30.0" cy="96.0" r="5.4"/><circle cx="27.0" cy="103.0" r="5.4"/><circle cx="40.0" cy="60.0" r="5.4"/><circle cx="44.0" cy="65.0" r="4.5"/><circle cx="48.0" cy="76.0" r="5.4"/><circle cx="52.0" cy="80.0" r="5.4"/><circle cx="51.0" cy="88.0" r="5.4"/><circle cx="50.0" cy="95.0" r="5.4"/><circle cx="52.0" cy="101.0" r="5.4"/><circle cx="50.0" cy="107.0" r="5.4"/><circle cx="40.0" cy="104.0" r="4.5"/><circle cx="5.0" cy="100.0" r="4.5"/><circle cx="7.0" cy="107.0" r="4.5"/><circle cx="21.0" cy="58.0" r="4.5"/><circle cx="24.0" cy="84.0" r="5.4"/><circle cx="24.0" cy="90.0" r="5.4"/><circle cx="56.0" cy="60.0" r="5.4"/><circle cx="57.0" cy="75.0" r="5.4"/><circle cx="58.0" cy="83.0" r="5.4"/><circle cx="57.0" cy="93.0" r="6.3"/><circle cx="58.0" cy="99.0" r="5.4"/><circle cx="57.0" cy="106.0" r="5.4"/><circle cx="66.0" cy="83.0" r="6.3"/><circle cx="64.0" cy="92.0" r="5.4"/><circle cx="75.0" cy="58.0" r="5.4"/><circle cx="79.0" cy="63.0" r="6.3"/><circle cx="76.0" cy="72.0" r="5.4"/><circle cx="75.5" cy="75.0" r="5.4"/><circle cx="80.0" cy="80.0" r="5.4"/><circle cx="77.0" cy="86.0" r="5.4"/><circle cx="82.0" cy="92.0" r="5.4"/><circle cx="80.0" cy="99.0" r="5.4"/><circle cx="86.0" cy="96.0" r="5.4"/><circle cx="88.0" cy="57.0" r="5.4"/><circle cx="92.0" cy="65.0" r="5.4"/><circle cx="96.0" cy="72.0" r="5.4"/><circle cx="100.0" cy="60.0" r="4.5"/><circle cx="99.0" cy="81.0" r="5.4"/><circle cx="103.0" cy="86.0" r="6.3"/><circle cx="92.0" cy="90.0" r="6.3"/><circle cx="97.0" cy="94.0" r="5.4"/><circle cx="104.0" cy="98.0" r="5.4"/><circle cx="102.0" cy="105.0" r="4.5"/><circle cx="90.0" cy="104.0" r="4.5"/><circle cx="108.0" cy="65.0" r="4.5"/></g></mask><mask id="mdr" maskUnits="userSpaceOnUse" x="0" y="0" width="110" height="109.5"><g fill="#fff" filter="url(#blur3)"><ellipse cx="20" cy="88" rx="18" ry="22" opacity="0.85"/><ellipse cx="86" cy="88" rx="21" ry="20" opacity="0.85"/><ellipse cx="50" cy="55" rx="35" ry="10" opacity="0.5"/></g></mask><rect width="110" height="109.5" filter="url(#tga)" mask="url(#md)" opacity="1"/><rect width="110" height="109.5" filter="url(#tma)" mask="url(#md)" opacity="0.8"/><rect width="110" height="109.5" filter="url(#tma)" mask="url(#mdr)" opacity="1"/><rect width="110" height="109.5" filter="url(#tmb)" mask="url(#mdr)" opacity="1"/><path fill="#3e6616" opacity="0.18" filter="url(#blur2)" d="M28.5,2.9A2.7,1.7,90,1,0,28.5,8.3A2.7,1.7,90,1,0,28.5,2.9ZM27.5,2.5A2.9,2.2,59,1,0,30.5,7.5A2.9,2.2,59,1,0,27.5,2.5ZM31.8,8.9A3.1,2.2,45,1,0,36.1,13.3A3.1,2.2,45,1,0,31.8,8.9ZM35.1,7.2A2.7,2.2,61,1,0,37.7,11.9A2.7,2.2,61,1,0,35.1,7.2ZM38.1,4.9A2.1,1.5,19,1,0,42.2,6.3A2.1,1.5,19,1,0,38.1,4.9ZM39.3,3.3A2.7,1.5,63,1,0,41.7,8.1A2.7,1.5,63,1,0,39.3,3.3ZM48.8,5.1A2.4,1.5,141,1,0,45.1,8.1A2.4,1.5,141,1,0,48.8,5.1ZM48.4,3.5A2.3,1.3,135,1,0,45.2,6.8A2.3,1.3,135,1,0,48.4,3.5ZM48.5,12.0A2.8,2.3,59,1,0,51.3,16.7A2.8,2.3,59,1,0,48.5,12.0ZM53.6,13.1A3.7,1.9,154,1,0,46.8,16.3A3.7,1.9,154,1,0,53.6,13.1ZM46.5,18.3A2.6,1.1,72,1,0,48.1,23.2A2.6,1.1,72,1,0,46.5,18.3ZM43.5,18.0A2.4,1.2,47,1,0,46.8,21.6A2.4,1.2,47,1,0,43.5,18.0ZM27.8,21.0A3.7,2.8,144,1,0,21.9,25.4A3.7,2.8,144,1,0,27.8,21.0ZM27.1,25.0A4.5,2.2,166,1,0,18.4,27.2A4.5,2.2,166,1,0,27.1,25.0ZM18.4,26.7A3.1,2.1,75,1,0,20.1,32.8A3.1,2.1,75,1,0,18.4,26.7ZM24.7,25.6A3.7,2.4,127,1,0,20.3,31.5A3.7,2.4,127,1,0,24.7,25.6ZM29.0,28.2A5.0,2.1,73,1,0,32.0,37.7A5.0,2.1,73,1,0,29.0,28.2ZM24.0,27.6A4.5,2.8,30,1,0,31.8,32.2A4.5,2.8,30,1,0,24.0,27.6ZM32.5,35.1A3.8,2.9,148,1,0,26.0,39.1A3.8,2.9,148,1,0,32.5,35.1ZM29.0,32.8A4.2,2.5,171,1,0,20.7,34.1A4.2,2.5,171,1,0,29.0,32.8ZM18.2,35.4A3.8,2.9,56,1,0,22.4,41.8A3.8,2.9,56,1,0,18.2,35.4ZM14.6,37.7A5.3,3.4,25,1,0,24.2,42.1A5.3,3.4,25,1,0,14.6,37.7ZM23.7,32.2A5.6,3.4,84,1,0,24.8,43.3A5.6,3.4,84,1,0,23.7,32.2ZM29.0,39.7A4.4,2.7,179,1,0,20.3,39.8A4.4,2.7,179,1,0,29.0,39.7ZM44.9,31.4A4.0,2.5,118,1,0,41.2,38.5A4.0,2.5,118,1,0,44.9,31.4ZM46.3,34.9A5.3,2.6,166,1,0,36.1,37.4A5.3,2.6,166,1,0,46.3,34.9ZM51.7,29.0A4.4,2.3,163,1,0,43.2,31.5A4.4,2.3,163,1,0,51.7,29.0ZM44.6,28.4A5.3,2.2,40,1,0,52.7,35.2A5.3,2.2,40,1,0,44.6,28.4ZM50.1,34.0A3.6,2.5,77,1,0,51.8,41.1A3.6,2.5,77,1,0,50.1,34.0ZM52.0,32.3A3.8,2.0,42,1,0,57.7,37.4A3.8,2.0,42,1,0,52.0,32.3ZM34.8,38.1A6.3,3.7,46,1,0,43.6,47.2A6.3,3.7,46,1,0,34.8,38.1ZM46.1,41.4A6.3,3.9,97,1,0,44.5,53.9A6.3,3.9,97,1,0,46.1,41.4ZM43.0,46.5A4.1,2.4,150,1,0,35.9,50.6A4.1,2.4,150,1,0,43.0,46.5ZM40.0,45.9A4.2,2.4,158,1,0,32.3,48.9A4.2,2.4,158,1,0,40.0,45.9ZM54.1,48.5A4.7,2.0,177,1,0,44.8,49.1A4.7,2.0,177,1,0,54.1,48.5ZM44.3,44.5A4.6,2.3,60,1,0,48.9,52.4A4.6,2.3,60,1,0,44.3,44.5ZM-0.1,42.2A4.9,3.0,29,1,0,8.4,47.0A4.9,3.0,29,1,0,-0.1,42.2ZM10.2,42.2A4.2,3.0,134,1,0,4.3,48.3A4.2,3.0,134,1,0,10.2,42.2ZM3.2,48.4A4.0,2.3,47,1,0,8.6,54.1A4.0,2.3,47,1,0,3.2,48.4ZM10.5,45.4A3.6,2.7,98,1,0,9.5,52.5A3.6,2.7,98,1,0,10.5,45.4ZM16.4,40.5A3.8,1.8,99,1,0,15.2,47.9A3.8,1.8,99,1,0,16.4,40.5ZM12.8,42.8A3.0,1.8,6,1,0,18.7,43.5A3.0,1.8,6,1,0,12.8,42.8ZM19.5,40.4A4.0,2.9,84,1,0,20.3,48.4A4.0,2.9,84,1,0,19.5,40.4ZM25.8,39.3A4.5,2.2,128,1,0,20.2,46.3A4.5,2.2,128,1,0,25.8,39.3ZM30.3,36.7A2.5,1.6,54,1,0,33.2,40.7A2.5,1.6,54,1,0,30.3,36.7ZM29.7,38.1A2.9,2.3,39,1,0,34.2,41.7A2.9,2.3,39,1,0,29.7,38.1ZM51.2,51.1A5.6,3.0,148,1,0,41.7,57.0A5.6,3.0,148,1,0,51.2,51.1ZM47.1,53.0A5.2,3.1,159,1,0,37.4,56.8A5.2,3.1,159,1,0,47.1,53.0ZM51.7,21.3A3.2,2.1,87,1,0,52.1,27.7A3.2,2.1,87,1,0,51.7,21.3ZM50.3,23.3A2.5,2.1,86,1,0,50.7,28.3A2.5,2.1,86,1,0,50.3,23.3ZM40.0,20.6A3.7,2.1,100,1,0,38.8,27.9A3.7,2.1,100,1,0,40.0,20.6ZM43.1,24.7A3.0,2.1,133,1,0,39.0,29.2A3.0,2.1,133,1,0,43.1,24.7ZM5.2,3.9A2.4,1.1,160,1,0,0.8,5.5A2.4,1.1,160,1,0,5.2,3.9ZM2.4,3.1A2.3,1.3,84,1,0,2.9,7.6A2.3,1.3,84,1,0,2.4,3.1ZM64.3,3.6A2.4,1.8,41,1,0,68.0,6.8A2.4,1.8,41,1,0,64.3,3.6ZM69.2,3.6A2.2,1.4,138,1,0,65.9,6.6A2.2,1.4,138,1,0,69.2,3.6ZM87.7,3.4A2.3,1.7,123,1,0,85.2,7.3A2.3,1.7,123,1,0,87.7,3.4ZM85.4,0.7A2.8,1.4,35,1,0,90.0,3.9A2.8,1.4,35,1,0,85.4,0.7ZM62.0,9.3A3.0,1.7,149,1,0,57.0,12.4A3.0,1.7,149,1,0,62.0,9.3ZM62.7,8.2A3.9,2.2,125,1,0,58.2,14.7A3.9,2.2,125,1,0,62.7,8.2ZM60.7,16.5A2.6,1.3,12,1,0,65.9,17.6A2.6,1.3,12,1,0,60.7,16.5ZM62.3,16.6A2.3,1.6,140,1,0,58.8,19.6A2.3,1.6,140,1,0,62.3,16.6ZM70.6,12.1A2.6,2.1,179,1,0,65.3,12.2A2.6,2.1,179,1,0,70.6,12.1ZM72.6,12.8A3.6,1.8,139,1,0,67.2,17.5A3.6,1.8,139,1,0,72.6,12.8ZM69.9,15.3A2.6,1.3,110,1,0,68.2,20.2A2.6,1.3,110,1,0,69.9,15.3ZM72.9,17.5A2.1,1.0,152,1,0,69.1,19.5A2.1,1.0,152,1,0,72.9,17.5ZM56.2,19.2A4.4,3.0,58,1,0,60.9,26.7A4.4,3.0,58,1,0,56.2,19.2ZM60.8,21.2A4.6,2.7,136,1,0,54.1,27.6A4.6,2.7,136,1,0,60.8,21.2ZM84.3,12.3A2.9,1.7,177,1,0,78.5,12.6A2.9,1.7,177,1,0,84.3,12.3ZM87.0,12.0A3.1,2.0,169,1,0,81.0,13.2A3.1,2.0,169,1,0,87.0,12.0ZM97.6,13.7A3.2,1.8,63,1,0,100.5,19.4A3.2,1.8,63,1,0,97.6,13.7ZM100.6,14.1A3.6,1.5,150,1,0,94.3,17.7A3.6,1.5,150,1,0,100.6,14.1ZM102.0,14.8A4.2,2.8,133,1,0,96.3,20.8A4.2,2.8,133,1,0,102.0,14.8ZM94.5,21.7A4.2,2.2,8,1,0,102.9,22.8A4.2,2.2,8,1,0,94.5,21.7ZM99.7,23.4A3.7,1.8,78,1,0,101.2,30.6A3.7,1.8,78,1,0,99.7,23.4ZM101.9,23.2A2.5,1.6,121,1,0,99.3,27.6A2.5,1.6,121,1,0,101.9,23.2ZM92.0,24.5A3.9,2.0,50,1,0,97.1,30.5A3.9,2.0,50,1,0,92.0,24.5ZM94.4,28.7A3.0,2.6,63,1,0,97.2,34.0A3.0,2.6,63,1,0,94.4,28.7ZM86.1,31.4A4.1,2.3,18,1,0,93.9,33.9A4.1,2.3,18,1,0,86.1,31.4ZM86.8,27.3A5.0,3.2,74,1,0,89.7,37.0A5.0,3.2,74,1,0,86.8,27.3ZM83.3,32.5A4.3,2.8,49,1,0,88.9,38.9A4.3,2.8,49,1,0,83.3,32.5ZM81.6,33.6A4.6,2.9,47,1,0,87.9,40.3A4.6,2.9,47,1,0,81.6,33.6ZM99.0,28.2A4.2,3.2,81,1,0,100.3,36.6A4.2,3.2,81,1,0,99.0,28.2ZM102.6,27.2A4.9,2.4,106,1,0,99.8,36.7A4.9,2.4,106,1,0,102.6,27.2ZM108.1,24.9A2.9,1.6,145,1,0,103.4,28.2A2.9,1.6,145,1,0,108.1,24.9ZM102.8,24.1A3.2,2.0,10,1,0,109.2,25.3A3.2,2.0,10,1,0,102.8,24.1ZM77.7,30.2A4.0,2.0,154,1,0,70.6,33.7A4.0,2.0,154,1,0,77.7,30.2ZM77.0,31.4A3.5,2.5,120,1,0,73.6,37.4A3.5,2.5,120,1,0,77.0,31.4ZM82.7,30.9A3.7,2.2,134,1,0,77.5,36.1A3.7,2.2,134,1,0,82.7,30.9ZM84.4,28.3A4.0,2.8,108,1,0,81.9,35.9A4.0,2.8,108,1,0,84.4,28.3ZM76.1,28.6A4.6,2.9,88,1,0,76.5,37.8A4.6,2.9,88,1,0,76.1,28.6ZM70.8,35.8A4.4,2.6,11,1,0,79.4,37.5A4.4,2.6,11,1,0,70.8,35.8ZM74.0,34.8A3.9,1.8,25,1,0,81.1,38.2A3.9,1.8,25,1,0,74.0,34.8ZM79.9,33.8A3.8,2.1,131,1,0,75.0,39.5A3.8,2.1,131,1,0,79.9,33.8ZM64.0,36.8A5.4,2.2,150,1,0,54.7,42.3A5.4,2.2,150,1,0,64.0,36.8ZM66.2,37.3A5.5,2.7,138,1,0,57.9,44.7A5.5,2.7,138,1,0,66.2,37.3ZM66.4,35.9A3.8,3.5,77,1,0,68.2,43.4A3.8,3.5,77,1,0,66.4,35.9ZM73.4,36.8A5.1,2.6,120,1,0,68.3,45.7A5.1,2.6,120,1,0,73.4,36.8ZM67.2,45.1A3.9,1.9,4,1,0,75.0,45.7A3.9,1.9,4,1,0,67.2,45.1ZM72.0,38.3A3.0,2.8,103,1,0,70.7,44.2A3.0,2.8,103,1,0,72.0,38.3ZM83.4,42.1A4.0,2.3,18,1,0,90.9,44.6A4.0,2.3,18,1,0,83.4,42.1ZM89.9,38.6A4.0,2.2,109,1,0,87.3,46.2A4.0,2.2,109,1,0,89.9,38.6ZM92.4,43.4A2.7,1.7,67,1,0,94.4,48.3A2.7,1.7,67,1,0,92.4,43.4ZM91.9,41.1A3.0,1.9,55,1,0,95.3,46.1A3.0,1.9,55,1,0,91.9,41.1ZM70.8,45.9A4.5,3.4,87,1,0,71.3,54.9A4.5,3.4,87,1,0,70.8,45.9ZM70.7,45.6A4.9,2.5,82,1,0,72.1,55.4A4.9,2.5,82,1,0,70.7,45.6ZM69.2,46.1A5.7,3.1,108,1,0,65.6,56.9A5.7,3.1,108,1,0,69.2,46.1ZM65.3,44.9A4.1,2.4,77,1,0,67.1,52.8A4.1,2.4,77,1,0,65.3,44.9ZM74.3,42.9A3.7,2.0,42,1,0,79.8,47.9A3.7,2.0,42,1,0,74.3,42.9ZM79.7,45.0A3.8,2.9,88,1,0,80.0,52.6A3.8,2.9,88,1,0,79.7,45.0ZM79.1,51.0A3.2,1.6,13,1,0,85.2,52.4A3.2,1.6,13,1,0,79.1,51.0ZM88.6,49.1A3.8,2.0,172,1,0,81.1,50.2A3.8,2.0,172,1,0,88.6,49.1ZM99.5,45.9A4.5,3.0,149,1,0,91.8,50.6A4.5,3.0,149,1,0,99.5,45.9ZM98.7,44.4A3.1,2.3,74,1,0,100.4,50.4A3.1,2.3,74,1,0,98.7,44.4ZM105.0,47.5A3.8,2.2,110,1,0,102.3,54.7A3.8,2.2,110,1,0,105.0,47.5ZM96.3,46.2A4.2,2.9,19,1,0,104.4,49.0A4.2,2.9,19,1,0,96.3,46.2ZM57.0,30.8A2.9,2.3,11,1,0,62.6,31.9A2.9,2.3,11,1,0,57.0,30.8ZM62.5,27.4A2.7,1.4,166,1,0,57.2,28.7A2.7,1.4,166,1,0,62.5,27.4ZM105.5,2.2A2.4,1.2,112,1,0,103.7,6.7A2.4,1.2,112,1,0,105.5,2.2ZM106.2,2.7A2.6,1.2,113,1,0,104.2,7.4A2.6,1.2,113,1,0,106.2,2.7ZM9.5,63.2A5.3,3.0,105,1,0,6.6,73.5A5.3,3.0,105,1,0,9.5,63.2ZM9.2,65.9A3.8,3.0,177,1,0,1.7,66.2A3.8,3.0,177,1,0,9.2,65.9ZM11.7,58.0A4.3,1.9,73,1,0,14.2,66.3A4.3,1.9,73,1,0,11.7,58.0ZM13.9,60.1A3.5,2.6,94,1,0,13.4,67.2A3.5,2.6,94,1,0,13.9,60.1ZM20.5,68.9A4.4,2.5,147,1,0,13.2,73.7A4.4,2.5,147,1,0,20.5,68.9ZM15.7,64.8A4.8,3.9,98,1,0,14.4,74.2A4.8,3.9,98,1,0,15.7,64.8ZM12.1,79.7A4.5,2.9,43,1,0,18.7,85.8A4.5,2.9,43,1,0,12.1,79.7ZM12.2,72.4A5.4,3.1,79,1,0,14.3,82.9A5.4,3.1,79,1,0,12.2,72.4ZM18.8,78.6A6.4,2.6,94,1,0,18.0,91.4A6.4,2.6,94,1,0,18.8,78.6ZM13.4,79.2A5.2,3.7,68,1,0,17.3,88.8A5.2,3.7,68,1,0,13.4,79.2ZM10.1,87.7A5.0,3.3,20,1,0,19.6,91.1A5.0,3.3,20,1,0,10.1,87.7ZM20.6,88.8A5.8,3.8,176,1,0,9.1,89.7A5.8,3.8,176,1,0,20.6,88.8ZM14.9,90.4A4.6,2.3,123,1,0,9.9,98.1A4.6,2.3,123,1,0,14.9,90.4ZM13.0,91.5A5.4,3.5,143,1,0,4.3,98.0A5.4,3.5,143,1,0,13.0,91.5ZM20.5,98.6A5.0,3.4,176,1,0,10.5,99.3A5.0,3.4,176,1,0,20.5,98.6ZM23.0,91.4A3.8,3.1,134,1,0,17.7,96.9A3.8,3.1,134,1,0,23.0,91.4ZM20.5,97.1A5.6,3.4,56,1,0,26.7,106.3A5.6,3.4,56,1,0,20.5,97.1ZM23.5,101.7A3.7,2.9,127,1,0,19.1,107.5A3.7,2.9,127,1,0,23.5,101.7ZM28.1,69.1A4.0,2.2,126,1,0,23.4,75.6A4.0,2.2,126,1,0,28.1,69.1ZM31.2,66.2A4.9,2.2,121,1,0,26.3,74.5A4.9,2.2,121,1,0,31.2,66.2ZM31.9,60.0A4.9,3.3,168,1,0,22.3,62.1A4.9,3.3,168,1,0,31.9,60.0ZM30.0,59.9A4.8,3.3,110,1,0,26.7,68.9A4.8,3.3,110,1,0,30.0,59.9ZM27.3,72.4A5.9,2.6,55,1,0,34.0,82.1A5.9,2.6,55,1,0,27.3,72.4ZM26.6,70.8A6.5,3.2,22,1,0,38.6,75.6A6.5,3.2,22,1,0,26.6,70.8ZM24.8,78.0A6.6,4.8,21,1,0,37.2,82.8A6.6,4.8,21,1,0,24.8,78.0ZM25.4,84.9A7.5,4.0,2,1,0,40.4,85.4A7.5,4.0,2,1,0,25.4,84.9ZM33.6,82.5A6.5,3.2,75,1,0,37.0,95.1A6.5,3.2,75,1,0,33.6,82.5ZM30.6,84.7A4.9,2.9,24,1,0,39.5,88.7A4.9,2.9,24,1,0,30.6,84.7ZM28.0,95.6A5.4,2.7,38,1,0,36.6,102.3A5.4,2.7,38,1,0,28.0,95.6ZM30.8,89.2A4.6,2.3,83,1,0,31.9,98.4A4.6,2.3,83,1,0,30.8,89.2ZM31.6,102.3A3.9,2.2,144,1,0,25.3,106.8A3.9,2.2,144,1,0,31.6,102.3ZM29.7,98.7A4.5,3.6,151,1,0,21.8,103.0A4.5,3.6,151,1,0,29.7,98.7ZM37.6,56.8A4.6,2.8,92,1,0,37.2,66.0A4.6,2.8,92,1,0,37.6,56.8ZM44.0,57.4A5.5,2.3,102,1,0,41.7,68.1A5.5,2.3,102,1,0,44.0,57.4ZM44.3,62.6A3.6,2.4,138,1,0,38.9,67.4A3.6,2.4,138,1,0,44.3,62.6ZM37.5,62.7A4.3,2.8,21,1,0,45.5,65.8A4.3,2.8,21,1,0,37.5,62.7ZM50.2,69.8A3.8,2.6,109,1,0,47.8,77.0A3.8,2.6,109,1,0,50.2,69.8ZM53.7,71.1A4.2,3.5,134,1,0,47.8,77.3A4.2,3.5,134,1,0,53.7,71.1ZM55.8,77.2A5.4,3.1,168,1,0,45.2,79.4A5.4,3.1,168,1,0,55.8,77.2ZM50.4,76.4A5.0,2.9,30,1,0,59.1,81.4A5.0,2.9,30,1,0,50.4,76.4ZM52.0,81.1A5.7,2.4,119,1,0,46.5,91.0A5.7,2.4,119,1,0,52.0,81.1ZM52.0,85.0A5.2,2.4,106,1,0,49.2,95.0A5.2,2.4,106,1,0,52.0,85.0ZM48.8,89.6A4.1,2.9,53,1,0,53.9,96.2A4.1,2.9,53,1,0,48.8,89.6ZM45.2,91.8A4.4,3.2,47,1,0,51.2,98.3A4.4,3.2,47,1,0,45.2,91.8ZM52.4,99.7A4.3,2.3,136,1,0,46.1,105.6A4.3,2.3,136,1,0,52.4,99.7ZM54.9,98.9A4.9,2.5,171,1,0,45.3,100.4A4.9,2.5,171,1,0,54.9,98.9ZM50.8,104.3A5.2,2.8,129,1,0,44.2,112.4A5.2,2.8,129,1,0,50.8,104.3ZM47.0,105.3A4.6,2.6,86,1,0,47.6,114.6A4.6,2.6,86,1,0,47.0,105.3ZM38.0,98.8A4.6,2.4,45,1,0,44.5,105.3A4.6,2.4,45,1,0,38.0,98.8ZM35.0,104.2A3.1,1.8,11,1,0,41.1,105.4A3.1,1.8,11,1,0,35.0,104.2ZM0.6,98.6A4.2,2.0,35,1,0,7.4,103.4A4.2,2.0,35,1,0,0.6,98.6ZM4.1,99.2A3.0,1.8,75,1,0,5.7,105.1A3.0,1.8,75,1,0,4.1,99.2ZM8.3,102.2A3.0,2.0,108,1,0,6.4,107.9A3.0,2.0,108,1,0,8.3,102.2ZM2.3,103.5A4.7,1.9,61,1,0,6.9,111.6A4.7,1.9,61,1,0,2.3,103.5ZM15.8,55.4A3.6,2.5,30,1,0,22.1,59.1A3.6,2.5,30,1,0,15.8,55.4ZM19.4,52.9A4.6,1.8,87,1,0,19.9,62.1A4.6,1.8,87,1,0,19.4,52.9ZM26.7,80.5A3.7,3.3,109,1,0,24.3,87.6A3.7,3.3,109,1,0,26.7,80.5ZM20.9,81.5A5.5,2.9,60,1,0,26.4,91.0A5.5,2.9,60,1,0,20.9,81.5ZM23.3,84.9A5.6,2.7,92,1,0,23.0,96.0A5.6,2.7,92,1,0,23.3,84.9ZM17.7,90.1A5.0,2.9,18,1,0,27.1,93.1A5.0,2.9,18,1,0,17.7,90.1ZM53.8,56.1A4.9,3.2,62,1,0,58.3,64.7A4.9,3.2,62,1,0,53.8,56.1ZM56.9,57.5A4.7,2.8,110,1,0,53.6,66.4A4.7,2.8,110,1,0,56.9,57.5ZM64.3,71.5A5.6,3.4,161,1,0,53.7,75.1A5.6,3.4,161,1,0,64.3,71.5ZM56.4,68.7A5.6,3.6,85,1,0,57.4,79.9A5.6,3.6,85,1,0,56.4,68.7ZM52.2,80.9A3.7,3.0,29,1,0,58.7,84.5A3.7,3.0,29,1,0,52.2,80.9ZM59.8,81.5A4.1,2.3,126,1,0,55.1,88.1A4.1,2.3,126,1,0,59.8,81.5ZM61.0,85.6A4.5,4.1,118,1,0,56.8,93.6A4.5,4.1,118,1,0,61.0,85.6ZM66.2,91.8A6.3,3.5,164,1,0,54.2,95.3A6.3,3.5,164,1,0,66.2,91.8ZM55.5,97.6A3.8,3.5,43,1,0,61.0,102.7A3.8,3.5,43,1,0,55.5,97.6ZM54.3,96.4A4.9,3.3,17,1,0,63.6,99.2A4.9,3.3,17,1,0,54.3,96.4ZM53.0,101.8A4.1,3.1,57,1,0,57.5,108.7A4.1,3.1,57,1,0,53.0,101.8ZM61.6,105.1A4.2,2.3,171,1,0,53.3,106.4A4.2,2.3,171,1,0,61.6,105.1ZM60.6,82.3A6.6,2.5,0,1,0,73.9,82.4A6.6,2.5,0,1,0,60.6,82.3ZM71.9,76.9A5.6,4.1,121,1,0,66.1,86.4A5.6,4.1,121,1,0,71.9,76.9ZM58.3,89.5A5.1,3.4,31,1,0,67.2,94.7A5.1,3.4,31,1,0,58.3,89.5ZM58.0,89.5A4.1,2.5,9,1,0,66.2,90.7A4.1,2.5,9,1,0,58.0,89.5ZM76.0,54.1A4.5,2.3,126,1,0,70.7,61.5A4.5,2.3,126,1,0,76.0,54.1ZM73.3,51.6A4.3,3.0,68,1,0,76.6,59.6A4.3,3.0,68,1,0,73.3,51.6ZM81.7,62.7A5.9,4.1,176,1,0,69.9,63.5A5.9,4.1,176,1,0,81.7,62.7ZM76.1,59.3A6.6,3.8,91,1,0,75.9,72.5A6.6,3.8,91,1,0,76.1,59.3ZM77.7,72.4A4.3,2.9,145,1,0,70.6,77.3A4.3,2.9,145,1,0,77.7,72.4ZM72.5,65.1A5.0,3.5,80,1,0,74.3,75.0A5.0,3.5,80,1,0,72.5,65.1ZM73.1,74.0A4.3,3.2,5,1,0,81.7,74.7A4.3,3.2,5,1,0,73.1,74.0ZM71.5,71.5A5.2,2.1,23,1,0,81.0,75.6A5.2,2.1,23,1,0,71.5,71.5ZM78.6,76.3A5.4,3.0,107,1,0,75.6,86.7A5.4,3.0,107,1,0,78.6,76.3ZM76.3,77.0A4.8,2.6,24,1,0,85.1,81.0A4.8,2.6,24,1,0,76.3,77.0ZM72.5,85.0A4.1,2.7,6,1,0,80.7,85.8A4.1,2.7,6,1,0,72.5,85.0ZM71.7,81.2A4.7,2.5,36,1,0,79.3,86.7A4.7,2.5,36,1,0,71.7,81.2ZM80.0,89.5A4.0,3.5,24,1,0,87.4,92.8A4.0,3.5,24,1,0,80.0,89.5ZM81.6,88.3A5.3,3.3,69,1,0,85.4,98.2A5.3,3.3,69,1,0,81.6,88.3ZM79.7,96.0A4.2,2.1,87,1,0,80.2,104.4A4.2,2.1,87,1,0,79.7,96.0ZM77.5,96.8A5.3,2.2,33,1,0,86.3,102.5A5.3,2.2,33,1,0,77.5,96.8ZM81.3,90.3A4.1,3.0,46,1,0,87.1,96.2A4.1,3.0,46,1,0,81.3,90.3ZM91.5,89.8A4.9,2.3,136,1,0,84.5,96.6A4.9,2.3,136,1,0,91.5,89.8ZM86.3,58.3A4.5,3.1,9,1,0,95.2,59.7A4.5,3.1,9,1,0,86.3,58.3ZM87.5,54.9A4.2,3.1,80,1,0,88.9,63.3A4.2,3.1,80,1,0,87.5,54.9ZM89.2,60.2A5.4,2.5,55,1,0,95.4,68.9A5.4,2.5,55,1,0,89.2,60.2ZM93.5,59.1A4.7,3.1,101,1,0,91.7,68.3A4.7,3.1,101,1,0,93.5,59.1ZM96.0,69.2A5.5,2.8,93,1,0,95.4,80.2A5.5,2.8,93,1,0,96.0,69.2ZM92.3,67.9A5.2,2.9,56,1,0,98.1,76.5A5.2,2.9,56,1,0,92.3,67.9ZM101.5,60.7A3.2,2.0,169,1,0,95.2,61.9A3.2,2.0,169,1,0,101.5,60.7ZM99.2,56.5A3.2,2.4,57,1,0,102.7,61.9A3.2,2.4,57,1,0,99.2,56.5ZM96.3,79.6A4.5,3.4,76,1,0,98.6,88.2A4.5,3.4,76,1,0,96.3,79.6ZM99.0,79.1A4.7,2.5,112,1,0,95.4,87.7A4.7,2.5,112,1,0,99.0,79.1ZM98.0,81.3A4.6,2.8,24,1,0,106.3,85.1A4.6,2.8,24,1,0,98.0,81.3ZM105.8,81.6A6.2,2.9,88,1,0,106.3,94.0A6.2,2.9,88,1,0,105.8,81.6ZM90.0,81.8A5.8,2.9,88,1,0,90.5,93.3A5.8,2.9,88,1,0,90.0,81.8ZM86.6,85.6A5.5,4.1,33,1,0,95.9,91.6A5.5,4.1,33,1,0,86.6,85.6ZM95.6,89.3A5.4,3.6,81,1,0,97.3,100.0A5.4,3.6,81,1,0,95.6,89.3ZM98.1,90.1A3.8,3.5,145,1,0,91.9,94.5A3.8,3.5,145,1,0,98.1,90.1ZM105.2,96.7A4.1,3.3,167,1,0,97.2,98.6A4.1,3.3,167,1,0,105.2,96.7ZM98.5,97.3A4.8,2.4,4,1,0,108.0,98.0A4.8,2.4,4,1,0,98.5,97.3ZM108.5,102.1A4.5,2.7,152,1,0,100.5,106.4A4.5,2.7,152,1,0,108.5,102.1ZM107.9,104.7A4.2,2.8,146,1,0,100.9,109.3A4.2,2.8,146,1,0,107.9,104.7ZM86.8,103.6A3.7,2.0,23,1,0,93.6,106.6A3.7,2.0,23,1,0,86.8,103.6ZM91.7,102.6A3.3,2.8,168,1,0,85.2,104.0A3.3,2.8,168,1,0,91.7,102.6ZM110.2,61.5A3.8,1.8,110,1,0,107.6,68.7A3.8,1.8,110,1,0,110.2,61.5ZM109.4,66.8A3.4,1.8,170,1,0,102.6,68.1A3.4,1.8,170,1,0,109.4,66.8Z"/><path fill="#6a9e26" opacity="0.8" filter="url(#blur1)" d="M78.9,28.6A1.8,0.7,419,1,0,80.8,31.7A1.8,0.7,419,1,0,78.9,28.6ZM25.0,54.7A1.9,0.7,428,1,0,26.4,58.2A1.9,0.7,428,1,0,25.0,54.7ZM27.5,41.5A1.9,0.7,170,1,0,23.7,42.1A1.9,0.7,170,1,0,27.5,41.5ZM21.2,78.2A1.4,0.8,140,1,0,19.0,80.0A1.4,0.8,140,1,0,21.2,78.2ZM101.6,29.2A1.8,0.8,399,1,0,104.4,31.4A1.8,0.8,399,1,0,101.6,29.2ZM94.6,109.4A1.9,0.7,166,1,0,91.0,110.3A1.9,0.7,166,1,0,94.6,109.4ZM82.3,41.9A1.2,1.0,135,1,0,80.7,43.5A1.2,1.0,135,1,0,82.3,41.9ZM105.5,66.5A1.7,0.6,264,1,0,105.1,63.1A1.7,0.6,264,1,0,105.5,66.5ZM55.8,37.7A1.6,0.8,143,1,0,53.2,39.6A1.6,0.8,143,1,0,55.8,37.7ZM45.0,93.0A1.1,1.0,256,1,0,44.5,90.7A1.1,1.0,256,1,0,45.0,93.0ZM27.9,7.8A1.5,0.6,166,1,0,25.0,8.5A1.5,0.6,166,1,0,27.9,7.8ZM46.9,24.4A1.4,0.8,287,1,0,47.7,21.8A1.4,0.8,287,1,0,46.9,24.4ZM68.1,44.3A1.5,0.9,345,1,0,71.0,43.6A1.5,0.9,345,1,0,68.1,44.3ZM5.5,48.9A1.5,0.7,329,1,0,8.1,47.3A1.5,0.7,329,1,0,5.5,48.9ZM11.0,87.7A1.6,0.9,404,1,0,13.3,90.0A1.6,0.9,404,1,0,11.0,87.7ZM83.8,97.4A1.4,0.7,257,1,0,83.2,94.7A1.4,0.7,257,1,0,83.8,97.4ZM98.3,75.6A0.9,0.6,160,1,0,96.5,76.2A0.9,0.6,160,1,0,98.3,75.6ZM67.6,19.1A1.7,0.9,292,1,0,68.8,16.0A1.7,0.9,292,1,0,67.6,19.1ZM77.8,36.3A1.0,0.9,102,1,0,77.4,38.2A1.0,0.9,102,1,0,77.8,36.3ZM55.8,36.2A1.2,0.9,329,1,0,57.8,35.0A1.2,0.9,329,1,0,55.8,36.2ZM95.4,82.7A1.5,0.7,285,1,0,96.2,79.7A1.5,0.7,285,1,0,95.4,82.7ZM6.7,101.6A1.2,0.6,165,1,0,4.4,102.2A1.2,0.6,165,1,0,6.7,101.6ZM7.4,87.8A1.6,1.0,317,1,0,9.7,85.7A1.6,1.0,317,1,0,7.4,87.8ZM24.8,62.2A1.6,0.7,275,1,0,25.1,59.1A1.6,0.7,275,1,0,24.8,62.2ZM58.8,85.7A1.8,0.5,192,1,0,55.4,85.0A1.8,0.5,192,1,0,58.8,85.7ZM42.9,102.9A0.9,0.9,418,1,0,43.9,104.4A0.9,0.9,418,1,0,42.9,102.9ZM12.4,78.3A1.5,0.9,332,1,0,15.0,76.9A1.5,0.9,332,1,0,12.4,78.3ZM85.7,36.5A0.9,0.9,266,1,0,85.6,34.7A0.9,0.9,266,1,0,85.7,36.5ZM15.0,26.2A1.6,0.6,323,1,0,17.5,24.3A1.6,0.6,323,1,0,15.0,26.2ZM86.9,91.6A1.0,0.6,107,1,0,86.4,93.5A1.0,0.6,107,1,0,86.9,91.6ZM89.2,39.6A1.8,0.8,415,1,0,91.3,42.6A1.8,0.8,415,1,0,89.2,39.6ZM110.1,95.1A1.9,0.9,427,1,0,111.5,98.6A1.9,0.9,427,1,0,110.1,95.1ZM26.1,85.6A1.8,1.0,154,1,0,22.9,87.2A1.8,1.0,154,1,0,26.1,85.6ZM54.5,95.5A1.1,0.9,101,1,0,54.1,97.7A1.1,0.9,101,1,0,54.5,95.5ZM94.7,83.1A1.3,0.6,255,1,0,94.0,80.6A1.3,0.6,255,1,0,94.7,83.1ZM25.2,62.7A1.8,0.8,289,1,0,26.4,59.2A1.8,0.8,289,1,0,25.2,62.7ZM72.3,19.7A1.4,0.6,125,1,0,70.8,21.9A1.4,0.6,125,1,0,72.3,19.7ZM3.3,3.2A1.3,0.6,371,1,0,5.8,3.7A1.3,0.6,371,1,0,3.3,3.2ZM55.9,32.4A1.9,0.8,393,1,0,59.1,34.5A1.9,0.8,393,1,0,55.9,32.4ZM78.9,29.6A1.7,0.7,359,1,0,82.2,29.5A1.7,0.7,359,1,0,78.9,29.6ZM59.1,17.1A1.8,0.6,310,1,0,61.3,14.4A1.8,0.6,310,1,0,59.1,17.1ZM50.8,25.6A1.7,0.6,265,1,0,50.5,22.2A1.7,0.6,265,1,0,50.8,25.6ZM63.2,63.5A1.3,0.6,142,1,0,61.1,65.2A1.3,0.6,142,1,0,63.2,63.5ZM67.8,17.2A1.2,1.0,253,1,0,67.1,15.0A1.2,1.0,253,1,0,67.8,17.2ZM50.5,22.3A1.3,1.0,381,1,0,52.9,23.3A1.3,1.0,381,1,0,50.5,22.3ZM60.8,102.0A1.9,0.6,170,1,0,57.1,102.7A1.9,0.6,170,1,0,60.8,102.0ZM59.8,104.6A1.6,0.5,187,1,0,56.5,104.2A1.6,0.5,187,1,0,59.8,104.6ZM47.8,11.1A1.7,0.8,303,1,0,49.7,8.2A1.7,0.8,303,1,0,47.8,11.1ZM8.7,87.4A0.9,0.8,339,1,0,10.5,86.8A0.9,0.8,339,1,0,8.7,87.4ZM64.3,21.5A1.6,0.7,192,1,0,61.3,20.8A1.6,0.7,192,1,0,64.3,21.5ZM34.6,62.9A1.2,0.7,121,1,0,33.4,64.9A1.2,0.7,121,1,0,34.6,62.9ZM50.4,67.9A1.6,0.8,153,1,0,47.6,69.4A1.6,0.8,153,1,0,50.4,67.9ZM102.2,79.4A1.5,1.0,464,1,0,101.4,82.4A1.5,1.0,464,1,0,102.2,79.4ZM36.2,89.2A1.2,0.7,154,1,0,34.0,90.3A1.2,0.7,154,1,0,36.2,89.2ZM49.9,35.8A1.1,0.9,314,1,0,51.4,34.2A1.1,0.9,314,1,0,49.9,35.8ZM34.8,72.5A1.6,0.9,452,1,0,34.7,75.8A1.6,0.9,452,1,0,34.8,72.5ZM109.3,97.9A1.7,0.8,93,1,0,109.1,101.3A1.7,0.8,93,1,0,109.3,97.9ZM95.5,44.4A1.8,0.9,98,1,0,95.0,47.9A1.8,0.9,98,1,0,95.5,44.4ZM54.8,18.0A1.0,0.5,147,1,0,53.1,19.1A1.0,0.5,147,1,0,54.8,18.0ZM98.0,34.9A2.0,0.6,147,1,0,94.7,37.1A2.0,0.6,147,1,0,98.0,34.9Z"/><g filter="url(#blur1)"><path fill="#74a82c" d="M28.3,2.1A2.5,0.8,108,1,0,26.7,6.8A2.5,0.8,108,1,0,28.3,2.1ZM27.2,2.6A1.9,0.6,126,1,0,24.9,5.7A1.9,0.6,126,1,0,27.2,2.6ZM27.8,3.2A2.1,0.6,115,1,0,26.0,6.9A2.1,0.6,115,1,0,27.8,3.2ZM29.5,3.0A2.8,0.8,126,1,0,26.2,7.4A2.8,0.8,126,1,0,29.5,3.0ZM34.0,7.8A2.1,0.7,62,1,0,36.0,11.6A2.1,0.7,62,1,0,34.0,7.8ZM35.0,9.2A2.3,0.7,21,1,0,39.2,10.8A2.3,0.7,21,1,0,35.0,9.2ZM34.0,8.4A2.9,0.9,34,1,0,38.7,11.6A2.9,0.9,34,1,0,34.0,8.4ZM35.2,6.5A2.5,0.8,85,1,0,35.7,11.4A2.5,0.8,85,1,0,35.2,6.5ZM39.6,5.0A1.3,0.4,35,1,0,41.7,6.5A1.3,0.4,35,1,0,39.6,5.0ZM39.7,4.0A1.4,0.4,33,1,0,42.1,5.5A1.4,0.4,33,1,0,39.7,4.0ZM38.9,5.4A1.4,0.4,-36,1,0,41.2,3.7A1.4,0.4,-36,1,0,38.9,5.4ZM38.6,6.1A1.4,0.4,-19,1,0,41.3,5.1A1.4,0.4,-19,1,0,38.6,6.1ZM45.1,4.8A2.0,0.6,39,1,0,48.2,7.2A2.0,0.6,39,1,0,45.1,4.8ZM46.5,3.9A2.0,0.6,62,1,0,48.4,7.3A2.0,0.6,62,1,0,46.5,3.9ZM46.0,4.0A2.0,0.6,61,1,0,48.0,7.4A2.0,0.6,61,1,0,46.0,4.0ZM46.3,3.7A1.8,0.5,81,1,0,46.8,7.1A1.8,0.5,81,1,0,46.3,3.7ZM51.6,10.8A2.5,0.8,112,1,0,49.7,15.4A2.5,0.8,112,1,0,51.6,10.8ZM50.2,10.3A2.9,0.9,93,1,0,49.9,16.2A2.9,0.9,93,1,0,50.2,10.3ZM53.5,14.5A2.4,0.7,164,1,0,49.0,15.8A2.4,0.7,164,1,0,53.5,14.5ZM52.2,11.1A2.3,0.7,116,1,0,50.2,15.1A2.3,0.7,116,1,0,52.2,11.1ZM46.6,18.7A1.3,0.4,120,1,0,45.2,21.0A1.3,0.4,120,1,0,46.6,18.7ZM44.9,18.8A1.7,0.5,32,1,0,47.8,20.6A1.7,0.5,32,1,0,44.9,18.8ZM46.7,18.4A1.5,0.5,108,1,0,45.8,21.3A1.5,0.5,108,1,0,46.7,18.4ZM46.7,17.5A1.3,0.4,99,1,0,46.3,20.1A1.3,0.4,99,1,0,46.7,17.5ZM23.0,24.3A3.1,0.9,129,1,0,19.1,29.1A3.1,0.9,129,1,0,23.0,24.3ZM22.5,27.5A2.4,0.7,135,1,0,19.1,31.0A2.4,0.7,135,1,0,22.5,27.5ZM25.1,27.9A3.1,1.0,156,1,0,19.4,30.5A3.1,1.0,156,1,0,25.1,27.9ZM22.5,23.8A3.3,1.0,111,1,0,20.2,30.0A3.3,1.0,111,1,0,22.5,23.8ZM29.3,24.6A4.2,1.3,74,1,0,31.7,32.6A4.2,1.3,74,1,0,29.3,24.6ZM27.1,26.3A3.6,1.1,67,1,0,29.9,32.8A3.6,1.1,67,1,0,27.1,26.3ZM28.9,25.4A3.6,1.1,78,1,0,30.4,32.4A3.6,1.1,78,1,0,28.9,25.4ZM30.4,27.9A3.0,0.9,105,1,0,28.8,33.7A3.0,0.9,105,1,0,30.4,27.9ZM30.4,34.7A3.5,1.1,152,1,0,24.1,38.0A3.5,1.1,152,1,0,30.4,34.7ZM30.9,32.7A3.7,1.1,144,1,0,24.9,37.1A3.7,1.1,144,1,0,30.9,32.7ZM28.9,33.3A3.9,1.2,133,1,0,23.5,39.0A3.9,1.2,133,1,0,28.9,33.3ZM31.2,32.9A3.9,1.2,141,1,0,25.1,37.9A3.9,1.2,141,1,0,31.2,32.9ZM16.2,35.1A3.0,0.9,47,1,0,20.3,39.5A3.0,0.9,47,1,0,16.2,35.1ZM12.8,36.8A4.3,1.3,8,1,0,21.3,37.9A4.3,1.3,8,1,0,12.8,36.8ZM16.6,36.2A3.5,1.1,31,1,0,22.6,39.8A3.5,1.1,31,1,0,16.6,36.2ZM14.2,34.9A2.9,0.9,27,1,0,19.3,37.5A2.9,0.9,27,1,0,14.2,34.9ZM18.7,38.7A3.7,1.1,8,1,0,26.1,39.8A3.7,1.1,8,1,0,18.7,38.7ZM22.2,38.9A3.1,0.9,57,1,0,25.6,44.0A3.1,0.9,57,1,0,22.2,38.9ZM22.6,35.4A3.8,1.2,59,1,0,26.5,42.0A3.8,1.2,59,1,0,22.6,35.4ZM18.5,41.9A3.6,1.1,-26,1,0,25.1,38.7A3.6,1.1,-26,1,0,18.5,41.9ZM42.9,31.0A3.5,1.1,98,1,0,42.0,37.8A3.5,1.1,98,1,0,42.9,31.0ZM44.8,30.7A4.2,1.3,111,1,0,41.8,38.6A4.2,1.3,111,1,0,44.8,30.7ZM44.4,30.3A3.7,1.1,105,1,0,42.5,37.4A3.7,1.1,105,1,0,44.4,30.3ZM44.3,31.3A3.8,1.2,93,1,0,43.9,38.9A3.8,1.2,93,1,0,44.3,31.3ZM44.2,30.9A3.6,1.1,8,1,0,51.2,31.9A3.6,1.1,8,1,0,44.2,30.9ZM48.0,25.3A3.4,1.0,98,1,0,47.0,32.1A3.4,1.0,98,1,0,48.0,25.3ZM48.7,27.3A3.8,1.2,73,1,0,51.0,34.5A3.8,1.2,73,1,0,48.7,27.3ZM48.8,24.8A3.7,1.1,77,1,0,50.4,32.0A3.7,1.1,77,1,0,48.8,24.8ZM55.2,32.7A2.8,0.9,121,1,0,52.3,37.6A2.8,0.9,121,1,0,55.2,32.7ZM56.3,35.0A3.1,0.9,141,1,0,51.5,38.9A3.1,0.9,141,1,0,56.3,35.0ZM51.4,33.7A3.2,1.0,57,1,0,54.9,39.1A3.2,1.0,57,1,0,51.4,33.7ZM53.9,33.4A3.0,0.9,102,1,0,52.7,39.3A3.0,0.9,102,1,0,53.9,33.4ZM37.7,46.7A2.4,0.7,121,1,0,35.2,50.9A2.4,0.7,121,1,0,37.7,46.7ZM37.8,44.5A3.2,1.0,111,1,0,35.5,50.5A3.2,1.0,111,1,0,37.8,44.5ZM37.4,43.8A3.0,0.9,92,1,0,37.2,49.8A3.0,0.9,92,1,0,37.4,43.8ZM38.3,45.4A2.8,0.9,104,1,0,37.0,50.9A2.8,0.9,104,1,0,38.3,45.4ZM43.9,47.1A3.2,1.0,-0,1,0,50.3,47.0A3.2,1.0,-0,1,0,43.9,47.1ZM45.6,47.2A3.4,1.0,-0,1,0,52.4,47.1A3.4,1.0,-0,1,0,45.6,47.2ZM45.3,47.7A2.9,0.9,-23,1,0,50.7,45.4A2.9,0.9,-23,1,0,45.3,47.7ZM44.3,45.1A3.0,0.9,39,1,0,49.0,48.9A3.0,0.9,39,1,0,44.3,45.1ZM5.9,49.8A3.3,1.0,9,1,0,12.4,50.8A3.3,1.0,9,1,0,5.9,49.8ZM6.2,49.0A2.5,0.8,18,1,0,10.9,50.6A2.5,0.8,18,1,0,6.2,49.0ZM4.8,52.0A2.8,0.8,-17,1,0,10.1,50.3A2.8,0.8,-17,1,0,4.8,52.0ZM6.2,50.1A2.3,0.7,5,1,0,10.9,50.5A2.3,0.7,5,1,0,6.2,50.1ZM15.8,40.3A2.2,0.7,128,1,0,13.1,43.7A2.2,0.7,128,1,0,15.8,40.3ZM15.7,40.7A2.9,0.9,146,1,0,10.9,43.9A2.9,0.9,146,1,0,15.7,40.7ZM14.0,42.1A1.9,0.6,78,1,0,14.8,45.9A1.9,0.6,78,1,0,14.0,42.1ZM14.3,41.0A2.2,0.7,114,1,0,12.5,45.1A2.2,0.7,114,1,0,14.3,41.0ZM22.7,42.5A3.1,0.9,113,1,0,20.3,48.1A3.1,0.9,113,1,0,22.7,42.5ZM23.7,42.9A2.9,0.9,150,1,0,18.7,45.8A2.9,0.9,150,1,0,23.7,42.9ZM23.9,40.9A3.2,1.0,128,1,0,20.0,46.0A3.2,1.0,128,1,0,23.9,40.9ZM20.0,42.5A2.5,0.8,72,1,0,21.6,47.4A2.5,0.8,72,1,0,20.0,42.5ZM30.2,39.2A2.3,0.7,12,1,0,34.7,40.1A2.3,0.7,12,1,0,30.2,39.2ZM29.3,41.2A2.6,0.8,-2,1,0,34.5,41.0A2.6,0.8,-2,1,0,29.3,41.2ZM30.7,42.0A2.0,0.6,-38,1,0,33.9,39.5A2.0,0.6,-38,1,0,30.7,42.0ZM29.1,40.5A2.8,0.9,-34,1,0,33.8,37.3A2.8,0.9,-34,1,0,29.1,40.5ZM40.8,51.7A3.4,1.0,2,1,0,47.6,52.0A3.4,1.0,2,1,0,40.8,51.7ZM40.7,54.2A3.0,0.9,-15,1,0,46.6,52.7A3.0,0.9,-15,1,0,40.7,54.2ZM41.9,52.5A4.2,1.3,11,1,0,50.2,54.1A4.2,1.3,11,1,0,41.9,52.5ZM41.6,50.7A2.9,0.9,27,1,0,46.6,53.3A2.9,0.9,27,1,0,41.6,50.7ZM48.7,23.9A2.6,0.8,42,1,0,52.5,27.4A2.6,0.8,42,1,0,48.7,23.9ZM49.4,24.1A2.4,0.7,52,1,0,52.3,27.8A2.4,0.7,52,1,0,49.4,24.1ZM48.2,23.9A2.3,0.7,66,1,0,50.1,28.2A2.3,0.7,66,1,0,48.2,23.9ZM47.3,26.9A2.7,0.8,-6,1,0,52.6,26.3A2.7,0.8,-6,1,0,47.3,26.9ZM41.4,23.2A2.1,0.7,105,1,0,40.3,27.4A2.1,0.7,105,1,0,41.4,23.2ZM38.3,22.9A2.8,0.8,43,1,0,42.4,26.6A2.8,0.8,43,1,0,38.3,22.9ZM39.6,24.3A1.9,0.6,44,1,0,42.4,26.9A1.9,0.6,44,1,0,39.6,24.3ZM39.7,23.4A2.4,0.7,66,1,0,41.7,27.8A2.4,0.7,66,1,0,39.7,23.4ZM5.1,5.2A1.9,0.6,157,1,0,1.6,6.7A1.9,0.6,157,1,0,5.1,5.2ZM5.4,5.6A1.9,0.6,189,1,0,1.7,5.0A1.9,0.6,189,1,0,5.4,5.6ZM6.2,7.3A1.9,0.6,200,1,0,2.6,6.0A1.9,0.6,200,1,0,6.2,7.3ZM6.0,5.7A1.4,0.4,175,1,0,3.2,6.0A1.4,0.4,175,1,0,6.0,5.7ZM63.2,4.7A2.5,0.8,22,1,0,67.8,6.6A2.5,0.8,22,1,0,63.2,4.7ZM65.3,4.6A1.9,0.6,42,1,0,68.1,7.2A1.9,0.6,42,1,0,65.3,4.6ZM63.4,5.0A2.2,0.7,8,1,0,67.7,5.6A2.2,0.7,8,1,0,63.4,5.0ZM63.6,4.5A2.1,0.6,21,1,0,67.5,6.0A2.1,0.6,21,1,0,63.6,4.5ZM59.0,10.2A2.3,0.7,71,1,0,60.5,14.5A2.3,0.7,71,1,0,59.0,10.2ZM57.9,8.2A2.9,0.9,75,1,0,59.4,13.7A2.9,0.9,75,1,0,57.9,8.2ZM58.8,8.7A2.8,0.9,71,1,0,60.6,14.0A2.8,0.9,71,1,0,58.8,8.7ZM57.9,8.8A2.9,0.9,90,1,0,57.9,14.7A2.9,0.9,90,1,0,57.9,8.8ZM64.4,14.6A2.3,0.7,135,1,0,61.2,17.8A2.3,0.7,135,1,0,64.4,14.6ZM63.3,15.3A2.2,0.7,127,1,0,60.6,18.8A2.2,0.7,127,1,0,63.3,15.3ZM63.6,16.9A2.1,0.6,179,1,0,59.4,17.0A2.1,0.6,179,1,0,63.6,16.9ZM62.1,15.4A1.9,0.6,121,1,0,60.1,18.6A1.9,0.6,121,1,0,62.1,15.4ZM68.0,12.1A2.0,0.6,23,1,0,71.6,13.7A2.0,0.6,23,1,0,68.0,12.1ZM67.9,14.8A2.6,0.8,-1,1,0,73.2,14.7A2.6,0.8,-1,1,0,67.9,14.8ZM67.4,12.7A3.0,0.9,40,1,0,72.0,16.6A3.0,0.9,40,1,0,67.4,12.7ZM68.0,12.6A2.9,0.9,52,1,0,71.6,17.2A2.9,0.9,52,1,0,68.0,12.6ZM69.5,15.6A2.0,0.6,72,1,0,70.7,19.3A2.0,0.6,72,1,0,69.5,15.6ZM70.3,16.9A1.6,0.5,93,1,0,70.1,20.1A1.6,0.5,93,1,0,70.3,16.9ZM68.9,16.4A1.9,0.6,75,1,0,69.8,20.1A1.9,0.6,75,1,0,68.9,16.4ZM70.3,16.4A1.5,0.4,111,1,0,69.3,19.1A1.5,0.4,111,1,0,70.3,16.4ZM60.2,24.6A3.3,1.0,186,1,0,53.5,23.9A3.3,1.0,186,1,0,60.2,24.6ZM59.0,24.1A3.3,1.0,179,1,0,52.4,24.3A3.3,1.0,179,1,0,59.0,24.1ZM59.6,20.9A2.3,0.7,133,1,0,56.4,24.4A2.3,0.7,133,1,0,59.6,20.9ZM60.0,21.3A2.9,0.9,135,1,0,55.9,25.4A2.9,0.9,135,1,0,60.0,21.3ZM80.6,11.4A1.8,0.5,-13,1,0,84.0,10.6A1.8,0.5,-13,1,0,80.6,11.4ZM80.1,10.6A2.0,0.6,-6,1,0,84.0,10.2A2.0,0.6,-6,1,0,80.1,10.6ZM79.8,9.9A2.2,0.7,8,1,0,84.2,10.5A2.2,0.7,8,1,0,79.8,9.9ZM81.1,9.6A2.4,0.7,38,1,0,84.9,12.6A2.4,0.7,38,1,0,81.1,9.6ZM98.5,15.5A2.3,0.7,166,1,0,94.0,16.6A2.3,0.7,166,1,0,98.5,15.5ZM98.7,15.2A2.5,0.8,177,1,0,93.7,15.5A2.5,0.8,177,1,0,98.7,15.2ZM99.7,14.3A2.5,0.7,135,1,0,96.2,17.8A2.5,0.7,135,1,0,99.7,14.3ZM97.7,12.5A2.9,0.9,100,1,0,96.8,18.2A2.9,0.9,100,1,0,97.7,12.5ZM100.4,18.5A2.7,0.8,97,1,0,99.8,23.9A2.7,0.8,97,1,0,100.4,18.5ZM99.4,18.2A3.2,1.0,73,1,0,101.3,24.3A3.2,1.0,73,1,0,99.4,18.2ZM98.9,18.6A3.2,1.0,51,1,0,102.9,23.6A3.2,1.0,51,1,0,98.9,18.6ZM101.2,16.5A3.1,1.0,118,1,0,98.2,22.0A3.1,1.0,118,1,0,101.2,16.5ZM96.7,26.2A2.5,0.8,-4,1,0,101.6,25.8A2.5,0.8,-4,1,0,96.7,26.2ZM97.7,27.0A1.9,0.6,-7,1,0,101.4,26.6A1.9,0.6,-7,1,0,97.7,27.0ZM98.1,23.7A2.3,0.7,47,1,0,101.2,27.1A2.3,0.7,47,1,0,98.1,23.7ZM97.3,26.2A2.6,0.8,-28,1,0,102.0,23.8A2.6,0.8,-28,1,0,97.3,26.2ZM95.4,27.2A2.4,0.7,93,1,0,95.1,32.0A2.4,0.7,93,1,0,95.4,27.2ZM94.5,28.8A2.8,0.9,56,1,0,97.6,33.4A2.8,0.9,56,1,0,94.5,28.8ZM93.1,27.3A2.8,0.8,43,1,0,97.1,31.1A2.8,0.8,43,1,0,93.1,27.3ZM92.2,29.0A3.0,0.9,19,1,0,97.9,31.0A3.0,0.9,19,1,0,92.2,29.0ZM88.7,31.9A2.7,0.8,62,1,0,91.3,36.7A2.7,0.8,62,1,0,88.7,31.9ZM90.4,30.3A3.2,1.0,93,1,0,90.1,36.8A3.2,1.0,93,1,0,90.4,30.3ZM90.2,30.5A3.9,1.2,108,1,0,87.7,38.0A3.9,1.2,108,1,0,90.2,30.5ZM91.1,30.5A3.5,1.1,82,1,0,92.1,37.4A3.5,1.1,82,1,0,91.1,30.5ZM83.7,34.3A3.4,1.0,-7,1,0,90.5,33.4A3.4,1.0,-7,1,0,83.7,34.3ZM85.1,32.5A3.1,1.0,47,1,0,89.4,37.1A3.1,1.0,47,1,0,85.1,32.5ZM83.3,33.0A3.5,1.1,67,1,0,86.0,39.5A3.5,1.1,67,1,0,83.3,33.0ZM82.1,34.9A3.1,1.0,8,1,0,88.3,35.7A3.1,1.0,8,1,0,82.1,34.9ZM103.4,24.4A2.8,0.9,1,1,0,109.0,24.5A2.8,0.9,1,1,0,103.4,24.4ZM104.4,23.4A2.1,0.6,29,1,0,108.0,25.5A2.1,0.6,29,1,0,104.4,23.4ZM103.2,26.2A2.8,0.9,-16,1,0,108.6,24.7A2.8,0.9,-16,1,0,103.2,26.2ZM104.3,26.6A2.1,0.6,-28,1,0,108.0,24.6A2.1,0.6,-28,1,0,104.3,26.6ZM76.5,29.2A3.0,0.9,79,1,0,77.7,35.2A3.0,0.9,79,1,0,76.5,29.2ZM72.2,30.5A3.2,1.0,35,1,0,77.5,34.2A3.2,1.0,35,1,0,72.2,30.5ZM75.6,30.9A2.3,0.7,93,1,0,75.3,35.5A2.3,0.7,93,1,0,75.6,30.9ZM74.5,30.8A2.6,0.8,48,1,0,78.0,34.7A2.6,0.8,48,1,0,74.5,30.8ZM78.4,29.8A2.9,0.9,59,1,0,81.4,34.8A2.9,0.9,59,1,0,78.4,29.8ZM84.2,30.9A3.6,1.1,120,1,0,80.5,37.1A3.6,1.1,120,1,0,84.2,30.9ZM81.2,30.6A2.9,0.9,74,1,0,82.7,36.1A2.9,0.9,74,1,0,81.2,30.6ZM80.5,31.3A2.3,0.7,87,1,0,80.8,35.9A2.3,0.7,87,1,0,80.5,31.3ZM75.9,37.9A2.4,0.7,15,1,0,80.5,39.2A2.4,0.7,15,1,0,75.9,37.9ZM77.4,39.3A2.5,0.8,-20,1,0,82.2,37.6A2.5,0.8,-20,1,0,77.4,39.3ZM77.5,34.9A3.5,1.1,37,1,0,83.1,39.1A3.5,1.1,37,1,0,77.5,34.9ZM77.3,36.0A3.4,1.1,29,1,0,83.3,39.4A3.4,1.1,29,1,0,77.3,36.0ZM57.6,40.1A4.3,1.3,-15,1,0,65.9,38.0A4.3,1.3,-15,1,0,57.6,40.1ZM60.5,37.0A4.1,1.3,54,1,0,65.4,43.7A4.1,1.3,54,1,0,60.5,37.0ZM60.6,35.0A3.3,1.0,55,1,0,64.4,40.4A3.3,1.0,55,1,0,60.6,35.0ZM61.2,37.8A3.1,1.0,42,1,0,65.8,42.0A3.1,1.0,42,1,0,61.2,37.8ZM67.2,35.5A4.2,1.3,91,1,0,67.1,43.9A4.2,1.3,91,1,0,67.2,35.5ZM69.5,39.5A2.7,0.8,145,1,0,65.0,42.7A2.7,0.8,145,1,0,69.5,39.5ZM70.9,39.0A3.3,1.0,151,1,0,65.1,42.2A3.3,1.0,151,1,0,70.9,39.0ZM69.1,38.5A2.8,0.9,129,1,0,65.5,42.9A2.8,0.9,129,1,0,69.1,38.5ZM73.0,41.4A2.8,0.9,155,1,0,68.0,43.8A2.8,0.9,155,1,0,73.0,41.4ZM72.8,40.7A3.0,0.9,150,1,0,67.6,43.6A3.0,0.9,150,1,0,72.8,40.7ZM73.4,44.4A2.9,0.9,189,1,0,67.6,43.4A2.9,0.9,189,1,0,73.4,44.4ZM75.2,45.2A3.4,1.0,206,1,0,69.2,42.2A3.4,1.0,206,1,0,75.2,45.2ZM91.9,44.4A3.0,0.9,183,1,0,85.8,44.0A3.0,0.9,183,1,0,91.9,44.4ZM93.1,44.3A3.2,1.0,181,1,0,86.6,44.2A3.2,1.0,181,1,0,93.1,44.3ZM91.6,43.2A2.6,0.8,198,1,0,86.7,41.6A2.6,0.8,198,1,0,91.6,43.2ZM91.2,44.2A3.5,1.1,218,1,0,85.7,40.0A3.5,1.1,218,1,0,91.2,44.2ZM91.1,48.0A2.8,0.9,-42,1,0,95.3,44.2A2.8,0.9,-42,1,0,91.1,48.0ZM89.7,43.4A2.8,0.9,35,1,0,94.3,46.6A2.8,0.9,35,1,0,89.7,43.4ZM92.1,44.0A2.6,0.8,49,1,0,95.5,47.9A2.6,0.8,49,1,0,92.1,44.0ZM91.3,43.2A2.7,0.8,32,1,0,95.8,46.1A2.7,0.8,32,1,0,91.3,43.2ZM71.9,51.0A4.0,1.2,162,1,0,64.2,53.6A4.0,1.2,162,1,0,71.9,51.0ZM72.5,47.9A4.2,1.3,116,1,0,68.8,55.4A4.2,1.3,116,1,0,72.5,47.9ZM70.2,47.8A4.2,1.3,121,1,0,66.0,55.1A4.2,1.3,121,1,0,70.2,47.8ZM72.6,47.8A3.1,0.9,143,1,0,67.7,51.5A3.1,0.9,143,1,0,72.6,47.8ZM80.3,44.0A2.9,0.9,135,1,0,76.3,48.1A2.9,0.9,135,1,0,80.3,44.0ZM80.3,44.1A2.7,0.8,134,1,0,76.5,48.0A2.7,0.8,134,1,0,80.3,44.1ZM80.8,45.1A2.9,0.9,137,1,0,76.6,49.1A2.9,0.9,137,1,0,80.8,45.1ZM80.5,47.4A2.6,0.8,195,1,0,75.5,46.1A2.6,0.8,195,1,0,80.5,47.4ZM82.7,48.6A2.1,0.6,73,1,0,84.0,52.6A2.1,0.6,73,1,0,82.7,48.6ZM85.3,48.8A2.2,0.7,105,1,0,84.2,53.0A2.2,0.7,105,1,0,85.3,48.8ZM82.9,47.1A2.4,0.7,64,1,0,85.0,51.4A2.4,0.7,64,1,0,82.9,47.1ZM86.5,48.0A2.3,0.7,142,1,0,82.9,50.8A2.3,0.7,142,1,0,86.5,48.0ZM97.7,44.4A2.7,0.8,91,1,0,97.6,49.8A2.7,0.8,91,1,0,97.7,44.4ZM95.5,45.1A3.1,1.0,38,1,0,100.5,48.9A3.1,1.0,38,1,0,95.5,45.1ZM98.4,46.4A2.9,0.9,88,1,0,98.5,52.1A2.9,0.9,88,1,0,98.4,46.4ZM96.8,45.3A2.4,0.7,55,1,0,99.6,49.2A2.4,0.7,55,1,0,96.8,45.3ZM57.1,27.3A2.0,0.6,64,1,0,58.8,30.8A2.0,0.6,64,1,0,57.1,27.3ZM58.5,28.7A2.4,0.7,78,1,0,59.5,33.5A2.4,0.7,78,1,0,58.5,28.7ZM58.9,28.6A2.2,0.7,78,1,0,59.8,32.9A2.2,0.7,78,1,0,58.9,28.6ZM57.6,28.2A2.7,0.8,64,1,0,60.0,33.1A2.7,0.8,64,1,0,57.6,28.2ZM105.2,4.7A1.3,0.4,123,1,0,103.8,6.9A1.3,0.4,123,1,0,105.2,4.7ZM103.6,3.5A1.5,0.4,60,1,0,105.1,6.0A1.5,0.4,60,1,0,103.6,3.5ZM104.5,4.2A1.9,0.6,51,1,0,107.0,7.1A1.9,0.6,51,1,0,104.5,4.2ZM104.9,3.0A2.0,0.6,68,1,0,106.4,6.7A2.0,0.6,68,1,0,104.9,3.0ZM15.0,60.7A2.8,0.9,137,1,0,10.8,64.5A2.8,0.9,137,1,0,15.0,60.7ZM9.4,60.3A3.0,0.9,57,1,0,12.7,65.4A3.0,0.9,57,1,0,9.4,60.3ZM15.2,60.4A3.2,1.0,135,1,0,10.6,64.9A3.2,1.0,135,1,0,15.2,60.4ZM11.7,60.2A2.3,0.7,85,1,0,12.1,64.9A2.3,0.7,85,1,0,11.7,60.2ZM11.3,70.6A4.6,1.4,28,1,0,19.4,74.8A4.6,1.4,28,1,0,11.3,70.6ZM12.0,69.7A3.7,1.1,39,1,0,17.7,74.4A3.7,1.1,39,1,0,12.0,69.7ZM11.3,71.7A3.2,1.0,36,1,0,16.5,75.4A3.2,1.0,36,1,0,11.3,71.7ZM14.1,68.7A3.7,1.1,99,1,0,12.9,76.1A3.7,1.1,99,1,0,14.1,68.7ZM14.3,79.2A3.8,1.1,161,1,0,7.2,81.6A3.8,1.1,161,1,0,14.3,79.2ZM10.5,75.0A4.5,1.4,88,1,0,10.8,84.1A4.5,1.4,88,1,0,10.5,75.0ZM15.1,75.7A4.1,1.3,134,1,0,9.3,81.6A4.1,1.3,134,1,0,15.1,75.7ZM14.7,76.2A4.3,1.3,149,1,0,7.3,80.7A4.3,1.3,149,1,0,14.7,76.2ZM17.5,77.0A3.5,1.1,97,1,0,16.5,84.0A3.5,1.1,97,1,0,17.5,77.0ZM19.8,79.1A4.1,1.3,92,1,0,19.5,87.3A4.1,1.3,92,1,0,19.8,79.1ZM17.5,78.4A4.8,1.5,69,1,0,21.0,87.4A4.8,1.5,69,1,0,17.5,78.4ZM13.3,80.7A4.2,1.3,30,1,0,20.6,85.0A4.2,1.3,30,1,0,13.3,80.7ZM12.3,87.4A3.9,1.2,26,1,0,19.4,90.8A3.9,1.2,26,1,0,12.3,87.4ZM11.1,89.2A3.5,1.1,-18,1,0,17.7,87.0A3.5,1.1,-18,1,0,11.1,89.2ZM11.3,87.4A3.7,1.1,10,1,0,18.5,88.7A3.7,1.1,10,1,0,11.3,87.4ZM14.0,87.6A3.7,1.1,9,1,0,21.2,88.8A3.7,1.1,9,1,0,14.0,87.6ZM8.1,90.2A3.0,0.9,74,1,0,9.8,95.9A3.0,0.9,74,1,0,8.1,90.2ZM9.8,87.9A3.9,1.2,102,1,0,8.2,95.5A3.9,1.2,102,1,0,9.8,87.9ZM9.0,89.3A2.9,0.9,85,1,0,9.6,95.0A2.9,0.9,85,1,0,9.0,89.3ZM14.4,88.4A4.0,1.2,150,1,0,7.5,92.4A4.0,1.2,150,1,0,14.4,88.4ZM15.9,94.3A3.7,1.1,47,1,0,21.0,99.7A3.7,1.1,47,1,0,15.9,94.3ZM12.7,96.6A4.3,1.3,3,1,0,21.3,97.0A4.3,1.3,3,1,0,12.7,96.6ZM16.5,95.5A3.6,1.1,35,1,0,22.4,99.6A3.6,1.1,35,1,0,16.5,95.5ZM15.1,99.2A3.4,1.1,-35,1,0,20.7,95.2A3.4,1.1,-35,1,0,15.1,99.2ZM19.3,99.5A3.7,1.1,59,1,0,23.1,105.9A3.7,1.1,59,1,0,19.3,99.5ZM18.4,103.7A3.6,1.1,-8,1,0,25.5,102.7A3.6,1.1,-8,1,0,18.4,103.7ZM19.3,98.6A3.4,1.1,34,1,0,25.0,102.5A3.4,1.1,34,1,0,19.3,98.6ZM18.9,100.2A4.0,1.2,61,1,0,22.8,107.0A4.0,1.2,61,1,0,18.9,100.2ZM24.0,68.3A3.6,1.1,27,1,0,30.4,71.6A3.6,1.1,27,1,0,24.0,68.3ZM22.4,67.3A3.9,1.2,24,1,0,29.5,70.6A3.9,1.2,24,1,0,22.4,67.3ZM22.7,72.8A3.1,0.9,-26,1,0,28.2,70.1A3.1,0.9,-26,1,0,22.7,72.8ZM23.3,70.1A3.4,1.0,11,1,0,30.0,71.4A3.4,1.0,11,1,0,23.3,70.1ZM28.6,59.3A3.9,1.2,52,1,0,33.4,65.3A3.9,1.2,52,1,0,28.6,59.3ZM27.8,65.4A4.1,1.2,-33,1,0,34.6,61.0A4.1,1.2,-33,1,0,27.8,65.4ZM28.9,61.2A2.7,0.8,-17,1,0,34.1,59.6A2.7,0.8,-17,1,0,28.9,61.2ZM28.6,64.7A2.9,0.9,-36,1,0,33.4,61.2A2.9,0.9,-36,1,0,28.6,64.7ZM29.1,70.6A4.9,1.5,74,1,0,31.8,80.1A4.9,1.5,74,1,0,29.1,70.6ZM32.1,72.8A4.2,1.3,72,1,0,34.6,80.8A4.2,1.3,72,1,0,32.1,72.8ZM33.1,74.2A3.4,1.0,138,1,0,28.0,78.7A3.4,1.0,138,1,0,33.1,74.2ZM30.9,73.0A3.3,1.0,84,1,0,31.6,79.6A3.3,1.0,84,1,0,30.9,73.0ZM32.0,85.8A3.4,1.0,77,1,0,33.5,92.5A3.4,1.0,77,1,0,32.0,85.8ZM33.2,85.9A4.8,1.5,58,1,0,38.2,93.9A4.8,1.5,58,1,0,33.2,85.9ZM33.7,85.1A4.4,1.3,74,1,0,36.1,93.6A4.4,1.3,74,1,0,33.7,85.1ZM35.1,85.8A4.9,1.5,124,1,0,29.6,93.9A4.9,1.5,124,1,0,35.1,85.8ZM31.8,91.1A3.8,1.2,113,1,0,28.9,98.0A3.8,1.2,113,1,0,31.8,91.1ZM33.0,93.9A4.2,1.3,122,1,0,28.6,101.0A4.2,1.3,122,1,0,33.0,93.9ZM34.1,93.5A3.7,1.1,164,1,0,27.0,95.5A3.7,1.1,164,1,0,34.1,93.5ZM33.5,92.7A3.5,1.1,136,1,0,28.4,97.6A3.5,1.1,136,1,0,33.5,92.7ZM27.2,99.3A3.3,1.0,106,1,0,25.4,105.7A3.3,1.0,106,1,0,27.2,99.3ZM25.1,101.1A3.4,1.0,59,1,0,28.6,106.9A3.4,1.0,59,1,0,25.1,101.1ZM25.4,100.3A4.1,1.2,60,1,0,29.5,107.3A4.1,1.2,60,1,0,25.4,100.3ZM26.3,98.6A3.7,1.1,58,1,0,30.3,104.8A3.7,1.1,58,1,0,26.3,98.6ZM38.0,56.2A4.2,1.3,50,1,0,43.4,62.7A4.2,1.3,50,1,0,38.0,56.2ZM35.5,57.3A4.1,1.3,28,1,0,42.8,61.2A4.1,1.3,28,1,0,35.5,57.3ZM37.5,57.6A3.6,1.1,36,1,0,43.3,61.8A3.6,1.1,36,1,0,37.5,57.6ZM35.8,63.1A3.5,1.1,-24,1,0,42.1,60.2A3.5,1.1,-24,1,0,35.8,63.1ZM42.2,64.1A2.5,0.8,50,1,0,45.4,67.9A2.5,0.8,50,1,0,42.2,64.1ZM43.4,63.2A2.5,0.8,53,1,0,46.4,67.2A2.5,0.8,53,1,0,43.4,63.2ZM43.9,62.8A2.5,0.8,68,1,0,45.8,67.4A2.5,0.8,68,1,0,43.9,62.8ZM43.7,60.9A3.4,1.0,94,1,0,43.3,67.7A3.4,1.0,94,1,0,43.7,60.9ZM50.0,74.0A3.5,1.1,138,1,0,44.8,78.6A3.5,1.1,138,1,0,50.0,74.0ZM49.7,73.6A3.1,0.9,118,1,0,46.8,79.1A3.1,0.9,118,1,0,49.7,73.6ZM48.5,72.5A3.3,1.0,85,1,0,49.1,79.0A3.3,1.0,85,1,0,48.5,72.5ZM50.1,73.4A3.8,1.2,147,1,0,43.7,77.6A3.8,1.2,147,1,0,50.1,73.4ZM54.8,76.4A3.8,1.2,113,1,0,51.8,83.3A3.8,1.2,113,1,0,54.8,76.4ZM52.4,76.4A2.8,0.9,67,1,0,54.6,81.5A2.8,0.9,67,1,0,52.4,76.4ZM51.0,78.4A3.1,1.0,94,1,0,50.5,84.6A3.1,1.0,94,1,0,51.0,78.4ZM51.1,76.9A3.1,1.0,57,1,0,54.6,82.2A3.1,1.0,57,1,0,51.1,76.9ZM48.0,87.1A4.0,1.2,30,1,0,54.8,91.1A4.0,1.2,30,1,0,48.0,87.1ZM47.7,87.0A3.1,1.0,23,1,0,53.5,89.4A3.1,1.0,23,1,0,47.7,87.0ZM46.2,87.9A3.3,1.0,14,1,0,52.6,89.4A3.3,1.0,14,1,0,46.2,87.9ZM48.3,85.1A3.7,1.1,20,1,0,55.3,87.6A3.7,1.1,20,1,0,48.3,85.1ZM48.7,92.0A3.0,0.9,83,1,0,49.4,98.0A3.0,0.9,83,1,0,48.7,92.0ZM53.4,91.7A4.3,1.3,133,1,0,47.6,98.0A4.3,1.3,133,1,0,53.4,91.7ZM50.6,89.6A4.0,1.2,107,1,0,48.3,97.2A4.0,1.2,107,1,0,50.6,89.6ZM51.7,91.0A4.2,1.3,131,1,0,46.1,97.3A4.2,1.3,131,1,0,51.7,91.0ZM45.8,106.4A3.5,1.1,22,1,0,52.3,109.0A3.5,1.1,22,1,0,45.8,106.4ZM46.3,107.3A2.7,0.8,-42,1,0,50.4,103.7A2.7,0.8,-42,1,0,46.3,107.3ZM47.7,103.8A3.9,1.2,40,1,0,53.6,108.8A3.9,1.2,40,1,0,47.7,103.8ZM48.2,102.5A3.6,1.1,54,1,0,52.4,108.4A3.6,1.1,54,1,0,48.2,102.5ZM42.4,103.1A2.5,0.8,150,1,0,38.2,105.6A2.5,0.8,150,1,0,42.4,103.1ZM43.5,103.1A2.6,0.8,160,1,0,38.5,104.9A2.6,0.8,160,1,0,43.5,103.1ZM42.4,104.1A3.4,1.0,162,1,0,36.0,106.2A3.4,1.0,162,1,0,42.4,104.1ZM40.9,100.1A2.9,0.9,105,1,0,39.4,105.8A2.9,0.9,105,1,0,40.9,100.1ZM2.8,100.1A3.0,0.9,25,1,0,8.3,102.6A3.0,0.9,25,1,0,2.8,100.1ZM2.1,99.3A2.6,0.8,53,1,0,5.2,103.4A2.6,0.8,53,1,0,2.1,99.3ZM2.8,100.3A2.3,0.7,-24,1,0,6.9,98.5A2.3,0.7,-24,1,0,2.8,100.3ZM2.8,97.0A3.4,1.0,35,1,0,8.4,100.9A3.4,1.0,35,1,0,2.8,97.0ZM7.7,103.2A3.5,1.1,117,1,0,4.5,109.5A3.5,1.1,117,1,0,7.7,103.2ZM7.3,104.3A2.4,0.7,94,1,0,7.0,109.0A2.4,0.7,94,1,0,7.3,104.3ZM4.1,103.5A3.3,1.0,47,1,0,8.7,108.3A3.3,1.0,47,1,0,4.1,103.5ZM4.0,105.6A3.1,1.0,30,1,0,9.4,108.7A3.1,1.0,30,1,0,4.0,105.6ZM23.2,57.8A2.7,0.8,173,1,0,17.9,58.5A2.7,0.8,173,1,0,23.2,57.8ZM23.6,55.6A2.5,0.8,130,1,0,20.4,59.5A2.5,0.8,130,1,0,23.6,55.6ZM24.7,58.7A2.6,0.8,200,1,0,19.8,56.9A2.6,0.8,200,1,0,24.7,58.7ZM22.6,56.1A2.7,0.8,129,1,0,19.2,60.3A2.7,0.8,129,1,0,22.6,56.1ZM23.7,82.5A3.0,0.9,92,1,0,23.5,88.5A3.0,0.9,92,1,0,23.7,82.5ZM21.4,80.8A3.0,0.9,55,1,0,24.9,85.7A3.0,0.9,55,1,0,21.4,80.8ZM21.2,80.7A2.7,0.8,54,1,0,24.4,85.1A2.7,0.8,54,1,0,21.2,80.7ZM20.9,81.0A3.9,1.2,55,1,0,25.4,87.3A3.9,1.2,55,1,0,20.9,81.0ZM20.6,86.3A3.6,1.1,37,1,0,26.3,90.6A3.6,1.1,37,1,0,20.6,86.3ZM21.3,86.5A4.0,1.2,73,1,0,23.6,94.2A4.0,1.2,73,1,0,21.3,86.5ZM24.1,88.7A2.9,0.9,113,1,0,21.9,94.1A2.9,0.9,113,1,0,24.1,88.7ZM24.0,84.6A4.3,1.3,96,1,0,23.2,93.2A4.3,1.3,96,1,0,24.0,84.6ZM57.5,61.5A2.8,0.9,182,1,0,51.9,61.3A2.8,0.9,182,1,0,57.5,61.5ZM58.2,59.6A2.9,0.9,159,1,0,52.7,61.6A2.9,0.9,159,1,0,58.2,59.6ZM59.8,61.0A3.6,1.1,190,1,0,52.7,59.8A3.6,1.1,190,1,0,59.8,61.0ZM59.1,60.7A3.3,1.0,188,1,0,52.5,59.8A3.3,1.0,188,1,0,59.1,60.7ZM58.8,70.1A4.3,1.3,111,1,0,55.7,78.1A4.3,1.3,111,1,0,58.8,70.1ZM56.6,72.1A3.1,0.9,103,1,0,55.2,78.1A3.1,0.9,103,1,0,56.6,72.1ZM60.1,75.1A3.2,1.0,152,1,0,54.4,78.0A3.2,1.0,152,1,0,60.1,75.1ZM56.2,69.8A4.0,1.2,80,1,0,57.5,77.6A4.0,1.2,80,1,0,56.2,69.8ZM56.9,81.2A3.0,0.9,71,1,0,58.9,86.9A3.0,0.9,71,1,0,56.9,81.2ZM56.6,80.8A3.4,1.1,38,1,0,62.1,85.0A3.4,1.1,38,1,0,56.6,80.8ZM52.8,81.8A4.2,1.3,-2,1,0,61.3,81.4A4.2,1.3,-2,1,0,52.8,81.8ZM57.6,79.7A3.0,0.9,73,1,0,59.4,85.4A3.0,0.9,73,1,0,57.6,79.7ZM60.3,106.5A2.9,0.9,193,1,0,54.6,105.2A2.9,0.9,193,1,0,60.3,106.5ZM59.3,102.3A3.4,1.0,129,1,0,55.0,107.6A3.4,1.0,129,1,0,59.3,102.3ZM61.9,106.8A4.1,1.2,187,1,0,53.8,105.8A4.1,1.2,187,1,0,61.9,106.8ZM61.7,103.4A3.7,1.1,150,1,0,55.3,107.0A3.7,1.1,150,1,0,61.7,103.4ZM67.0,79.6A5.0,1.5,97,1,0,65.8,89.5A5.0,1.5,97,1,0,67.0,79.6ZM66.6,76.8A4.9,1.5,88,1,0,66.9,86.6A4.9,1.5,88,1,0,66.6,76.8ZM69.3,82.7A3.2,1.0,152,1,0,63.7,85.7A3.2,1.0,152,1,0,69.3,82.7ZM68.1,81.4A3.9,1.2,127,1,0,63.3,87.7A3.9,1.2,127,1,0,68.1,81.4ZM64.9,89.3A3.4,1.1,121,1,0,61.3,95.2A3.4,1.1,121,1,0,64.9,89.3ZM64.1,87.4A4.0,1.2,114,1,0,60.8,94.6A4.0,1.2,114,1,0,64.1,87.4ZM65.7,89.0A2.9,0.9,134,1,0,61.7,93.3A2.9,0.9,134,1,0,65.7,89.0ZM62.5,90.0A3.3,1.0,82,1,0,63.4,96.5A3.3,1.0,82,1,0,62.5,90.0ZM77.7,53.3A3.8,1.2,115,1,0,74.5,60.2A3.8,1.2,115,1,0,77.7,53.3ZM75.4,53.6A3.4,1.0,112,1,0,72.9,59.8A3.4,1.0,112,1,0,75.4,53.6ZM77.8,58.2A3.2,1.0,154,1,0,72.1,61.0A3.2,1.0,154,1,0,77.8,58.2ZM79.7,54.5A4.0,1.2,149,1,0,72.8,58.7A4.0,1.2,149,1,0,79.7,54.5ZM81.2,56.9A5.0,1.5,103,1,0,78.9,66.6A5.0,1.5,103,1,0,81.2,56.9ZM80.2,60.6A4.0,1.2,92,1,0,79.9,68.6A4.0,1.2,92,1,0,80.2,60.6ZM80.1,59.3A3.4,1.0,89,1,0,80.3,66.1A3.4,1.0,89,1,0,80.1,59.3ZM83.2,59.2A4.9,1.5,157,1,0,74.1,63.0A4.9,1.5,157,1,0,83.2,59.2ZM74.8,67.4A3.5,1.1,95,1,0,74.2,74.4A3.5,1.1,95,1,0,74.8,67.4ZM76.3,68.5A4.0,1.2,74,1,0,78.6,76.3A4.0,1.2,74,1,0,76.3,68.5ZM76.4,67.6A3.9,1.2,72,1,0,78.8,75.1A3.9,1.2,72,1,0,76.4,67.6ZM77.8,68.6A4.3,1.3,106,1,0,75.5,76.9A4.3,1.3,106,1,0,77.8,68.6ZM80.3,75.1A3.9,1.2,113,1,0,77.3,82.1A3.9,1.2,113,1,0,80.3,75.1ZM85.4,79.7A4.2,1.3,196,1,0,77.3,77.3A4.2,1.3,196,1,0,85.4,79.7ZM81.8,76.0A3.8,1.2,139,1,0,76.0,81.0A3.8,1.2,139,1,0,81.8,76.0ZM82.0,77.3A2.8,0.9,154,1,0,77.0,79.8A2.8,0.9,154,1,0,82.0,77.3ZM80.3,82.3A3.2,1.0,126,1,0,76.5,87.4A3.2,1.0,126,1,0,80.3,82.3ZM76.3,83.3A2.8,0.9,101,1,0,75.2,88.8A2.8,0.9,101,1,0,76.3,83.3ZM74.9,84.2A3.0,0.9,44,1,0,79.2,88.4A3.0,0.9,44,1,0,74.9,84.2ZM77.0,82.9A3.2,1.0,94,1,0,76.5,89.2A3.2,1.0,94,1,0,77.0,82.9ZM78.7,90.6A3.5,1.1,30,1,0,84.7,94.1A3.5,1.1,30,1,0,78.7,90.6ZM80.6,91.1A3.3,1.0,43,1,0,85.4,95.6A3.3,1.0,43,1,0,80.6,91.1ZM80.1,91.8A3.0,0.9,22,1,0,85.5,94.0A3.0,0.9,22,1,0,80.1,91.8ZM81.7,90.2A3.0,0.9,57,1,0,85.0,95.3A3.0,0.9,57,1,0,81.7,90.2ZM76.4,98.3A3.4,1.1,36,1,0,82.0,102.3A3.4,1.1,36,1,0,76.4,98.3ZM78.3,98.1A2.9,0.9,44,1,0,82.4,102.1A2.9,0.9,44,1,0,78.3,98.1ZM79.0,96.6A3.3,1.0,100,1,0,77.9,103.0A3.3,1.0,100,1,0,79.0,96.6ZM78.0,97.8A4.2,1.3,42,1,0,84.3,103.4A4.2,1.3,42,1,0,78.0,97.8ZM85.3,96.9A3.1,0.9,-41,1,0,89.9,92.9A3.1,0.9,-41,1,0,85.3,96.9ZM83.5,94.2A3.8,1.2,37,1,0,89.5,98.9A3.8,1.2,37,1,0,83.5,94.2ZM83.9,99.4A3.8,1.1,-35,1,0,90.0,95.0A3.8,1.1,-35,1,0,83.9,99.4ZM83.5,95.7A2.9,0.9,22,1,0,88.9,97.9A2.9,0.9,22,1,0,83.5,95.7ZM87.7,52.2A3.5,1.1,85,1,0,88.3,59.1A3.5,1.1,85,1,0,87.7,52.2ZM86.7,53.5A3.6,1.1,46,1,0,91.7,58.7A3.6,1.1,46,1,0,86.7,53.5ZM83.4,54.0A3.8,1.2,21,1,0,90.6,56.7A3.8,1.2,21,1,0,83.4,54.0ZM88.3,53.2A3.6,1.1,113,1,0,85.5,59.8A3.6,1.1,113,1,0,88.3,53.2ZM90.1,64.4A3.7,1.1,21,1,0,97.0,67.1A3.7,1.1,21,1,0,90.1,64.4ZM88.1,67.8A3.7,1.1,-24,1,0,94.9,64.8A3.7,1.1,-24,1,0,88.1,67.8ZM89.3,65.9A3.2,1.0,1,1,0,95.7,66.0A3.2,1.0,1,1,0,89.3,65.9ZM88.2,65.8A3.4,1.0,-37,1,0,93.7,61.7A3.4,1.0,-37,1,0,88.2,65.8ZM101.6,57.4A3.0,0.9,140,1,0,97.1,61.3A3.0,0.9,140,1,0,101.6,57.4ZM102.9,59.1A2.6,0.8,169,1,0,97.9,60.1A2.6,0.8,169,1,0,102.9,59.1ZM102.6,62.2A3.5,1.1,204,1,0,96.2,59.5A3.5,1.1,204,1,0,102.6,62.2ZM101.0,57.4A3.5,1.1,124,1,0,97.0,63.2A3.5,1.1,124,1,0,101.0,57.4ZM100.9,78.5A4.2,1.3,131,1,0,95.4,84.8A4.2,1.3,131,1,0,100.9,78.5ZM100.8,78.6A3.1,0.9,148,1,0,95.5,81.9A3.1,0.9,148,1,0,100.8,78.6ZM101.3,78.2A4.1,1.2,147,1,0,94.4,82.6A4.1,1.2,147,1,0,101.3,78.2ZM102.0,80.3A3.5,1.1,139,1,0,96.8,84.9A3.5,1.1,139,1,0,102.0,80.3ZM101.4,96.4A3.3,1.0,42,1,0,106.3,100.9A3.3,1.0,42,1,0,101.4,96.4ZM101.1,94.7A3.9,1.2,42,1,0,107.0,99.8A3.9,1.2,42,1,0,101.1,94.7ZM98.5,99.5A3.8,1.2,-1,1,0,106.2,99.4A3.8,1.2,-1,1,0,98.5,99.5ZM102.9,94.7A3.8,1.2,95,1,0,102.3,102.2A3.8,1.2,95,1,0,102.9,94.7ZM88.2,101.2A3.6,1.1,45,1,0,93.2,106.2A3.6,1.1,45,1,0,88.2,101.2ZM88.9,100.7A3.2,1.0,95,1,0,88.4,107.2A3.2,1.0,95,1,0,88.9,100.7ZM90.1,101.2A3.0,0.9,80,1,0,91.1,107.1A3.0,0.9,80,1,0,90.1,101.2ZM88.0,102.9A3.3,1.0,12,1,0,94.4,104.2A3.3,1.0,12,1,0,88.0,102.9ZM108.2,62.4A3.1,0.9,107,1,0,106.4,68.3A3.1,0.9,107,1,0,108.2,62.4ZM107.1,63.9A2.4,0.7,85,1,0,107.5,68.6A2.4,0.7,85,1,0,107.1,63.9ZM104.8,65.2A2.9,0.9,15,1,0,110.4,66.7A2.9,0.9,15,1,0,104.8,65.2ZM106.8,63.6A3.0,0.9,53,1,0,110.3,68.3A3.0,0.9,53,1,0,106.8,63.6Z"/><path fill="#84bc2c" d="M25.5,20.2A4.0,1.2,104,1,0,23.5,27.8A4.0,1.2,104,1,0,25.5,20.2ZM26.4,21.4A3.5,1.1,143,1,0,20.8,25.6A3.5,1.1,143,1,0,26.4,21.4ZM23.9,22.7A3.2,1.0,127,1,0,20.1,27.8A3.2,1.0,127,1,0,23.9,22.7ZM25.5,21.5A2.9,0.9,132,1,0,21.6,25.8A2.9,0.9,132,1,0,25.5,21.5ZM42.6,44.2A3.6,1.1,117,1,0,39.4,50.6A3.6,1.1,117,1,0,42.6,44.2ZM44.4,39.9A4.9,1.5,116,1,0,40.2,48.6A4.9,1.5,116,1,0,44.4,39.9ZM38.2,45.5A3.9,1.2,22,1,0,45.4,48.4A3.9,1.2,22,1,0,38.2,45.5ZM42.1,43.7A3.7,1.1,71,1,0,44.6,50.7A3.7,1.1,71,1,0,42.1,43.7ZM86.0,3.7A2.2,0.7,8,1,0,90.4,4.3A2.2,0.7,8,1,0,86.0,3.7ZM85.7,2.7A1.6,0.5,17,1,0,88.8,3.6A1.6,0.5,17,1,0,85.7,2.7ZM84.7,2.6A2.2,0.7,17,1,0,88.9,3.9A2.2,0.7,17,1,0,84.7,2.6ZM85.8,2.1A2.2,0.7,34,1,0,89.4,4.6A2.2,0.7,34,1,0,85.8,2.1ZM78.4,33.1A3.7,1.1,143,1,0,72.4,37.5A3.7,1.1,143,1,0,78.4,33.1ZM78.8,34.0A2.7,0.8,165,1,0,73.6,35.4A2.7,0.8,165,1,0,78.8,34.0ZM77.9,37.7A4.1,1.3,199,1,0,70.1,35.0A4.1,1.3,199,1,0,77.9,37.7ZM76.4,31.0A4.1,1.3,115,1,0,72.9,38.4A4.1,1.3,115,1,0,76.4,31.0ZM38.1,82.2A3.6,1.1,158,1,0,31.3,85.0A3.6,1.1,158,1,0,38.1,82.2ZM39.7,83.9A5.5,1.7,196,1,0,29.1,80.8A5.5,1.7,196,1,0,39.7,83.9ZM37.7,83.7A4.5,1.4,202,1,0,29.3,80.3A4.5,1.4,202,1,0,37.7,83.7ZM36.9,86.0A5.2,1.6,201,1,0,27.2,82.2A5.2,1.6,201,1,0,36.9,86.0Z"/><path fill="#a8d030" d="M2.6,44.8A3.6,1.1,23,1,0,9.1,47.6A3.6,1.1,23,1,0,2.6,44.8ZM2.9,46.9A3.7,1.1,24,1,0,9.7,49.9A3.7,1.1,24,1,0,2.9,46.9ZM2.2,45.8A3.6,1.1,27,1,0,8.7,49.1A3.6,1.1,27,1,0,2.2,45.8ZM1.5,44.9A3.9,1.2,33,1,0,8.0,49.1A3.9,1.2,33,1,0,1.5,44.9ZM104.2,33.9A3.0,0.9,184,1,0,98.3,33.5A3.0,0.9,184,1,0,104.2,33.9ZM103.2,30.3A3.6,1.1,124,1,0,99.2,36.3A3.6,1.1,124,1,0,103.2,30.3ZM106.4,33.0A3.4,1.0,179,1,0,99.7,33.0A3.4,1.0,179,1,0,106.4,33.0ZM106.6,35.4A4.0,1.2,216,1,0,100.1,30.8A4.0,1.2,216,1,0,106.6,35.4ZM69.4,48.2A4.2,1.3,1,1,0,77.8,48.3A4.2,1.3,1,1,0,69.4,48.2ZM70.9,48.0A3.5,1.1,18,1,0,77.5,50.1A3.5,1.1,18,1,0,70.9,48.0ZM69.6,48.4A3.1,0.9,22,1,0,75.3,50.7A3.1,0.9,22,1,0,69.6,48.4ZM72.8,45.0A4.0,1.2,67,1,0,76.0,52.4A4.0,1.2,67,1,0,72.8,45.0ZM102.7,47.6A3.2,1.0,114,1,0,100.1,53.5A3.2,1.0,114,1,0,102.7,47.6ZM106.2,49.3A3.1,1.0,159,1,0,100.4,51.5A3.1,1.0,159,1,0,106.2,49.3ZM102.3,46.4A2.4,0.7,88,1,0,102.5,51.1A2.4,0.7,88,1,0,102.3,46.4ZM104.3,47.5A3.1,1.0,154,1,0,98.7,50.3A3.1,1.0,154,1,0,104.3,47.5ZM4.7,66.5A4.2,1.3,-5,1,0,13.0,65.8A4.2,1.3,-5,1,0,4.7,66.5ZM3.7,64.0A3.1,1.0,9,1,0,9.9,64.9A3.1,1.0,9,1,0,3.7,64.0ZM6.4,63.4A4.1,1.2,47,1,0,12.0,69.4A4.1,1.2,47,1,0,6.4,63.4ZM6.9,67.1A2.8,0.9,-29,1,0,11.8,64.4A2.8,0.9,-29,1,0,6.9,67.1ZM55.4,100.0A3.2,1.0,167,1,0,49.2,101.4A3.2,1.0,167,1,0,55.4,100.0ZM53.9,99.1A3.8,1.2,121,1,0,50.0,105.6A3.8,1.2,121,1,0,53.9,99.1ZM55.6,96.4A3.9,1.2,123,1,0,51.4,102.9A3.9,1.2,123,1,0,55.6,96.4ZM55.1,97.6A3.2,1.0,136,1,0,50.5,102.1A3.2,1.0,136,1,0,55.1,97.6ZM59.5,88.8A4.2,1.3,140,1,0,53.2,94.2A4.2,1.3,140,1,0,59.5,88.8ZM58.3,88.6A3.6,1.1,118,1,0,55.0,94.9A3.6,1.1,118,1,0,58.3,88.6ZM60.0,89.5A4.9,1.5,105,1,0,57.5,98.9A4.9,1.5,105,1,0,60.0,89.5ZM58.8,91.4A3.7,1.1,141,1,0,53.0,96.1A3.7,1.1,141,1,0,58.8,91.4ZM60.1,97.3A4.0,1.2,137,1,0,54.1,102.8A4.0,1.2,137,1,0,60.1,97.3ZM59.0,96.9A3.2,1.0,90,1,0,59.0,103.4A3.2,1.0,90,1,0,59.0,96.9ZM57.3,94.2A3.6,1.1,66,1,0,60.3,100.7A3.6,1.1,66,1,0,57.3,94.2ZM57.4,97.2A3.2,1.0,66,1,0,60.0,103.0A3.2,1.0,66,1,0,57.4,97.2ZM73.3,73.8A3.6,1.1,10,1,0,80.4,75.0A3.6,1.1,10,1,0,73.3,73.8ZM73.2,73.5A3.6,1.1,17,1,0,80.2,75.6A3.6,1.1,17,1,0,73.2,73.5ZM73.9,71.3A4.1,1.3,59,1,0,78.2,78.3A4.1,1.3,59,1,0,73.9,71.3ZM75.4,73.5A2.8,0.9,75,1,0,76.9,79.0A2.8,0.9,75,1,0,75.4,73.5ZM95.6,68.4A4.2,1.3,102,1,0,93.9,76.7A4.2,1.3,102,1,0,95.6,68.4ZM97.0,67.8A3.0,0.9,116,1,0,94.4,73.1A3.0,0.9,116,1,0,97.0,67.8ZM94.5,70.2A3.5,1.1,46,1,0,99.3,75.1A3.5,1.1,46,1,0,94.5,70.2ZM97.7,67.9A3.2,1.0,116,1,0,94.9,73.6A3.2,1.0,116,1,0,97.7,67.9ZM105.9,86.1A3.2,1.0,152,1,0,100.2,89.2A3.2,1.0,152,1,0,105.9,86.1ZM104.3,82.5A4.3,1.3,101,1,0,102.7,90.8A4.3,1.3,101,1,0,104.3,82.5ZM108.6,84.3A5.0,1.5,178,1,0,98.6,84.7A5.0,1.5,178,1,0,108.6,84.3ZM107.1,82.8A4.1,1.3,147,1,0,100.1,87.3A4.1,1.3,147,1,0,107.1,82.8ZM89.5,92.2A4.2,1.3,-9,1,0,97.9,90.9A4.2,1.3,-9,1,0,89.5,92.2ZM87.6,91.6A4.3,1.3,-7,1,0,96.1,90.5A4.3,1.3,-7,1,0,87.6,91.6ZM86.1,89.6A4.4,1.3,-1,1,0,94.9,89.4A4.4,1.3,-1,1,0,86.1,89.6ZM92.2,86.5A4.3,1.3,70,1,0,95.2,94.6A4.3,1.3,70,1,0,92.2,86.5ZM96.7,91.5A3.0,0.9,74,1,0,98.4,97.4A3.0,0.9,74,1,0,96.7,91.5ZM95.9,92.0A3.8,1.2,71,1,0,98.4,99.2A3.8,1.2,71,1,0,95.9,92.0ZM99.9,91.8A4.2,1.3,127,1,0,94.9,98.5A4.2,1.3,127,1,0,99.9,91.8ZM96.2,90.0A3.3,1.0,74,1,0,98.0,96.3A3.3,1.0,74,1,0,96.2,90.0ZM100.3,105.2A2.8,0.8,-5,1,0,105.8,104.7A2.8,0.8,-5,1,0,100.3,105.2ZM102.8,101.5A2.5,0.8,84,1,0,103.4,106.5A2.5,0.8,84,1,0,102.8,101.5ZM98.4,104.8A3.4,1.0,-12,1,0,105.1,103.4A3.4,1.0,-12,1,0,98.4,104.8ZM98.7,105.6A3.1,0.9,-11,1,0,104.7,104.4A3.1,0.9,-11,1,0,98.7,105.6Z"/><path fill="#a2ca3a" d="M25.7,4.9A1.3,0.7,3,1,0,28.3,5.0A1.3,0.7,3,1,0,25.7,4.9ZM37.5,10.2A1.3,0.7,178,1,0,34.9,10.3A1.3,0.7,178,1,0,37.5,10.2ZM39.6,4.2A0.8,0.4,48,1,0,40.7,5.4A0.8,0.4,48,1,0,39.6,4.2ZM48.0,5.6A1.0,0.6,139,1,0,46.4,6.9A1.0,0.6,139,1,0,48.0,5.6ZM52.3,13.8A1.2,0.6,170,1,0,49.9,14.2A1.2,0.6,170,1,0,52.3,13.8ZM46.6,18.8A1.0,0.6,140,1,0,45.1,20.2A1.0,0.6,140,1,0,46.6,18.8ZM20.8,25.6A1.9,1.0,94,1,0,20.5,29.3A1.9,1.0,94,1,0,20.8,25.6ZM27.7,29.7A2.0,1.1,31,1,0,31.2,31.8A2.0,1.1,31,1,0,27.7,29.7ZM29.0,33.2A2.3,1.2,125,1,0,26.4,37.0A2.3,1.2,125,1,0,29.0,33.2ZM18.5,35.3A1.7,0.9,132,1,0,16.2,37.8A1.7,0.9,132,1,0,18.5,35.3ZM25.1,39.0A2.1,1.1,166,1,0,20.9,40.0A2.1,1.1,166,1,0,25.1,39.0ZM41.5,34.0A2.3,1.2,11,1,0,46.0,34.9A2.3,1.2,11,1,0,41.5,34.0ZM49.2,27.8A1.9,1.0,91,1,0,49.1,31.6A1.9,1.0,91,1,0,49.2,27.8ZM51.8,34.6A1.4,0.8,53,1,0,53.5,36.9A1.4,0.8,53,1,0,51.8,34.6ZM35.3,46.5A1.6,0.9,41,1,0,37.7,48.7A1.6,0.9,41,1,0,35.3,46.5ZM48.6,45.4A1.4,0.8,99,1,0,48.2,48.2A1.4,0.8,99,1,0,48.6,45.4ZM7.5,50.0A1.5,0.8,87,1,0,7.6,53.0A1.5,0.8,87,1,0,7.5,50.0ZM13.1,43.1A1.3,0.7,13,1,0,15.6,43.6A1.3,0.7,13,1,0,13.1,43.1ZM20.6,42.9A1.5,0.8,93,1,0,20.5,45.9A1.5,0.8,93,1,0,20.6,42.9ZM31.2,39.8A1.1,0.6,34,1,0,33.1,41.1A1.1,0.6,34,1,0,31.2,39.8ZM44.2,49.7A2.1,1.1,47,1,0,47.1,52.8A2.1,1.1,47,1,0,44.2,49.7ZM50.6,24.9A1.4,0.7,135,1,0,48.6,26.9A1.4,0.7,135,1,0,50.6,24.9ZM41.6,23.4A1.3,0.7,113,1,0,40.6,25.7A1.3,0.7,113,1,0,41.6,23.4ZM4.9,5.2A1.0,0.5,128,1,0,3.6,6.8A1.0,0.5,128,1,0,4.9,5.2ZM65.0,4.2A1.2,0.6,32,1,0,67.0,5.5A1.2,0.6,32,1,0,65.0,4.2ZM59.5,10.7A1.2,0.6,126,1,0,58.1,12.6A1.2,0.6,126,1,0,59.5,10.7ZM62.5,16.5A1.0,0.6,131,1,0,61.2,18.0A1.0,0.6,131,1,0,62.5,16.5ZM71.5,13.8A1.2,0.6,156,1,0,69.4,14.8A1.2,0.6,156,1,0,71.5,13.8ZM69.4,17.2A0.9,0.5,49,1,0,70.5,18.5A0.9,0.5,49,1,0,69.4,17.2ZM58.7,21.9A1.7,0.9,144,1,0,56.0,23.9A1.7,0.9,144,1,0,58.7,21.9ZM81.3,10.5A1.1,0.6,38,1,0,83.0,11.8A1.1,0.6,38,1,0,81.3,10.5ZM97.5,14.0A1.4,0.7,118,1,0,96.3,16.4A1.4,0.7,118,1,0,97.5,14.0ZM101.4,19.4A1.4,0.8,131,1,0,99.6,21.5A1.4,0.8,131,1,0,101.4,19.4ZM98.0,25.9A1.2,0.6,11,1,0,100.3,26.3A1.2,0.6,11,1,0,98.0,25.9ZM96.3,28.8A1.6,0.9,149,1,0,93.6,30.5A1.6,0.9,149,1,0,96.3,28.8ZM88.7,32.4A1.8,0.9,25,1,0,91.9,33.9A1.8,0.9,25,1,0,88.7,32.4ZM86.1,33.2A1.8,1.0,73,1,0,87.1,36.6A1.8,1.0,73,1,0,86.1,33.2ZM104.6,24.9A1.1,0.6,3,1,0,106.8,25.0A1.1,0.6,3,1,0,104.6,24.9ZM75.1,30.6A1.9,1.0,61,1,0,77.0,33.9A1.9,1.0,61,1,0,75.1,30.6ZM80.1,32.4A1.6,0.9,26,1,0,83.1,33.9A1.6,0.9,26,1,0,80.1,32.4ZM78.5,36.1A1.6,0.9,57,1,0,80.2,38.8A1.6,0.9,57,1,0,78.5,36.1ZM61.9,36.7A2.0,1.1,81,1,0,62.6,40.5A2.0,1.1,81,1,0,61.9,36.7ZM65.6,38.8A1.8,1.0,24,1,0,69.0,40.3A1.8,1.0,24,1,0,65.6,38.8ZM70.0,41.0A1.7,0.9,53,1,0,72.1,43.8A1.7,0.9,53,1,0,70.0,41.0ZM90.5,42.1A1.8,1.0,150,1,0,87.4,43.9A1.8,1.0,150,1,0,90.5,42.1ZM92.6,44.4A1.3,0.7,51,1,0,94.2,46.5A1.3,0.7,51,1,0,92.6,44.4ZM71.0,50.5A1.7,0.9,165,1,0,67.7,51.4A1.7,0.9,165,1,0,71.0,50.5ZM80.0,47.2A1.4,0.8,170,1,0,77.1,47.7A1.4,0.8,170,1,0,80.0,47.2ZM82.6,49.4A1.2,0.7,13,1,0,85.0,49.9A1.2,0.7,13,1,0,82.6,49.4ZM97.4,45.9A1.9,1.0,91,1,0,97.4,49.7A1.9,1.0,91,1,0,97.4,45.9ZM60.4,29.5A1.2,0.6,142,1,0,58.5,30.9A1.2,0.6,142,1,0,60.4,29.5ZM104.5,3.9A0.9,0.5,69,1,0,105.2,5.6A0.9,0.5,69,1,0,104.5,3.9ZM10.1,62.4A1.6,0.9,3,1,0,13.3,62.6A1.6,0.9,3,1,0,10.1,62.4ZM15.6,72.0A2.0,1.1,131,1,0,13.0,75.0A2.0,1.1,131,1,0,15.6,72.0ZM11.1,78.2A2.1,1.1,60,1,0,13.2,81.9A2.1,1.1,60,1,0,11.1,78.2ZM17.9,78.7A2.5,1.3,77,1,0,19.1,83.6A2.5,1.3,77,1,0,17.9,78.7ZM17.0,87.2A2.0,1.1,104,1,0,16.1,91.1A2.0,1.1,104,1,0,17.0,87.2ZM9.5,91.0A2.0,1.0,54,1,0,11.8,94.2A2.0,1.0,54,1,0,9.5,91.0ZM16.7,96.4A2.0,1.1,31,1,0,20.1,98.5A2.0,1.1,31,1,0,16.7,96.4ZM21.1,99.8A1.9,1.0,64,1,0,22.7,103.1A1.9,1.0,64,1,0,21.1,99.8ZM23.7,69.3A2.1,1.1,8,1,0,27.7,69.8A2.1,1.1,8,1,0,23.7,69.3ZM27.8,61.6A2.1,1.1,0,1,0,32.0,61.7A2.1,1.1,0,1,0,27.8,61.6ZM34.1,74.0A2.5,1.3,154,1,0,29.6,76.2A2.5,1.3,154,1,0,34.1,74.0ZM36.7,89.7A2.1,1.1,174,1,0,32.5,90.2A2.1,1.1,174,1,0,36.7,89.7ZM32.5,95.1A2.0,1.1,155,1,0,28.9,96.8A2.0,1.1,155,1,0,32.5,95.1ZM24.9,102.8A1.9,1.0,18,1,0,28.5,104.0A1.9,1.0,18,1,0,24.9,102.8ZM38.7,58.6A1.9,1.0,20,1,0,42.2,59.9A1.9,1.0,20,1,0,38.7,58.6ZM43.6,62.7A1.7,0.9,81,1,0,44.1,66.1A1.7,0.9,81,1,0,43.6,62.7ZM46.2,75.8A2.1,1.1,8,1,0,50.4,76.4A2.1,1.1,8,1,0,46.2,75.8ZM53.0,78.7A2.0,1.1,140,1,0,49.9,81.4A2.0,1.1,140,1,0,53.0,78.7ZM52.4,88.5A2.0,1.1,177,1,0,48.4,88.7A2.0,1.1,177,1,0,52.4,88.5ZM48.5,92.7A2.1,1.1,61,1,0,50.6,96.3A2.1,1.1,61,1,0,48.5,92.7ZM49.4,104.9A2.1,1.1,55,1,0,51.8,108.4A2.1,1.1,55,1,0,49.4,104.9ZM39.3,102.5A1.8,1.0,85,1,0,39.6,106.2A1.8,1.0,85,1,0,39.3,102.5ZM3.1,99.4A1.5,0.8,29,1,0,5.7,100.8A1.5,0.8,29,1,0,3.1,99.4ZM9.0,106.9A1.9,1.0,166,1,0,5.4,107.9A1.9,1.0,166,1,0,9.0,106.9ZM20.8,56.0A1.5,0.8,88,1,0,20.9,59.0A1.5,0.8,88,1,0,20.8,56.0ZM22.0,82.8A1.9,1.0,25,1,0,25.5,84.5A1.9,1.0,25,1,0,22.0,82.8ZM23.3,87.4A2.1,1.1,77,1,0,24.3,91.6A2.1,1.1,77,1,0,23.3,87.4ZM54.4,58.4A2.0,1.0,58,1,0,56.5,61.7A2.0,1.0,58,1,0,54.4,58.4ZM58.9,75.1A1.7,0.9,166,1,0,55.5,75.9A1.7,0.9,166,1,0,58.9,75.1ZM56.7,82.1A2.1,1.1,14,1,0,60.7,83.1A2.1,1.1,14,1,0,56.7,82.1ZM54.9,105.1A2.3,1.2,19,1,0,59.2,106.6A2.3,1.2,19,1,0,54.9,105.1ZM64.6,81.0A2.6,1.4,38,1,0,68.7,84.2A2.6,1.4,38,1,0,64.6,81.0ZM62.2,90.1A1.9,1.0,52,1,0,64.5,93.2A1.9,1.0,52,1,0,62.2,90.1ZM73.2,57.5A1.8,1.0,14,1,0,76.8,58.5A1.8,1.0,14,1,0,73.2,57.5ZM75.7,61.9A2.6,1.4,11,1,0,80.8,62.9A2.6,1.4,11,1,0,75.7,61.9ZM77.2,70.2A1.9,1.0,132,1,0,74.7,73.0A1.9,1.0,132,1,0,77.2,70.2ZM79.9,78.7A1.8,1.0,85,1,0,80.2,82.3A1.8,1.0,85,1,0,79.9,78.7ZM78.4,85.0A1.8,1.0,119,1,0,76.7,88.1A1.8,1.0,119,1,0,78.4,85.0ZM80.1,90.7A2.3,1.2,60,1,0,82.4,94.6A2.3,1.2,60,1,0,80.1,90.7ZM78.4,98.9A1.7,0.9,19,1,0,81.6,100.1A1.7,0.9,19,1,0,78.4,98.9ZM88.1,94.8A1.9,1.0,159,1,0,84.5,96.1A1.9,1.0,159,1,0,88.1,94.8ZM87.0,55.2A1.7,0.9,63,1,0,88.6,58.2A1.7,0.9,63,1,0,87.0,55.2ZM90.5,64.6A2.1,1.1,18,1,0,94.4,65.9A2.1,1.1,18,1,0,90.5,64.6ZM98.6,58.8A1.9,1.0,22,1,0,102.2,60.2A1.9,1.0,22,1,0,98.6,58.8ZM97.4,79.1A2.2,1.2,57,1,0,99.8,82.8A2.2,1.2,57,1,0,97.4,79.1ZM103.1,96.8A2.2,1.2,43,1,0,106.3,99.8A2.2,1.2,43,1,0,103.1,96.8ZM92.4,104.2A1.9,1.0,177,1,0,88.5,104.3A1.9,1.0,177,1,0,92.4,104.2ZM109.5,64.7A1.5,0.8,158,1,0,106.6,65.9A1.5,0.8,158,1,0,109.5,64.7Z"/><path fill="#c8e03a" d="M20.4,24.5A2.0,1.1,2,1,0,24.3,24.6A2.0,1.1,2,1,0,20.4,24.5ZM41.6,43.9A2.6,1.4,90,1,0,41.6,49.2A2.6,1.4,90,1,0,41.6,43.9ZM87.7,2.5A1.2,0.6,87,1,0,87.8,5.0A1.2,0.6,87,1,0,87.7,2.5ZM73.6,35.2A1.8,1.0,36,1,0,76.6,37.3A1.8,1.0,36,1,0,73.6,35.2ZM30.9,83.2A2.8,1.5,31,1,0,35.7,86.0A2.8,1.5,31,1,0,30.9,83.2Z"/><path fill="#ecea3a" d="M7.9,45.4A2.1,1.1,154,1,0,4.2,47.2A2.1,1.1,154,1,0,7.9,45.4ZM100.0,32.5A2.3,1.2,26,1,0,104.0,34.5A2.3,1.2,26,1,0,100.0,32.5ZM75.2,48.4A1.7,0.9,152,1,0,72.2,50.0A1.7,0.9,152,1,0,75.2,48.4ZM101.3,49.1A1.6,0.9,39,1,0,103.9,51.2A1.6,0.9,39,1,0,101.3,49.1ZM8.5,63.9A1.8,1.0,113,1,0,7.1,67.2A1.8,1.0,113,1,0,8.5,63.9ZM52.6,99.5A2.2,1.2,97,1,0,52.0,103.9A2.2,1.2,97,1,0,52.6,99.5ZM55.1,93.1A2.5,1.3,10,1,0,60.1,94.0A2.5,1.3,10,1,0,55.1,93.1ZM59.2,98.3A1.7,0.9,159,1,0,56.0,99.5A1.7,0.9,159,1,0,59.2,98.3ZM78.3,75.5A2.1,1.1,174,1,0,74.1,76.0A2.1,1.1,174,1,0,78.3,75.5ZM96.8,70.6A1.9,1.0,114,1,0,95.2,74.0A1.9,1.0,114,1,0,96.8,70.6ZM102.2,82.5A2.6,1.4,84,1,0,102.7,87.8A2.6,1.4,84,1,0,102.2,82.5ZM90.9,87.6A2.1,1.1,75,1,0,92.0,91.6A2.1,1.1,75,1,0,90.9,87.6ZM99.1,93.5A2.2,1.2,145,1,0,95.5,96.0A2.2,1.2,145,1,0,99.1,93.5ZM101.1,104.6A1.8,1.0,32,1,0,104.1,106.5A1.8,1.0,32,1,0,101.1,104.6Z"/><path fill="#a84822" d="M9.7,3.6A1.6,1.0,37,1,0,12.3,5.4A1.6,1.0,37,1,0,9.7,3.6ZM12.3,23.4A1.4,1.1,155,1,0,9.7,24.6A1.4,1.1,155,1,0,12.3,23.4ZM16.7,25.6A1.6,1.0,115,1,0,15.3,28.4A1.6,1.0,115,1,0,16.7,25.6ZM7.4,36.5A1.7,1.0,17,1,0,10.6,37.5A1.7,1.0,17,1,0,7.4,36.5ZM23.5,41.8A1.3,1.3,69,1,0,24.5,44.2A1.3,1.3,69,1,0,23.5,41.8ZM13.6,45.5A1.6,1.0,180,1,0,10.4,45.5A1.6,1.0,180,1,0,13.6,45.5ZM40.0,27.8A1.6,1.0,131,1,0,38.0,30.2A1.6,1.0,131,1,0,40.0,27.8ZM45.3,36.0A1.7,1.0,1,1,0,48.7,36.0A1.7,1.0,1,1,0,45.3,36.0ZM7.7,47.5A1.7,1.0,116,1,0,6.3,50.5A1.7,1.0,116,1,0,7.7,47.5ZM34.7,1.4A1.6,1.0,79,1,0,35.3,4.6A1.6,1.0,79,1,0,34.7,1.4ZM70.0,21.6A1.4,1.2,140,1,0,68.0,23.4A1.4,1.2,140,1,0,70.0,21.6ZM95.9,19.8A1.7,1.0,103,1,0,95.1,23.2A1.7,1.0,103,1,0,95.9,19.8ZM65.2,42.1A1.6,1.0,59,1,0,66.8,44.9A1.6,1.0,59,1,0,65.2,42.1ZM59.3,30.5A1.4,1.2,159,1,0,56.7,31.5A1.4,1.2,159,1,0,59.3,30.5ZM64.6,24.9A1.3,1.3,119,1,0,63.4,27.1A1.3,1.3,119,1,0,64.6,24.9ZM56.5,9.8A1.3,1.3,112,1,0,55.5,12.2A1.3,1.3,112,1,0,56.5,9.8ZM81.6,38.5A1.7,1.0,163,1,0,78.4,39.5A1.7,1.0,163,1,0,81.6,38.5ZM87.9,38.4A1.6,1.0,86,1,0,88.1,41.6A1.6,1.0,86,1,0,87.9,38.4ZM93.0,20.7A1.6,1.0,126,1,0,91.0,23.3A1.6,1.0,126,1,0,93.0,20.7ZM11.0,54.9A1.5,1.1,133,1,0,9.0,57.1A1.5,1.1,133,1,0,11.0,54.9ZM36.5,60.5A1.6,1.0,108,1,0,35.5,63.5A1.6,1.0,108,1,0,36.5,60.5ZM30.4,97.0A1.6,1.0,1,1,0,33.6,97.0A1.6,1.0,1,1,0,30.4,97.0ZM46.4,96.5A1.5,1.1,105,1,0,45.6,99.5A1.5,1.1,105,1,0,46.4,96.5ZM3.6,103.8A1.4,1.2,9,1,0,6.4,104.2A1.4,1.2,9,1,0,3.6,103.8ZM25.1,80.2A1.4,1.2,143,1,0,22.9,81.8A1.4,1.2,143,1,0,25.1,80.2ZM41.2,87.5A1.3,1.2,158,1,0,38.8,88.5A1.3,1.2,158,1,0,41.2,87.5ZM24.9,106.2A1.4,1.2,37,1,0,27.1,107.8A1.4,1.2,37,1,0,24.9,106.2ZM43.2,106.9A1.3,1.2,55,1,0,44.8,109.1A1.3,1.2,55,1,0,43.2,106.9ZM58.5,72.7A1.5,1.1,11,1,0,61.5,73.3A1.5,1.1,11,1,0,58.5,72.7ZM93.6,65.5A1.5,1.1,22,1,0,96.4,66.5A1.5,1.1,22,1,0,93.6,65.5ZM104.5,89.9A1.5,1.1,4,1,0,107.5,90.1A1.5,1.1,4,1,0,104.5,89.9ZM92.4,97.6A1.5,1.1,66,1,0,93.6,100.4A1.5,1.1,66,1,0,92.4,97.6ZM62.8,58.8A1.5,1.1,123,1,0,61.2,61.2A1.5,1.1,123,1,0,62.8,58.8ZM55.7,66.5A1.3,1.2,20,1,0,58.3,67.5A1.3,1.2,20,1,0,55.7,66.5Z"/><path fill="#d0602a" d="M3.0,13.5A1.5,1.1,91,1,0,3.0,16.5A1.5,1.1,91,1,0,3.0,13.5ZM6.6,10.7A1.3,1.2,71,1,0,7.4,13.3A1.3,1.2,71,1,0,6.6,10.7ZM5.8,23.6A1.4,1.1,80,1,0,6.2,26.4A1.4,1.1,80,1,0,5.8,23.6ZM10.4,33.8A1.4,1.2,173,1,0,7.6,34.2A1.4,1.2,173,1,0,10.4,33.8ZM14.0,30.2A1.3,1.3,37,1,0,16.0,31.8A1.3,1.3,37,1,0,14.0,30.2ZM21.2,20.8A1.4,1.1,56,1,0,22.8,23.2A1.4,1.1,56,1,0,21.2,20.8ZM24.4,24.5A1.6,1.0,67,1,0,25.6,27.5A1.6,1.0,67,1,0,24.4,24.5ZM44.3,25.7A1.3,1.3,105,1,0,43.7,28.3A1.3,1.3,105,1,0,44.3,25.7ZM52.2,36.5A1.5,1.1,99,1,0,51.8,39.5A1.5,1.1,99,1,0,52.2,36.5ZM48.9,38.3A1.7,1.0,85,1,0,49.1,41.7A1.7,1.0,85,1,0,48.9,38.3ZM43.8,39.8A1.5,1.1,123,1,0,42.2,42.2A1.5,1.1,123,1,0,43.8,39.8ZM51.7,46.7A1.3,1.3,77,1,0,52.3,49.3A1.3,1.3,77,1,0,51.7,46.7ZM49.6,49.5A1.6,1.0,113,1,0,48.4,52.5A1.6,1.0,113,1,0,49.6,49.5ZM31.4,50.4A1.5,1.1,158,1,0,28.6,51.6A1.5,1.1,158,1,0,31.4,50.4ZM23.7,53.5A1.4,1.2,21,1,0,26.3,54.5A1.4,1.2,21,1,0,23.7,53.5ZM46.9,12.5A1.5,1.1,88,1,0,47.1,15.5A1.5,1.1,88,1,0,46.9,12.5ZM38.5,21.6A1.6,1.0,16,1,0,41.5,22.4A1.6,1.0,16,1,0,38.5,21.6ZM24.6,4.8A1.4,1.2,9,1,0,27.4,5.2A1.4,1.2,9,1,0,24.6,4.8ZM79.7,3.5A1.4,1.2,21,1,0,82.3,4.5A1.4,1.2,21,1,0,79.7,3.5ZM75.2,24.9A1.4,1.2,54,1,0,76.8,27.1A1.4,1.2,54,1,0,75.2,24.9ZM98.0,18.3A1.6,1.0,49,1,0,100.0,20.7A1.6,1.0,49,1,0,98.0,18.3ZM100.8,35.1A1.4,1.2,83,1,0,101.2,37.9A1.4,1.2,83,1,0,100.8,35.1ZM96.7,33.6A1.4,1.2,79,1,0,97.3,36.4A1.4,1.2,79,1,0,96.7,33.6ZM55.4,37.7A1.7,1.0,12,1,0,58.6,38.3A1.7,1.0,12,1,0,55.4,37.7ZM56.5,46.6A1.5,1.1,71,1,0,57.5,49.4A1.5,1.1,71,1,0,56.5,46.6ZM79.6,52.5A1.7,1.0,162,1,0,76.4,53.5A1.7,1.0,162,1,0,79.6,52.5ZM65.4,51.8A1.3,1.3,109,1,0,64.6,54.2A1.3,1.3,109,1,0,65.4,51.8ZM105.6,46.9A1.6,1.0,175,1,0,102.4,47.1A1.6,1.0,175,1,0,105.6,46.9ZM99.0,8.7A1.6,1.0,53,1,0,101.0,11.3A1.6,1.0,53,1,0,99.0,8.7ZM91.0,12.9A1.4,1.1,132,1,0,89.0,15.1A1.4,1.1,132,1,0,91.0,12.9ZM61.1,2.1A1.4,1.1,142,1,0,58.9,3.9A1.4,1.1,142,1,0,61.1,2.1ZM74.9,9.6A1.7,1.0,122,1,0,73.1,12.4A1.7,1.0,122,1,0,74.9,9.6ZM18.3,62.2A2.8,2.5,53,1,0,21.7,66.8A2.8,2.5,53,1,0,18.3,62.2ZM18.6,57.7A2.1,1.2,141,1,0,15.4,60.3A2.1,1.2,141,1,0,18.6,57.7ZM28.8,70.7A1.6,1.0,121,1,0,27.2,73.3A1.6,1.0,121,1,0,28.8,70.7ZM47.6,57.5A1.5,1.1,19,1,0,50.4,58.5A1.5,1.1,19,1,0,47.6,57.5ZM52.4,72.6A1.7,1.0,146,1,0,49.6,74.4A1.7,1.0,146,1,0,52.4,72.6ZM29.9,92.3A1.3,1.2,33,1,0,32.1,93.7A1.3,1.2,33,1,0,29.9,92.3ZM5.1,97.9A1.5,1.1,50,1,0,6.9,100.1A1.5,1.1,50,1,0,5.1,97.9ZM43.6,71.4A1.7,1.0,111,1,0,42.4,74.6A1.7,1.0,111,1,0,43.6,71.4ZM10.7,105.0A1.7,1.0,37,1,0,13.3,107.0A1.7,1.0,37,1,0,10.7,105.0ZM65.2,67.5A1.6,1.1,142,1,0,62.8,69.5A1.6,1.1,142,1,0,65.2,67.5ZM73.5,76.1A1.7,1.0,32,1,0,76.5,77.9A1.7,1.0,32,1,0,73.5,76.1ZM86.7,70.2A1.4,1.2,77,1,0,87.3,72.8A1.4,1.2,77,1,0,86.7,70.2ZM81.0,68.7A1.6,1.0,54,1,0,83.0,71.3A1.6,1.0,54,1,0,81.0,68.7ZM88.2,73.6A1.6,1.0,60,1,0,89.8,76.4A1.6,1.0,60,1,0,88.2,73.6ZM95.5,78.7A1.4,1.2,113,1,0,94.5,81.3A1.4,1.2,113,1,0,95.5,78.7ZM99.4,73.6A1.6,1.0,13,1,0,102.6,74.4A1.6,1.0,13,1,0,99.4,73.6ZM86.5,88.8A1.5,1.1,172,1,0,83.5,89.2A1.5,1.1,172,1,0,86.5,88.8ZM82.6,91.0A2.6,1.4,128,1,0,79.4,95.0A2.6,1.4,128,1,0,82.6,91.0ZM87.9,99.3A1.9,1.9,117,1,0,86.1,102.7A1.9,1.9,117,1,0,87.9,99.3ZM63.3,97.2A1.9,1.9,67,1,0,64.7,100.8A1.9,1.9,67,1,0,63.3,97.2ZM67.8,88.7A1.5,1.1,121,1,0,66.2,91.3A1.5,1.1,121,1,0,67.8,88.7ZM100.6,88.6A1.5,1.1,113,1,0,99.4,91.4A1.5,1.1,113,1,0,100.6,88.6Z"/></g><linearGradient id="shd" x1="0" y1="0" x2="0" y2="1"><stop offset="0" stop-color="#000" stop-opacity="0.65"/><stop offset="0.3" stop-color="#000" stop-opacity="0.4"/><stop offset="0.55" stop-color="#000" stop-opacity="0.1"/><stop offset="1" stop-color="#000" stop-opacity="0"/></linearGradient><rect width="110" height="109.5" fill="url(#shd)"/><g fill="#110c07" filter="url(#blur2)"><ellipse cx="40" cy="88" rx="3.5" ry="12" opacity="0.6"/><ellipse cx="67" cy="68" rx="5" ry="12" opacity="0.7"/><ellipse cx="70" cy="100" rx="5" ry="6" opacity="0.5"/></g><g stroke="#9a9a9a" stroke-width="0.7" fill="none" opacity="0.75"><rect x="5.5" y="7.2" width="97.7" height="97.0"/><path d="M0,0L5.5,7.2M110,0L103.2,7.2M0,109.5L5.5,104.2M110,109.5L103.2,104.2"/></g><rect x="2" y="107.3" width="12" height="1.2" fill="#e8e8e8"/><rect x="100" y="107.1" width="7" height="1.2" fill="#bbbbbb" opacity="0.6"/></g><rect x="0.4" y="0.4" width="109.2" height="108.7" fill="none" stroke="#0a0a0a" stroke-width="0.8"/></g>
<text x="260.8" y="183.8" font-size="10.6" text-anchor="start" fill="#231f20" stroke="#231f20" stroke-width="0.22" >D</text>
<line x1="284.8" y1="198.90" x2="284.8" y2="315.8" stroke="#231f20" stroke-width="0.9"/>
<line x1="281.8" y1="315.80" x2="284.8" y2="315.80" stroke="#231f20" stroke-width="0.8"/>
<text x="279.2" y="318.4" font-size="7.4" text-anchor="end" fill="#231f20" stroke="#231f20" stroke-width="0.22" >0</text>
<line x1="281.8" y1="286.90" x2="284.8" y2="286.90" stroke="#231f20" stroke-width="0.8"/>
<text x="279.2" y="289.5" font-size="7.4" text-anchor="end" fill="#231f20" stroke="#231f20" stroke-width="0.22" >2</text>
<line x1="281.8" y1="258.00" x2="284.8" y2="258.00" stroke="#231f20" stroke-width="0.8"/>
<text x="279.2" y="260.6" font-size="7.4" text-anchor="end" fill="#231f20" stroke="#231f20" stroke-width="0.22" >4</text>
<line x1="281.8" y1="229.10" x2="284.8" y2="229.10" stroke="#231f20" stroke-width="0.8"/>
<text x="279.2" y="231.7" font-size="7.4" text-anchor="end" fill="#231f20" stroke="#231f20" stroke-width="0.22" >6</text>
<line x1="281.8" y1="200.20" x2="284.8" y2="200.20" stroke="#231f20" stroke-width="0.8"/>
<text x="279.2" y="202.8" font-size="7.4" text-anchor="end" fill="#231f20" stroke="#231f20" stroke-width="0.22" >8</text>
<line x1="284.8" y1="315.8" x2="452.5" y2="315.8" stroke="#231f20" stroke-width="0.9"/>
<line x1="298.4" y1="315.8" x2="298.4" y2="318.5" stroke="#231f20" stroke-width="0.8"/>
<text transform="translate(301.00,323.40) rotate(-45)" font-size="7.4" text-anchor="end" fill="#231f20" stroke="#231f20" stroke-width="0.28" textLength="11.8" lengthAdjust="spacingAndGlyphs">pre</text>
<line x1="326.4" y1="315.8" x2="326.4" y2="318.5" stroke="#231f20" stroke-width="0.8"/>
<text transform="translate(329.00,323.40) rotate(-45)" font-size="7.4" text-anchor="end" fill="#231f20" stroke="#231f20" stroke-width="0.28" textLength="15.6" lengthAdjust="spacingAndGlyphs">post</text>
<line x1="354.4" y1="315.8" x2="354.4" y2="318.5" stroke="#231f20" stroke-width="0.8"/>
<text transform="translate(357.00,323.40) rotate(-45)" font-size="7.4" text-anchor="end" fill="#231f20" stroke="#231f20" stroke-width="0.28" textLength="11.8" lengthAdjust="spacingAndGlyphs">pre</text>
<line x1="382.4" y1="315.8" x2="382.4" y2="318.5" stroke="#231f20" stroke-width="0.8"/>
<text transform="translate(385.00,323.40) rotate(-45)" font-size="7.4" text-anchor="end" fill="#231f20" stroke="#231f20" stroke-width="0.28" textLength="15.6" lengthAdjust="spacingAndGlyphs">post</text>
<line x1="410.4" y1="315.8" x2="410.4" y2="318.5" stroke="#231f20" stroke-width="0.8"/>
<text transform="translate(413.00,323.40) rotate(-45)" font-size="7.4" text-anchor="end" fill="#231f20" stroke="#231f20" stroke-width="0.28" textLength="11.8" lengthAdjust="spacingAndGlyphs">pre</text>
<line x1="438.5" y1="315.8" x2="438.5" y2="318.5" stroke="#231f20" stroke-width="0.8"/>
<text transform="translate(441.10,323.40) rotate(-45)" font-size="7.4" text-anchor="end" fill="#231f20" stroke="#231f20" stroke-width="0.28" textLength="15.6" lengthAdjust="spacingAndGlyphs">post</text>
<line x1="294.7" y1="340.5" x2="320.4" y2="340.5" stroke="#231f20" stroke-width="0.9"/>
<text x="307" y="350.0" font-size="7.4" text-anchor="middle" fill="#231f20" stroke="#231f20" stroke-width="0.22" >1</text>
<line x1="351.5" y1="340.5" x2="377.6" y2="340.5" stroke="#231f20" stroke-width="0.9"/>
<text x="364.3" y="350.0" font-size="7.4" text-anchor="middle" fill="#231f20" stroke="#231f20" stroke-width="0.22" >2</text>
<line x1="408.8" y1="340.5" x2="434.7" y2="340.5" stroke="#231f20" stroke-width="0.9"/>
<text x="421.4" y="350.0" font-size="7.4" text-anchor="middle" fill="#231f20" stroke="#231f20" stroke-width="0.22" >3</text>
<text x="256.2" y="350.0" font-size="7.4" text-anchor="start" fill="#231f20" stroke="#231f20" stroke-width="0.22" textLength="21.9" lengthAdjust="spacingAndGlyphs" >mouse</text>
<text x="360.8" y="191.7" font-size="9.3" text-anchor="start" fill="#231f20" stroke="#231f20" stroke-width="0.1" textLength="15.2" lengthAdjust="spacingAndGlyphs" >Y3P</text>
<text transform="translate(269,257) rotate(-90)" font-size="9.2" text-anchor="middle" fill="#231f20" stroke="#231f20" stroke-width="0.28" textLength="89" lengthAdjust="spacingAndGlyphs">Mean speed (µm/min)</text>
<path d="M295.3,310.9h2.9l-1.45,-2.5zM298.6,310.9h2.9l-1.45,-2.5zM295.9,306.6h2.9l-1.45,-2.5zM298.0,306.6h2.9l-1.45,-2.5zM293.8,307.1h2.9l-1.45,-2.5zM300.1,307.1h2.9l-1.45,-2.5zM291.6,307.6h2.9l-1.45,-2.5zM302.3,307.6h2.9l-1.45,-2.5zM289.5,308.0h2.9l-1.45,-2.5zM304.4,308.0h2.9l-1.45,-2.5zM287.3,308.5h2.9l-1.45,-2.5zM306.6,308.5h2.9l-1.45,-2.5zM296.3,302.3h2.9l-1.45,-2.5zM297.6,302.3h2.9l-1.45,-2.5zM295.0,302.6h2.9l-1.45,-2.5zM298.9,302.6h2.9l-1.45,-2.5zM293.8,302.9h2.9l-1.45,-2.5zM300.1,302.9h2.9l-1.45,-2.5zM292.5,303.2h2.9l-1.45,-2.5zM301.4,303.2h2.9l-1.45,-2.5zM291.2,303.5h2.9l-1.45,-2.5zM302.7,303.5h2.9l-1.45,-2.5zM289.9,303.7h2.9l-1.45,-2.5zM304.0,303.7h2.9l-1.45,-2.5zM288.6,304.0h2.9l-1.45,-2.5zM305.3,304.0h2.9l-1.45,-2.5zM287.3,304.3h2.9l-1.45,-2.5zM306.6,304.3h2.9l-1.45,-2.5zM296.4,298.1h2.9l-1.45,-2.5zM297.5,298.1h2.9l-1.45,-2.5zM295.3,298.4h2.9l-1.45,-2.5zM298.6,298.4h2.9l-1.45,-2.5zM294.1,298.6h2.9l-1.45,-2.5zM299.8,298.6h2.9l-1.45,-2.5zM293.0,298.9h2.9l-1.45,-2.5zM300.9,298.9h2.9l-1.45,-2.5zM291.9,299.1h2.9l-1.45,-2.5zM302.0,299.1h2.9l-1.45,-2.5zM290.7,299.4h2.9l-1.45,-2.5zM303.2,299.4h2.9l-1.45,-2.5zM289.6,299.6h2.9l-1.45,-2.5zM304.3,299.6h2.9l-1.45,-2.5zM288.5,299.9h2.9l-1.45,-2.5zM305.4,299.9h2.9l-1.45,-2.5zM287.3,300.1h2.9l-1.45,-2.5zM306.6,300.1h2.9l-1.45,-2.5zM296.9,293.8h2.9l-1.45,-2.5zM298.9,294.2h2.9l-1.45,-2.5zM295.0,294.2h2.9l-1.45,-2.5zM300.8,294.6h2.9l-1.45,-2.5zM293.1,294.6h2.9l-1.45,-2.5zM302.7,295.1h2.9l-1.45,-2.5zM291.2,295.1h2.9l-1.45,-2.5zM304.6,295.5h2.9l-1.45,-2.5zM289.3,295.5h2.9l-1.45,-2.5zM306.6,295.9h2.9l-1.45,-2.5zM287.3,295.9h2.9l-1.45,-2.5zM296.9,289.6h2.9l-1.45,-2.5zM299.3,290.1h2.9l-1.45,-2.5zM294.6,290.1h2.9l-1.45,-2.5zM301.8,290.6h2.9l-1.45,-2.5zM292.1,290.6h2.9l-1.45,-2.5zM304.1,291.2h2.9l-1.45,-2.5zM289.8,291.2h2.9l-1.45,-2.5zM306.6,291.7h2.9l-1.45,-2.5zM287.3,291.7h2.9l-1.45,-2.5zM295.3,285.7h2.9l-1.45,-2.5zM298.6,285.7h2.9l-1.45,-2.5zM292.1,286.4h2.9l-1.45,-2.5zM301.8,286.4h2.9l-1.45,-2.5zM288.9,287.1h2.9l-1.45,-2.5zM304.9,287.1h2.9l-1.45,-2.5zM295.3,281.5h2.9l-1.45,-2.5zM298.6,281.5h2.9l-1.45,-2.5zM292.1,282.2h2.9l-1.45,-2.5zM301.8,282.2h2.9l-1.45,-2.5zM295.3,277.3h2.9l-1.45,-2.5zM298.6,277.3h2.9l-1.45,-2.5zM292.1,278.0h2.9l-1.45,-2.5zM301.8,278.0h2.9l-1.45,-2.5zM295.3,273.1h2.9l-1.45,-2.5zM298.6,273.1h2.9l-1.45,-2.5zM292.1,273.8h2.9l-1.45,-2.5zM301.8,273.8h2.9l-1.45,-2.5zM296.9,268.6h2.9l-1.45,-2.5zM295.3,252.1h2.9l-1.45,-2.5zM298.6,252.1h2.9l-1.45,-2.5zM296.9,235.0h2.9l-1.45,-2.5zM296.9,226.6h2.9l-1.45,-2.5zM324.9,306.4h2.9l-1.45,-2.5zM328.1,307.1h2.9l-1.45,-2.5zM321.8,307.1h2.9l-1.45,-2.5zM331.3,307.8h2.9l-1.45,-2.5zM318.6,307.8h2.9l-1.45,-2.5zM334.6,308.5h2.9l-1.45,-2.5zM315.3,308.5h2.9l-1.45,-2.5zM323.6,302.5h2.9l-1.45,-2.5zM326.3,302.5h2.9l-1.45,-2.5zM320.8,303.1h2.9l-1.45,-2.5zM329.1,303.1h2.9l-1.45,-2.5zM318.1,303.7h2.9l-1.45,-2.5zM331.8,303.7h2.9l-1.45,-2.5zM315.3,304.3h2.9l-1.45,-2.5zM334.6,304.3h2.9l-1.45,-2.5zM323.6,298.3h2.9l-1.45,-2.5zM326.3,298.3h2.9l-1.45,-2.5zM320.8,298.9h2.9l-1.45,-2.5zM329.1,298.9h2.9l-1.45,-2.5zM318.1,299.5h2.9l-1.45,-2.5zM331.8,299.5h2.9l-1.45,-2.5zM315.3,300.1h2.9l-1.45,-2.5zM334.6,300.1h2.9l-1.45,-2.5zM323.6,294.1h2.9l-1.45,-2.5zM326.3,294.1h2.9l-1.45,-2.5zM320.8,294.7h2.9l-1.45,-2.5zM329.1,294.7h2.9l-1.45,-2.5zM318.1,295.3h2.9l-1.45,-2.5zM331.8,295.3h2.9l-1.45,-2.5zM315.3,295.9h2.9l-1.45,-2.5zM334.6,295.9h2.9l-1.45,-2.5zM323.3,289.9h2.9l-1.45,-2.5zM326.6,289.9h2.9l-1.45,-2.5zM320.1,290.6h2.9l-1.45,-2.5zM329.8,290.6h2.9l-1.45,-2.5zM316.9,291.3h2.9l-1.45,-2.5zM332.9,291.3h2.9l-1.45,-2.5zM324.9,285.4h2.9l-1.45,-2.5zM328.1,286.1h2.9l-1.45,-2.5zM321.8,286.1h2.9l-1.45,-2.5zM331.3,286.8h2.9l-1.45,-2.5zM318.6,286.8h2.9l-1.45,-2.5zM334.6,287.5h2.9l-1.45,-2.5zM315.3,287.5h2.9l-1.45,-2.5zM324.9,281.2h2.9l-1.45,-2.5zM328.1,281.9h2.9l-1.45,-2.5zM321.8,281.9h2.9l-1.45,-2.5zM331.3,282.6h2.9l-1.45,-2.5zM318.6,282.6h2.9l-1.45,-2.5zM334.6,283.3h2.9l-1.45,-2.5zM315.3,283.3h2.9l-1.45,-2.5zM323.6,277.3h2.9l-1.45,-2.5zM326.3,277.3h2.9l-1.45,-2.5zM320.8,277.9h2.9l-1.45,-2.5zM329.1,277.9h2.9l-1.45,-2.5zM318.1,278.5h2.9l-1.45,-2.5zM331.8,278.5h2.9l-1.45,-2.5zM315.3,279.1h2.9l-1.45,-2.5zM334.6,279.1h2.9l-1.45,-2.5zM324.9,272.8h2.9l-1.45,-2.5zM328.1,273.5h2.9l-1.45,-2.5zM321.8,273.5h2.9l-1.45,-2.5zM331.3,274.2h2.9l-1.45,-2.5zM318.6,274.2h2.9l-1.45,-2.5zM334.6,274.9h2.9l-1.45,-2.5zM315.3,274.9h2.9l-1.45,-2.5zM324.9,268.6h2.9l-1.45,-2.5zM327.3,269.1h2.9l-1.45,-2.5zM322.6,269.1h2.9l-1.45,-2.5zM329.8,269.6h2.9l-1.45,-2.5zM320.1,269.6h2.9l-1.45,-2.5zM332.1,270.2h2.9l-1.45,-2.5zM317.8,270.2h2.9l-1.45,-2.5zM334.6,270.7h2.9l-1.45,-2.5zM315.3,270.7h2.9l-1.45,-2.5zM323.6,264.7h2.9l-1.45,-2.5zM326.3,264.7h2.9l-1.45,-2.5zM320.8,265.3h2.9l-1.45,-2.5zM329.1,265.3h2.9l-1.45,-2.5zM318.1,265.9h2.9l-1.45,-2.5zM331.8,265.9h2.9l-1.45,-2.5zM315.3,266.5h2.9l-1.45,-2.5zM334.6,266.5h2.9l-1.45,-2.5zM323.6,260.5h2.9l-1.45,-2.5zM326.3,260.5h2.9l-1.45,-2.5zM320.8,261.1h2.9l-1.45,-2.5zM329.1,261.1h2.9l-1.45,-2.5zM318.1,261.7h2.9l-1.45,-2.5zM331.8,261.7h2.9l-1.45,-2.5zM315.3,262.3h2.9l-1.45,-2.5zM334.6,262.3h2.9l-1.45,-2.5zM324.9,256.0h2.9l-1.45,-2.5zM323.1,210.9h2.9l-1.45,-2.5zM326.4,211.0h2.9l-1.45,-2.5zM325.0,215.3h2.9l-1.45,-2.5zM320.1,220.7h2.9l-1.45,-2.5zM323.0,220.1h2.9l-1.45,-2.5zM326.7,220.1h2.9l-1.45,-2.5zM330.1,220.9h2.9l-1.45,-2.5zM323.2,223.1h2.9l-1.45,-2.5zM326.4,223.7h2.9l-1.45,-2.5zM320.1,233.3h2.9l-1.45,-2.5zM323.3,232.6h2.9l-1.45,-2.5zM326.4,232.7h2.9l-1.45,-2.5zM329.7,233.3h2.9l-1.45,-2.5zM318.4,237.3h2.9l-1.45,-2.5zM321.5,236.1h2.9l-1.45,-2.5zM324.8,236.1h2.9l-1.45,-2.5zM328.3,236.8h2.9l-1.45,-2.5zM331.5,237.0h2.9l-1.45,-2.5zM320.2,241.3h2.9l-1.45,-2.5zM323.1,241.1h2.9l-1.45,-2.5zM326.7,240.9h2.9l-1.45,-2.5zM329.9,241.5h2.9l-1.45,-2.5zM318.5,245.9h2.9l-1.45,-2.5zM321.8,245.1h2.9l-1.45,-2.5zM324.9,244.8h2.9l-1.45,-2.5zM328.2,245.0h2.9l-1.45,-2.5zM331.8,245.7h2.9l-1.45,-2.5zM319.9,249.5h2.9l-1.45,-2.5zM323.4,249.1h2.9l-1.45,-2.5zM326.7,248.7h2.9l-1.45,-2.5zM330.2,249.3h2.9l-1.45,-2.5zM318.3,254.5h2.9l-1.45,-2.5zM321.9,253.1h2.9l-1.45,-2.5zM324.7,253.2h2.9l-1.45,-2.5zM328.5,253.3h2.9l-1.45,-2.5zM331.4,254.2h2.9l-1.45,-2.5zM317.0,257.7h2.9l-1.45,-2.5zM320.0,257.5h2.9l-1.45,-2.5zM323.1,256.7h2.9l-1.45,-2.5zM326.4,256.7h2.9l-1.45,-2.5zM329.7,256.9h2.9l-1.45,-2.5zM333.1,257.6h2.9l-1.45,-2.5zM352.8,240.7h2.9l-1.45,-2.5zM352.9,250.6h2.9l-1.45,-2.5zM349.7,260.4h2.9l-1.45,-2.5zM352.7,260.5h2.9l-1.45,-2.5zM356.1,260.5h2.9l-1.45,-2.5zM348.3,267.6h2.9l-1.45,-2.5zM351.5,267.0h2.9l-1.45,-2.5zM354.7,266.7h2.9l-1.45,-2.5zM358.0,268.0h2.9l-1.45,-2.5zM349.7,271.3h2.9l-1.45,-2.5zM353.1,270.0h2.9l-1.45,-2.5zM356.4,271.2h2.9l-1.45,-2.5zM352.8,277.4h2.9l-1.45,-2.5zM346.6,291.4h2.9l-1.45,-2.5zM349.8,291.2h2.9l-1.45,-2.5zM353.1,290.7h2.9l-1.45,-2.5zM356.2,291.2h2.9l-1.45,-2.5zM359.5,291.9h2.9l-1.45,-2.5zM348.2,293.7h2.9l-1.45,-2.5zM351.1,293.2h2.9l-1.45,-2.5zM354.9,293.4h2.9l-1.45,-2.5zM358.0,293.9h2.9l-1.45,-2.5zM344.7,298.6h2.9l-1.45,-2.5zM347.9,298.2h2.9l-1.45,-2.5zM351.4,297.9h2.9l-1.45,-2.5zM354.7,297.9h2.9l-1.45,-2.5zM358.1,298.6h2.9l-1.45,-2.5zM361.3,298.4h2.9l-1.45,-2.5zM344.9,302.6h2.9l-1.45,-2.5zM348.2,301.6h2.9l-1.45,-2.5zM351.4,300.7h2.9l-1.45,-2.5zM354.8,301.0h2.9l-1.45,-2.5zM357.8,301.1h2.9l-1.45,-2.5zM361.4,302.7h2.9l-1.45,-2.5zM342.8,305.8h2.9l-1.45,-2.5zM346.3,304.6h2.9l-1.45,-2.5zM349.5,304.6h2.9l-1.45,-2.5zM353.2,303.3h2.9l-1.45,-2.5zM356.3,303.9h2.9l-1.45,-2.5zM359.7,304.7h2.9l-1.45,-2.5zM363.1,306.0h2.9l-1.45,-2.5zM344.7,309.2h2.9l-1.45,-2.5zM347.9,307.7h2.9l-1.45,-2.5zM351.4,307.0h2.9l-1.45,-2.5zM354.4,307.4h2.9l-1.45,-2.5zM358.0,307.7h2.9l-1.45,-2.5zM360.9,309.0h2.9l-1.45,-2.5zM347.9,311.6h2.9l-1.45,-2.5zM351.5,310.4h2.9l-1.45,-2.5zM354.6,310.5h2.9l-1.45,-2.5zM358.0,311.2h2.9l-1.45,-2.5zM380.8,224.6h2.9l-1.45,-2.5zM377.6,235.5h2.9l-1.45,-2.5zM380.7,235.1h2.9l-1.45,-2.5zM384.5,236.1h2.9l-1.45,-2.5zM381.1,249.7h2.9l-1.45,-2.5zM374.4,256.6h2.9l-1.45,-2.5zM377.5,255.8h2.9l-1.45,-2.5zM380.8,256.0h2.9l-1.45,-2.5zM384.4,256.5h2.9l-1.45,-2.5zM387.7,256.5h2.9l-1.45,-2.5zM379.2,263.4h2.9l-1.45,-2.5zM382.7,263.6h2.9l-1.45,-2.5zM376.2,268.2h2.9l-1.45,-2.5zM379.4,268.2h2.9l-1.45,-2.5zM382.6,267.7h2.9l-1.45,-2.5zM385.9,268.2h2.9l-1.45,-2.5zM381.2,274.6h2.9l-1.45,-2.5zM376.0,282.2h2.9l-1.45,-2.5zM379.5,281.8h2.9l-1.45,-2.5zM382.8,282.1h2.9l-1.45,-2.5zM385.9,282.3h2.9l-1.45,-2.5zM379.4,284.6h2.9l-1.45,-2.5zM382.4,284.4h2.9l-1.45,-2.5zM379.5,290.7h2.9l-1.45,-2.5zM382.3,291.3h2.9l-1.45,-2.5zM377.5,296.0h2.9l-1.45,-2.5zM380.9,295.2h2.9l-1.45,-2.5zM384.5,295.6h2.9l-1.45,-2.5zM375.9,301.9h2.9l-1.45,-2.5zM379.4,301.3h2.9l-1.45,-2.5zM382.5,301.8h2.9l-1.45,-2.5zM385.8,302.2h2.9l-1.45,-2.5zM371.3,308.3h2.9l-1.45,-2.5zM374.1,307.8h2.9l-1.45,-2.5zM377.8,307.6h2.9l-1.45,-2.5zM380.8,306.7h2.9l-1.45,-2.5zM384.1,307.4h2.9l-1.45,-2.5zM387.3,308.3h2.9l-1.45,-2.5zM391.1,309.1h2.9l-1.45,-2.5zM408.9,310.6h2.9l-1.45,-2.5zM412.1,311.3h2.9l-1.45,-2.5zM405.8,311.3h2.9l-1.45,-2.5zM415.3,312.0h2.9l-1.45,-2.5zM402.6,312.0h2.9l-1.45,-2.5zM418.6,312.7h2.9l-1.45,-2.5zM399.3,312.7h2.9l-1.45,-2.5zM408.1,306.6h2.9l-1.45,-2.5zM409.8,306.6h2.9l-1.45,-2.5zM406.3,307.0h2.9l-1.45,-2.5zM411.6,307.0h2.9l-1.45,-2.5zM404.6,307.3h2.9l-1.45,-2.5zM413.3,307.3h2.9l-1.45,-2.5zM402.8,307.7h2.9l-1.45,-2.5zM415.1,307.7h2.9l-1.45,-2.5zM401.1,308.1h2.9l-1.45,-2.5zM416.8,308.1h2.9l-1.45,-2.5zM399.3,308.5h2.9l-1.45,-2.5zM418.6,308.5h2.9l-1.45,-2.5zM408.9,302.2h2.9l-1.45,-2.5zM410.3,302.5h2.9l-1.45,-2.5zM407.6,302.5h2.9l-1.45,-2.5zM411.7,302.8h2.9l-1.45,-2.5zM406.2,302.8h2.9l-1.45,-2.5zM413.1,303.1h2.9l-1.45,-2.5zM404.8,303.1h2.9l-1.45,-2.5zM414.4,303.4h2.9l-1.45,-2.5zM403.5,303.4h2.9l-1.45,-2.5zM415.8,303.7h2.9l-1.45,-2.5zM402.1,303.7h2.9l-1.45,-2.5zM417.2,304.0h2.9l-1.45,-2.5zM400.7,304.0h2.9l-1.45,-2.5zM418.6,304.3h2.9l-1.45,-2.5zM399.3,304.3h2.9l-1.45,-2.5zM408.9,298.0h2.9l-1.45,-2.5zM410.0,298.2h2.9l-1.45,-2.5zM407.9,298.2h2.9l-1.45,-2.5zM411.1,298.5h2.9l-1.45,-2.5zM406.8,298.5h2.9l-1.45,-2.5zM412.1,298.7h2.9l-1.45,-2.5zM405.8,298.7h2.9l-1.45,-2.5zM413.2,298.9h2.9l-1.45,-2.5zM404.7,298.9h2.9l-1.45,-2.5zM414.3,299.2h2.9l-1.45,-2.5zM403.6,299.2h2.9l-1.45,-2.5zM415.3,299.4h2.9l-1.45,-2.5zM402.6,299.4h2.9l-1.45,-2.5zM416.4,299.6h2.9l-1.45,-2.5zM401.5,299.6h2.9l-1.45,-2.5zM417.5,299.9h2.9l-1.45,-2.5zM400.4,299.9h2.9l-1.45,-2.5zM418.6,300.1h2.9l-1.45,-2.5zM399.3,300.1h2.9l-1.45,-2.5zM408.9,293.8h2.9l-1.45,-2.5zM410.1,294.1h2.9l-1.45,-2.5zM407.8,294.1h2.9l-1.45,-2.5zM411.3,294.3h2.9l-1.45,-2.5zM406.6,294.3h2.9l-1.45,-2.5zM412.6,294.6h2.9l-1.45,-2.5zM405.3,294.6h2.9l-1.45,-2.5zM413.8,294.8h2.9l-1.45,-2.5zM404.1,294.8h2.9l-1.45,-2.5zM414.9,295.1h2.9l-1.45,-2.5zM402.9,295.1h2.9l-1.45,-2.5zM416.1,295.4h2.9l-1.45,-2.5zM401.8,295.4h2.9l-1.45,-2.5zM417.3,295.6h2.9l-1.45,-2.5zM400.6,295.6h2.9l-1.45,-2.5zM418.6,295.9h2.9l-1.45,-2.5zM399.3,295.9h2.9l-1.45,-2.5zM408.3,289.7h2.9l-1.45,-2.5zM409.6,289.7h2.9l-1.45,-2.5zM407.0,290.0h2.9l-1.45,-2.5zM410.9,290.0h2.9l-1.45,-2.5zM405.8,290.3h2.9l-1.45,-2.5zM412.1,290.3h2.9l-1.45,-2.5zM404.5,290.6h2.9l-1.45,-2.5zM413.4,290.6h2.9l-1.45,-2.5zM403.2,290.9h2.9l-1.45,-2.5zM414.7,290.9h2.9l-1.45,-2.5zM401.9,291.1h2.9l-1.45,-2.5zM416.0,291.1h2.9l-1.45,-2.5zM400.6,291.4h2.9l-1.45,-2.5zM417.3,291.4h2.9l-1.45,-2.5zM399.3,291.7h2.9l-1.45,-2.5zM418.6,291.7h2.9l-1.45,-2.5zM407.9,285.6h2.9l-1.45,-2.5zM410.0,285.6h2.9l-1.45,-2.5zM405.8,286.1h2.9l-1.45,-2.5zM412.1,286.1h2.9l-1.45,-2.5zM403.6,286.6h2.9l-1.45,-2.5zM414.3,286.6h2.9l-1.45,-2.5zM401.5,287.0h2.9l-1.45,-2.5zM416.4,287.0h2.9l-1.45,-2.5zM399.3,287.5h2.9l-1.45,-2.5zM418.6,287.5h2.9l-1.45,-2.5zM407.6,281.5h2.9l-1.45,-2.5zM410.3,281.5h2.9l-1.45,-2.5zM404.8,282.1h2.9l-1.45,-2.5zM413.1,282.1h2.9l-1.45,-2.5zM402.1,282.7h2.9l-1.45,-2.5zM415.8,282.7h2.9l-1.45,-2.5zM399.3,283.3h2.9l-1.45,-2.5zM418.6,283.3h2.9l-1.45,-2.5zM407.6,277.3h2.9l-1.45,-2.5zM410.3,277.3h2.9l-1.45,-2.5zM404.8,277.9h2.9l-1.45,-2.5zM413.1,277.9h2.9l-1.45,-2.5zM402.1,278.5h2.9l-1.45,-2.5zM415.8,278.5h2.9l-1.45,-2.5zM399.3,279.1h2.9l-1.45,-2.5zM418.6,279.1h2.9l-1.45,-2.5zM407.3,273.1h2.9l-1.45,-2.5zM410.6,273.1h2.9l-1.45,-2.5zM404.1,273.8h2.9l-1.45,-2.5zM413.8,273.8h2.9l-1.45,-2.5zM400.9,274.5h2.9l-1.45,-2.5zM416.9,274.5h2.9l-1.45,-2.5zM408.9,268.6h2.9l-1.45,-2.5zM412.1,269.3h2.9l-1.45,-2.5zM405.8,269.3h2.9l-1.45,-2.5zM407.3,264.7h2.9l-1.45,-2.5zM410.6,264.7h2.9l-1.45,-2.5zM408.9,260.2h2.9l-1.45,-2.5zM412.1,260.9h2.9l-1.45,-2.5zM405.8,260.9h2.9l-1.45,-2.5zM407.3,256.3h2.9l-1.45,-2.5zM410.6,256.3h2.9l-1.45,-2.5zM408.9,239.2h2.9l-1.45,-2.5zM408.9,226.6h2.9l-1.45,-2.5zM436.2,306.6h2.9l-1.45,-2.5zM437.9,306.6h2.9l-1.45,-2.5zM434.4,307.0h2.9l-1.45,-2.5zM439.7,307.0h2.9l-1.45,-2.5zM432.7,307.3h2.9l-1.45,-2.5zM441.4,307.3h2.9l-1.45,-2.5zM430.9,307.7h2.9l-1.45,-2.5zM443.2,307.7h2.9l-1.45,-2.5zM429.2,308.1h2.9l-1.45,-2.5zM444.9,308.1h2.9l-1.45,-2.5zM427.4,308.5h2.9l-1.45,-2.5zM446.7,308.5h2.9l-1.45,-2.5zM437.1,302.2h2.9l-1.45,-2.5zM438.4,302.5h2.9l-1.45,-2.5zM435.7,302.5h2.9l-1.45,-2.5zM439.8,302.8h2.9l-1.45,-2.5zM434.3,302.8h2.9l-1.45,-2.5zM441.2,303.1h2.9l-1.45,-2.5zM432.9,303.1h2.9l-1.45,-2.5zM442.5,303.4h2.9l-1.45,-2.5zM431.6,303.4h2.9l-1.45,-2.5zM443.9,303.7h2.9l-1.45,-2.5zM430.2,303.7h2.9l-1.45,-2.5zM445.3,304.0h2.9l-1.45,-2.5zM428.8,304.0h2.9l-1.45,-2.5zM446.7,304.3h2.9l-1.45,-2.5zM427.4,304.3h2.9l-1.45,-2.5zM436.5,298.1h2.9l-1.45,-2.5zM437.6,298.1h2.9l-1.45,-2.5zM435.4,298.4h2.9l-1.45,-2.5zM438.7,298.4h2.9l-1.45,-2.5zM434.2,298.6h2.9l-1.45,-2.5zM439.9,298.6h2.9l-1.45,-2.5zM433.1,298.9h2.9l-1.45,-2.5zM441.0,298.9h2.9l-1.45,-2.5zM432.0,299.1h2.9l-1.45,-2.5zM442.1,299.1h2.9l-1.45,-2.5zM430.8,299.4h2.9l-1.45,-2.5zM443.3,299.4h2.9l-1.45,-2.5zM429.7,299.6h2.9l-1.45,-2.5zM444.4,299.6h2.9l-1.45,-2.5zM428.6,299.9h2.9l-1.45,-2.5zM445.5,299.9h2.9l-1.45,-2.5zM427.4,300.1h2.9l-1.45,-2.5zM446.7,300.1h2.9l-1.45,-2.5zM437.1,293.8h2.9l-1.45,-2.5zM438.2,294.1h2.9l-1.45,-2.5zM435.9,294.1h2.9l-1.45,-2.5zM439.4,294.3h2.9l-1.45,-2.5zM434.7,294.3h2.9l-1.45,-2.5zM440.7,294.6h2.9l-1.45,-2.5zM433.4,294.6h2.9l-1.45,-2.5zM441.9,294.8h2.9l-1.45,-2.5zM432.2,294.8h2.9l-1.45,-2.5zM443.1,295.1h2.9l-1.45,-2.5zM431.1,295.1h2.9l-1.45,-2.5zM444.2,295.4h2.9l-1.45,-2.5zM429.9,295.4h2.9l-1.45,-2.5zM445.4,295.6h2.9l-1.45,-2.5zM428.7,295.6h2.9l-1.45,-2.5zM446.7,295.9h2.9l-1.45,-2.5zM427.4,295.9h2.9l-1.45,-2.5zM437.1,289.6h2.9l-1.45,-2.5zM439.0,290.0h2.9l-1.45,-2.5zM435.1,290.0h2.9l-1.45,-2.5zM440.9,290.4h2.9l-1.45,-2.5zM433.2,290.4h2.9l-1.45,-2.5zM442.8,290.9h2.9l-1.45,-2.5zM431.3,290.9h2.9l-1.45,-2.5zM444.7,291.3h2.9l-1.45,-2.5zM429.4,291.3h2.9l-1.45,-2.5zM446.7,291.7h2.9l-1.45,-2.5zM427.4,291.7h2.9l-1.45,-2.5zM437.1,285.4h2.9l-1.45,-2.5zM439.0,285.8h2.9l-1.45,-2.5zM435.1,285.8h2.9l-1.45,-2.5zM440.9,286.2h2.9l-1.45,-2.5zM433.2,286.2h2.9l-1.45,-2.5zM442.8,286.7h2.9l-1.45,-2.5zM431.3,286.7h2.9l-1.45,-2.5zM444.7,287.1h2.9l-1.45,-2.5zM429.4,287.1h2.9l-1.45,-2.5zM446.7,287.5h2.9l-1.45,-2.5zM427.4,287.5h2.9l-1.45,-2.5zM437.1,281.2h2.9l-1.45,-2.5zM439.4,281.7h2.9l-1.45,-2.5zM434.7,281.7h2.9l-1.45,-2.5zM441.9,282.2h2.9l-1.45,-2.5zM432.2,282.2h2.9l-1.45,-2.5zM444.2,282.8h2.9l-1.45,-2.5zM429.9,282.8h2.9l-1.45,-2.5zM446.7,283.3h2.9l-1.45,-2.5zM427.4,283.3h2.9l-1.45,-2.5zM437.1,277.0h2.9l-1.45,-2.5zM440.2,277.7h2.9l-1.45,-2.5zM433.9,277.7h2.9l-1.45,-2.5zM443.4,278.4h2.9l-1.45,-2.5zM430.7,278.4h2.9l-1.45,-2.5zM446.7,279.1h2.9l-1.45,-2.5zM427.4,279.1h2.9l-1.45,-2.5zM435.4,273.1h2.9l-1.45,-2.5zM438.7,273.1h2.9l-1.45,-2.5zM432.2,273.8h2.9l-1.45,-2.5zM441.9,273.8h2.9l-1.45,-2.5zM429.1,274.5h2.9l-1.45,-2.5zM445.1,274.5h2.9l-1.45,-2.5zM437.1,268.6h2.9l-1.45,-2.5zM440.2,269.3h2.9l-1.45,-2.5zM433.9,269.3h2.9l-1.45,-2.5zM443.4,270.0h2.9l-1.45,-2.5zM430.7,270.0h2.9l-1.45,-2.5zM437.1,264.4h2.9l-1.45,-2.5zM440.2,265.1h2.9l-1.45,-2.5zM433.9,265.1h2.9l-1.45,-2.5zM443.4,265.8h2.9l-1.45,-2.5zM430.7,265.8h2.9l-1.45,-2.5zM435.4,260.5h2.9l-1.45,-2.5zM438.7,260.5h2.9l-1.45,-2.5zM437.1,256.0h2.9l-1.45,-2.5zM435.4,252.1h2.9l-1.45,-2.5zM438.7,252.1h2.9l-1.45,-2.5zM437.1,230.8h2.9l-1.45,-2.5zM437.1,226.6h2.9l-1.45,-2.5z" fill="none" stroke="#b3284a" stroke-opacity="0.7" stroke-width="0.68"/>
<path d="M289.00,297.74H307.80M294.00,301.35H302.80M294.00,289.07H302.80M298.4,301.35V289.07" stroke="#111" stroke-width="1.35" fill="none"/>
<path d="M317.00,276.79H335.80M322.00,294.12H330.80M322.00,257.28H330.80M326.4,294.12V257.28" stroke="#111" stroke-width="1.35" fill="none"/>
<path d="M345.00,296.29H363.80M350.00,303.52H358.80M350.00,286.90H358.80M354.4,303.52V286.90" stroke="#111" stroke-width="1.35" fill="none"/>
<path d="M373.00,283.29H391.80M378.00,299.18H386.80M378.00,261.61H386.80M382.4,299.18V261.61" stroke="#111" stroke-width="1.35" fill="none"/>
<path d="M401.00,294.85H419.80M406.00,301.35H414.80M406.00,286.90H414.80M410.4,301.35V286.90" stroke="#111" stroke-width="1.35" fill="none"/>
<path d="M429.10,292.68H447.90M434.10,299.91H442.90M434.10,281.84H442.90M438.5,299.91V281.84" stroke="#111" stroke-width="1.35" fill="none"/>
<line x1="284.8" y1="377.50" x2="284.8" y2="494.4" stroke="#231f20" stroke-width="0.9"/>
<line x1="281.8" y1="494.40" x2="284.8" y2="494.40" stroke="#231f20" stroke-width="0.8"/>
<text x="279.2" y="497.0" font-size="7.4" text-anchor="end" fill="#231f20" stroke="#231f20" stroke-width="0.22" >0</text>
<line x1="281.8" y1="465.50" x2="284.8" y2="465.50" stroke="#231f20" stroke-width="0.8"/>
<text x="279.2" y="468.1" font-size="7.4" text-anchor="end" fill="#231f20" stroke="#231f20" stroke-width="0.22" >2</text>
<line x1="281.8" y1="436.60" x2="284.8" y2="436.60" stroke="#231f20" stroke-width="0.8"/>
<text x="279.2" y="439.2" font-size="7.4" text-anchor="end" fill="#231f20" stroke="#231f20" stroke-width="0.22" >4</text>
<line x1="281.8" y1="407.70" x2="284.8" y2="407.70" stroke="#231f20" stroke-width="0.8"/>
<text x="279.2" y="410.3" font-size="7.4" text-anchor="end" fill="#231f20" stroke="#231f20" stroke-width="0.22" >6</text>
<line x1="281.8" y1="378.80" x2="284.8" y2="378.80" stroke="#231f20" stroke-width="0.8"/>
<text x="279.2" y="381.4" font-size="7.4" text-anchor="end" fill="#231f20" stroke="#231f20" stroke-width="0.22" >8</text>
<line x1="284.8" y1="494.4" x2="452.5" y2="494.4" stroke="#231f20" stroke-width="0.9"/>
<line x1="298.4" y1="494.4" x2="298.4" y2="497.09999999999997" stroke="#231f20" stroke-width="0.8"/>
<text transform="translate(301.00,502.00) rotate(-45)" font-size="7.4" text-anchor="end" fill="#231f20" stroke="#231f20" stroke-width="0.28" textLength="11.8" lengthAdjust="spacingAndGlyphs">pre</text>
<line x1="326.4" y1="494.4" x2="326.4" y2="497.09999999999997" stroke="#231f20" stroke-width="0.8"/>
<text transform="translate(329.00,502.00) rotate(-45)" font-size="7.4" text-anchor="end" fill="#231f20" stroke="#231f20" stroke-width="0.28" textLength="15.6" lengthAdjust="spacingAndGlyphs">post</text>
<line x1="354.4" y1="494.4" x2="354.4" y2="497.09999999999997" stroke="#231f20" stroke-width="0.8"/>
<text transform="translate(357.00,502.00) rotate(-45)" font-size="7.4" text-anchor="end" fill="#231f20" stroke="#231f20" stroke-width="0.28" textLength="11.8" lengthAdjust="spacingAndGlyphs">pre</text>
<line x1="382.4" y1="494.4" x2="382.4" y2="497.09999999999997" stroke="#231f20" stroke-width="0.8"/>
<text transform="translate(385.00,502.00) rotate(-45)" font-size="7.4" text-anchor="end" fill="#231f20" stroke="#231f20" stroke-width="0.28" textLength="15.6" lengthAdjust="spacingAndGlyphs">post</text>
<line x1="410.4" y1="494.4" x2="410.4" y2="497.09999999999997" stroke="#231f20" stroke-width="0.8"/>
<text transform="translate(413.00,502.00) rotate(-45)" font-size="7.4" text-anchor="end" fill="#231f20" stroke="#231f20" stroke-width="0.28" textLength="11.8" lengthAdjust="spacingAndGlyphs">pre</text>
<line x1="438.5" y1="494.4" x2="438.5" y2="497.09999999999997" stroke="#231f20" stroke-width="0.8"/>
<text transform="translate(441.10,502.00) rotate(-45)" font-size="7.4" text-anchor="end" fill="#231f20" stroke="#231f20" stroke-width="0.28" textLength="15.6" lengthAdjust="spacingAndGlyphs">post</text>
<line x1="294.7" y1="518.5" x2="320.4" y2="518.5" stroke="#231f20" stroke-width="0.9"/>
<text x="307" y="528.6" font-size="7.4" text-anchor="middle" fill="#231f20" stroke="#231f20" stroke-width="0.22" >1</text>
<line x1="351.5" y1="518.5" x2="377.6" y2="518.5" stroke="#231f20" stroke-width="0.9"/>
<text x="364.3" y="528.6" font-size="7.4" text-anchor="middle" fill="#231f20" stroke="#231f20" stroke-width="0.22" >2</text>
<line x1="408.8" y1="518.5" x2="434.7" y2="518.5" stroke="#231f20" stroke-width="0.9"/>
<text x="421.4" y="528.6" font-size="7.4" text-anchor="middle" fill="#231f20" stroke="#231f20" stroke-width="0.22" >3</text>
<text x="256.2" y="528.6" font-size="7.4" text-anchor="start" fill="#231f20" stroke="#231f20" stroke-width="0.22" textLength="21.9" lengthAdjust="spacingAndGlyphs" >mouse</text>
<text x="353.5" y="370.4" font-size="9.3" text-anchor="start" fill="#231f20" stroke="#231f20" stroke-width="0.1" textLength="29.5" lengthAdjust="spacingAndGlyphs" >Isotype</text>
<text transform="translate(269,434.7) rotate(-90)" font-size="9.2" text-anchor="middle" fill="#231f20" stroke="#231f20" stroke-width="0.28" textLength="89" lengthAdjust="spacingAndGlyphs">Mean speed (um/min)</text>
<path d="M295.3,491.5h2.9l-1.45,-2.5zM298.6,491.5h2.9l-1.45,-2.5zM292.1,492.2h2.9l-1.45,-2.5zM301.8,492.2h2.9l-1.45,-2.5zM288.9,492.9h2.9l-1.45,-2.5zM304.9,492.9h2.9l-1.45,-2.5zM296.9,487.0h2.9l-1.45,-2.5zM298.9,487.4h2.9l-1.45,-2.5zM295.0,487.4h2.9l-1.45,-2.5zM300.8,487.8h2.9l-1.45,-2.5zM293.1,487.8h2.9l-1.45,-2.5zM302.7,488.3h2.9l-1.45,-2.5zM291.2,488.3h2.9l-1.45,-2.5zM304.6,488.7h2.9l-1.45,-2.5zM289.3,488.7h2.9l-1.45,-2.5zM306.6,489.1h2.9l-1.45,-2.5zM287.3,489.1h2.9l-1.45,-2.5zM296.4,482.9h2.9l-1.45,-2.5zM297.5,482.9h2.9l-1.45,-2.5zM295.4,483.1h2.9l-1.45,-2.5zM298.5,483.1h2.9l-1.45,-2.5zM294.4,483.3h2.9l-1.45,-2.5zM299.5,483.3h2.9l-1.45,-2.5zM293.4,483.6h2.9l-1.45,-2.5zM300.5,483.6h2.9l-1.45,-2.5zM292.4,483.8h2.9l-1.45,-2.5zM301.5,483.8h2.9l-1.45,-2.5zM291.4,484.0h2.9l-1.45,-2.5zM302.5,484.0h2.9l-1.45,-2.5zM290.4,484.2h2.9l-1.45,-2.5zM303.5,484.2h2.9l-1.45,-2.5zM289.4,484.5h2.9l-1.45,-2.5zM304.5,484.5h2.9l-1.45,-2.5zM288.4,484.7h2.9l-1.45,-2.5zM305.5,484.7h2.9l-1.45,-2.5zM287.3,484.9h2.9l-1.45,-2.5zM306.6,484.9h2.9l-1.45,-2.5zM296.9,478.6h2.9l-1.45,-2.5zM298.1,478.9h2.9l-1.45,-2.5zM295.8,478.9h2.9l-1.45,-2.5zM299.3,479.1h2.9l-1.45,-2.5zM294.6,479.1h2.9l-1.45,-2.5zM300.6,479.4h2.9l-1.45,-2.5zM293.3,479.4h2.9l-1.45,-2.5zM301.8,479.6h2.9l-1.45,-2.5zM292.1,479.6h2.9l-1.45,-2.5zM302.9,479.9h2.9l-1.45,-2.5zM290.9,479.9h2.9l-1.45,-2.5zM304.1,480.2h2.9l-1.45,-2.5zM289.8,480.2h2.9l-1.45,-2.5zM305.3,480.4h2.9l-1.45,-2.5zM288.6,480.4h2.9l-1.45,-2.5zM306.6,480.7h2.9l-1.45,-2.5zM287.3,480.7h2.9l-1.45,-2.5zM296.9,474.4h2.9l-1.45,-2.5zM298.6,474.7h2.9l-1.45,-2.5zM295.3,474.7h2.9l-1.45,-2.5zM300.1,475.1h2.9l-1.45,-2.5zM293.8,475.1h2.9l-1.45,-2.5zM301.8,475.4h2.9l-1.45,-2.5zM292.1,475.4h2.9l-1.45,-2.5zM303.3,475.8h2.9l-1.45,-2.5zM290.6,475.8h2.9l-1.45,-2.5zM304.9,476.1h2.9l-1.45,-2.5zM288.9,476.1h2.9l-1.45,-2.5zM306.6,476.5h2.9l-1.45,-2.5zM287.3,476.5h2.9l-1.45,-2.5zM296.9,470.2h2.9l-1.45,-2.5zM300.1,470.9h2.9l-1.45,-2.5zM293.8,470.9h2.9l-1.45,-2.5zM303.3,471.6h2.9l-1.45,-2.5zM290.6,471.6h2.9l-1.45,-2.5zM306.6,472.3h2.9l-1.45,-2.5zM287.3,472.3h2.9l-1.45,-2.5zM295.3,466.3h2.9l-1.45,-2.5zM298.6,466.3h2.9l-1.45,-2.5zM292.1,467.0h2.9l-1.45,-2.5zM301.8,467.0h2.9l-1.45,-2.5zM288.9,467.8h2.9l-1.45,-2.5zM304.9,467.8h2.9l-1.45,-2.5zM296.9,461.8h2.9l-1.45,-2.5zM300.1,462.5h2.9l-1.45,-2.5zM293.8,462.5h2.9l-1.45,-2.5zM295.3,457.9h2.9l-1.45,-2.5zM298.6,457.9h2.9l-1.45,-2.5zM296.9,453.4h2.9l-1.45,-2.5zM295.3,449.5h2.9l-1.45,-2.5zM298.6,449.5h2.9l-1.45,-2.5zM296.9,436.6h2.9l-1.45,-2.5zM296.9,428.2h2.9l-1.45,-2.5zM324.9,491.2h2.9l-1.45,-2.5zM328.1,491.9h2.9l-1.45,-2.5zM321.8,491.9h2.9l-1.45,-2.5zM324.4,487.1h2.9l-1.45,-2.5zM325.5,487.1h2.9l-1.45,-2.5zM323.3,487.4h2.9l-1.45,-2.5zM326.6,487.4h2.9l-1.45,-2.5zM322.1,487.6h2.9l-1.45,-2.5zM327.8,487.6h2.9l-1.45,-2.5zM321.0,487.9h2.9l-1.45,-2.5zM328.9,487.9h2.9l-1.45,-2.5zM319.9,488.1h2.9l-1.45,-2.5zM330.0,488.1h2.9l-1.45,-2.5zM318.7,488.4h2.9l-1.45,-2.5zM331.2,488.4h2.9l-1.45,-2.5zM317.6,488.6h2.9l-1.45,-2.5zM332.3,488.6h2.9l-1.45,-2.5zM316.5,488.9h2.9l-1.45,-2.5zM333.4,488.9h2.9l-1.45,-2.5zM315.3,489.1h2.9l-1.45,-2.5zM334.6,489.1h2.9l-1.45,-2.5zM324.4,482.9h2.9l-1.45,-2.5zM325.5,482.9h2.9l-1.45,-2.5zM323.3,483.2h2.9l-1.45,-2.5zM326.6,483.2h2.9l-1.45,-2.5zM322.1,483.4h2.9l-1.45,-2.5zM327.8,483.4h2.9l-1.45,-2.5zM321.0,483.7h2.9l-1.45,-2.5zM328.9,483.7h2.9l-1.45,-2.5zM319.9,483.9h2.9l-1.45,-2.5zM330.0,483.9h2.9l-1.45,-2.5zM318.7,484.2h2.9l-1.45,-2.5zM331.2,484.2h2.9l-1.45,-2.5zM317.6,484.4h2.9l-1.45,-2.5zM332.3,484.4h2.9l-1.45,-2.5zM316.5,484.7h2.9l-1.45,-2.5zM333.4,484.7h2.9l-1.45,-2.5zM315.3,484.9h2.9l-1.45,-2.5zM334.6,484.9h2.9l-1.45,-2.5zM324.9,478.6h2.9l-1.45,-2.5zM326.1,478.9h2.9l-1.45,-2.5zM323.8,478.9h2.9l-1.45,-2.5zM327.3,479.1h2.9l-1.45,-2.5zM322.6,479.1h2.9l-1.45,-2.5zM328.6,479.4h2.9l-1.45,-2.5zM321.3,479.4h2.9l-1.45,-2.5zM329.8,479.6h2.9l-1.45,-2.5zM320.1,479.6h2.9l-1.45,-2.5zM330.9,479.9h2.9l-1.45,-2.5zM318.9,479.9h2.9l-1.45,-2.5zM332.1,480.2h2.9l-1.45,-2.5zM317.8,480.2h2.9l-1.45,-2.5zM333.3,480.4h2.9l-1.45,-2.5zM316.6,480.4h2.9l-1.45,-2.5zM334.6,480.7h2.9l-1.45,-2.5zM315.3,480.7h2.9l-1.45,-2.5zM324.2,474.6h2.9l-1.45,-2.5zM325.7,474.6h2.9l-1.45,-2.5zM322.7,474.9h2.9l-1.45,-2.5zM327.2,474.9h2.9l-1.45,-2.5zM321.3,475.2h2.9l-1.45,-2.5zM328.6,475.2h2.9l-1.45,-2.5zM319.8,475.5h2.9l-1.45,-2.5zM330.1,475.5h2.9l-1.45,-2.5zM318.3,475.9h2.9l-1.45,-2.5zM331.6,475.9h2.9l-1.45,-2.5zM316.8,476.2h2.9l-1.45,-2.5zM333.1,476.2h2.9l-1.45,-2.5zM315.3,476.5h2.9l-1.45,-2.5zM334.6,476.5h2.9l-1.45,-2.5zM323.9,470.4h2.9l-1.45,-2.5zM326.0,470.4h2.9l-1.45,-2.5zM321.8,470.9h2.9l-1.45,-2.5zM328.1,470.9h2.9l-1.45,-2.5zM319.6,471.4h2.9l-1.45,-2.5zM330.3,471.4h2.9l-1.45,-2.5zM317.5,471.8h2.9l-1.45,-2.5zM332.4,471.8h2.9l-1.45,-2.5zM315.3,472.3h2.9l-1.45,-2.5zM334.6,472.3h2.9l-1.45,-2.5zM324.9,466.0h2.9l-1.45,-2.5zM328.1,466.7h2.9l-1.45,-2.5zM321.8,466.7h2.9l-1.45,-2.5zM331.3,467.4h2.9l-1.45,-2.5zM318.6,467.4h2.9l-1.45,-2.5zM324.9,461.8h2.9l-1.45,-2.5zM328.1,462.5h2.9l-1.45,-2.5zM321.8,462.5h2.9l-1.45,-2.5zM323.3,457.9h2.9l-1.45,-2.5zM326.6,457.9h2.9l-1.45,-2.5zM320.1,458.6h2.9l-1.45,-2.5zM329.8,458.6h2.9l-1.45,-2.5zM324.9,453.4h2.9l-1.45,-2.5zM328.1,454.1h2.9l-1.45,-2.5zM321.8,454.1h2.9l-1.45,-2.5zM331.3,454.8h2.9l-1.45,-2.5zM318.6,454.8h2.9l-1.45,-2.5zM323.3,449.5h2.9l-1.45,-2.5zM326.6,449.5h2.9l-1.45,-2.5zM323.3,445.3h2.9l-1.45,-2.5zM326.6,445.3h2.9l-1.45,-2.5zM324.9,440.8h2.9l-1.45,-2.5zM324.9,428.2h2.9l-1.45,-2.5zM352.8,464.7h2.9l-1.45,-2.5zM353.1,468.2h2.9l-1.45,-2.5zM352.8,474.4h2.9l-1.45,-2.5zM349.4,478.7h2.9l-1.45,-2.5zM353.1,478.0h2.9l-1.45,-2.5zM356.3,478.7h2.9l-1.45,-2.5zM346.2,483.1h2.9l-1.45,-2.5zM349.9,482.7h2.9l-1.45,-2.5zM352.7,481.8h2.9l-1.45,-2.5zM356.0,483.0h2.9l-1.45,-2.5zM359.7,483.5h2.9l-1.45,-2.5zM341.6,488.1h2.9l-1.45,-2.5zM345.0,487.6h2.9l-1.45,-2.5zM347.9,487.0h2.9l-1.45,-2.5zM351.3,486.3h2.9l-1.45,-2.5zM354.6,486.0h2.9l-1.45,-2.5zM357.8,486.6h2.9l-1.45,-2.5zM361.1,486.9h2.9l-1.45,-2.5zM364.7,488.2h2.9l-1.45,-2.5zM348.3,489.8h2.9l-1.45,-2.5zM351.3,489.2h2.9l-1.45,-2.5zM354.4,489.1h2.9l-1.45,-2.5zM357.9,489.2h2.9l-1.45,-2.5zM380.7,410.1h2.9l-1.45,-2.5zM381.0,435.6h2.9l-1.45,-2.5zM379.2,474.7h2.9l-1.45,-2.5zM382.7,475.1h2.9l-1.45,-2.5zM377.5,479.2h2.9l-1.45,-2.5zM380.9,478.7h2.9l-1.45,-2.5zM384.0,478.7h2.9l-1.45,-2.5zM379.5,480.4h2.9l-1.45,-2.5zM382.5,480.9h2.9l-1.45,-2.5zM369.5,485.8h2.9l-1.45,-2.5zM372.7,485.7h2.9l-1.45,-2.5zM375.8,485.1h2.9l-1.45,-2.5zM379.1,484.2h2.9l-1.45,-2.5zM382.3,484.0h2.9l-1.45,-2.5zM386.2,484.8h2.9l-1.45,-2.5zM389.5,485.5h2.9l-1.45,-2.5zM392.6,486.5h2.9l-1.45,-2.5zM369.5,489.4h2.9l-1.45,-2.5zM372.8,489.3h2.9l-1.45,-2.5zM375.8,488.1h2.9l-1.45,-2.5zM379.5,488.0h2.9l-1.45,-2.5zM382.4,487.9h2.9l-1.45,-2.5zM385.7,488.9h2.9l-1.45,-2.5zM389.2,488.8h2.9l-1.45,-2.5zM392.7,489.3h2.9l-1.45,-2.5zM409.2,419.5h2.9l-1.45,-2.5zM409.1,438.3h2.9l-1.45,-2.5zM407.6,440.7h2.9l-1.45,-2.5zM410.8,441.3h2.9l-1.45,-2.5zM407.5,446.8h2.9l-1.45,-2.5zM410.4,446.2h2.9l-1.45,-2.5zM404.1,454.1h2.9l-1.45,-2.5zM407.2,453.4h2.9l-1.45,-2.5zM410.8,454.1h2.9l-1.45,-2.5zM414.1,454.0h2.9l-1.45,-2.5zM401.0,461.4h2.9l-1.45,-2.5zM403.8,460.8h2.9l-1.45,-2.5zM407.3,459.8h2.9l-1.45,-2.5zM410.6,460.1h2.9l-1.45,-2.5zM413.9,461.2h2.9l-1.45,-2.5zM417.3,461.3h2.9l-1.45,-2.5zM400.9,465.5h2.9l-1.45,-2.5zM404.0,464.9h2.9l-1.45,-2.5zM407.0,463.5h2.9l-1.45,-2.5zM410.4,464.3h2.9l-1.45,-2.5zM414.0,464.6h2.9l-1.45,-2.5zM417.1,465.0h2.9l-1.45,-2.5zM402.6,468.1h2.9l-1.45,-2.5zM405.4,467.4h2.9l-1.45,-2.5zM408.9,467.6h2.9l-1.45,-2.5zM412.3,467.8h2.9l-1.45,-2.5zM415.6,468.2h2.9l-1.45,-2.5zM402.6,473.0h2.9l-1.45,-2.5zM405.5,472.3h2.9l-1.45,-2.5zM409.1,471.7h2.9l-1.45,-2.5zM412.5,472.3h2.9l-1.45,-2.5zM415.5,472.7h2.9l-1.45,-2.5zM402.6,478.7h2.9l-1.45,-2.5zM405.6,477.5h2.9l-1.45,-2.5zM408.9,477.1h2.9l-1.45,-2.5zM412.5,478.3h2.9l-1.45,-2.5zM415.7,478.2h2.9l-1.45,-2.5zM400.4,483.2h2.9l-1.45,-2.5zM404.3,481.9h2.9l-1.45,-2.5zM407.3,481.6h2.9l-1.45,-2.5zM410.9,481.1h2.9l-1.45,-2.5zM413.6,482.5h2.9l-1.45,-2.5zM417.2,482.8h2.9l-1.45,-2.5zM405.8,484.6h2.9l-1.45,-2.5zM409.1,483.7h2.9l-1.45,-2.5zM412.0,484.0h2.9l-1.45,-2.5zM437.0,427.4h2.9l-1.45,-2.5zM433.7,435.5h2.9l-1.45,-2.5zM437.0,435.1h2.9l-1.45,-2.5zM440.2,435.6h2.9l-1.45,-2.5zM435.1,440.5h2.9l-1.45,-2.5zM438.6,440.3h2.9l-1.45,-2.5zM435.5,446.1h2.9l-1.45,-2.5zM438.9,446.8h2.9l-1.45,-2.5zM432.0,452.0h2.9l-1.45,-2.5zM435.6,451.1h2.9l-1.45,-2.5zM438.4,450.9h2.9l-1.45,-2.5zM442.1,451.4h2.9l-1.45,-2.5zM431.9,458.7h2.9l-1.45,-2.5zM435.3,458.6h2.9l-1.45,-2.5zM438.6,458.3h2.9l-1.45,-2.5zM442.1,459.4h2.9l-1.45,-2.5zM433.6,462.8h2.9l-1.45,-2.5zM437.3,463.0h2.9l-1.45,-2.5zM440.5,463.3h2.9l-1.45,-2.5zM431.9,468.7h2.9l-1.45,-2.5zM435.3,468.4h2.9l-1.45,-2.5zM438.4,468.6h2.9l-1.45,-2.5zM442.1,468.6h2.9l-1.45,-2.5zM432.3,473.8h2.9l-1.45,-2.5zM435.7,473.2h2.9l-1.45,-2.5zM438.9,473.2h2.9l-1.45,-2.5zM442.1,473.8h2.9l-1.45,-2.5zM431.8,477.1h2.9l-1.45,-2.5zM435.2,476.7h2.9l-1.45,-2.5zM438.6,476.9h2.9l-1.45,-2.5zM442.1,477.3h2.9l-1.45,-2.5zM435.3,479.6h2.9l-1.45,-2.5zM439.0,479.9h2.9l-1.45,-2.5zM435.5,483.6h2.9l-1.45,-2.5zM438.5,482.9h2.9l-1.45,-2.5zM435.2,484.8h2.9l-1.45,-2.5zM438.4,485.3h2.9l-1.45,-2.5z" fill="none" stroke="#b3284a" stroke-opacity="0.7" stroke-width="0.68"/>
<path d="M289.00,480.24H307.80M294.00,484.00H302.80M294.00,474.60H302.80M298.4,484.00V474.60" stroke="#111" stroke-width="1.35" fill="none"/>
<path d="M317.00,478.50H335.80M322.00,484.00H330.80M322.00,470.85H330.80M326.4,484.00V470.85" stroke="#111" stroke-width="1.35" fill="none"/>
<path d="M345.00,484.28H363.80M350.00,485.73H358.80M350.00,482.12H358.80M354.4,485.73V482.12" stroke="#111" stroke-width="1.35" fill="none"/>
<path d="M373.00,483.56H391.80M378.00,485.73H386.80M378.00,479.23H386.80M382.4,485.73V479.23" stroke="#111" stroke-width="1.35" fill="none"/>
<path d="M401.00,465.50H419.80M406.00,475.61H414.80M406.00,458.27H414.80M410.4,475.61V458.27" stroke="#111" stroke-width="1.35" fill="none"/>
<path d="M429.10,459.72H447.90M434.10,471.28H442.90M434.10,448.88H442.90M438.5,471.28V448.88" stroke="#111" stroke-width="1.35" fill="none"/>
<rect x="0" y="0" width="520" height="1" fill="#454545"/>
<rect x="0" y="1" width="520" height="0.6" fill="#8a8a8a"/>
<rect x="0" y="0" width="1" height="538" fill="#505050"/>
<rect x="1" y="0" width="0.6" height="538" fill="#909090"/>
<rect x="518.7" y="0" width="1.3" height="538" fill="#111"/>
<rect x="0" y="536.6" width="520" height="1.4" fill="#444"/>
</svg>
</body></html>
